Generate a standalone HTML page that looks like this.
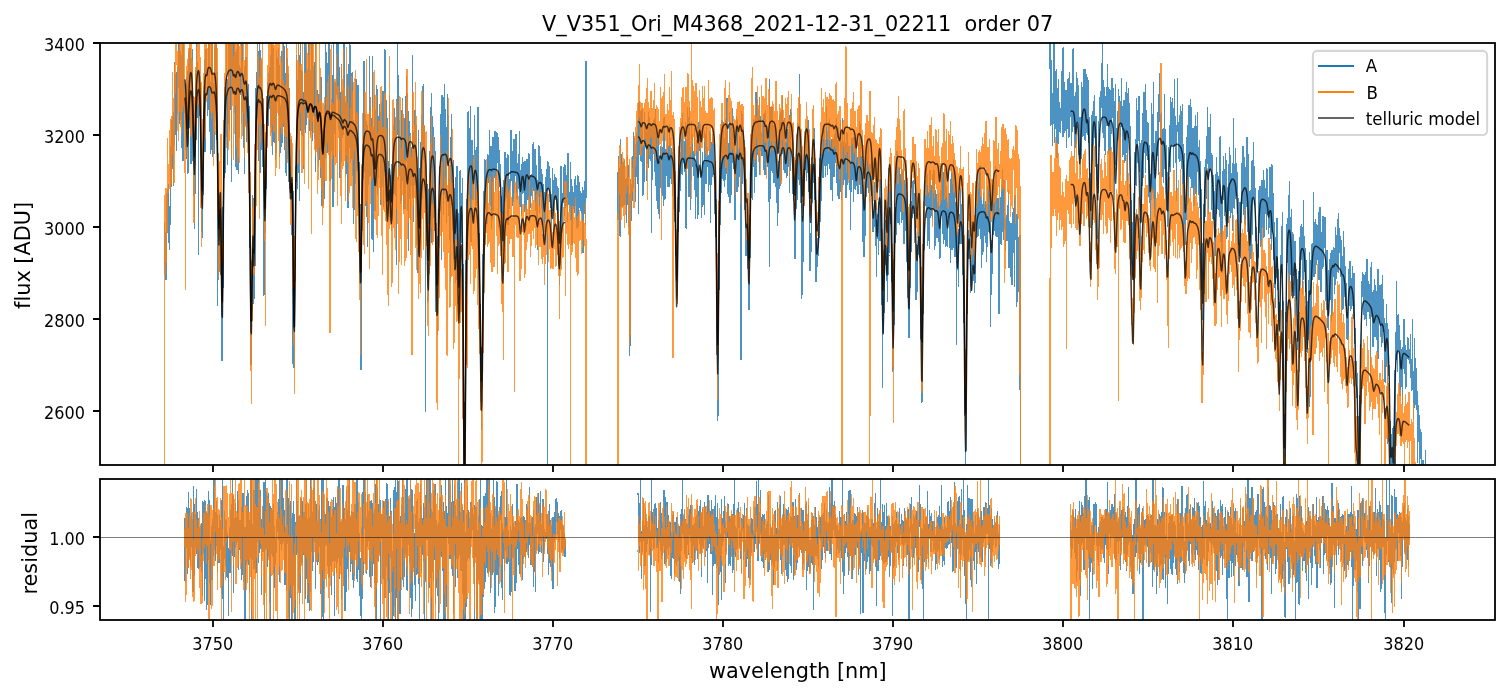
<!DOCTYPE html>
<html lang="en"><head><meta charset="utf-8"><title>V_V351_Ori_M4368_2021-12-31_02211 order 07</title>
<style>html,body{margin:0;padding:0;background:#fff}body{width:1510px;height:696px;overflow:hidden}svg{display:block}text{font-family:"DejaVu Sans","Liberation Sans",sans-serif;fill:#000;font-variant-ligatures:none;font-feature-settings:"liga" 0,"clig" 0}.t{font-size:16.67px}.l{font-size:20.83px}.A{stroke:#1f77b4}.B{stroke:#ff7f0e}.d{shape-rendering:crispEdges;fill:none;stroke-width:1.22;stroke-opacity:.8;stroke-linejoin:round}.m{fill:none;stroke:#000;stroke-width:1.45;stroke-opacity:.72;stroke-linejoin:round}.r{shape-rendering:crispEdges;fill:none;stroke-width:1.22;stroke-opacity:.8;stroke-linejoin:round}.s{fill:none;stroke:#000;stroke-width:1.8;stroke-linejoin:miter}.k{stroke:#000;stroke-width:1.8;fill:none}</style></head><body>
<svg width="1510" height="696" viewBox="0 0 1510 696">
<rect width="1510" height="696" fill="#fff"/>
<defs><clipPath id="c1"><rect x="100.0" y="43.0" width="1395.0" height="422.0"/></clipPath>
<clipPath id="c2"><rect x="100.0" y="479.0" width="1395.0" height="141.0"/></clipPath></defs>
<g clip-path="url(#c1)">
<path class="d A" d="M164.5,222.4 164.7,232.4 164.9,274.3 165.1,264.6 165.3,259.2 165.5,232.4 165.7,240.3 165.9,234.1 166.1,279.8 166.4,193.5 166.6,233.4 166.8,210.9 167,233.2 167.2,222.6 167.4,191.8 167.6,189.4 167.8,213.1 168,198.3 168.2,184.6 168.4,235.9 168.6,242 168.8,189.2 169,225.6 169.2,249.5 169.4,216.5 169.6,209.2 169.9,225.1 170.1,223.3 170.3,164.8 170.5,146.4 170.7,184.1 170.9,189.2 171.1,152.6 171.3,143.8 171.5,163.7 171.7,129.5 171.9,121 172.1,160.8 172.3,165.3 172.5,127.1 172.7,124.1 172.9,116.5 173.2,185.8 173.4,166.7 173.6,173.6 173.8,181.7 174,112.9 174.2,111.5 174.4,131.4 174.6,62.5 174.8,75.6 175,82.8 175.2,84.7 175.4,87 175.6,134.8 175.8,74.7 176,94.4 176.2,150.3 176.4,90.9 176.7,100.7 176.9,72.9 177.1,112.7 177.3,93 177.5,90.6 177.7,114.4 177.9,67.6 178.1,81.4 178.3,69.4 178.5,86.9 178.7,33 178.9,57.8 179.1,81 179.3,49.2 179.5,28.2 179.7,36.3 179.9,123.3 180.2,51.4 180.4,66.8 180.6,91.3 180.8,105 181,55.3 181.2,123.2 181.4,63.2 181.6,64.5 181.8,147.3 182,114.5 182.2,134.1 182.4,79 182.6,35.8 182.8,49.7 183,160.7 183.2,111.4 183.4,67.4 183.7,41.4 183.9,81.7 184.1,111.7 184.3,85.5 184.5,96.5 184.7,107.4 184.9,112.3 185.1,84.6 185.3,89 185.5,106.7 185.7,119.9 185.9,149.1 186.1,115.3 186.3,77.7 186.5,131.8 186.7,158.3 186.9,83.1 187.2,97.2 187.4,71.5 187.6,139.4 187.8,160.2 188,173.2 188.2,72.1 188.4,51.5 188.6,150.2 188.8,126.1 189,90.9 189.2,127.1 189.4,102.8 189.6,98.3 189.8,72.7 190,48.5 190.2,81.8 190.5,63.9 190.7,92.3 190.9,94.7 191.1,163.8 191.3,128.3 191.5,70.1 191.7,96.8 191.9,58.6 192.1,68.2 192.3,49.6 192.5,77.6 192.7,79.1 192.9,129 193.1,160.5 193.3,172.2 193.5,175.6 193.7,195.5 194,178 194.2,173.6 194.4,165.2 194.6,201.6 194.8,228.6 195,164.4 195.2,141.1 195.4,110 195.6,122.4 195.8,157.2 196,123.7 196.2,46.5 196.4,68.8 196.6,28.7 196.8,34.5 197,117.4 197.2,78.3 197.5,72 197.7,62.3 197.9,69.9 198.1,79.5 198.3,254.4 198.5,139.3 198.7,101.2 198.9,114.6 199.1,98.4 199.3,115.3 199.5,85.2 199.7,89.5 199.9,105.9 200.1,109.5 200.3,128.1 200.5,152.8 200.7,149.3 201,158.1 201.2,150.3 201.4,169.6 201.6,180.7 201.8,231.3 202,179 202.2,237.1 202.4,229.9 202.6,211 202.8,208.8 203,177.4 203.2,194 203.4,194.8 203.6,154.9 203.8,86.1 204,124 204.3,147.1 204.5,122.8 204.7,143.8 204.9,60.6 205.1,151.8 205.3,90.5 205.5,102.3 205.7,148.2 205.9,71.3 206.1,49.1 206.3,70 206.5,68.4 206.7,53.7 206.9,76.7 207.1,75.2 207.3,89.8 207.5,80 207.8,115 208,70.6 208.2,109.7 208.4,109.8 208.6,49.4 208.8,23 209,42.2 209.2,81.1 209.4,42.5 209.6,82.7 209.8,78.1 210,93.7 210.2,153.9 210.4,82.3 210.6,117.4 210.8,123.4 211,149.3 211.3,144.1 211.5,114.4 211.7,53.9 211.9,36.6 212.1,83.6 212.3,51.2 212.5,115.4 212.7,156.4 212.9,87.2 213.1,86.9 213.3,112.2 213.5,83.2 213.7,93.1 213.9,141.9 214.1,153.8 214.3,109.3 214.5,110.5 214.8,99.5 215,52.1 215.2,43.4 215.4,104.6 215.6,59.6 215.8,49.3 216,54.8 216.2,65.1 216.4,105.6 216.6,67 216.8,43.2 217,105.8 217.2,160.5 217.4,305.2 217.6,134.9 217.8,191.5 218,215 218.3,188.3 218.5,278.9 218.7,238.6 218.9,260.3 219.1,271.5 219.3,199.5 219.5,229.9 219.7,250.2 219.9,193.3 220.1,234.9 220.3,274.1 220.5,234.7 220.7,207.7 220.9,217.3 221.1,247.5 221.3,268.8 221.6,281 221.8,305.3 222,360.9 222.2,319.9 222.4,306.5 222.6,297.7 222.8,317.7 223,261.2 223.2,180.6 223.4,200.5 223.6,199.5 223.8,167.6 224,178.2 224.2,150.6 224.4,165.5 224.6,147.3 224.8,175 225.1,87.5 225.3,154.6 225.5,172.4 225.7,125 225.9,119.4 226.1,109.4 226.3,136.6 226.5,49.6 226.7,23 226.9,124.2 227.1,84.2 227.3,107.7 227.5,103.6 227.7,164.1 227.9,126.8 228.1,79.1 228.3,81.1 228.6,40.7 228.8,111.3 229,61.3 229.2,23 229.4,130.9 229.6,127.3 229.8,98.4 230,84.9 230.2,62 230.4,90.6 230.6,109.6 230.8,51.4 231,23 231.2,62.8 231.4,181.9 231.6,94.4 231.8,106 232.1,65.4 232.3,80.8 232.5,23 232.7,52.5 232.9,61.8 233.1,87 233.3,94.6 233.5,67 233.7,35.8 233.9,69.1 234.1,88.1 234.3,31.5 234.5,70.7 234.7,83.4 234.9,113 235.1,111.6 235.4,129.1 235.6,166 235.8,52.2 236,71.1 236.2,86.3 236.4,49.4 236.6,65.9 236.8,94.1 237,169.8 237.2,86.9 237.4,54.6 237.6,23 237.8,23 238,57.2 238.2,152 238.4,173.8 238.6,84.1 238.9,93.8 239.1,65.8 239.3,97.7 239.5,99.9 239.7,137.8 239.9,67.9 240.1,94.7 240.3,71.3 240.5,75.1 240.7,93.9 240.9,77.8 241.1,94.1 241.3,73 241.5,87.5 241.7,123.7 241.9,101 242.1,39.2 242.4,89.6 242.6,49.3 242.8,81 243,111.4 243.2,106.2 243.4,81.8 243.6,79.6 243.8,89.7 244,147.6 244.2,121 244.4,88.7 244.6,67 244.8,173.9 245,82 245.2,106.8 245.4,83.3 245.6,107.6 245.9,80.9 246.1,57.2 246.3,96.2 246.5,97.8 246.7,108.7 246.9,141.7 247.1,107.3 247.3,131 247.5,142.1 247.7,124.9 247.9,120.6 248.1,98.5 248.3,129.9 248.5,130.2 248.7,84.2 248.9,105.9 249.1,116.7 249.4,165.4 249.6,209.7 249.8,236.7 250,247.9 250.2,236 250.4,298.1 250.6,349.7 250.8,329.7 251,364.7 251.2,330.3 251.4,364.2 251.6,346.9 251.8,290.9 252,294.2 252.2,310 252.4,222.7 252.7,195.2 252.9,280.1 253.1,198.5 253.3,276 253.5,277.1 253.7,285.1 253.9,303.6 254.1,234.8 254.3,260.7 254.5,281.2 254.7,262.1 254.9,271.5 255.1,203.1 255.3,158.1 255.5,214.8 255.7,152.4 255.9,117.3 256.2,79.2 256.4,72.7 256.6,132.2 256.8,132.6 257,97.1 257.2,118.7 257.4,103.6 257.6,48.1 257.8,42.3 258,89.4 258.2,93.3 258.4,91.6 258.6,160.4 258.8,103.8 259,112.9 259.2,23 259.4,74 259.7,97.8 259.9,124 260.1,172.7 260.3,57.8 260.5,50.2 260.7,122.8 260.9,80 261.1,95 261.3,149.3 261.5,63.4 261.7,60.8 261.9,99.5 262.1,103.8 262.3,92.4 262.5,165.9 262.7,105.2 262.9,99.4 263.2,164.1 263.4,111.3 263.6,179.3 263.8,231.1 264,295.2 264.2,211.2 264.4,198.5 264.6,236.3 264.8,184.1 265,232.8 265.2,203 265.4,226.3 265.6,207.1 265.8,148.5 266,171.8 266.2,188.4 266.5,183.3 266.7,96.5 266.9,103.4 267.1,119.7 267.3,105.9 267.5,145.4 267.7,139 267.9,121.8 268.1,82.3 268.3,100.9 268.5,125 268.7,75 268.9,73.6 269.1,85.5 269.3,67.9 269.5,108.8 269.7,102.4 270,81.4 270.2,92.7 270.4,83.4 270.6,127.5 270.8,55.7 271,122.9 271.2,106.6 271.4,132.3 271.6,61.8 271.8,40.8 272,48.3 272.2,76.3 272.4,154 272.6,124.6 272.8,118.3 273,107.3 273.2,48.8 273.5,92.4 273.7,95.2 273.9,93.2 274.1,142.1 274.3,141.7 274.5,140.9 274.7,97.2 274.9,100.8 275.1,87.2 275.3,89 275.5,159.1 275.7,123.3 275.9,111.2 276.1,152.6 276.3,105.8 276.5,50.9 276.7,50.3 277,62.8 277.2,96.8 277.4,92 277.6,59 277.8,101.7 278,75.4 278.2,48.6 278.4,106.4 278.6,114.5 278.8,86.9 279,65.8 279.2,78.1 279.4,80.8 279.6,90 279.8,156.4 280,125.7 280.2,105.3 280.5,144.9 280.7,152.1 280.9,147.5 281.1,130.8 281.3,113.4 281.5,129.1 281.7,79.2 281.9,51.2 282.1,101.8 282.3,59.4 282.5,99.4 282.7,142.4 282.9,113.9 283.1,116.3 283.3,69.9 283.5,114.4 283.8,41.9 284,88.5 284.2,150 284.4,55.9 284.6,46.8 284.8,106.8 285,73.8 285.2,148.7 285.4,100.7 285.6,141.1 285.8,81.2 286,168.1 286.2,175.6 286.4,52.3 286.6,23 286.8,96.2 287,58.6 287.3,96.8 287.5,112.8 287.7,80.3 287.9,74.5 288.1,159 288.3,110.7 288.5,144.8 288.7,181.4 288.9,88 289.1,103.3 289.3,182.1 289.5,129.9 289.7,187.2 289.9,186.3 290.1,148.5 290.3,183.7 290.5,176.5 290.8,143.3 291,139.6 291.2,166.9 291.4,234.9 291.6,223.4 291.8,152.1 292,208.5 292.2,183.6 292.4,363.2 292.6,218.1 292.8,246.4 293,191.1 293.2,287.4 293.4,285.8 293.6,299.7 293.8,291.6 294,367.6 294.3,332.2 294.5,323.1 294.7,288 294.9,265.4 295.1,267.7 295.3,228.6 295.5,219.9 295.7,174.7 295.9,179.3 296.1,173.6 296.3,147.7 296.5,102.3 296.7,55.2 296.9,129.1 297.1,89.9 297.3,80.7 297.6,188.8 297.8,171.3 298,149 298.2,95 298.4,23 298.6,80 298.8,60.4 299,128.1 299.2,200.3 299.4,165 299.6,55.3 299.8,102.1 300,128.5 300.2,61.9 300.4,130.5 300.6,34.9 300.8,48.7 301.1,126.8 301.3,120.2 301.5,71 301.7,130 301.9,84.5 302.1,135.2 302.3,71.1 302.5,103.9 302.7,123.6 302.9,135 303.1,113.8 303.3,168.1 303.5,119.5 303.7,111.7 303.9,92.5 304.1,129.3 304.3,50.2 304.6,121 304.8,126.8 305,40 305.2,50.4 305.4,112.7 305.6,132.2 305.8,102.7 306,125.2 306.2,99.3 306.4,47.3 306.6,85.6 306.8,91.5 307,89.2 307.2,95.3 307.4,69.3 307.6,76.2 307.8,109.4 308.1,78.7 308.3,23 308.5,91.4 308.7,90.4 308.9,27.5 309.1,105.6 309.3,130.6 309.5,78 309.7,129.9 309.9,111.5 310.1,90.7 310.3,115.5 310.5,134.2 310.7,129.6 310.9,114.6 311.1,70.3 311.3,130.4 311.6,99.5 311.8,32.3 312,102.9 312.2,34.6 312.4,56.6 312.6,115.2 312.8,140.6 313,83.8 313.2,76.4 313.4,78.3 313.6,101.2 313.8,66.6 314,75.8 314.2,139 314.4,62.7 314.6,113.2 314.9,131.3 315.1,103 315.3,36.6 315.5,90.6 315.7,171.1 315.9,110 316.1,107.5 316.3,113.9 316.5,132.8 316.7,148.2 316.9,90.4 317.1,147.7 317.3,133.3 317.5,153.9 317.7,150.9 317.9,109.7 318.1,129.3 318.4,165.3 318.6,160.6 318.8,134.4 319,94.7 319.2,118.1 319.4,114.8 319.6,135.6 319.8,127.3 320,130.7 320.2,177.5 320.4,77.5 320.6,159.1 320.8,139.4 321,77.8 321.2,125.9 321.4,147.4 321.6,176.2 321.9,205.1 322.1,140.5 322.3,130.1 322.5,187.9 322.7,133.7 322.9,206.2 323.1,181.3 323.3,138.1 323.5,144.4 323.7,130.4 323.9,168.1 324.1,182.6 324.3,198.2 324.5,171.9 324.7,167.9 324.9,161.5 325.1,104.9 325.4,147.8 325.6,152.2 325.8,24.4 326,133.6 326.2,129.8 326.4,52.8 326.6,69.7 326.8,148.2 327,152.3 327.2,125 327.4,63.4 327.6,112.5 327.8,119.7 328,90.7 328.2,73.7 328.4,151.3 328.7,132.3 328.9,137.8 329.1,28.6 329.3,48.9 329.5,83.4 329.7,115.3 329.9,112.3 330.1,181.1 330.3,116.1 330.5,164.9 330.7,163 330.9,141.8 331.1,131.3 331.3,105.4 331.5,99.6 331.7,123.5 331.9,150.9 332.2,97.9 332.4,113.9 332.6,75.9 332.8,156.9 333,206.5 333.2,114 333.4,39.1 333.6,99.4 333.8,113.9 334,82.2 334.2,96 334.4,103.1 334.6,130.9 334.8,113.8 335,113.9 335.2,145.7 335.4,156.4 335.7,104.8 335.9,82.9 336.1,91 336.3,90.6 336.5,73.7 336.7,26.4 336.9,94.4 337.1,55.7 337.3,38.9 337.5,98.3 337.7,82.9 337.9,59.1 338.1,42.5 338.3,85 338.5,88.7 338.7,102.8 338.9,129.1 339.2,68 339.4,119.7 339.6,160.1 339.8,122.1 340,177.5 340.2,145.4 340.4,122.7 340.6,136.3 340.8,92.7 341,161.3 341.2,102.9 341.4,79.7 341.6,64.8 341.8,89 342,112 342.2,123.1 342.4,122 342.7,91.7 342.9,137.9 343.1,93.9 343.3,109.2 343.5,104.2 343.7,95 343.9,33.2 344.1,124.7 344.3,102.2 344.5,105.6 344.7,100.5 344.9,102.4 345.1,102.4 345.3,107.1 345.5,176.4 345.7,131.9 346,157.5 346.2,118 346.4,173.1 346.6,152.4 346.8,112.7 347,74.4 347.2,107.7 347.4,112.3 347.6,93.8 347.8,175.1 348,207.6 348.2,147.1 348.4,129.5 348.6,64.6 348.8,64.7 349,148.1 349.2,27.7 349.5,64.7 349.7,93.2 349.9,88.9 350.1,45.3 350.3,125.7 350.5,136.5 350.7,130 350.9,162.5 351.1,106.5 351.3,121.5 351.5,100.3 351.7,108.3 351.9,137.1 352.1,72.8 352.3,139 352.5,99.5 352.7,175.1 353,120.3 353.2,162.8 353.4,142.1 353.6,181.2 353.8,223.7 354,175.5 354.2,124.9 354.4,124.4 354.6,198.8 354.8,209.7 355,162.2 355.2,139.1 355.4,152.9 355.6,140.7 355.8,85.6 356,79.8 356.2,104.3 356.5,153.7 356.7,124 356.9,143.4 357.1,170.6 357.3,98.4 357.5,134.7 357.7,139.6 357.9,85.4 358.1,108.9 358.3,107 358.5,105.3 358.7,146.7 358.9,206.6 359.1,175.6 359.3,162.4 359.5,233.3 359.8,221.8 360,220 360.2,204.1 360.4,227.4 360.6,251.2 360.8,268.1 361,369.6 361.2,234.5 361.4,228.9 361.6,175.7 361.8,195.7 362,210.4 362.2,146.5 362.4,169.2 362.6,147.2 362.8,194.9 363,143.9 363.3,176.7 363.5,178.1 363.7,175.1 363.9,61.4 364.1,139.9 364.3,120.8 364.5,91.8 364.7,125 364.9,123.2 365.1,172.1 365.3,122.7 365.5,138 365.7,114.6 365.9,148.1 366.1,205.7 366.3,216 366.5,175.6 366.8,121.5 367,130.1 367.2,146.7 367.4,239.6 367.6,246.1 367.8,168.7 368,158.4 368.2,160.9 368.4,132.3 368.6,159.2 368.8,184.6 369,168.6 369.2,133 369.4,138 369.6,118.4 369.8,56.3 370,144 370.3,146 370.5,175.6 370.7,146.9 370.9,117.6 371.1,128.7 371.3,154.1 371.5,134.2 371.7,156.3 371.9,236.3 372.1,239.1 372.3,56.7 372.5,112.3 372.7,159.4 372.9,217.5 373.1,183.1 373.3,128 373.5,251.8 373.8,161.8 374,131.6 374.2,154.5 374.4,140.5 374.6,149.1 374.8,94.1 375,210.8 375.2,206.2 375.4,138.2 375.6,110.3 375.8,150.9 376,128.3 376.2,185.6 376.4,185.9 376.6,91.3 376.8,85.5 377.1,97.9 377.3,172.3 377.5,194.7 377.7,184 377.9,145 378.1,116.7 378.3,127 378.5,177.2 378.7,121 378.9,129.3 379.1,131 379.3,134.6 379.5,130.3 379.7,104.2 379.9,123.8 380.1,127.6 380.3,148.5 380.6,113 380.8,151.3 381,204.8 381.2,123.7 381.4,138.5 381.6,102.5 381.8,141 382,135.5 382.2,123.4 382.4,137.9 382.6,172.7 382.8,186.6 383,91.8 383.2,206.8 383.4,157.5 383.6,130.4 383.8,134.8 384.1,118.2 384.3,111.7 384.5,97.9 384.7,105.6 384.9,49.6 385.1,171.6 385.3,131.2 385.5,157.5 385.7,153 385.9,121.3 386.1,100.6 386.3,185.8 386.5,187.3 386.7,147.5 386.9,151.2 387.1,118.9 387.3,164.6 387.6,196.8 387.8,197.6 388,173.5 388.2,190.7 388.4,213.6 388.6,161.6 388.8,162.1 389,167.7 389.2,159.9 389.4,95.2 389.6,136.5 389.8,145 390,209.3 390.2,221.9 390.4,196.7 390.6,187.9 390.8,210.3 391.1,196.3 391.3,164.2 391.5,195.6 391.7,230.9 391.9,210.2 392.1,209.4 392.3,187 392.5,220.1 392.7,164.6 392.9,138.9 393.1,171 393.3,193.3 393.5,171.1 393.7,146.2 393.9,125.2 394.1,130.6 394.4,174.4 394.6,193.6 394.8,108.7 395,146.9 395.2,136.2 395.4,154.8 395.6,195.9 395.8,165.4 396,131.7 396.2,109.8 396.4,177.5 396.6,264.8 396.8,153.1 397,119.4 397.2,90.5 397.4,95 397.6,39.7 397.9,75.1 398.1,82.1 398.3,114.5 398.5,179.8 398.7,97.1 398.9,121.5 399.1,152.4 399.3,120.4 399.5,143.5 399.7,175.2 399.9,165.4 400.1,161.9 400.3,143.9 400.5,155.5 400.7,136.9 400.9,203.9 401.1,152.5 401.4,190.5 401.6,140.9 401.8,110.4 402,135.8 402.2,140.7 402.4,126.2 402.6,98.1 402.8,180.2 403,132.5 403.2,209.9 403.4,164.8 403.6,145 403.8,161.8 404,118.4 404.2,118.3 404.4,181.1 404.6,138 404.9,160.2 405.1,208.7 405.3,153.5 405.5,163.6 405.7,106.1 405.9,160.4 406.1,96.2 406.3,161.8 406.5,76.2 406.7,135 406.9,131.1 407.1,118 407.3,114.9 407.5,93.7 407.7,94.2 407.9,179.3 408.2,222.2 408.4,250.9 408.6,157.4 408.8,111.1 409,132.5 409.2,144.3 409.4,168.3 409.6,176 409.8,167 410,164.3 410.2,219.7 410.4,133.9 410.6,205.5 410.8,162.9 411,174.4 411.2,161.1 411.4,185.3 411.7,183.5 411.9,166.7 412.1,161.8 412.3,55.7 412.5,158.6 412.7,165.4 412.9,163.5 413.1,194.8 413.3,221.1 413.5,141.7 413.7,132.5 413.9,188.1 414.1,142.3 414.3,179.6 414.5,130.7 414.7,117 414.9,110.5 415.2,131.9 415.4,162.9 415.6,117.4 415.8,152.6 416,125 416.2,244.4 416.4,172.3 416.6,196.7 416.8,150.6 417,221.8 417.2,224.6 417.4,224.2 417.6,168.8 417.8,225.2 418,273 418.2,166.2 418.4,130.4 418.7,168 418.9,250 419.1,237.1 419.3,215.5 419.5,205.3 419.7,233.8 419.9,243.1 420.1,168.2 420.3,175.4 420.5,218.8 420.7,175.6 420.9,146.5 421.1,144.6 421.3,124.8 421.5,115.5 421.7,137.7 421.9,170.3 422.2,198.8 422.4,125 422.6,91.7 422.8,86.5 423,159.4 423.2,136.8 423.4,84.5 423.6,92 423.8,129.7 424,126.4 424.2,174 424.4,139.1 424.6,183.1 424.8,163.6 425,170.3 425.2,193.4 425.5,411.1 425.7,191.1 425.9,167.5 426.1,189.5 426.3,195.6 426.5,168.8 426.7,165.2 426.9,183.9 427.1,241.8 427.3,222.2 427.5,252.1 427.7,286.4 427.9,302.8 428.1,271.6 428.3,273.8 428.5,189.4 428.7,249.7 429,246.8 429.2,219.2 429.4,151.4 429.6,229.6 429.8,195.6 430,197.5 430.2,170.9 430.4,149.6 430.6,130.6 430.8,204.6 431,138.5 431.2,93.5 431.4,169.2 431.6,164.6 431.8,205.4 432,242.2 432.2,147.7 432.5,116.2 432.7,190.2 432.9,222.4 433.1,158.4 433.3,161.9 433.5,127.8 433.7,140.7 433.9,180.4 434.1,180.7 434.3,230.6 434.5,137.3 434.7,166.7 434.9,150.6 435.1,169.5 435.3,221.2 435.5,229.6 435.7,277.1 436,311.5 436.2,250.5 436.4,261.9 436.6,300.9 436.8,260.5 437,285.9 437.2,286.4 437.4,326.4 437.6,334.5 437.8,239.1 438,236.4 438.2,245.3 438.4,245.4 438.6,222.2 438.8,209.1 439,223.1 439.3,247.3 439.5,167 439.7,239.3 439.9,186.9 440.1,182.5 440.3,174.4 440.5,210.3 440.7,114.2 440.9,129.5 441.1,116.6 441.3,116 441.5,207.1 441.7,259.7 441.9,129.7 442.1,95 442.3,107.9 442.5,165.1 442.8,145.5 443,146.7 443.2,214.1 443.4,173.7 443.6,152.2 443.8,97.7 444,157.1 444.2,95.9 444.4,172.2 444.6,194.5 444.8,84.4 445,183.2 445.2,127.7 445.4,109.9 445.6,198.6 445.8,197.1 446,127.6 446.3,182.4 446.5,222.8 446.7,204.5 446.9,164.1 447.1,128 447.3,163.7 447.5,122.6 447.7,94.8 447.9,115.3 448.1,115.4 448.3,148.1 448.5,215.7 448.7,130.4 448.9,165.4 449.1,175.6 449.3,208.9 449.5,220.7 449.8,193.6 450,171.7 450.2,281.8 450.4,185.7 450.6,176.4 450.8,137.9 451,169.8 451.2,151.8 451.4,114.6 451.6,168.8 451.8,160.2 452,204.3 452.2,163.7 452.4,172.1 452.6,182.3 452.8,213.3 453,229.3 453.3,204.3 453.5,202.4 453.7,160.4 453.9,188.2 454.1,242.8 454.3,195.4 454.5,224 454.7,206.9 454.9,246.6 455.1,259 455.3,177.8 455.5,214.6 455.7,269.9 455.9,282.4 456.1,245.3 456.3,264.5 456.6,222.4 456.8,184.5 457,166.3 457.2,216.9 457.4,274.7 457.6,197.7 457.8,268.1 458,303.5 458.2,239.1 458.4,249.8 458.6,213.9 458.8,241.1 459,253.3 459.2,241.4 459.4,309 459.6,258.1 459.8,241.6 460.1,170.7 460.3,235.4 460.5,312.5 460.7,180.1 460.9,241.5 461.1,193.7 461.3,231 461.5,206.8 461.7,200.1 461.9,226.2 462.1,243.2 462.3,178.2 462.5,228.3 462.7,256.3 462.9,263.6 463.1,306.3 463.3,274.2 463.6,361.2 463.8,394.7 464,437.2 464.2,485 464.4,485 464.6,465.6 464.8,446.5 465,402.4 465.2,403.4 465.4,404.1 465.6,322.8 465.8,290 466,260.5 466.2,269.5 466.4,279.2 466.6,203.5 466.8,234.9 467.1,199.1 467.3,233.2 467.5,167.4 467.7,200.9 467.9,133.6 468.1,111.8 468.3,154.4 468.5,224.9 468.7,220.2 468.9,204.9 469.1,151.4 469.3,155.2 469.5,157.5 469.7,148.7 469.9,138.5 470.1,130.2 470.4,106.5 470.6,161.4 470.8,172.3 471,241.7 471.2,215.9 471.4,200.7 471.6,198.7 471.8,149.1 472,140.5 472.2,191.7 472.4,192.6 472.6,192.1 472.8,179.8 473,199.4 473.2,165.3 473.4,164.7 473.6,163.3 473.9,155.1 474.1,177.4 474.3,158.3 474.5,116.1 474.7,170.7 474.9,149.9 475.1,177.8 475.3,195.1 475.5,198.9 475.7,205.3 475.9,189.2 476.1,205.5 476.3,190.5 476.5,147.4 476.7,183.8 476.9,155.7 477.1,180.5 477.4,173.1 477.6,211 477.8,164.7 478,107.6 478.2,163.3 478.4,166.6 478.6,189.9 478.8,196.8 479,267.7 479.2,267.3 479.4,239.9 479.6,251.1 479.8,300 480,308.6 480.2,333.7 480.4,349.5 480.6,393.6 480.9,402 481.1,385.7 481.3,429 481.5,411 481.7,399.9 481.9,390.6 482.1,347.5 482.3,350.9 482.5,330.8 482.7,333 482.9,305.9 483.1,254.3 483.3,251.9 483.5,256.5 483.7,221 483.9,213.9 484.1,194 484.4,159.3 484.6,203 484.8,175.5 485,177.5 485.2,200.4 485.4,208.5 485.6,160.2 485.8,166.1 486,172 486.2,172.1 486.4,177.5 486.6,193 486.8,179.4 487,223.4 487.2,190.9 487.4,215.3 487.7,176.2 487.9,155 488.1,181.7 488.3,178.3 488.5,156 488.7,177.2 488.9,182.4 489.1,174.4 489.3,130.6 489.5,148.2 489.7,170.8 489.9,203.1 490.1,166.1 490.3,205.2 490.5,169.7 490.7,191.3 490.9,146.4 491.2,215.5 491.4,146.3 491.6,175.7 491.8,228.5 492,179.4 492.2,137.8 492.4,161.1 492.6,219 492.8,196.3 493,210.3 493.2,206.1 493.4,186.5 493.6,137.4 493.8,174.6 494,178.1 494.2,172.7 494.4,145.4 494.7,151.3 494.9,171 495.1,131.3 495.3,189.1 495.5,170.8 495.7,148.8 495.9,137.3 496.1,179.3 496.3,156.3 496.5,137.4 496.7,146.1 496.9,132.7 497.1,139.3 497.3,155.5 497.5,150.1 497.7,150.1 497.9,162.9 498.2,151.5 498.4,226.3 498.6,189.4 498.8,137.6 499,162.9 499.2,184 499.4,159 499.6,152.3 499.8,186.3 500,164.7 500.2,187.9 500.4,189.3 500.6,185.8 500.8,175.1 501,221.9 501.2,204.7 501.5,196.7 501.7,246.8 501.9,250.4 502.1,215.1 502.3,236.8 502.5,241.3 502.7,245 502.9,250.7 503.1,187.4 503.3,260.2 503.5,246.8 503.7,256.3 503.9,222.3 504.1,180 504.3,199.3 504.5,189.7 504.7,195.8 505,152.7 505.2,186.2 505.4,201.8 505.6,162.6 505.8,181.4 506,158.2 506.2,165.2 506.4,165 506.6,174.9 506.8,197.3 507,197.6 507.2,154.8 507.4,179.1 507.6,175.2 507.8,195.8 508,224.7 508.2,197.7 508.5,155.2 508.7,196.1 508.9,191.8 509.1,208.2 509.3,189.3 509.5,188.4 509.7,180.9 509.9,179.3 510.1,185.6 510.3,180.2 510.5,171.7 510.7,164.8 510.9,159.3 511.1,130.1 511.3,162.8 511.5,170.5 511.7,180.2 512,151.7 512.2,196.5 512.4,205.8 512.6,189.4 512.8,166 513,187.9 513.2,146.6 513.4,180.2 513.6,201.9 513.8,167.2 514,139 514.2,192.2 514.4,190.9 514.6,151.7 514.8,139.5 515,154.1 515.2,175.7 515.5,164.2 515.7,159.6 515.9,139.8 516.1,134 516.3,173.5 516.5,153.7 516.7,179.8 516.9,172.3 517.1,199.2 517.3,189.7 517.5,175.3 517.7,189.4 517.9,164 518.1,188.2 518.3,175.7 518.5,180 518.8,185.3 519,171.7 519.2,146 519.4,131.6 519.6,206.8 519.8,184.9 520,199 520.2,204.3 520.4,188.9 520.6,206.5 520.8,183.8 521,170.3 521.2,215.6 521.4,171 521.6,175.4 521.8,193.3 522,164.5 522.3,166.5 522.5,172.9 522.7,157.5 522.9,193.3 523.1,162 523.3,180.7 523.5,192 523.7,182.9 523.9,183.3 524.1,174.4 524.3,211.6 524.5,189.9 524.7,183.1 524.9,161.4 525.1,194.6 525.3,166.8 525.5,209.3 525.8,173.5 526,181.6 526.2,179.6 526.4,202.9 526.6,225.6 526.8,205.2 527,158.9 527.2,183.8 527.4,194.8 527.6,171.1 527.8,198 528,199.2 528.2,199.3 528.4,154.3 528.6,153.7 528.8,198.1 529,172.5 529.3,156.1 529.5,154.9 529.7,222.9 529.9,176 530.1,176.9 530.3,207.1 530.5,175.8 530.7,176.8 530.9,175.4 531.1,191.9 531.3,177.1 531.5,192 531.7,174.7 531.9,184.9 532.1,196.1 532.3,198 532.6,144.1 532.8,152.9 533,161.5 533.2,185.3 533.4,172.5 533.6,142.2 533.8,165.1 534,190.3 534.2,175.6 534.4,174.2 534.6,183 534.8,184.4 535,149.6 535.2,167 535.4,189.3 535.6,210.1 535.8,190.3 536.1,177.4 536.3,169.6 536.5,186.5 536.7,165.7 536.9,189.1 537.1,215.9 537.3,249.7 537.5,224.4 537.7,223.7 537.9,198.2 538.1,181 538.3,165.6 538.5,191.7 538.7,193 538.9,145.6 539.1,183.1 539.3,194.6 539.6,202.1 539.8,212.5 540,181.7 540.2,179.4 540.4,156.7 540.6,166.2 540.8,168.7 541,169.7 541.2,194.3 541.4,191.8 541.6,193.7 541.8,208.1 542,190 542.2,188.5 542.4,174.3 542.6,198 542.8,224.5 543.1,188.9 543.3,184.7 543.5,238.5 543.7,218.6 543.9,213.2 544.1,231.8 544.3,218.4 544.5,213.1 544.7,224.9 544.9,192.8 545.1,196.4 545.3,218.4 545.5,191.5 545.7,177.6 545.9,190.8 546.1,181.8 546.3,182.3 546.6,189.5 546.8,169.4 547,181.2 547.2,196.4 547.4,485 547.6,161.8 547.8,167.9 548,189.1 548.2,169.1 548.4,163.6 548.6,177.1 548.8,162.4 549,169.5 549.2,188.8 549.4,183.6 549.6,195.6 549.9,177.7 550.1,202 550.3,207.8 550.5,199.4 550.7,200.3 550.9,194.1 551.1,200 551.3,226.9 551.5,218.7 551.7,204.9 551.9,207.2 552.1,203.5 552.3,168.1 552.5,197.7 552.7,210.8 552.9,192.4 553.1,182 553.4,206 553.6,233.4 553.8,203.4 554,192.6 554.2,174.4 554.4,225.4 554.6,181.6 554.8,201.3 555,185.3 555.2,199.9 555.4,189.2 555.6,177.3 555.8,189.5 556,178.4 556.2,197.1 556.4,203.7 556.6,205.4 556.9,209.8 557.1,199 557.3,186.1 557.5,229.6 557.7,235.5 557.9,207.7 558.1,188.2 558.3,202.9 558.5,204.2 558.7,219.2 558.9,252 559.1,250.3 559.3,284.4 559.5,245.7 559.7,231.5 559.9,263.7 560.1,265 560.4,240.7 560.6,210.6 560.8,187.8 561,166.5 561.2,194 561.4,241.1 561.6,242.2 561.8,198.1 562,194.3 562.2,232.7 562.4,215.5 562.6,210.8 562.8,204.6 563,201.4 563.2,189 563.4,182 563.7,191.9 563.9,176.4 564.1,166.7 564.3,215.2 564.5,210 564.7,179.2 564.9,164.9 565.1,190.8 565.3,182.5 565.5,202.8 565.7,187.8 565.9,207.4 566.1,188.3 566.3,194 566.5,189.1 566.7,175.2 566.9,186 567.2,205.6 567.4,191.3 567.6,221.8 567.8,171.3 568,153.4 568.2,185.2 568.4,188.2 568.6,192.5 568.8,188.2 569,204.4 569.2,192.9 569.4,204.4 569.6,206.6 569.8,196.5 570,206 570.2,215.5 570.4,162.4 570.7,197.9 570.9,219.1 571.1,179.7 571.3,196.3 571.5,191.8 571.7,190.2 571.9,224.6 572.1,245 572.3,199.4 572.5,191.7 572.7,186.3 572.9,209.3 573.1,200.5 573.3,192.6 573.5,203 573.7,203 573.9,198 574.2,206.7 574.4,179.8 574.6,212.1 574.8,197.7 575,205.5 575.2,205.8 575.4,187.6 575.6,180.7 575.8,176.5 576,195.8 576.2,207.4 576.4,200.7 576.6,227.4 576.8,203.3 577,195.9 577.2,201.9 577.4,228.8 577.7,221.4 577.9,176 578.1,214 578.3,226.6 578.5,216 578.7,193.3 578.9,182.2 579.1,194.8 579.3,184.8 579.5,196.4 579.7,192.6 579.9,190.6 580.1,208.3 580.3,198.3 580.5,210.6 580.7,206.6 581,194.1 581.2,214 581.4,202.5 581.6,213.6 581.8,204.4 582,205.1 582.2,187.2 582.4,203.8 582.6,197.9 582.8,194.5 583,252.3 583.2,231.9 583.4,247.4 583.6,204 583.8,193.3 584,190.8 584.2,199.7 584.5,211.5 584.7,181.5 584.9,202.2 585.1,213.3 585.3,224.3 585.5,204.6 585.7,215.7 585.9,209.1 586.1,61.4"/>
<path class="d A" d="M617.9,171.9 618.1,219.9 618.3,156.2 618.5,192.7 618.7,207.5 618.9,208.1 619.1,203.9 619.3,186.2 619.5,168.5 619.7,176.6 619.9,190.9 620.1,236.2 620.3,218.2 620.5,156.5 620.7,161.4 620.8,139.5 621,169.9 621.2,201.5 621.4,155.5 621.6,170.8 621.8,190.4 622,206.7 622.2,189.7 622.4,187 622.6,167.3 622.8,181.8 623,162.2 623.2,198.9 623.4,172.4 623.6,177.8 623.8,205.1 624,204.6 624.2,160.5 624.4,171.9 624.6,189 624.8,183.2 625,204.4 625.2,191.7 625.4,202.7 625.6,183 625.8,179.7 626,195.5 626.2,178.8 626.4,212.3 626.5,203.4 626.7,222.5 626.9,193.4 627.1,187.5 627.3,194.9 627.5,189.2 627.7,155.8 627.9,165 628.1,205.3 628.3,170.9 628.5,226.8 628.7,203.9 628.9,193.9 629.1,194.4 629.3,219.9 629.5,208 629.7,197.3 629.9,355.8 630.1,207.8 630.3,179.4 630.5,180.4 630.7,199.1 630.9,199.8 631.1,202.1 631.3,213.2 631.5,217.5 631.7,220.6 631.9,184.6 632.1,201 632.2,197.1 632.4,187 632.6,168.7 632.8,156.8 633,188.1 633.2,183.3 633.4,170.1 633.6,179.1 633.8,133 634,143.4 634.2,155.9 634.4,165.6 634.6,149.3 634.8,145 635,161.5 635.2,185.6 635.4,201 635.6,144.2 635.8,170.6 636,170.2 636.2,133.3 636.4,148.7 636.6,176.9 636.8,147.6 637,144.1 637.2,131.8 637.4,182.7 637.6,150.3 637.7,138.1 637.9,120.4 638.1,180.9 638.3,213.3 638.5,170.2 638.7,131.8 638.9,113.6 639.1,101.9 639.3,134.1 639.5,153.9 639.7,118.7 639.9,135 640.1,138.3 640.3,128.3 640.5,111.6 640.7,160.2 640.9,154.1 641.1,137.5 641.3,145.9 641.5,161.7 641.7,158 641.9,129.4 642.1,109.5 642.3,124.1 642.5,121.9 642.7,129.1 642.9,195.7 643.1,181.9 643.3,163.8 643.4,175.1 643.6,164.6 643.8,146 644,168 644.2,157.4 644.4,181.9 644.6,147 644.8,112.4 645,146.9 645.2,128.3 645.4,126.4 645.6,145.1 645.8,127.7 646,133.9 646.2,131.4 646.4,164.2 646.6,180.3 646.8,170.6 647,158.1 647.2,136.8 647.4,157.3 647.6,152.1 647.8,142.7 648,124.1 648.2,145.2 648.4,113 648.6,167.9 648.8,144.9 649,117.4 649.1,131.6 649.3,158.4 649.5,148.8 649.7,154.6 649.9,125.7 650.1,135.9 650.3,160.1 650.5,139.8 650.7,152.8 650.9,145.1 651.1,148.4 651.3,155.1 651.5,232.3 651.7,131.9 651.9,131.2 652.1,123.8 652.3,160.8 652.5,179.4 652.7,152.6 652.9,136.9 653.1,135.1 653.3,120.4 653.5,122.3 653.7,141.8 653.9,144.3 654.1,154.4 654.3,118.7 654.5,154.8 654.7,171.9 654.8,170.5 655,145.5 655.2,109.2 655.4,138.7 655.6,185.7 655.8,152.3 656,144.2 656.2,136.9 656.4,149.7 656.6,166.7 656.8,153.3 657,185.9 657.2,208.9 657.4,177.7 657.6,166.9 657.8,132.5 658,143.2 658.2,182.2 658.4,158.5 658.6,174.5 658.8,208.7 659,214.1 659.2,170.7 659.4,168.6 659.6,190.4 659.8,218.6 660,161.1 660.2,177.1 660.4,177.8 660.5,168.8 660.7,175.1 660.9,146.6 661.1,161.5 661.3,171 661.5,154.7 661.7,169.1 661.9,192.4 662.1,164.3 662.3,175.6 662.5,195.4 662.7,168.5 662.9,148 663.1,162.6 663.3,119.3 663.5,205.7 663.7,160.2 663.9,134.6 664.1,117.7 664.3,173.8 664.5,182.5 664.7,176.7 664.9,199.5 665.1,193.3 665.3,163.1 665.5,168.8 665.7,150.1 665.9,149.3 666.1,175.3 666.2,163.1 666.4,165.1 666.6,174.7 666.8,173.5 667,151 667.2,160.3 667.4,145.4 667.6,129.6 667.8,140.7 668,186.7 668.2,178 668.4,167.9 668.6,156.8 668.8,146.8 669,186.8 669.2,169.8 669.4,149.6 669.6,124.8 669.8,132.3 670,178.4 670.2,167.3 670.4,168.7 670.6,138.1 670.8,151.6 671,175.1 671.2,175.3 671.4,151.7 671.6,148.1 671.7,183.1 671.9,169.8 672.1,157.4 672.3,155 672.5,153 672.7,175.3 672.9,171.5 673.1,196 673.3,150.7 673.5,149.3 673.7,208.4 673.9,178 674.1,154.4 674.3,193.3 674.5,217.4 674.7,176.2 674.9,221.7 675.1,183.6 675.3,230.9 675.5,245.8 675.7,243.8 675.9,255.1 676.1,252.1 676.3,271.8 676.5,288.3 676.7,274.5 676.9,292.4 677.1,295.5 677.3,288.8 677.4,282.3 677.6,264.7 677.8,237 678,226 678.2,212.3 678.4,192.4 678.6,206 678.8,183.5 679,179.6 679.2,211.6 679.4,179 679.6,150.2 679.8,184.9 680,152.5 680.2,189.8 680.4,163.6 680.6,190.5 680.8,177.7 681,170.7 681.2,167.9 681.4,134.8 681.6,131.7 681.8,133.7 682,140 682.2,113.1 682.4,132.8 682.6,156.9 682.8,174.9 683,142.5 683.1,145.6 683.3,156.3 683.5,142 683.7,147.4 683.9,162.4 684.1,141.4 684.3,150.2 684.5,155.8 684.7,167.9 684.9,171.3 685.1,148.8 685.3,122.4 685.5,123.7 685.7,179.4 685.9,186.6 686.1,228.1 686.3,184 686.5,171.3 686.7,154 686.9,170.6 687.1,139.4 687.3,137 687.5,113.5 687.7,108 687.9,122.7 688.1,117.1 688.3,169.9 688.5,150 688.7,148.2 688.8,145.7 689,196.9 689.2,152.2 689.4,107.6 689.6,126.6 689.8,147.4 690,147.5 690.2,186.9 690.4,209.2 690.6,159.8 690.8,153.8 691,157.2 691.2,180.9 691.4,162.5 691.6,121.7 691.8,142.6 692,149.7 692.2,161.4 692.4,139.1 692.6,134.9 692.8,146.5 693,166.6 693.2,155.3 693.4,175 693.6,159.6 693.8,151.3 694,171.7 694.2,158.2 694.4,128.6 694.5,162 694.7,153.6 694.9,179.5 695.1,189.8 695.3,167.4 695.5,188.6 695.7,218.8 695.9,198.3 696.1,167.8 696.3,140.9 696.5,180.4 696.7,164.2 696.9,149.6 697.1,162.3 697.3,165.5 697.5,126.2 697.7,157.6 697.9,219 698.1,154.7 698.3,168 698.5,165.5 698.7,177.6 698.9,150.7 699.1,121.9 699.3,126 699.5,124.4 699.7,136.1 699.9,134 700.1,145 700.2,177.4 700.4,125 700.6,168.3 700.8,170.2 701,172.9 701.2,175.8 701.4,217.6 701.6,171.3 701.8,193.6 702,189.3 702.2,206.7 702.4,191 702.6,152.2 702.8,168.6 703,162.8 703.2,172 703.4,192.6 703.6,185.5 703.8,193.9 704,186.8 704.2,214.9 704.4,171.3 704.6,142 704.8,131.9 705,135.5 705.2,154.1 705.4,173.2 705.6,139.4 705.7,146.9 705.9,160.7 706.1,184 706.3,145.6 706.5,127.2 706.7,146.4 706.9,162.2 707.1,149.8 707.3,158.4 707.5,153.5 707.7,147.2 707.9,160.9 708.1,166.5 708.3,166.5 708.5,191.3 708.7,185 708.9,155.8 709.1,164.9 709.3,152.3 709.5,183.9 709.7,131.5 709.9,152.3 710.1,136.5 710.3,222.2 710.5,192.7 710.7,133.6 710.9,159.9 711.1,154.2 711.3,155.7 711.4,158.9 711.6,158.3 711.8,184.4 712,158.4 712.2,134.5 712.4,162.9 712.6,176.9 712.8,156.3 713,146.9 713.2,174.3 713.4,174.3 713.6,155.8 713.8,144.8 714,138.5 714.2,172.7 714.4,159.2 714.6,162.3 714.8,213.4 715,177.6 715.2,179 715.4,205 715.6,220.5 715.8,199.3 716,209.7 716.2,252.8 716.4,279.2 716.6,287.9 716.8,276.3 717,305.5 717.1,351.8 717.3,386 717.5,396.1 717.7,377.3 717.9,420.9 718.1,351.2 718.3,358.7 718.5,316.2 718.7,292.7 718.9,296.4 719.1,210.2 719.3,226 719.5,220 719.7,238.8 719.9,210.9 720.1,167.7 720.3,180.9 720.5,224.8 720.7,150.9 720.9,155.7 721.1,164.8 721.3,192.5 721.5,162.1 721.7,176 721.9,143.8 722.1,120 722.3,141.3 722.5,140.5 722.7,171.5 722.8,178.1 723,146.8 723.2,123 723.4,122.4 723.6,154.6 723.8,151.6 724,171.2 724.2,186.5 724.4,144.2 724.6,139 724.8,154.8 725,157.2 725.2,179.2 725.4,135.4 725.6,119.2 725.8,149 726,140.7 726.2,150.7 726.4,173.1 726.6,163.4 726.8,164.7 727,98.5 727.2,161.9 727.4,193.6 727.6,187.7 727.8,134.6 728,152.7 728.2,164.5 728.4,196 728.5,181.8 728.7,181.5 728.9,143.3 729.1,158.5 729.3,112.6 729.5,150.7 729.7,158.3 729.9,138.2 730.1,202.8 730.3,170.1 730.5,152.1 730.7,121.2 730.9,126.6 731.1,155 731.3,194.2 731.5,170.1 731.7,170.5 731.9,125.3 732.1,155.3 732.3,122.8 732.5,108.4 732.7,147.4 732.9,141.6 733.1,163.2 733.3,158.3 733.5,160 733.7,163.8 733.9,168.4 734.1,169.1 734.2,135.2 734.4,183.6 734.6,172.1 734.8,195.5 735,219.6 735.2,153.8 735.4,175.7 735.6,198.3 735.8,187.7 736,191.8 736.2,142.1 736.4,116.4 736.6,136.6 736.8,188.8 737,191.6 737.2,138.3 737.4,119.8 737.6,153.1 737.8,143.8 738,186.7 738.2,161.2 738.4,152.3 738.6,169.3 738.8,165.5 739,149.8 739.2,176.7 739.4,173.6 739.6,136.3 739.7,150.8 739.9,168.7 740.1,140.7 740.3,157 740.5,137.5 740.7,154.2 740.9,163 741.1,359.9 741.3,151.3 741.5,147.5 741.7,111.7 741.9,159.3 742.1,168.5 742.3,115 742.5,183.6 742.7,118 742.9,158.1 743.1,127.1 743.3,153.9 743.5,144.6 743.7,160.9 743.9,160.8 744.1,158.9 744.3,183 744.5,168.7 744.7,209.1 744.9,205.2 745.1,205.6 745.3,201.5 745.4,193.6 745.6,240.4 745.8,251.6 746,255.9 746.2,240 746.4,225.7 746.6,243.4 746.8,231.9 747,232.7 747.2,229.3 747.4,258.2 747.6,210.2 747.8,222.3 748,267.4 748.2,270 748.4,288.2 748.6,257.8 748.8,260.5 749,309.8 749.2,295.9 749.4,299.9 749.6,280.1 749.8,280.1 750,240.8 750.2,220.9 750.4,194.7 750.6,193.2 750.8,190.7 751,153.6 751.1,156.5 751.3,154.7 751.5,197.1 751.7,187.5 751.9,178.7 752.1,182.5 752.3,199.7 752.5,134.6 752.7,158.2 752.9,129.1 753.1,125.7 753.3,119.3 753.5,140 753.7,148.8 753.9,166.4 754.1,139.6 754.3,124.1 754.5,192.6 754.7,159 754.9,129.6 755.1,119.7 755.3,176.8 755.5,159.5 755.7,133.1 755.9,92.4 756.1,176.9 756.3,157.4 756.5,141.8 756.7,161.9 756.8,138.7 757,138.1 757.2,147.2 757.4,121.2 757.6,99.5 757.8,139.7 758,152.8 758.2,156.4 758.4,134.6 758.6,125 758.8,146.5 759,131 759.2,97.8 759.4,174.9 759.6,169.8 759.8,144.8 760,150.2 760.2,127.8 760.4,116.6 760.6,139.8 760.8,148.5 761,132.9 761.2,135.4 761.4,150.4 761.6,155.3 761.8,132.2 762,153 762.2,155.9 762.4,121.6 762.5,145.6 762.7,137.7 762.9,120.8 763.1,149.4 763.3,140.3 763.5,164.1 763.7,169.1 763.9,126.3 764.1,113.9 764.3,154.8 764.5,113.8 764.7,114.9 764.9,120.4 765.1,174.5 765.3,149.6 765.5,110.3 765.7,147.7 765.9,140.9 766.1,126.6 766.3,136.4 766.5,161.5 766.7,153.1 766.9,136.8 767.1,151.2 767.3,166.7 767.5,127.9 767.7,141.8 767.9,162.5 768.1,163 768.2,146.5 768.4,201 768.6,147.5 768.8,162.6 769,155.8 769.2,125.1 769.4,119 769.6,79.5 769.8,266.1 770,140.5 770.2,161.5 770.4,120.7 770.6,153.4 770.8,127.7 771,106.9 771.2,110.8 771.4,120.8 771.6,115.4 771.8,155.8 772,168.4 772.2,172.9 772.4,121.1 772.6,108 772.8,156.3 773,152.1 773.2,151.5 773.4,144.7 773.6,182 773.7,126.2 773.9,125.7 774.1,164.2 774.3,171.4 774.5,165.7 774.7,134.2 774.9,126.8 775.1,182.2 775.3,186.3 775.5,149.2 775.7,143.7 775.9,141.3 776.1,168.1 776.3,139.5 776.5,149.7 776.7,202.9 776.9,174.2 777.1,159.4 777.3,167.6 777.5,202.7 777.7,225.9 777.9,205 778.1,212.5 778.3,187.3 778.5,161.3 778.7,190.4 778.9,178.1 779.1,188.2 779.3,145.8 779.4,179.6 779.6,170.9 779.8,115.7 780,142.8 780.2,146.8 780.4,185.4 780.6,112.4 780.8,118.5 781,158.1 781.2,160.6 781.4,156.6 781.6,135.6 781.8,180.7 782,129.8 782.2,100.1 782.4,126 782.6,96.5 782.8,137.6 783,138.8 783.2,121 783.4,139.1 783.6,139.7 783.8,153.1 784,170 784.2,148 784.4,123.9 784.6,118.3 784.8,143.4 785,144.8 785.1,172.8 785.3,157.1 785.5,160.3 785.7,159.9 785.9,157.7 786.1,144 786.3,130.1 786.5,139.1 786.7,148.4 786.9,177.1 787.1,163.1 787.3,143.9 787.5,140.9 787.7,129.6 787.9,169.8 788.1,132 788.3,139.3 788.5,151 788.7,156.8 788.9,136.8 789.1,146.7 789.3,148.3 789.5,192.7 789.7,157.7 789.9,115.5 790.1,147.4 790.3,167.9 790.5,164 790.7,170.2 790.8,109.8 791,113.6 791.2,120.4 791.4,116.9 791.6,130.4 791.8,117.4 792,130.6 792.2,128.3 792.4,157.5 792.6,165.7 792.8,179.4 793,184.4 793.2,200.2 793.4,142.6 793.6,150.7 793.8,172.9 794,177.6 794.2,198.6 794.4,210.1 794.6,241.4 794.8,228.3 795,258.3 795.2,227.6 795.4,215.5 795.6,214.8 795.8,211.7 796,163.9 796.2,169.8 796.4,199 796.5,208.1 796.7,181.1 796.9,159.4 797.1,199.9 797.3,138.8 797.5,159.1 797.7,154.8 797.9,124 798.1,151.5 798.3,154.6 798.5,136.7 798.7,179 798.9,124.1 799.1,175.3 799.3,165.8 799.5,100.9 799.7,74.6 799.9,129.8 800.1,182.7 800.3,202.8 800.5,157.3 800.7,168.9 800.9,183.3 801.1,178.7 801.3,189.4 801.5,173.2 801.7,195.7 801.9,298.1 802.1,249 802.2,216.4 802.4,247.5 802.6,282.2 802.8,232.4 803,261.6 803.2,223.7 803.4,232.6 803.6,189.9 803.8,183.5 804,173.4 804.2,195.9 804.4,177.4 804.6,204.2 804.8,164 805,169.3 805.2,155.7 805.4,155.1 805.6,138.6 805.8,162.6 806,153.3 806.2,127.7 806.4,162.9 806.6,174.6 806.8,180.8 807,164.5 807.2,159.7 807.4,149.7 807.6,162.3 807.7,145.1 807.9,155.5 808.1,120.4 808.3,152.3 808.5,147.6 808.7,165.4 808.9,192 809.1,161.3 809.3,191.6 809.5,189.2 809.7,258 809.9,265.4 810.1,270.5 810.3,267.9 810.5,241.7 810.7,239.5 810.9,252.2 811.1,234.6 811.3,223 811.5,188.3 811.7,181.9 811.9,181 812.1,160.4 812.3,138.1 812.5,167 812.7,202.8 812.9,172.4 813.1,162 813.3,138.2 813.4,145.3 813.6,148.8 813.8,182.4 814,128.5 814.2,159.3 814.4,147.5 814.6,166.1 814.8,199.8 815,199.8 815.2,178.2 815.4,187.8 815.6,242.2 815.8,260.9 816,281.8 816.2,264.2 816.4,262.6 816.6,251 816.8,237.9 817,260.9 817.2,266.5 817.4,250.2 817.6,243.6 817.8,239 818,242.7 818.2,247.4 818.4,233.8 818.6,249.8 818.8,255.9 819,220.8 819.1,190.4 819.3,217.3 819.5,158.4 819.7,204.6 819.9,187.5 820.1,221.3 820.3,178.5 820.5,153.3 820.7,202.3 820.9,184.3 821.1,162 821.3,164.9 821.5,200.1 821.7,184.4 821.9,151 822.1,148.4 822.3,146.1 822.5,159.3 822.7,139.8 822.9,139.3 823.1,177.6 823.3,132.7 823.5,133.8 823.7,126.5 823.9,158 824.1,149.3 824.3,150.5 824.5,152.9 824.7,123.1 824.8,144.7 825,165.6 825.2,141.6 825.4,173.3 825.6,176.6 825.8,164.3 826,141.2 826.2,139.4 826.4,141.7 826.6,123.1 826.8,106.6 827,165.4 827.2,131.2 827.4,143.1 827.6,174.4 827.8,156.6 828,144.1 828.2,153.7 828.4,163.5 828.6,134.1 828.8,142.7 829,127.4 829.2,119.9 829.4,167.6 829.6,129 829.8,146.6 830,168.2 830.2,157.4 830.4,167.5 830.5,175.2 830.7,141.5 830.9,177.9 831.1,189.8 831.3,139.6 831.5,157.6 831.7,139.4 831.9,144.6 832.1,155.6 832.3,167.7 832.5,200.7 832.7,159.5 832.9,165.3 833.1,139.4 833.3,163.4 833.5,161 833.7,152.8 833.9,176.2 834.1,164.4 834.3,155.8 834.5,149.2 834.7,176.7 834.9,134.9 835.1,155.2 835.3,156.4 835.5,136 835.7,124.7 835.9,128.6 836,162.9 836.2,118.9 836.4,145.1 836.6,135.3 836.8,182.5 837,163.7 837.2,173.9 837.4,195.5 837.6,173.9 837.8,140.2 838,141.2 838.2,153.8 838.4,165.7 838.6,162.3 838.8,128.2 839,198.9 839.2,195.3 839.4,183.3 839.6,168.2 839.8,172.4 840,161.3 840.2,191.8 840.4,135.6 840.6,120.9 840.8,140.4 841,164.4 841.2,163.5 841.4,142.7 841.6,199.8 841.7,184.6 841.9,190.9 842.1,149 842.3,118.4 842.5,154.1 842.7,136.6 842.9,180 843.1,167.7 843.3,163.8 843.5,141.2 843.7,184.2 843.9,180.7 844.1,161 844.3,134.5 844.5,160.9 844.7,132.5 844.9,164 845.1,164.7 845.3,144 845.5,181.6 845.7,184.8 845.9,165.3 846.1,197.9 846.3,190.9 846.5,181 846.7,157.6 846.9,132.7 847.1,138.6 847.3,168.6 847.4,161.2 847.6,172.6 847.8,184.3 848,157 848.2,172.2 848.4,146.6 848.6,175.7 848.8,178.6 849,162 849.2,186.8 849.4,189.3 849.6,146.7 849.8,161.9 850,162.9 850.2,172.5 850.4,196.7 850.6,229.4 850.8,184.1 851,175.8 851.2,164.3 851.4,191 851.6,154.6 851.8,155.3 852,138.3 852.2,179.9 852.4,164.9 852.6,160.7 852.8,150.2 853,143.7 853.1,166.9 853.3,186.8 853.5,139.8 853.7,201.9 853.9,140.9 854.1,137 854.3,172.6 854.5,165.8 854.7,173.4 854.9,188.9 855.1,165.4 855.3,189.3 855.5,163.8 855.7,156.9 855.9,145.1 856.1,148.3 856.3,166.4 856.5,168.9 856.7,185.1 856.9,177.6 857.1,158.7 857.3,157.2 857.5,164.2 857.7,171.1 857.9,158.4 858.1,193.9 858.3,175.2 858.5,149.5 858.7,143.7 858.8,189.5 859,180.3 859.2,174.2 859.4,137.8 859.6,134.3 859.8,121.3 860,125.7 860.2,193.9 860.4,179.7 860.6,187.8 860.8,191.2 861,168.9 861.2,176.2 861.4,164.2 861.6,180.4 861.8,193 862,156.3 862.2,168 862.4,200.9 862.6,239.1 862.8,241.2 863,218.2 863.2,185.2 863.4,185.8 863.6,200.4 863.8,218.3 864,256.3 864.2,207.1 864.4,226 864.5,220.2 864.7,236.5 864.9,238.9 865.1,182.5 865.3,198.1 865.5,227.2 865.7,227.8 865.9,199 866.1,168 866.3,173.8 866.5,176.8 866.7,157.4 866.9,172.1 867.1,187.4 867.3,156 867.5,174.1 867.7,177.6 867.9,140 868.1,166.5 868.3,192.4 868.5,153.6 868.7,164.3 868.9,178 869.1,186.6 869.3,201.8 869.5,197.6 869.7,165 869.9,165.7 870,185.2 870.2,177.5 870.4,190.6 870.6,184.1 870.8,174.2 871,169.9 871.2,161.2 871.4,195.8 871.6,182.1 871.8,194.7 872,191.1 872.2,176.3 872.4,200.1 872.6,227 872.8,225.3 873,231.8 873.2,229 873.4,231.5 873.6,228.5 873.8,219 874,211.8 874.2,226.7 874.4,205.9 874.6,197.3 874.8,182.5 875,187.8 875.2,186.6 875.4,190.7 875.6,186.4 875.7,220.2 875.9,245.4 876.1,220.8 876.3,259.9 876.5,276.3 876.7,230.4 876.9,239.5 877.1,236.3 877.3,232.8 877.5,237.4 877.7,214.3 877.9,229.7 878.1,229 878.3,231.2 878.5,254.7 878.7,212.2 878.9,239 879.1,201.7 879.3,208.3 879.5,207.3 879.7,209.5 879.9,179.1 880.1,240.7 880.3,210.9 880.5,233.4 880.7,235.1 880.9,187.1 881.1,205.8 881.3,179.3 881.4,222.7 881.6,235.9 881.8,256.9 882,303 882.2,305.6 882.4,276.1 882.6,387.5 882.8,338.7 883,328.2 883.2,323 883.4,306.7 883.6,321.6 883.8,321 884,292.1 884.2,297.6 884.4,270.9 884.6,292.6 884.8,312.9 885,223.7 885.2,258.9 885.4,221 885.6,233.2 885.8,261.7 886,265.1 886.2,216 886.4,252.1 886.6,241.1 886.8,264.3 887,257.1 887.1,278.8 887.3,301.3 887.5,280.3 887.7,258.1 887.9,277 888.1,248 888.3,233.3 888.5,200.9 888.7,198.9 888.9,256.5 889.1,198.5 889.3,184.8 889.5,244.2 889.7,227.2 889.9,188.6 890.1,214.5 890.3,223.3 890.5,204.7 890.7,200.9 890.9,212.7 891.1,214.1 891.3,221.1 891.5,228 891.7,244.8 891.9,260.6 892.1,281.4 892.3,284.4 892.5,329.6 892.7,349.9 892.8,371.3 893,369.6 893.2,345.6 893.4,340.3 893.6,323.1 893.8,333.3 894,318.4 894.2,321.2 894.4,268 894.6,235.6 894.8,239.4 895,240.2 895.2,218.4 895.4,220.6 895.6,242 895.8,240.1 896,229.1 896.2,196.5 896.4,190.3 896.6,190.1 896.8,190.1 897,151.7 897.2,189.4 897.4,177.5 897.6,179 897.8,177.6 898,222.5 898.2,182.6 898.4,197 898.5,202.5 898.7,217 898.9,202.7 899.1,167.3 899.3,186.3 899.5,224.6 899.7,194.8 899.9,199.3 900.1,174.6 900.3,182.9 900.5,178.4 900.7,193.4 900.9,192.7 901.1,211.3 901.3,222 901.5,193.6 901.7,160.7 901.9,171.2 902.1,215.6 902.3,212.9 902.5,210.9 902.7,213.2 902.9,219.1 903.1,203.2 903.3,179.3 903.5,173.3 903.7,164.9 903.9,213.8 904,243.4 904.2,215.5 904.4,222.8 904.6,208.4 904.8,203.5 905,180.6 905.2,207.4 905.4,186.4 905.6,163.8 905.8,206.6 906,230.8 906.2,192.7 906.4,207.7 906.6,211 906.8,221.5 907,261.2 907.2,262.9 907.4,258.8 907.6,297.2 907.8,276.9 908,266 908.2,311.6 908.4,286.8 908.6,288.5 908.8,311.2 909,337.4 909.2,289.6 909.4,315.6 909.6,267.8 909.7,298.9 909.9,277.5 910.1,287.7 910.3,269.6 910.5,225.7 910.7,232.9 910.9,226.4 911.1,251.7 911.3,233 911.5,242.1 911.7,214.1 911.9,204.4 912.1,201.3 912.3,201.5 912.5,216.9 912.7,198 912.9,208.1 913.1,180.9 913.3,202.3 913.5,183.8 913.7,213.7 913.9,193.3 914.1,207.8 914.3,231.3 914.5,196.4 914.7,233.8 914.9,243 915.1,202.6 915.3,194.6 915.4,216.4 915.6,256.5 915.8,284.7 916,300 916.2,269.4 916.4,270.3 916.6,258.8 916.8,244.7 917,276.3 917.2,291.9 917.4,286.9 917.6,279.7 917.8,264.9 918,245.8 918.2,251.2 918.4,242.3 918.6,235 918.8,229.2 919,213.6 919.2,212.9 919.4,254.3 919.6,248.3 919.8,252.3 920,257.2 920.2,249.7 920.4,271.5 920.6,301 920.8,280.6 921,315.7 921.1,335.6 921.3,365.2 921.5,361.6 921.7,394.6 921.9,402.9 922.1,384.1 922.3,391.5 922.5,370 922.7,327.8 922.9,312.6 923.1,313.5 923.3,268 923.5,248.4 923.7,241.5 923.9,250.3 924.1,243.7 924.3,205.3 924.5,232.1 924.7,208.2 924.9,190.8 925.1,182.7 925.3,205.4 925.5,205.1 925.7,200.3 925.9,200 926.1,180.6 926.3,175 926.5,167.1 926.7,200.1 926.8,191 927,218 927.2,200.1 927.4,174.1 927.6,215.4 927.8,245.2 928,217.7 928.2,222 928.4,240.2 928.6,200.1 928.8,192.2 929,215.5 929.2,199.7 929.4,248.2 929.6,195.3 929.8,200 930,170.2 930.2,214.3 930.4,211.9 930.6,214.6 930.8,217.1 931,214.1 931.2,193.8 931.4,197.2 931.6,194.2 931.8,200.4 932,207.8 932.2,174.3 932.4,218.3 932.5,189.6 932.7,205.9 932.9,193.5 933.1,209.4 933.3,184.2 933.5,191.4 933.7,180.1 933.9,169.6 934.1,202.7 934.3,212.2 934.5,249.2 934.7,200 934.9,190.5 935.1,210.3 935.3,204.5 935.5,221.2 935.7,245.6 935.9,203.1 936.1,236.1 936.3,237.5 936.5,194.8 936.7,207.7 936.9,206.7 937.1,216 937.3,223.5 937.5,203 937.7,230.7 937.9,216.1 938,238.1 938.2,227.1 938.4,200.9 938.6,224 938.8,194 939,242 939.2,207 939.4,230.7 939.6,217.1 939.8,228 940,258.2 940.2,211.9 940.4,229.1 940.6,227.3 940.8,190.2 941,197 941.2,191.3 941.4,174.8 941.6,189.7 941.8,207.9 942,215.2 942.2,184.6 942.4,233.3 942.6,231.2 942.8,163.7 943,179 943.2,243.1 943.4,215.7 943.6,237.4 943.7,203 943.9,232.1 944.1,239.5 944.3,204 944.5,228.3 944.7,206.3 944.9,215.4 945.1,169.4 945.3,190.3 945.5,225.9 945.7,246.6 945.9,210.6 946.1,226.1 946.3,187 946.5,189.8 946.7,214.6 946.9,211.7 947.1,246.2 947.3,205.6 947.5,202.3 947.7,246.2 947.9,207.8 948.1,216.4 948.3,203.3 948.5,217.2 948.7,211.9 948.9,193.4 949.1,215.8 949.3,220.4 949.4,247.6 949.6,214.7 949.8,211.5 950,224 950.2,230.7 950.4,262.7 950.6,236.6 950.8,221.3 951,208.2 951.2,166.2 951.4,201 951.6,223.6 951.8,177.1 952,249.3 952.2,240 952.4,233.5 952.6,204.5 952.8,172.9 953,223.7 953.2,216.4 953.4,247.7 953.6,214.6 953.8,159.2 954,185.2 954.2,186.4 954.4,178.8 954.6,198.5 954.8,209.6 955,245.3 955.1,256.8 955.3,240.2 955.5,239.7 955.7,246.1 955.9,214.9 956.1,201.6 956.3,247.3 956.5,344.8 956.7,267.3 956.9,232.5 957.1,247 957.3,258.6 957.5,256.8 957.7,252 957.9,270 958.1,264.8 958.3,277 958.5,286.7 958.7,244.1 958.9,235.2 959.1,228.7 959.3,234.9 959.5,215 959.7,218.9 959.9,236.9 960.1,243.6 960.3,232.2 960.5,207.5 960.7,198.3 960.8,188.9 961,222.4 961.2,206.9 961.4,204.9 961.6,243.7 961.8,218.9 962,242 962.2,234.5 962.4,225.2 962.6,243.6 962.8,246 963,274.5 963.2,266.6 963.4,287.2 963.6,273.8 963.8,237.7 964,308.2 964.2,331 964.4,354.6 964.6,375.5 964.8,364.3 965,415.9 965.2,396.8 965.4,447.1 965.6,485 965.8,452.9 966,450.1 966.2,413.2 966.4,374.2 966.5,383.8 966.7,372.6 966.9,290.9 967.1,313.4 967.3,282 967.5,255.2 967.7,296.6 967.9,257.5 968.1,233 968.3,231.5 968.5,240.6 968.7,258.4 968.9,230.3 969.1,252.6 969.3,248.4 969.5,257.5 969.7,213.6 969.9,255.4 970.1,258.2 970.3,263.9 970.5,261.1 970.7,292.1 970.9,274.2 971.1,277 971.3,251.9 971.5,290.2 971.7,287.3 971.9,273.9 972,250 972.2,236.3 972.4,266.4 972.6,256.6 972.8,238.1 973,265.5 973.2,263.6 973.4,280.2 973.6,276.4 973.8,271.7 974,225.6 974.2,255.3 974.4,265.5 974.6,292.6 974.8,273.3 975,282.6 975.2,280.3 975.4,282.5 975.6,244.6 975.8,186.4 976,238 976.2,205.9 976.4,198.1 976.6,203.1 976.8,204.2 977,226.3 977.2,173.4 977.4,169.5 977.6,214.3 977.7,229.6 977.9,236.2 978.1,235 978.3,192.3 978.5,184.6 978.7,183.6 978.9,231.1 979.1,190.6 979.3,198.2 979.5,219.5 979.7,223.7 979.9,188 980.1,165.7 980.3,238.8 980.5,225.1 980.7,221.2 980.9,208.1 981.1,196.1 981.3,234.5 981.5,267.4 981.7,247.6 981.9,236.7 982.1,204.9 982.3,213.4 982.5,232 982.7,211.3 982.9,254.5 983.1,211.2 983.3,193.4 983.4,243.8 983.6,200.6 983.8,194.2 984,215.2 984.2,208 984.4,233.4 984.6,206.3 984.8,235.6 985,212.9 985.2,201.4 985.4,226.5 985.6,242.1 985.8,217.6 986,230.5 986.2,244.4 986.4,261.9 986.6,218 986.8,204.3 987,233.2 987.2,234.3 987.4,225 987.6,217.4 987.8,246.3 988,196.8 988.2,179.9 988.4,213.1 988.6,218.9 988.8,213.4 989,217.8 989.1,232.2 989.3,229.3 989.5,227 989.7,208.6 989.9,194.8 990.1,221.7 990.3,326.7 990.5,260.6 990.7,241.9 990.9,271.4 991.1,256.2 991.3,270.5 991.5,294.6 991.7,254.4 991.9,240.6 992.1,243.4 992.3,273 992.5,258.9 992.7,221.2 992.9,238.7 993.1,185 993.3,215.3 993.5,217.3 993.7,227 993.9,232.5 994.1,213.3 994.3,214.3 994.5,181.6 994.7,205.4 994.8,195.5 995,181.6 995.2,194.4 995.4,233.4 995.6,166.8 995.8,235.7 996,222.6 996.2,215.8 996.4,214.5 996.6,172.6 996.8,213.9 997,236.7 997.2,226.1 997.4,232.3 997.6,222.3 997.8,198.4 998,203.1 998.2,229.1 998.4,248.6 998.6,225.8 998.8,198.7 999,313.8 999.2,222.7 999.4,210 999.6,251.5 999.8,225.8 1000,213.7 1000.2,205.2 1000.4,197.1 1000.5,211.1 1000.7,211.5 1000.9,223.4 1001.1,244.4 1001.3,217.2 1001.5,186 1001.7,209.1 1001.9,232.3 1002.1,218 1002.3,181.7 1002.5,175.3 1002.7,169.4 1002.9,194.4 1003.1,219.4 1003.3,224.8 1003.5,239.3 1003.7,182.4 1003.9,183.4 1004.1,180.4 1004.3,229.2 1004.5,188.1 1004.7,214 1004.9,218.1 1005.1,226.7 1005.3,250 1005.5,236.3 1005.7,249 1005.9,231.2 1006,222.3 1006.2,233.6 1006.4,215.9 1006.6,240.6 1006.8,234.8 1007,231 1007.2,218.4 1007.4,214.3 1007.6,206 1007.8,234.1 1008,240.2 1008.2,215.2 1008.4,190.5 1008.6,221.4 1008.8,267.4 1009,233.3 1009.2,242.5 1009.4,237.1 1009.6,221.5 1009.8,240.9 1010,254.3 1010.2,276.7 1010.4,248.7 1010.6,258.5 1010.8,232.3 1011,223.7 1011.2,258.3 1011.4,245.2 1011.6,243.3 1011.7,284.4 1011.9,270.4 1012.1,284.2 1012.3,266.2 1012.5,257 1012.7,247.7 1012.9,213 1013.1,229.5 1013.3,235.8 1013.5,211.5 1013.7,208.3 1013.9,252.5 1014.1,248.7 1014.3,238.4 1014.5,235.7 1014.7,286.9 1014.9,234.7 1015.1,195.1 1015.3,239.1 1015.5,201.5 1015.7,199.3 1015.9,232.9 1016.1,216.5 1016.3,273.4 1016.5,305.9 1016.7,269.9 1016.9,228 1017.1,214.3 1017.3,263.1 1017.4,297.5 1017.6,274.6 1017.8,301.9 1018,258.1 1018.2,237.8 1018.4,291 1018.6,286.9 1018.8,278.4 1019,274.4 1019.2,257.5 1019.4,258.4 1019.6,257.7 1019.8,277.2 1020,235.5 1020.2,485"/>
<path class="d A" d="M1050,23 1050.2,100.1 1050.4,125.3 1050.6,85.8 1050.7,97.3 1050.9,84.9 1051.1,93.3 1051.3,85.1 1051.5,118.7 1051.7,60.4 1051.8,86.7 1052,124.5 1052.2,93.8 1052.4,108.8 1052.6,145.5 1052.8,98.6 1052.9,124.3 1053.1,113.5 1053.3,117.9 1053.5,111.2 1053.7,105.1 1053.9,112.9 1054,23 1054.2,116.1 1054.4,142.4 1054.6,136.1 1054.8,105.1 1055,71.6 1055.1,90.3 1055.3,125.2 1055.5,128.4 1055.7,127.5 1055.9,95.3 1056.1,80.1 1056.2,97.4 1056.4,77.4 1056.6,76.1 1056.8,69.6 1057,157.3 1057.2,149.2 1057.3,98.7 1057.5,88.8 1057.7,114.2 1057.9,104.2 1058.1,143.2 1058.3,140.3 1058.4,118.1 1058.6,79.2 1058.8,88.1 1059,116.8 1059.2,103.8 1059.4,116.6 1059.5,106.1 1059.7,130.9 1059.9,115.5 1060.1,132.1 1060.3,118.1 1060.5,130.4 1060.6,129.2 1060.8,110.5 1061,114 1061.2,105.4 1061.4,109 1061.6,95.8 1061.7,120.4 1061.9,76.8 1062.1,71.4 1062.3,101.3 1062.5,48.6 1062.7,51.1 1062.8,92.6 1063,137 1063.2,134.1 1063.4,89.1 1063.6,47.8 1063.8,79.2 1063.9,81.7 1064.1,109.9 1064.3,117.5 1064.5,99 1064.7,132.8 1064.9,107.4 1065.1,92.9 1065.2,96.1 1065.4,93.7 1065.6,109.4 1065.8,90.9 1066,102.5 1066.2,147.7 1066.3,130.5 1066.5,121.6 1066.7,91 1066.9,99.1 1067.1,99.9 1067.3,97.6 1067.4,79.4 1067.6,81.1 1067.8,120.1 1068,129 1068.2,79 1068.4,98.5 1068.5,96.1 1068.7,112.9 1068.9,137.8 1069.1,131.9 1069.3,73 1069.5,72.2 1069.6,77.5 1069.8,94.9 1070,100.1 1070.2,109.6 1070.4,100.8 1070.6,115.5 1070.7,116.7 1070.9,94.2 1071.1,83.2 1071.3,145.9 1071.5,90.8 1071.7,100.6 1071.8,133.6 1072,104.1 1072.2,109.1 1072.4,123.7 1072.6,130.5 1072.8,131.2 1072.9,55.7 1073.1,48.7 1073.3,69.3 1073.5,109.7 1073.7,94.2 1073.9,99.3 1074,126.5 1074.2,111 1074.4,96.7 1074.6,129.1 1074.8,156.2 1075,139.9 1075.1,110.8 1075.3,125.3 1075.5,116 1075.7,92.8 1075.9,128.7 1076.1,143.4 1076.2,112.6 1076.4,82.3 1076.6,142.9 1076.8,72.5 1077,83.9 1077.2,122.2 1077.3,116.7 1077.5,83 1077.7,118.3 1077.9,121 1078.1,85.5 1078.3,124.8 1078.4,121.6 1078.6,137.5 1078.8,152.9 1079,149.3 1079.2,158.4 1079.4,137 1079.5,129.9 1079.7,129.1 1079.9,124.1 1080.1,117 1080.3,135.6 1080.5,155 1080.7,128.9 1080.8,174.1 1081,146.4 1081.2,125.8 1081.4,144.6 1081.6,82.7 1081.8,134.7 1081.9,138.1 1082.1,121 1082.3,116.8 1082.5,105.3 1082.7,107.1 1082.9,87.1 1083,111.2 1083.2,114 1083.4,131.5 1083.6,97.9 1083.8,131.1 1084,135.2 1084.1,69 1084.3,129.7 1084.5,130.8 1084.7,116.8 1084.9,97.4 1085.1,140.4 1085.2,109.9 1085.4,88 1085.6,69.8 1085.8,119.6 1086,119 1086.2,125.5 1086.3,74.1 1086.5,123.2 1086.7,115.6 1086.9,118 1087.1,133.4 1087.3,118 1087.4,134.4 1087.6,77.2 1087.8,116.8 1088,111.2 1088.2,94.4 1088.4,135.8 1088.5,80.5 1088.7,88.5 1088.9,142.4 1089.1,117.9 1089.3,138 1089.5,128.3 1089.6,160.3 1089.8,184.5 1090,173.4 1090.2,199.3 1090.4,196.2 1090.6,186.7 1090.7,182.6 1090.9,206.6 1091.1,227.6 1091.3,178.6 1091.5,184.4 1091.7,149.1 1091.8,153.6 1092,115 1092.2,126.9 1092.4,134.5 1092.6,136.7 1092.8,163 1092.9,111.9 1093.1,127.7 1093.3,145.7 1093.5,108.1 1093.7,109.9 1093.9,106.1 1094,112.7 1094.2,95.4 1094.4,97.1 1094.6,116.1 1094.8,129.3 1095,137.9 1095.2,135.6 1095.3,116.2 1095.5,148.7 1095.7,166.6 1095.9,128.2 1096.1,116.5 1096.3,149.1 1096.4,132.7 1096.6,157.9 1096.8,187.9 1097,165.8 1097.2,177.6 1097.4,185.1 1097.5,238.8 1097.7,165 1097.9,171 1098.1,192.1 1098.3,150.7 1098.5,169.1 1098.6,151.1 1098.8,132.1 1099,121.8 1099.2,142.2 1099.4,128.2 1099.6,138.7 1099.7,146.5 1099.9,97.1 1100.1,116 1100.3,119.2 1100.5,95.1 1100.7,111.5 1100.8,120.4 1101,91.7 1101.2,105.9 1101.4,87.2 1101.6,82.2 1101.8,75.8 1101.9,63.6 1102.1,108.3 1102.3,23 1102.5,132.5 1102.7,126 1102.9,98.2 1103,112.8 1103.2,137.2 1103.4,128.3 1103.6,107.8 1103.8,80.7 1104,129.2 1104.1,111.3 1104.3,150.8 1104.5,111.5 1104.7,87.7 1104.9,138.4 1105.1,97.5 1105.2,154.3 1105.4,111.7 1105.6,133.7 1105.8,111.5 1106,111 1106.2,87.6 1106.3,100.7 1106.5,106 1106.7,116.8 1106.9,99.4 1107.1,126 1107.3,125.5 1107.4,119.1 1107.6,84.3 1107.8,64.1 1108,112.3 1108.2,90 1108.4,153.4 1108.5,136.3 1108.7,110.6 1108.9,108.7 1109.1,101.9 1109.3,89.1 1109.5,116.7 1109.6,93.1 1109.8,127.8 1110,190.3 1110.2,145.5 1110.4,126.7 1110.6,109.7 1110.8,101.4 1110.9,112.1 1111.1,90 1111.3,133.1 1111.5,106.6 1111.7,94 1111.9,124.3 1112,77.9 1112.2,88.2 1112.4,113.6 1112.6,113.2 1112.8,114.7 1113,109.1 1113.1,88.7 1113.3,115.7 1113.5,162.6 1113.7,158.2 1113.9,130.8 1114.1,199.7 1114.2,177.8 1114.4,160.8 1114.6,145.9 1114.8,123.8 1115,135.5 1115.2,85 1115.3,157.5 1115.5,145 1115.7,146.3 1115.9,164.9 1116.1,146 1116.3,149.2 1116.4,158.3 1116.6,169.3 1116.8,153.6 1117,128.6 1117.2,139.2 1117.4,125.7 1117.5,123.9 1117.7,125.9 1117.9,128.3 1118.1,111.7 1118.3,101.8 1118.5,89.2 1118.6,113.3 1118.8,138 1119,129.9 1119.2,113.5 1119.4,207.7 1119.6,122 1119.7,96.7 1119.9,127 1120.1,123.6 1120.3,104.8 1120.5,174.8 1120.7,121.6 1120.8,128 1121,122.9 1121.2,91 1121.4,78.2 1121.6,91.8 1121.8,105.7 1121.9,115.5 1122.1,127.1 1122.3,130.6 1122.5,156.6 1122.7,128.6 1122.9,106.4 1123,116.5 1123.2,107.3 1123.4,154.9 1123.6,134.5 1123.8,136.6 1124,100.5 1124.1,129.4 1124.3,136.6 1124.5,155.7 1124.7,149.7 1124.9,162.9 1125.1,137.1 1125.3,93 1125.4,159.5 1125.6,139.1 1125.8,141 1126,101.5 1126.2,149.2 1126.4,141 1126.5,103.6 1126.7,82.5 1126.9,123.1 1127.1,149.1 1127.3,195.7 1127.5,195 1127.6,116 1127.8,111.1 1128,93.1 1128.2,112.1 1128.4,121 1128.6,88.5 1128.7,94.2 1128.9,137.3 1129.1,103.4 1129.3,111.2 1129.5,149.1 1129.7,129.5 1129.8,141.1 1130,126.5 1130.2,158.8 1130.4,228.7 1130.6,189 1130.8,167.3 1130.9,200.4 1131.1,239.7 1131.3,241.6 1131.5,254.5 1131.7,237.9 1131.9,264.2 1132,222.7 1132.2,234.1 1132.4,227.1 1132.6,241.7 1132.8,245.7 1133,252.9 1133.1,274.2 1133.3,307.2 1133.5,252 1133.7,275.3 1133.9,276.6 1134.1,192.8 1134.2,219.9 1134.4,229.2 1134.6,179.3 1134.8,174.2 1135,166.6 1135.2,145.1 1135.3,184.8 1135.5,146.5 1135.7,175.7 1135.9,140.7 1136.1,139.1 1136.3,144.2 1136.4,98.3 1136.6,185.1 1136.8,172 1137,148.8 1137.2,143.6 1137.4,110.7 1137.5,135.6 1137.7,162.2 1137.9,137.8 1138.1,112.7 1138.3,122 1138.5,140.5 1138.6,130.2 1138.8,131.2 1139,96.6 1139.2,111.5 1139.4,171.3 1139.6,153.5 1139.7,147.6 1139.9,163.4 1140.1,143.5 1140.3,161 1140.5,254.6 1140.7,219.4 1140.9,185.9 1141,206 1141.2,221.8 1141.4,200.3 1141.6,176 1141.8,150.1 1142,185.8 1142.1,144.4 1142.3,113.9 1142.5,169.9 1142.7,146.4 1142.9,154.5 1143.1,177.5 1143.2,173.5 1143.4,148.5 1143.6,109.2 1143.8,105.4 1144,92.7 1144.2,103.5 1144.3,116.3 1144.5,133.1 1144.7,143.1 1144.9,102.3 1145.1,150.5 1145.3,172.7 1145.4,125.5 1145.6,121.2 1145.8,85 1146,138.8 1146.2,140.3 1146.4,155.7 1146.5,117.1 1146.7,131.3 1146.9,148.9 1147.1,133.9 1147.3,158.8 1147.5,122.9 1147.6,145.3 1147.8,132.2 1148,159.6 1148.2,153.6 1148.4,140.1 1148.6,123.4 1148.7,155.7 1148.9,196.4 1149.1,145.9 1149.3,165.9 1149.5,151.7 1149.7,149.1 1149.8,170.2 1150,202.9 1150.2,195.7 1150.4,240.4 1150.6,174.3 1150.8,209.1 1150.9,200.6 1151.1,193.9 1151.3,168.5 1151.5,165.8 1151.7,103.7 1151.9,131.1 1152,123.5 1152.2,137.2 1152.4,172.9 1152.6,192.1 1152.8,114.6 1153,149.9 1153.1,173 1153.3,82.9 1153.5,128.2 1153.7,121.9 1153.9,171.4 1154.1,199.4 1154.2,172.3 1154.4,155.9 1154.6,216.3 1154.8,178.8 1155,143.1 1155.2,153.1 1155.4,189.6 1155.5,229.7 1155.7,168.9 1155.9,131.3 1156.1,140.8 1156.3,160.4 1156.5,137.3 1156.6,133.8 1156.8,150.9 1157,156 1157.2,153.3 1157.4,152.9 1157.6,134.4 1157.7,126.9 1157.9,112.2 1158.1,117.7 1158.3,144.4 1158.5,174.6 1158.7,121.9 1158.8,137.2 1159,94.3 1159.2,121.1 1159.4,73.8 1159.6,101.3 1159.8,87.2 1159.9,114.5 1160.1,115 1160.3,133.5 1160.5,135.5 1160.7,131.1 1160.9,118.3 1161,144 1161.2,112.1 1161.4,139 1161.6,131.4 1161.8,162.3 1162,150.2 1162.1,176.6 1162.3,155 1162.5,143.4 1162.7,152.2 1162.9,133.2 1163.1,128.7 1163.2,140.3 1163.4,182.7 1163.6,140.3 1163.8,145.6 1164,163.9 1164.2,149.8 1164.3,94.7 1164.5,120.6 1164.7,115.7 1164.9,128.6 1165.1,169.4 1165.3,160.6 1165.4,185.7 1165.6,157.8 1165.8,194.9 1166,166.9 1166.2,145.1 1166.4,166.5 1166.5,209.5 1166.7,204.1 1166.9,172.5 1167.1,198.6 1167.3,219.4 1167.5,204.7 1167.6,211.1 1167.8,226.4 1168,219.2 1168.2,231.5 1168.4,184.4 1168.6,172.9 1168.7,149 1168.9,147.3 1169.1,161 1169.3,125.7 1169.5,162.5 1169.7,125.3 1169.8,158 1170,158.4 1170.2,171.8 1170.4,138.9 1170.6,98 1170.8,136.1 1171,137.2 1171.1,145.8 1171.3,125.1 1171.5,117.2 1171.7,110.8 1171.9,102.2 1172.1,131.7 1172.2,111.7 1172.4,98.1 1172.6,126.5 1172.8,144.9 1173,108.7 1173.2,130.9 1173.3,164.9 1173.5,167.8 1173.7,151.2 1173.9,129.4 1174.1,136.6 1174.3,111 1174.4,79.9 1174.6,101.9 1174.8,142 1175,146.7 1175.2,116.5 1175.4,162.2 1175.5,162.7 1175.7,145.1 1175.9,140.4 1176.1,146.9 1176.3,152.4 1176.5,200.5 1176.6,150.2 1176.8,135.1 1177,125.3 1177.2,131.6 1177.4,130.7 1177.6,78.8 1177.7,115.7 1177.9,122.1 1178.1,129.9 1178.3,130.6 1178.5,158.4 1178.7,151.1 1178.8,133.6 1179,156.7 1179.2,117.1 1179.4,131.2 1179.6,115.8 1179.8,135.6 1179.9,161.2 1180.1,159.1 1180.3,143.1 1180.5,106.8 1180.7,116.1 1180.9,146 1181,145.2 1181.2,153.4 1181.4,111.8 1181.6,141.4 1181.8,164.7 1182,169.1 1182.1,122.3 1182.3,104.1 1182.5,145.9 1182.7,170.8 1182.9,173.8 1183.1,179.9 1183.2,200.4 1183.4,144.6 1183.6,188.2 1183.8,221.1 1184,231.9 1184.2,170 1184.3,166.4 1184.5,154 1184.7,179.5 1184.9,219.3 1185.1,244.4 1185.3,212 1185.5,220.6 1185.6,215.1 1185.8,236.4 1186,204.7 1186.2,204 1186.4,216.4 1186.6,218.4 1186.7,213.5 1186.9,159.9 1187.1,137.5 1187.3,168.3 1187.5,204.7 1187.7,164.8 1187.8,188.1 1188,142.7 1188.2,117.1 1188.4,159.5 1188.6,202.2 1188.8,126.4 1188.9,128.9 1189.1,105.2 1189.3,127.5 1189.5,130.8 1189.7,164.9 1189.9,111.8 1190,172.8 1190.2,178.4 1190.4,119.5 1190.6,110.8 1190.8,99.2 1191,114.9 1191.1,133.5 1191.3,128.2 1191.5,117.6 1191.7,127.2 1191.9,140.9 1192.1,187.7 1192.2,146.2 1192.4,144.1 1192.6,139.3 1192.8,161.1 1193,128.1 1193.2,140.4 1193.3,172.2 1193.5,147 1193.7,149.4 1193.9,190.8 1194.1,205.5 1194.3,156.7 1194.4,149.5 1194.6,149.2 1194.8,130.3 1195,140 1195.2,119 1195.4,151 1195.5,115.4 1195.7,153.6 1195.9,149.9 1196.1,194.3 1196.3,160.2 1196.5,127.1 1196.6,153.9 1196.8,159.9 1197,172 1197.2,138.5 1197.4,166 1197.6,112.8 1197.7,136.1 1197.9,163.5 1198.1,168.3 1198.3,163.4 1198.5,147.5 1198.7,160 1198.8,194 1199,163 1199.2,178.4 1199.4,140.2 1199.6,207.8 1199.8,161.1 1199.9,199.8 1200.1,168.6 1200.3,161.3 1200.5,189.3 1200.7,231.4 1200.9,226 1201.1,189.4 1201.2,237.9 1201.4,216.2 1201.6,232.7 1201.8,289.4 1202,243.5 1202.2,298.4 1202.3,307.4 1202.5,319.7 1202.7,291.7 1202.9,280.8 1203.1,257.6 1203.3,244.7 1203.4,236.3 1203.6,246.6 1203.8,232.9 1204,214.4 1204.2,197.9 1204.4,167.9 1204.5,173.6 1204.7,192.8 1204.9,207.6 1205.1,216.3 1205.3,178 1205.5,178.8 1205.6,208.1 1205.8,172 1206,159.7 1206.2,169.6 1206.4,198.9 1206.6,187.1 1206.7,191.1 1206.9,144.8 1207.1,140.7 1207.3,107.2 1207.5,163.6 1207.7,126.7 1207.8,157 1208,151.8 1208.2,152 1208.4,213.4 1208.6,184.1 1208.8,127.7 1208.9,138 1209.1,127.1 1209.3,159.9 1209.5,172.6 1209.7,147.5 1209.9,170.5 1210,162.2 1210.2,163.6 1210.4,166.3 1210.6,114.2 1210.8,145.6 1211,159.7 1211.1,163.6 1211.3,185.1 1211.5,180.5 1211.7,168.2 1211.9,175.6 1212.1,210.1 1212.2,155.1 1212.4,218.6 1212.6,201.9 1212.8,203 1213,187.2 1213.2,214.7 1213.3,206.8 1213.5,176 1213.7,178.8 1213.9,190.7 1214.1,219.6 1214.3,218.2 1214.4,244.8 1214.6,237.7 1214.8,231.6 1215,255.8 1215.2,237.5 1215.4,229.2 1215.6,199.5 1215.7,210.6 1215.9,217 1216.1,177.1 1216.3,157.5 1216.5,172 1216.7,189 1216.8,191.5 1217,206.9 1217.2,191.3 1217.4,172.3 1217.6,172.3 1217.8,208.1 1217.9,203.5 1218.1,199.6 1218.3,196 1218.5,183.6 1218.7,176.4 1218.9,200.7 1219,198.9 1219.2,216.1 1219.4,181.1 1219.6,174.2 1219.8,194.8 1220,201.5 1220.1,136.8 1220.3,203.4 1220.5,197.1 1220.7,241.3 1220.9,212.6 1221.1,198.1 1221.2,201.7 1221.4,196.2 1221.6,199.3 1221.8,213.3 1222,272.4 1222.2,196.9 1222.3,204.7 1222.5,191.8 1222.7,171.7 1222.9,175.7 1223.1,179.1 1223.3,156.2 1223.4,179.8 1223.6,173.8 1223.8,157.3 1224,182.5 1224.2,209.6 1224.4,178.4 1224.5,215.5 1224.7,187.9 1224.9,180.2 1225.1,185.2 1225.3,211.8 1225.5,200.1 1225.6,177.1 1225.8,153.8 1226,166.1 1226.2,187.1 1226.4,187.7 1226.6,238.3 1226.7,225.8 1226.9,201.5 1227.1,206.6 1227.3,236.5 1227.5,187.2 1227.7,218.5 1227.8,199.1 1228,215.1 1228.2,194.3 1228.4,178.7 1228.6,222.8 1228.8,202.7 1228.9,182.1 1229.1,165.8 1229.3,147.6 1229.5,169.6 1229.7,164.9 1229.9,210.3 1230,197.1 1230.2,217.6 1230.4,155.4 1230.6,188.4 1230.8,174 1231,208.1 1231.2,204.7 1231.3,204.9 1231.5,197.2 1231.7,193.2 1231.9,212.5 1232.1,173.4 1232.3,175.4 1232.4,230 1232.6,223.5 1232.8,217.1 1233,198.9 1233.2,146.2 1233.4,174.4 1233.5,194.7 1233.7,118.9 1233.9,167 1234.1,208.2 1234.3,201.6 1234.5,172.7 1234.6,207.5 1234.8,167.5 1235,164.3 1235.2,198.2 1235.4,198.8 1235.6,193.4 1235.7,148.8 1235.9,163.5 1236.1,168.2 1236.3,164.3 1236.5,188.5 1236.7,195.5 1236.8,175.1 1237,172.9 1237.2,198 1237.4,201.3 1237.6,208.8 1237.8,172.2 1237.9,198.3 1238.1,214 1238.3,219.7 1238.5,225.9 1238.7,237.4 1238.9,231.3 1239,244.6 1239.2,233.8 1239.4,252 1239.6,255 1239.8,216.3 1240,207.2 1240.1,202.2 1240.3,238.2 1240.5,248.7 1240.7,257.6 1240.9,219.4 1241.1,222.5 1241.2,186.2 1241.4,217.3 1241.6,180.5 1241.8,214.2 1242,180.7 1242.2,155.2 1242.3,184.6 1242.5,169.8 1242.7,174.2 1242.9,203.9 1243.1,146.2 1243.3,214.7 1243.4,193.9 1243.6,181.1 1243.8,169.7 1244,157.1 1244.2,160 1244.4,210 1244.5,199.1 1244.7,223.2 1244.9,180.4 1245.1,198.2 1245.3,186.9 1245.5,225.8 1245.7,201.9 1245.8,167.5 1246,169.7 1246.2,193.8 1246.4,196.4 1246.6,203.4 1246.8,206.2 1246.9,191.9 1247.1,137 1247.3,186.3 1247.5,231.2 1247.7,212.1 1247.9,218.4 1248,184.7 1248.2,155 1248.4,181.4 1248.6,207.7 1248.8,209 1249,229.8 1249.1,251.2 1249.3,241.5 1249.5,226.9 1249.7,266 1249.9,204.9 1250.1,190.6 1250.2,226.9 1250.4,202.5 1250.6,221.2 1250.8,231.9 1251,259.1 1251.2,213.4 1251.3,170.3 1251.5,197.1 1251.7,197.6 1251.9,161.7 1252.1,201.4 1252.3,234.9 1252.4,200.5 1252.6,161 1252.8,176.4 1253,198 1253.2,180.9 1253.4,186.9 1253.5,142.2 1253.7,172.4 1253.9,166.7 1254.1,176.7 1254.3,166.5 1254.5,178.3 1254.6,194.8 1254.8,204.2 1255,204.8 1255.2,199.6 1255.4,188.1 1255.6,192.6 1255.7,189.9 1255.9,226.9 1256.1,236.8 1256.3,282.2 1256.5,263.6 1256.7,265.6 1256.8,255.5 1257,259.3 1257.2,270.1 1257.4,259.7 1257.6,272.4 1257.8,259.8 1257.9,258.5 1258.1,243.8 1258.3,254.1 1258.5,237.9 1258.7,249 1258.9,235.7 1259,190.1 1259.2,223.8 1259.4,186.4 1259.6,208.6 1259.8,203.8 1260,205.9 1260.1,232.7 1260.3,235 1260.5,186.2 1260.7,209.4 1260.9,246.5 1261.1,227.6 1261.3,213.2 1261.4,181.7 1261.6,195.4 1261.8,198.8 1262,180.6 1262.2,197.2 1262.4,223.5 1262.5,226.2 1262.7,189.6 1262.9,227.8 1263.1,184.6 1263.3,237.6 1263.5,206.6 1263.6,170.8 1263.8,173.9 1264,186.4 1264.2,237 1264.4,210.8 1264.6,207.8 1264.7,213.2 1264.9,210.1 1265.1,188.6 1265.3,197.5 1265.5,213.5 1265.7,205.7 1265.8,199.7 1266,196.5 1266.2,206 1266.4,229 1266.6,190.1 1266.8,182.1 1266.9,168.6 1267.1,206.9 1267.3,188.5 1267.5,212.8 1267.7,184.9 1267.9,214.4 1268,208.5 1268.2,213.7 1268.4,203 1268.6,209.5 1268.8,233 1269,197 1269.1,227.2 1269.3,207.3 1269.5,187.5 1269.7,214.4 1269.9,214.1 1270.1,167.5 1270.2,175.5 1270.4,177.4 1270.6,185.2 1270.8,204.7 1271,220.1 1271.2,249.8 1271.3,234.1 1271.5,223.4 1271.7,180.8 1271.9,164.9 1272.1,203.4 1272.3,219 1272.4,196.3 1272.6,229.9 1272.8,231.4 1273,215.4 1273.2,193.3 1273.4,197.5 1273.5,228.5 1273.7,249.6 1273.9,222.5 1274.1,258.8 1274.3,270.3 1274.5,272.3 1274.6,287 1274.8,269.6 1275,237.2 1275.2,290.3 1275.4,283.8 1275.6,307.4 1275.8,291.7 1275.9,278.6 1276.1,264.3 1276.3,260.5 1276.5,261.2 1276.7,258.2 1276.9,218.2 1277,237.1 1277.2,260.4 1277.4,261 1277.6,271.1 1277.8,274.3 1278,289.9 1278.1,269.3 1278.3,280.1 1278.5,306.3 1278.7,312.2 1278.9,324.4 1279.1,302.3 1279.2,327.6 1279.4,309 1279.6,309.6 1279.8,331.2 1280,331.7 1280.2,306.1 1280.3,298.6 1280.5,282.3 1280.7,265.5 1280.9,267 1281.1,261 1281.3,226.1 1281.4,272.9 1281.6,231.2 1281.8,242.3 1282,261.8 1282.2,212.4 1282.4,238.9 1282.5,269.7 1282.7,280.7 1282.9,300.9 1283.1,314.4 1283.3,343.5 1283.5,334.2 1283.6,363.9 1283.8,414.1 1284,442.4 1284.2,416.2 1284.4,445.1 1284.6,457.1 1284.7,414.2 1284.9,431.8 1285.1,432.1 1285.3,372.3 1285.5,390.2 1285.7,376.2 1285.8,331.3 1286,314.4 1286.2,310.7 1286.4,224.5 1286.6,257.1 1286.8,253.2 1286.9,253.8 1287.1,244.7 1287.3,262.1 1287.5,240.6 1287.7,218.7 1287.9,246.4 1288,237 1288.2,234.1 1288.4,195.4 1288.6,208.8 1288.8,218.8 1289,309.7 1289.1,218.7 1289.3,205 1289.5,182.1 1289.7,273.6 1289.9,228.2 1290.1,222.8 1290.2,217.5 1290.4,266.7 1290.6,248.1 1290.8,239.4 1291,274.7 1291.2,226 1291.4,209.4 1291.5,283 1291.7,295.3 1291.9,250.2 1292.1,263.3 1292.3,232.3 1292.5,287.8 1292.6,291 1292.8,256.7 1293,253.8 1293.2,253.7 1293.4,234.6 1293.6,268.4 1293.7,272.6 1293.9,275.8 1294.1,264.7 1294.3,269.1 1294.5,269.5 1294.7,281.6 1294.8,295.8 1295,241.6 1295.2,253.6 1295.4,286.3 1295.6,261 1295.8,325.2 1295.9,282.9 1296.1,276.3 1296.3,285.8 1296.5,269.9 1296.7,269.1 1296.9,279.2 1297,299.8 1297.2,289.3 1297.4,336.2 1297.6,345.5 1297.8,349.4 1298,346.4 1298.1,342.2 1298.3,357.7 1298.5,342.1 1298.7,274.9 1298.9,283.9 1299.1,270.6 1299.2,283.9 1299.4,290 1299.6,237.7 1299.8,250.2 1300,276.1 1300.2,244.5 1300.3,284.7 1300.5,226.6 1300.7,257.5 1300.9,229.1 1301.1,259.6 1301.3,224.3 1301.4,239.7 1301.6,234.3 1301.8,241.3 1302,232.3 1302.2,227.9 1302.4,241.2 1302.5,293.3 1302.7,254.4 1302.9,256 1303.1,249.7 1303.3,235.8 1303.5,200.6 1303.6,241.1 1303.8,279.3 1304,254.7 1304.2,236.2 1304.4,271.5 1304.6,248.3 1304.7,262.2 1304.9,247.7 1305.1,261.6 1305.3,265.8 1305.5,278.7 1305.7,286.5 1305.9,259.6 1306,287.5 1306.2,294.8 1306.4,280 1306.6,316 1306.8,330.7 1307,334.8 1307.1,352.3 1307.3,348.7 1307.5,306.4 1307.7,339.5 1307.9,302 1308.1,318.9 1308.2,339.7 1308.4,314.7 1308.6,312.9 1308.8,291.1 1309,280.5 1309.2,307.8 1309.3,303.4 1309.5,294.6 1309.7,252.8 1309.9,406.4 1310.1,277.4 1310.3,291.3 1310.4,300.6 1310.6,260.8 1310.8,321.5 1311,325.9 1311.2,275.3 1311.4,294.3 1311.5,250.6 1311.7,255 1311.9,260.2 1312.1,243.6 1312.3,246.8 1312.5,268.1 1312.6,276.2 1312.8,279 1313,261.2 1313.2,273.3 1313.4,276.4 1313.6,249.6 1313.7,192.7 1313.9,239.4 1314.1,265.6 1314.3,222.5 1314.5,276.7 1314.7,245.2 1314.8,262.8 1315,259.8 1315.2,241.9 1315.4,220.5 1315.6,219.6 1315.8,273.6 1315.9,249.7 1316.1,251.5 1316.3,224.1 1316.5,226.8 1316.7,264.3 1316.9,254.7 1317,250.2 1317.2,225.9 1317.4,253.9 1317.6,257.7 1317.8,259.1 1318,256.1 1318.1,230 1318.3,212.5 1318.5,278.1 1318.7,247.6 1318.9,240.8 1319.1,279.5 1319.2,229.5 1319.4,236.1 1319.6,245.8 1319.8,256.9 1320,207 1320.2,241.7 1320.3,245.4 1320.5,229.9 1320.7,281.5 1320.9,277.9 1321.1,291.5 1321.3,252.7 1321.5,250.2 1321.6,255.2 1321.8,246 1322,232.4 1322.2,255.5 1322.4,256.7 1322.6,268.6 1322.7,233.6 1322.9,244.3 1323.1,216.4 1323.3,254.6 1323.5,234.4 1323.7,244.4 1323.8,266 1324,229.4 1324.2,233.3 1324.4,228 1324.6,236.2 1324.8,247.9 1324.9,217.2 1325.1,241 1325.3,245.9 1325.5,300.3 1325.7,297.5 1325.9,287.8 1326,259.2 1326.2,259 1326.4,250.6 1326.6,274.2 1326.8,309.4 1327,281.3 1327.1,250.8 1327.3,276.1 1327.5,324.8 1327.7,314.4 1327.9,327.6 1328.1,290.9 1328.2,282.8 1328.4,296.9 1328.6,329.6 1328.8,313.3 1329,290.4 1329.2,259.8 1329.3,287.7 1329.5,285.5 1329.7,281.9 1329.9,281.5 1330.1,299.2 1330.3,299.6 1330.4,286.5 1330.6,279.1 1330.8,278.2 1331,253.6 1331.2,263.9 1331.4,260.3 1331.5,303.1 1331.7,321.8 1331.9,275.7 1332.1,250.5 1332.3,276.1 1332.5,315.8 1332.6,272 1332.8,268.7 1333,265.3 1333.2,269.3 1333.4,264.3 1333.6,276.6 1333.7,272.6 1333.9,248 1334.1,262.1 1334.3,273.6 1334.5,292.9 1334.7,275.1 1334.8,265 1335,251.3 1335.2,284.7 1335.4,243.4 1335.6,227.4 1335.8,257.2 1336,278.7 1336.1,235.3 1336.3,249.7 1336.5,239 1336.7,235.9 1336.9,245.3 1337.1,267.6 1337.2,267.3 1337.4,219.6 1337.6,271.7 1337.8,239.1 1338,262.4 1338.2,217.3 1338.3,213.2 1338.5,240.8 1338.7,272.1 1338.9,254.7 1339.1,229.2 1339.3,229.5 1339.4,251.7 1339.6,247.7 1339.8,228.4 1340,249.9 1340.2,252.2 1340.4,243.1 1340.5,253.6 1340.7,236.7 1340.9,240.4 1341.1,272.8 1341.3,314.8 1341.5,274.6 1341.6,287.3 1341.8,297.5 1342,278.7 1342.2,256.5 1342.4,302.4 1342.6,285.1 1342.7,296.6 1342.9,309.4 1343.1,298 1343.3,264.6 1343.5,283.8 1343.7,231.5 1343.8,268.4 1344,257 1344.2,267.3 1344.4,296.9 1344.6,247.8 1344.8,267.4 1344.9,271.6 1345.1,266.7 1345.3,275 1345.5,283.5 1345.7,305.3 1345.9,284.9 1346,283.5 1346.2,311.9 1346.4,288 1346.6,309.7 1346.8,302 1347,321.5 1347.1,338.5 1347.3,322.4 1347.5,327.3 1347.7,329.9 1347.9,332 1348.1,339.9 1348.2,301.8 1348.4,302.3 1348.6,315.2 1348.8,311.9 1349,268.9 1349.2,274.7 1349.3,261.1 1349.5,272.9 1349.7,305.8 1349.9,292.9 1350.1,290.8 1350.3,281 1350.4,310.6 1350.6,298 1350.8,261.1 1351,302.8 1351.2,278.7 1351.4,283.2 1351.6,308.7 1351.7,293.5 1351.9,300.8 1352.1,299.7 1352.3,299.9 1352.5,269.6 1352.7,290.6 1352.8,266.8 1353,283.8 1353.2,319 1353.4,279.3 1353.6,301 1353.8,276.2 1353.9,273.5 1354.1,274.7 1354.3,290.4 1354.5,317.3 1354.7,331.2 1354.9,327.9 1355,336.2 1355.2,349.1 1355.4,358.8 1355.6,356.2 1355.8,377.2 1356,369.2 1356.1,366.7 1356.3,361.1 1356.5,393.8 1356.7,396.9 1356.9,397.2 1357.1,373.1 1357.2,390.9 1357.4,400.1 1357.6,385.5 1357.8,432.5 1358,416.8 1358.2,441.1 1358.3,467.4 1358.5,479.3 1358.7,472.1 1358.9,452.4 1359.1,480.5 1359.3,454.7 1359.4,442.6 1359.6,418 1359.8,418.3 1360,399.1 1360.2,392.9 1360.4,358.5 1360.5,360 1360.7,349.7 1360.9,369.2 1361.1,345.9 1361.3,328.7 1361.5,329.5 1361.6,315.3 1361.8,311.8 1362,281 1362.2,281 1362.4,274.3 1362.6,280.1 1362.7,272.1 1362.9,273.9 1363.1,296.5 1363.3,307.9 1363.5,297.5 1363.7,300.2 1363.8,314 1364,299.5 1364.2,276 1364.4,287.2 1364.6,316.7 1364.8,319 1364.9,312.1 1365.1,319 1365.3,272.4 1365.5,290.5 1365.7,317 1365.9,305.3 1366.1,305 1366.2,279.1 1366.4,325 1366.6,306.7 1366.8,261 1367,259.2 1367.2,263.3 1367.3,291.1 1367.5,308.1 1367.7,306.5 1367.9,283.4 1368.1,311.9 1368.3,298.8 1368.4,296 1368.6,282 1368.8,306.3 1369,284.8 1369.2,311.6 1369.4,313.7 1369.5,317.9 1369.7,290.9 1369.9,297.7 1370.1,295.9 1370.3,303.7 1370.5,375.9 1370.6,268 1370.8,290.9 1371,288.1 1371.2,309.1 1371.4,300.9 1371.6,270.8 1371.7,262.6 1371.9,316.2 1372.1,299.2 1372.3,310.9 1372.5,293.1 1372.7,307 1372.8,325.5 1373,346.8 1373.2,333.9 1373.4,290.8 1373.6,320 1373.8,320.1 1373.9,311.2 1374.1,313 1374.3,279.1 1374.5,309.3 1374.7,295.8 1374.9,316.3 1375,336.8 1375.2,303.5 1375.4,312.9 1375.6,316.2 1375.8,285.5 1376,297.2 1376.1,308.8 1376.3,339.9 1376.5,326.3 1376.7,336.9 1376.9,294.9 1377.1,294.9 1377.2,313.4 1377.4,269.9 1377.6,328.6 1377.8,317 1378,358.4 1378.2,340.5 1378.3,299.1 1378.5,294.5 1378.7,269.1 1378.9,298.3 1379.1,288.5 1379.3,322 1379.4,297.3 1379.6,293.8 1379.8,309.1 1380,285.8 1380.2,293.6 1380.4,316.1 1380.5,336.7 1380.7,334 1380.9,336.7 1381.1,287.1 1381.3,284.3 1381.5,305.3 1381.7,315.4 1381.8,346.1 1382,300.9 1382.2,342.5 1382.4,316.1 1382.6,275.8 1382.8,308.6 1382.9,331.8 1383.1,330.9 1383.3,305.5 1383.5,299.9 1383.7,319.3 1383.9,322.5 1384,318.5 1384.2,327.8 1384.4,370.1 1384.6,367.3 1384.8,318.1 1385,363.8 1385.1,382.4 1385.3,355.8 1385.5,346.2 1385.7,342.7 1385.9,323.6 1386.1,363.7 1386.2,352.2 1386.4,358.7 1386.6,304.5 1386.8,366.9 1387,362.4 1387.2,323.3 1387.3,337.1 1387.5,443.8 1387.7,325.5 1387.9,329.8 1388.1,348.3 1388.3,334.5 1388.4,329.7 1388.6,342.1 1388.8,364.9 1389,366.1 1389.2,381.1 1389.4,389.2 1389.5,396.8 1389.7,413.7 1389.9,420.8 1390.1,432 1390.3,440.2 1390.5,443.1 1390.6,475.4 1390.8,470.1 1391,468.4 1391.2,467.4 1391.4,441.4 1391.6,445.3 1391.7,447.9 1391.9,447.5 1392.1,435.2 1392.3,428.3 1392.5,433.2 1392.7,456.7 1392.8,464.1 1393,485 1393.2,457.5 1393.4,427 1393.6,465.6 1393.8,433.6 1393.9,435.6 1394.1,451.8 1394.3,451.2 1394.5,417.7 1394.7,376.7 1394.9,370.2 1395,375.8 1395.2,464.3 1395.4,363.8 1395.6,380.6 1395.8,341.1 1396,341.3 1396.2,327.1 1396.3,281.1 1396.5,300.3 1396.7,359.9 1396.9,344.9 1397.1,351.1 1397.3,338.1 1397.4,315.7 1397.6,371.7 1397.8,345.3 1398,328 1398.2,349.6 1398.4,314.7 1398.5,341 1398.7,342.8 1398.9,337.9 1399.1,350.4 1399.3,325.6 1399.5,330.2 1399.6,388.2 1399.8,341.3 1400,395.8 1400.2,383.9 1400.4,340.1 1400.6,351.7 1400.7,361.7 1400.9,385.3 1401.1,376.9 1401.3,374.3 1401.5,385.9 1401.7,350 1401.8,357.6 1402,355.6 1402.2,404.9 1402.4,398.5 1402.6,364.8 1402.8,354.5 1402.9,347.3 1403.1,365.5 1403.3,368.5 1403.5,366.3 1403.7,336.6 1403.9,341.8 1404,318.9 1404.2,349.8 1404.4,344 1404.6,356.2 1404.8,356.7 1405,351.8 1405.1,373.9 1405.3,360.6 1405.5,345.6 1405.7,371.4 1405.9,389 1406.1,362.3 1406.2,366.6 1406.4,351.4 1406.6,377.8 1406.8,366.2 1407,350.5 1407.2,350.5 1407.3,338.2 1407.5,348.2 1407.7,348.9 1407.9,338 1408.1,349.7 1408.3,359.1 1408.4,338.9 1408.6,352.8 1408.8,346.3 1409,352.6 1409.2,351.1 1409.4,363.7 1409.5,349.3 1409.7,355.8 1409.9,359.6 1410.1,358.1 1410.3,364.2 1410.5,342.3 1410.6,334.1 1410.8,371.2 1411,367 1411.2,384.7 1411.4,366 1411.6,359.2 1411.8,360.2 1411.9,390.3 1412.1,379.9 1412.3,355 1412.5,319.9 1412.7,367.4 1412.9,372 1413,385.8 1413.2,390.7 1413.4,418.9 1413.6,393 1413.8,393.6 1414,386.5 1414.1,376.4 1414.3,338.8 1414.5,360.7 1414.7,390.2 1414.9,407.7 1415.1,358.4 1415.2,401.9 1415.4,404.6 1415.6,394.7 1415.8,391.1 1416,368 1416.2,391.2 1416.3,382.3 1416.5,380.3 1416.7,373.5 1416.9,390.9 1417.1,409.3 1417.3,422.3 1417.4,438.8 1417.6,444.2 1417.8,462.6 1418,405.3 1418.2,440.1 1418.4,433.6 1418.5,418.2 1418.7,432.2 1418.9,429.5 1419.1,442 1419.3,435.3 1419.5,425.8 1419.6,415.7 1419.8,466.1 1420,450.6 1420.2,429.4 1420.4,432.9 1420.6,446.9 1420.7,442.8 1420.9,442.5 1421.1,440.6 1421.3,475.2 1421.5,450.6 1421.7,432.1 1421.8,446.8 1422,471.8 1422.2,463.6 1422.4,484.3 1422.6,462.8 1422.8,468.9 1422.9,472.9 1423.1,473.5 1423.3,478 1423.5,460.3 1423.7,467.1 1423.9,472.1 1424,465.2 1424.2,468 1424.4,482.3 1424.6,478.1 1424.8,485 1425,485 1425.1,465.3 1425.3,485 1425.5,476.9 1425.7,450.1"/>
<path class="d B" d="M164.5,485 164.7,210.5 164.9,202.4 165.1,195.1 165.3,273.4 165.5,257.9 165.7,264.3 165.9,219.5 166.1,188.5 166.4,211.2 166.6,207 166.8,262.7 167,207.2 167.2,220.5 167.4,138.3 167.6,157 167.8,163.5 168,190.2 168.2,166.7 168.4,164.8 168.6,192.2 168.8,188.4 169,178.2 169.2,188.6 169.4,183.5 169.6,173.2 169.9,169.5 170.1,130 170.3,187.8 170.5,119.8 170.7,163.3 170.9,167.2 171.1,183.7 171.3,148.4 171.5,155 171.7,142.2 171.9,157 172.1,122.5 172.3,72.7 172.5,124.1 172.7,142.1 172.9,98.3 173.2,128.3 173.4,105.3 173.6,103.3 173.8,150.4 174,183.2 174.2,119.8 174.4,93.9 174.6,108.9 174.8,70.3 175,64.5 175.2,93.5 175.4,27.3 175.6,23 175.8,26.6 176,23 176.2,23 176.4,23 176.7,60.4 176.9,64.8 177.1,58.1 177.3,114.5 177.5,129.9 177.7,94.4 177.9,51.5 178.1,70 178.3,140.1 178.5,133.8 178.7,85 178.9,86.9 179.1,77.1 179.3,44 179.5,32.3 179.7,60.7 179.9,68.1 180.2,126.5 180.4,115.2 180.6,59.2 180.8,44.7 181,42.2 181.2,55.7 181.4,44.3 181.6,59.3 181.8,132.6 182,94.1 182.2,45.6 182.4,64.2 182.6,102.1 182.8,23 183,76.1 183.2,73 183.4,43.1 183.7,50.6 183.9,106.2 184.1,34.3 184.3,81.7 184.5,106.5 184.7,106.1 184.9,173 185.1,114 185.3,93.9 185.5,125.6 185.7,289.7 185.9,108.2 186.1,97 186.3,70.9 186.5,114.4 186.7,119.2 186.9,86.1 187.2,60 187.4,130.9 187.6,114.5 187.8,159 188,62.9 188.2,72.9 188.4,52.4 188.6,100.5 188.8,114.1 189,48.7 189.2,59.2 189.4,115.9 189.6,116.7 189.8,53.3 190,47.2 190.2,23 190.5,93.2 190.7,87.8 190.9,89.4 191.1,136.3 191.3,92.4 191.5,24.7 191.7,93.3 191.9,114.5 192.1,125.9 192.3,61.1 192.5,68.8 192.7,87.8 192.9,111.8 193.1,96.8 193.3,109.1 193.5,140.9 193.7,128.9 194,222.4 194.2,201.9 194.4,164 194.6,159.4 194.8,181.3 195,113.6 195.2,89 195.4,100.9 195.6,87.2 195.8,67.4 196,90.3 196.2,125.6 196.4,81.8 196.6,48 196.8,115.9 197,81.5 197.2,96.2 197.5,105.5 197.7,99.3 197.9,54.5 198.1,39.8 198.3,55 198.5,103.4 198.7,63.3 198.9,44.1 199.1,25.7 199.3,40.2 199.5,37.6 199.7,35.9 199.9,57.3 200.1,110.1 200.3,93.7 200.5,145.8 200.7,207.6 201,169.6 201.2,82.1 201.4,214.3 201.6,246 201.8,186.6 202,140.7 202.2,193.3 202.4,180.5 202.6,198.7 202.8,170.5 203,118.9 203.2,125.2 203.4,131.4 203.6,79.3 203.8,73.8 204,97 204.3,75 204.5,78.7 204.7,93.9 204.9,31.7 205.1,81.8 205.3,103.5 205.5,137.6 205.7,101.5 205.9,28.6 206.1,101.8 206.3,61.6 206.5,83.8 206.7,54.7 206.9,60.4 207.1,97.8 207.3,72.5 207.5,55.7 207.8,48.9 208,51.6 208.2,55 208.4,23 208.6,23 208.8,49.8 209,88.8 209.2,61.7 209.4,66.3 209.6,39 209.8,23 210,88.5 210.2,84.2 210.4,111.2 210.6,93 210.8,90.1 211,29.2 211.3,73.3 211.5,81.6 211.7,28.1 211.9,118.6 212.1,42.7 212.3,38.8 212.5,62 212.7,93.3 212.9,91.1 213.1,89.6 213.3,81.7 213.5,165.7 213.7,100.5 213.9,74.5 214.1,107 214.3,130.2 214.5,78.6 214.8,78.6 215,24.3 215.2,23 215.4,79.3 215.6,134.3 215.8,89.6 216,98.2 216.2,42.6 216.4,28.7 216.6,77.5 216.8,31.5 217,64.6 217.2,118.4 217.4,180.5 217.6,171.6 217.8,214.3 218,153 218.3,181.8 218.5,168.5 218.7,229.1 218.9,277.6 219.1,193.1 219.3,172.8 219.5,161.8 219.7,236.2 219.9,215.4 220.1,184.1 220.3,225.3 220.5,234.8 220.7,206.5 220.9,134.2 221.1,262.1 221.3,289.6 221.6,290.6 221.8,285.5 222,259.7 222.2,269.9 222.4,266.8 222.6,275 222.8,259.1 223,261.2 223.2,232.2 223.4,120.7 223.6,172.5 223.8,123.4 224,149.3 224.2,129.8 224.4,134.4 224.6,161.7 224.8,103.1 225.1,76.1 225.3,52.1 225.5,54.8 225.7,39.8 225.9,72.8 226.1,93.1 226.3,147.5 226.5,76.4 226.7,23 226.9,60.5 227.1,45.9 227.3,73.7 227.5,70.6 227.7,23 227.9,40.7 228.1,23 228.3,53.3 228.6,99.6 228.8,149.9 229,74.6 229.2,139.5 229.4,140.5 229.6,23 229.8,35.4 230,40.5 230.2,63.3 230.4,67.2 230.6,57.8 230.8,59.6 231,63.3 231.2,66 231.4,156.6 231.6,48.9 231.8,90.1 232.1,36.8 232.3,45.2 232.5,98.7 232.7,44.2 232.9,56.5 233.1,105.6 233.3,96.3 233.5,85.2 233.7,159.7 233.9,90.1 234.1,71.8 234.3,100.5 234.5,133.4 234.7,75.2 234.9,23 235.1,25.3 235.4,83.7 235.6,105.8 235.8,75.8 236,82.2 236.2,99.5 236.4,78.3 236.6,41.9 236.8,62.4 237,147.9 237.2,35.9 237.4,163.7 237.6,37.5 237.8,70.7 238,40.6 238.2,40.1 238.4,157.6 238.6,23 238.9,80.6 239.1,155.4 239.3,162.3 239.5,71.4 239.7,101.5 239.9,46.5 240.1,70.5 240.3,71.1 240.5,36.3 240.7,62.9 240.9,46.8 241.1,46.2 241.3,60.4 241.5,46.7 241.7,66.8 241.9,138.9 242.1,92.1 242.4,80.4 242.6,100 242.8,130.4 243,82.7 243.2,50.1 243.4,48.4 243.6,29.9 243.8,112.3 244,111.1 244.2,114.2 244.4,115.8 244.6,138.1 244.8,157.8 245,77.3 245.2,52.3 245.4,64 245.6,126.7 245.9,75.4 246.1,23 246.3,82.7 246.5,69.8 246.7,75.4 246.9,35.5 247.1,29.3 247.3,23 247.5,74.1 247.7,103.5 247.9,152.5 248.1,138.6 248.3,149.9 248.5,158.5 248.7,176 248.9,120.6 249.1,193.3 249.4,177.2 249.6,222.9 249.8,176.1 250,172.6 250.2,267 250.4,252.8 250.6,290 250.8,298.3 251,317.9 251.2,403.2 251.4,335.8 251.6,336.8 251.8,334 252,309.4 252.2,236.3 252.4,261.7 252.7,207.3 252.9,221.1 253.1,247.9 253.3,200.2 253.5,257.4 253.7,210.7 253.9,204.4 254.1,274.4 254.3,271.6 254.5,238.6 254.7,144.6 254.9,216.8 255.1,214.7 255.3,142.9 255.5,158.5 255.7,156.4 255.9,185.8 256.2,205.8 256.4,150.6 256.6,156.6 256.8,161.2 257,139.1 257.2,109.5 257.4,47.3 257.6,45.3 257.8,62.6 258,107 258.2,124.6 258.4,70.1 258.6,61.1 258.8,55.3 259,101 259.2,102 259.4,99.3 259.7,218.8 259.9,122.4 260.1,91.4 260.3,142.9 260.5,90.2 260.7,60.3 260.9,79.4 261.1,78.7 261.3,123.5 261.5,84.8 261.7,87.2 261.9,58.3 262.1,73 262.3,70.2 262.5,25.1 262.7,87.2 262.9,126.9 263.2,140.8 263.4,136.9 263.6,149.2 263.8,98.8 264,152 264.2,196.3 264.4,222.6 264.6,240.7 264.8,202.7 265,153.2 265.2,167.9 265.4,188.7 265.6,325.5 265.8,220.5 266,131.9 266.2,144.4 266.5,99.1 266.7,150.1 266.9,149.4 267.1,131 267.3,131.7 267.5,65.5 267.7,96.1 267.9,79.4 268.1,77.2 268.3,93.7 268.5,65.9 268.7,57.5 268.9,23 269.1,68.2 269.3,66.2 269.5,97.4 269.7,94.8 270,81 270.2,43.4 270.4,73 270.6,53.2 270.8,101.6 271,120.2 271.2,145.8 271.4,36.2 271.6,23 271.8,88.2 272,40.2 272.2,74.2 272.4,112.5 272.6,73.4 272.8,124.6 273,85.4 273.2,37.5 273.5,91.1 273.7,112.4 273.9,45.3 274.1,131.9 274.3,96.4 274.5,99.8 274.7,95.1 274.9,126.1 275.1,124.6 275.3,26.4 275.5,125.7 275.7,142.6 275.9,175.4 276.1,70.3 276.3,23 276.5,23 276.7,23 277,23 277.2,63.2 277.4,65.5 277.6,36.3 277.8,84.7 278,91.6 278.2,125.3 278.4,67.7 278.6,23 278.8,85.3 279,95.4 279.2,168.4 279.4,36.3 279.6,59.3 279.8,34.2 280,84.3 280.2,127 280.5,125.3 280.7,56.3 280.9,91.1 281.1,114.7 281.3,88.1 281.5,95.6 281.7,62.2 281.9,107.9 282.1,133.8 282.3,85.7 282.5,85.3 282.7,23 282.9,104 283.1,122.5 283.3,80.8 283.5,87.9 283.8,81.1 284,90.6 284.2,130.2 284.4,94.8 284.6,101.4 284.8,134.9 285,99.3 285.2,88.4 285.4,149.9 285.6,132.2 285.8,102.3 286,91.2 286.2,80.7 286.4,136.9 286.6,77.5 286.8,65.5 287,48.5 287.3,127.9 287.5,151.6 287.7,162.5 287.9,76.6 288.1,66.6 288.3,124 288.5,83.6 288.7,71.9 288.9,90.4 289.1,133.7 289.3,118.6 289.5,159.6 289.7,188.5 289.9,167 290.1,183.2 290.3,215.4 290.5,157.9 290.8,133.6 291,224.8 291.2,145.3 291.4,136.1 291.6,161.5 291.8,158.5 292,171 292.2,143.9 292.4,230.6 292.6,234 292.8,287.4 293,230.6 293.2,260.5 293.4,342.1 293.6,326 293.8,302.5 294,345 294.3,344.8 294.5,393.2 294.7,287.6 294.9,236.3 295.1,281 295.3,232.2 295.5,217.6 295.7,207.2 295.9,182.7 296.1,166.7 296.3,154.7 296.5,27.9 296.7,28 296.9,90.8 297.1,60.9 297.3,147.5 297.6,116.1 297.8,87.7 298,163.5 298.2,161.6 298.4,124.4 298.6,162.7 298.8,40.9 299,83.5 299.2,97.1 299.4,95.5 299.6,148.6 299.8,132 300,74.1 300.2,74.4 300.4,100.2 300.6,112.3 300.8,112.3 301.1,64.9 301.3,165.4 301.5,140.2 301.7,138.3 301.9,173 302.1,161.9 302.3,132 302.5,56.8 302.7,36.9 302.9,106.9 303.1,166 303.3,125.3 303.5,111.8 303.7,118.4 303.9,115.4 304.1,106.1 304.3,183.2 304.6,121.7 304.8,89.8 305,72.9 305.2,89.6 305.4,94.2 305.6,101.3 305.8,106.7 306,87.6 306.2,102.8 306.4,100.6 306.6,34.1 306.8,52.1 307,104.6 307.2,67.5 307.4,53.2 307.6,93.9 307.8,103.2 308.1,112.2 308.3,188.8 308.5,159.1 308.7,89.2 308.9,89.9 309.1,55.2 309.3,105.1 309.5,41.5 309.7,28.4 309.9,23 310.1,119.9 310.3,98.9 310.5,77 310.7,88.6 310.9,132.4 311.1,128.5 311.3,233.1 311.6,23 311.8,101.8 312,105.2 312.2,121.3 312.4,93.4 312.6,73.8 312.8,103.8 313,74.4 313.2,23 313.4,70.1 313.6,100.1 313.8,119.9 314,116.2 314.2,142.5 314.4,118.1 314.6,149.2 314.9,142.4 315.1,138.5 315.3,154.3 315.5,81.2 315.7,23 315.9,135.5 316.1,151.7 316.3,72.1 316.5,88.3 316.7,32.4 316.9,95.6 317.1,96.2 317.3,173.4 317.5,193.5 317.7,129.7 317.9,117.5 318.1,167.9 318.4,179.2 318.6,146.9 318.8,133.1 319,123.3 319.2,94.4 319.4,31.8 319.6,123.8 319.8,146.7 320,145.7 320.2,101.2 320.4,163.3 320.6,68.4 320.8,128.3 321,167.7 321.2,112.5 321.4,116.4 321.6,100.1 321.9,188.2 322.1,144.1 322.3,151.3 322.5,149.9 322.7,224.3 322.9,186.8 323.1,103.2 323.3,155.9 323.5,207.7 323.7,147.4 323.9,180.4 324.1,174.5 324.3,167.7 324.5,98 324.7,152.8 324.9,124 325.1,141 325.4,180.9 325.6,138.5 325.8,111.4 326,180.5 326.2,116.9 326.4,122.2 326.6,101.7 326.8,98.2 327,97.2 327.2,117.1 327.4,109.7 327.6,142.2 327.8,126 328,82 328.2,125.4 328.4,75.2 328.7,95.1 328.9,154.6 329.1,114.3 329.3,146.6 329.5,119.2 329.7,149.3 329.9,110.1 330.1,333 330.3,144.2 330.5,49.3 330.7,111.2 330.9,183 331.1,119.7 331.3,122.4 331.5,45.8 331.7,115.4 331.9,101.6 332.2,118.2 332.4,103.9 332.6,148.7 332.8,158.5 333,152.3 333.2,139.3 333.4,104.7 333.6,124.8 333.8,139.3 334,137.9 334.2,145.2 334.4,127.5 334.6,191.3 334.8,112 335,79.7 335.2,133.2 335.4,143.6 335.7,135.1 335.9,164.5 336.1,147.2 336.3,110.6 336.5,133.4 336.7,54.1 336.9,109.8 337.1,129.3 337.3,149.8 337.5,153.4 337.7,205.3 337.9,109.3 338.1,86 338.3,109.1 338.5,137.5 338.7,98.6 338.9,103.9 339.2,128.3 339.4,107.1 339.6,100.3 339.8,122.8 340,150.9 340.2,134.4 340.4,151.2 340.6,192 340.8,127.6 341,151.3 341.2,223.8 341.4,177.4 341.6,65.1 341.8,118.5 342,94.4 342.2,142.7 342.4,79.9 342.7,130.5 342.9,168.4 343.1,128.2 343.3,63.9 343.5,49.6 343.7,122.8 343.9,160.9 344.1,156.5 344.3,97.8 344.5,88.9 344.7,124.5 344.9,125.6 345.1,101.7 345.3,119.9 345.5,144.3 345.7,200.4 346,135.8 346.2,76.9 346.4,124 346.6,48 346.8,124.6 347,146.9 347.2,117.4 347.4,120.1 347.6,162.4 347.8,131.7 348,137.4 348.2,86.6 348.4,142.9 348.6,143.2 348.8,200.3 349,184.6 349.2,145.2 349.5,173 349.7,141.5 349.9,124 350.1,125.8 350.3,185.9 350.5,124.2 350.7,108.5 350.9,159.6 351.1,185.5 351.3,142 351.5,76.7 351.7,118.8 351.9,91.4 352.1,150.3 352.3,123.4 352.5,206.9 352.7,158.7 353,127.9 353.2,82.4 353.4,115.5 353.6,98.2 353.8,159.2 354,139.5 354.2,78.1 354.4,80.2 354.6,87.8 354.8,107.8 355,150.8 355.2,71 355.4,139.6 355.6,103.7 355.8,139.6 356,235 356.2,241.5 356.5,219.7 356.7,148.7 356.9,112.9 357.1,158.9 357.3,145.3 357.5,215.4 357.7,192.8 357.9,195.3 358.1,176.4 358.3,223.1 358.5,181.9 358.7,172.9 358.9,226.9 359.1,251.7 359.3,259.6 359.5,299.7 359.8,292.7 360,241.6 360.2,289.4 360.4,354.5 360.6,318 360.8,273.5 361,249.5 361.2,238.4 361.4,221 361.6,241.8 361.8,225.2 362,196.2 362.2,149.1 362.4,148.9 362.6,113.7 362.8,154.5 363,222.6 363.3,242.5 363.5,240.8 363.7,209.8 363.9,165.6 364.1,244.5 364.3,253 364.5,170.2 364.7,132.2 364.9,116.9 365.1,92.2 365.3,163.9 365.5,184.2 365.7,172.9 365.9,203.9 366.1,157.3 366.3,77.3 366.5,60 366.8,95 367,135 367.2,157.1 367.4,159.3 367.6,217.7 367.8,128.8 368,122.9 368.2,161.4 368.4,167.6 368.6,209.2 368.8,114.9 369,154.3 369.2,268.3 369.4,181.1 369.6,130.9 369.8,111.5 370,203.6 370.3,152.4 370.5,98 370.7,133 370.9,161.5 371.1,170.4 371.3,158.5 371.5,169.3 371.7,126.4 371.9,180.6 372.1,131.7 372.3,107.2 372.5,107.4 372.7,152.3 372.9,154.7 373.1,143.3 373.3,152.9 373.5,126.5 373.8,160.1 374,75.6 374.2,70.3 374.4,195.5 374.6,172.1 374.8,218.9 375,139.9 375.2,159.1 375.4,190.6 375.6,219.4 375.8,167.3 376,95 376.2,122.7 376.4,191.7 376.6,219.3 376.8,200.9 377.1,235 377.3,237.3 377.5,205.6 377.7,132.5 377.9,141 378.1,161.6 378.3,215.1 378.5,202.2 378.7,124.9 378.9,156.7 379.1,121.1 379.3,183.1 379.5,129.4 379.7,159.8 379.9,187.1 380.1,168.1 380.3,87.7 380.6,137.6 380.8,175.3 381,171.3 381.2,218.3 381.4,86.6 381.6,114 381.8,179.4 382,182.2 382.2,274.2 382.4,127.5 382.6,142.4 382.8,143.2 383,127 383.2,162.5 383.4,209.5 383.6,201.6 383.8,172.7 384.1,136.8 384.3,181.9 384.5,202.1 384.7,181.7 384.9,211.7 385.1,93.6 385.3,178.6 385.5,220.3 385.7,173 385.9,141.3 386.1,148.3 386.3,128.6 386.5,244.4 386.7,149.9 386.9,214.3 387.1,175.1 387.3,176.9 387.6,294 387.8,286.9 388,260.6 388.2,306 388.4,295 388.6,200.1 388.8,171.8 389,228.6 389.2,160.5 389.4,56.4 389.6,198.6 389.8,219.8 390,213.8 390.2,204.2 390.4,224.2 390.6,195.2 390.8,212.7 391.1,201.8 391.3,241.8 391.5,250.6 391.7,286.6 391.9,285.9 392.1,237.1 392.3,226 392.5,188.8 392.7,201.4 392.9,192.3 393.1,99.6 393.3,170.7 393.5,158.1 393.7,227.7 393.9,144.5 394.1,141.3 394.4,170.8 394.6,203.5 394.8,130.5 395,216.8 395.2,249.4 395.4,226.4 395.6,159.4 395.8,177.6 396,117.2 396.2,119.2 396.4,101.6 396.6,153.6 396.8,173.9 397,189.3 397.2,221.2 397.4,223.9 397.6,206.8 397.9,177.6 398.1,214.7 398.3,173.3 398.5,168.4 398.7,293.7 398.9,229.9 399.1,228.4 399.3,212 399.5,260.9 399.7,191.5 399.9,96.6 400.1,238.4 400.3,179.7 400.5,167.7 400.7,192.2 400.9,206.4 401.1,149.5 401.4,264.7 401.6,217.1 401.8,196.2 402,194.5 402.2,136 402.4,184.9 402.6,101.2 402.8,165.2 403,113.9 403.2,172 403.4,201.9 403.6,189.4 403.8,150.4 404,213.7 404.2,197.3 404.4,247.9 404.6,265.2 404.9,159.8 405.1,171.8 405.3,224.5 405.5,163.2 405.7,212.5 405.9,260.5 406.1,209.2 406.3,139.2 406.5,136.8 406.7,144.7 406.9,69.4 407.1,184.2 407.3,238.1 407.5,234.3 407.7,129.4 407.9,202.2 408.2,201 408.4,222.5 408.6,211.9 408.8,187.4 409,151.5 409.2,150.3 409.4,152.4 409.6,136.2 409.8,199.5 410,217.4 410.2,198.1 410.4,254.5 410.6,134.5 410.8,148.3 411,167.3 411.2,232.4 411.4,200 411.7,188.7 411.9,228 412.1,354.9 412.3,192.9 412.5,189.6 412.7,209.8 412.9,129.4 413.1,92.5 413.3,169.7 413.5,205.7 413.7,190.8 413.9,125.7 414.1,170.6 414.3,161.9 414.5,186.6 414.7,197.8 414.9,125.1 415.2,186.4 415.4,194.4 415.6,247.1 415.8,82.4 416,155.8 416.2,198.4 416.4,229.9 416.6,246.3 416.8,269.6 417,195.3 417.2,247.2 417.4,204.6 417.6,201.7 417.8,157.2 418,231.8 418.2,235.8 418.4,254.5 418.7,298.2 418.9,286.3 419.1,259.3 419.3,237.1 419.5,259.9 419.7,274.9 419.9,216.5 420.1,283.2 420.3,292.2 420.5,174 420.7,234.3 420.9,244.3 421.1,257.9 421.3,201.7 421.5,130 421.7,166.5 421.9,91.8 422.2,169.1 422.4,140.2 422.6,196.3 422.8,218.9 423,211.2 423.2,217.9 423.4,249.5 423.6,230.1 423.8,151.4 424,124.9 424.2,170.9 424.4,186 424.6,201.8 424.8,130.9 425,160.6 425.2,244.8 425.5,196.7 425.7,227 425.9,248.6 426.1,131.7 426.3,160.1 426.5,186.6 426.7,168 426.9,245.3 427.1,222.2 427.3,209.2 427.5,275.6 427.7,275.8 427.9,326 428.1,265.8 428.3,272 428.5,335.1 428.7,310.6 429,258.2 429.2,207.2 429.4,265.1 429.6,259.3 429.8,204.7 430,178.1 430.2,265.5 430.4,192.2 430.6,143.3 430.8,196.4 431,195.5 431.2,176.2 431.4,227 431.6,115.6 431.8,195.3 432,224.1 432.2,204.6 432.5,207.5 432.7,217.2 432.9,244.1 433.1,210 433.3,234.8 433.5,136.9 433.7,232.9 433.9,228.5 434.1,221.9 434.3,171.5 434.5,195.7 434.7,155.1 434.9,229.3 435.1,227.2 435.3,240.8 435.5,253.7 435.7,213.7 436,227.1 436.2,264 436.4,367.5 436.6,319.6 436.8,383.3 437,392.2 437.2,409.6 437.4,364.2 437.6,293.5 437.8,245 438,246.3 438.2,330.3 438.4,300.1 438.6,252.9 438.8,240.6 439,246.4 439.3,297.8 439.5,220.1 439.7,185.6 439.9,202.4 440.1,217.1 440.3,235.4 440.5,188.7 440.7,135.2 440.9,175.8 441.1,153.7 441.3,154.4 441.5,247.4 441.7,182.9 441.9,185.7 442.1,162.7 442.3,219.3 442.5,219.4 442.8,231.4 443,202.8 443.2,213.7 443.4,202.1 443.6,194.5 443.8,236.7 444,252.1 444.2,216.2 444.4,210.7 444.6,168 444.8,154.5 445,235.4 445.2,289.7 445.4,178.4 445.6,223.3 445.8,254.6 446,204.1 446.3,151.1 446.5,286.6 446.7,265.8 446.9,251.2 447.1,355.1 447.3,241.8 447.5,186 447.7,209.3 447.9,215.6 448.1,237.6 448.3,201.1 448.5,98.9 448.7,176.1 448.9,164.7 449.1,252.8 449.3,197.1 449.5,197.2 449.8,234.3 450,307.2 450.2,226.9 450.4,156.9 450.6,197.8 450.8,237.2 451,196 451.2,276.2 451.4,182.9 451.6,199.7 451.8,242.5 452,269.8 452.2,275.4 452.4,200.8 452.6,129.8 452.8,171.3 453,182.7 453.3,182.5 453.5,240.9 453.7,234.6 453.9,348.4 454.1,272.9 454.3,281.2 454.5,281.4 454.7,285.2 454.9,267.5 455.1,305.2 455.3,254.5 455.5,284.4 455.7,247.8 455.9,260.6 456.1,239.5 456.3,257 456.6,292.1 456.8,283.2 457,321.2 457.2,261.4 457.4,262.5 457.6,290.8 457.8,293.5 458,258.4 458.2,258.8 458.4,286.1 458.6,463 458.8,356.1 459,310 459.2,329.5 459.4,378.1 459.6,232.9 459.8,273.1 460.1,322.5 460.3,245.2 460.5,291.2 460.7,273.1 460.9,308.1 461.1,298 461.3,272 461.5,270.1 461.7,308.8 461.9,280.4 462.1,311.5 462.3,310.8 462.5,333.1 462.7,318.7 462.9,293.3 463.1,418 463.3,425.8 463.6,418 463.8,473.7 464,485 464.2,485 464.4,485 464.6,485 464.8,485 465,484.3 465.2,477.8 465.4,434.2 465.6,397.4 465.8,359.4 466,365.1 466.2,263.9 466.4,253.3 466.6,208.1 466.8,233.6 467.1,247.7 467.3,367.6 467.5,255.7 467.7,182.1 467.9,234.2 468.1,249 468.3,210.9 468.5,238.4 468.7,231.7 468.9,259.9 469.1,197.8 469.3,172.6 469.5,218.5 469.7,220.6 469.9,246.2 470.1,217.1 470.4,255.1 470.6,283.4 470.8,254.9 471,238.4 471.2,202.4 471.4,199.1 471.6,240.6 471.8,229.4 472,200.4 472.2,248.4 472.4,226.2 472.6,220.9 472.8,221.4 473,224.5 473.2,159.3 473.4,201.6 473.6,251.3 473.9,293.3 474.1,249.5 474.3,242.2 474.5,286.3 474.7,154.7 474.9,238.2 475.1,229.3 475.3,219.8 475.5,277.1 475.7,216.7 475.9,214.1 476.1,200 476.3,255.5 476.5,197 476.7,189.7 476.9,233.1 477.1,267.6 477.4,286 477.6,304.7 477.8,249.8 478,208 478.2,183.7 478.4,205 478.6,218.5 478.8,283.2 479,302.1 479.2,345.5 479.4,332.3 479.6,353.3 479.8,329 480,324.2 480.2,364.3 480.4,385.6 480.6,370.6 480.9,366.5 481.1,404.3 481.3,468.2 481.5,392.1 481.7,457.5 481.9,465.4 482.1,411.6 482.3,381 482.5,444.2 482.7,322.5 482.9,330.4 483.1,315.5 483.3,352 483.5,317.6 483.7,308.5 483.9,245.3 484.1,287.6 484.4,254.5 484.6,286.8 484.8,292 485,210.2 485.2,195.9 485.4,193 485.6,243 485.8,222.5 486,206.1 486.2,216 486.4,199.9 486.6,159.1 486.8,232.2 487,201.7 487.2,226.8 487.4,178.3 487.7,233.7 487.9,246.1 488.1,203 488.3,223.4 488.5,240.7 488.7,238 488.9,243.7 489.1,209.8 489.3,202 489.5,176.9 489.7,233 489.9,176.7 490.1,212.5 490.3,246.6 490.5,190.3 490.7,262.7 490.9,218.6 491.2,264.1 491.4,210.6 491.6,232.1 491.8,237.5 492,272 492.2,229.2 492.4,182.9 492.6,195.3 492.8,214.1 493,214.7 493.2,212.7 493.4,173.5 493.6,205.4 493.8,196.8 494,266.7 494.2,249.4 494.4,192.1 494.7,241.8 494.9,216.6 495.1,203.1 495.3,192.4 495.5,198.2 495.7,197.4 495.9,176.8 496.1,210.3 496.3,199.2 496.5,213.3 496.7,199.9 496.9,171.8 497.1,231.7 497.3,273.8 497.5,212.5 497.7,202.3 497.9,179.6 498.2,233.4 498.4,245.8 498.6,211.2 498.8,183.9 499,226.4 499.2,191.6 499.4,206.8 499.6,215.7 499.8,243.3 500,227.5 500.2,245 500.4,226.8 500.6,239 500.8,213 501,250.6 501.2,258.8 501.5,303.4 501.7,264.8 501.9,214 502.1,289.1 502.3,311 502.5,284.7 502.7,295.6 502.9,297.2 503.1,291.6 503.3,286.7 503.5,264.8 503.7,359.9 503.9,258.1 504.1,245.9 504.3,263.6 504.5,200.1 504.7,241.8 505,241.1 505.2,241.3 505.4,222 505.6,262.2 505.8,203.4 506,176.6 506.2,212.2 506.4,208.9 506.6,235 506.8,206.5 507,235.9 507.2,228.5 507.4,212.7 507.6,187.2 507.8,247.5 508,271.6 508.2,220.8 508.5,210.9 508.7,215.3 508.9,213.7 509.1,193.4 509.3,205.6 509.5,209.3 509.7,240.5 509.9,243.1 510.1,190.2 510.3,228.1 510.5,183.3 510.7,196.2 510.9,238.1 511.1,223.9 511.3,201.1 511.5,198.1 511.7,238.1 512,225.8 512.2,240.7 512.4,244.7 512.6,217.5 512.8,236.8 513,256.3 513.2,209.5 513.4,227.9 513.6,234.1 513.8,234.8 514,199.1 514.2,205.4 514.4,207.5 514.6,391.7 514.8,199.2 515,182.6 515.2,212.5 515.5,213.6 515.7,222.4 515.9,207 516.1,224.4 516.3,224.8 516.5,192.7 516.7,220.6 516.9,236.2 517.1,230.3 517.3,224.4 517.5,226.4 517.7,182.7 517.9,213.1 518.1,238 518.3,196.6 518.5,220.2 518.8,218.9 519,226 519.2,211.8 519.4,208.9 519.6,204.7 519.8,221.2 520,281.1 520.2,241 520.4,234.4 520.6,247.7 520.8,263.4 521,241.5 521.2,244.6 521.4,268 521.6,234.8 521.8,212.1 522,231.7 522.3,224 522.5,217 522.7,207.1 522.9,204.5 523.1,207.1 523.3,225.2 523.5,225.8 523.7,231.2 523.9,231.9 524.1,235.4 524.3,223.1 524.5,233.3 524.7,274.1 524.9,277.1 525.1,230.5 525.3,248.8 525.5,255.2 525.8,205.1 526,205 526.2,249.8 526.4,242.1 526.6,237.6 526.8,236.3 527,229 527.2,241.9 527.4,223.4 527.6,225.3 527.8,209.4 528,227.3 528.2,205.9 528.4,197.9 528.6,213.3 528.8,216.1 529,233.5 529.3,212.8 529.5,174.9 529.7,197.2 529.9,220.1 530.1,226.7 530.3,217.7 530.5,210.9 530.7,256 530.9,220.1 531.1,233.7 531.3,203.1 531.5,244.9 531.7,208.1 531.9,226.8 532.1,211.2 532.3,187.8 532.6,216.5 532.8,204.9 533,218.9 533.2,238.1 533.4,214.7 533.6,201 533.8,214.9 534,221.2 534.2,227.6 534.4,194.7 534.6,225.4 534.8,190.4 535,216.3 535.2,213.7 535.4,247.7 535.6,222.4 535.8,237.4 536.1,212.6 536.3,194.4 536.5,212.8 536.7,214.6 536.9,210.9 537.1,245.1 537.3,229.9 537.5,233.8 537.7,212.5 537.9,234.8 538.1,189.6 538.3,201.1 538.5,264.1 538.7,231.6 538.9,247.7 539.1,206.5 539.3,236.3 539.6,210.3 539.8,218.9 540,246.4 540.2,245.6 540.4,203.5 540.6,229.9 540.8,208.2 541,192.8 541.2,220.9 541.4,233.9 541.6,238.4 541.8,222.6 542,251.9 542.2,263.8 542.4,247.2 542.6,253.8 542.8,263.8 543.1,236.6 543.3,218.3 543.5,217.8 543.7,201 543.9,222.7 544.1,252.5 544.3,284.6 544.5,242.8 544.7,232.6 544.9,252.2 545.1,227.8 545.3,263.3 545.5,236.5 545.7,217.6 545.9,204.2 546.1,222.8 546.3,193.6 546.6,240.6 546.8,254.4 547,215.9 547.2,199.3 547.4,219.8 547.6,191.5 547.8,214.6 548,195.3 548.2,252.6 548.4,195 548.6,261.7 548.8,236.2 549,249.2 549.2,225.1 549.4,234.7 549.6,228.9 549.9,210.6 550.1,211 550.3,229.7 550.5,215 550.7,268 550.9,261 551.1,258.5 551.3,225.6 551.5,226.9 551.7,252 551.9,267.4 552.1,268.1 552.3,233.4 552.5,232.9 552.7,260.1 552.9,250.5 553.1,250.4 553.4,234.6 553.6,231.4 553.8,268.2 554,233.7 554.2,213.1 554.4,236.9 554.6,194.6 554.8,201 555,245.7 555.2,235.4 555.4,213.9 555.6,266.2 555.8,257.6 556,265.7 556.2,237.2 556.4,231.6 556.6,228.4 556.9,235.4 557.1,255 557.3,215.9 557.5,239.6 557.7,237.6 557.9,211.9 558.1,243.7 558.3,244.3 558.5,238.2 558.7,230.7 558.9,266.4 559.1,271.7 559.3,318.4 559.5,276.8 559.7,222 559.9,225.9 560.1,262.7 560.4,272.1 560.6,275 560.8,264.6 561,257.5 561.2,269.2 561.4,237.1 561.6,240.8 561.8,257.7 562,255 562.2,249.2 562.4,240.6 562.6,228.9 562.8,224.2 563,257.2 563.2,231.7 563.4,222.3 563.7,214.7 563.9,208 564.1,220.9 564.3,192 564.5,181.5 564.7,207.2 564.9,193.3 565.1,206.5 565.3,295.5 565.5,225.6 565.7,203.2 565.9,181.3 566.1,220.5 566.3,233.5 566.5,223.9 566.7,208 566.9,226 567.2,201 567.4,208.6 567.6,211.3 567.8,198.8 568,244.4 568.2,232.9 568.4,224.8 568.6,221.3 568.8,248.2 569,227.2 569.2,204.9 569.4,232 569.6,214.4 569.8,237.6 570,243.2 570.2,216.4 570.4,206.8 570.7,485 570.9,251.2 571.1,239 571.3,233.1 571.5,233.7 571.7,240 571.9,220.2 572.1,243.9 572.3,214.8 572.5,250.9 572.7,239.6 572.9,206.1 573.1,218.8 573.3,238.8 573.5,242.2 573.7,237 573.9,231.9 574.2,223.3 574.4,217.5 574.6,243.8 574.8,229.8 575,231.2 575.2,244.5 575.4,198.6 575.6,197.7 575.8,231.7 576,257.8 576.2,236.6 576.4,220.9 576.6,271.8 576.8,266.3 577,238.8 577.2,222.4 577.4,217 577.7,224.9 577.9,275.4 578.1,244.9 578.3,250.6 578.5,242.1 578.7,214.2 578.9,223.7 579.1,240.2 579.3,223.7 579.5,222.9 579.7,210.6 579.9,238 580.1,222.4 580.3,239.7 580.5,221.8 580.7,229.1 581,225.8 581.2,228.1 581.4,213.1 581.6,249.3 581.8,253.5 582,243.1 582.2,224 582.4,221.7 582.6,233.8 582.8,242 583,238.4 583.2,235.1 583.4,220.5 583.6,229.9 583.8,228 584,232 584.2,229.1 584.5,223.4 584.7,245.7 584.9,228.6 585.1,232 585.3,238.2 585.5,203.8 585.7,228.9 585.9,239.2 586.1,485"/>
<path class="d B" d="M617.9,485 618.1,217.1 618.3,191.4 618.5,164 618.7,206.9 618.9,159.4 619.1,163 619.3,193.3 619.5,192.2 619.7,170 619.9,157.4 620.1,145.1 620.3,161.8 620.5,157.4 620.7,198.3 620.8,208.2 621,220.2 621.2,202.7 621.4,182.1 621.6,179.4 621.8,195.1 622,164.4 622.2,185.8 622.4,199.3 622.6,191.9 622.8,152.5 623,194.9 623.2,215.2 623.4,197 623.6,158.1 623.8,192.8 624,159.4 624.2,174.9 624.4,227.3 624.6,166.9 624.8,202.6 625,214.4 625.2,197.8 625.4,176.8 625.6,179.1 625.8,181.6 626,192.9 626.2,152.9 626.4,147.4 626.5,143.9 626.7,154.5 626.9,137.6 627.1,138.8 627.3,166.5 627.5,166.7 627.7,176.1 627.9,177 628.1,181.9 628.3,224.3 628.5,197.3 628.7,192.8 628.9,234.4 629.1,204.8 629.3,160 629.5,205.9 629.7,188.1 629.9,345.7 630.1,198 630.3,203.2 630.5,193.4 630.7,198.2 630.9,202.2 631.1,182.9 631.3,158.3 631.5,175.5 631.7,158 631.9,173.5 632.1,168.2 632.2,172.3 632.4,183.4 632.6,173.7 632.8,179.8 633,191.6 633.2,160.3 633.4,161.4 633.6,168.7 633.8,192.4 634,208.1 634.2,136.2 634.4,172.9 634.6,194.1 634.8,147.1 635,166.5 635.2,143.5 635.4,150.3 635.6,127.2 635.8,144 636,143.3 636.2,136.3 636.4,121.7 636.6,156.6 636.8,112 637,124.1 637.2,140.5 637.4,129.6 637.6,134.3 637.7,117.3 637.9,103.6 638.1,123.3 638.3,92.1 638.5,93 638.7,95.4 638.9,85.7 639.1,112.6 639.3,90.9 639.5,64.7 639.7,115.2 639.9,117.3 640.1,106.8 640.3,102.8 640.5,126.6 640.7,127 640.9,156 641.1,144 641.3,139.8 641.5,140.4 641.7,120.9 641.9,103.1 642.1,131.8 642.3,144.2 642.5,115.1 642.7,125.9 642.9,146.6 643.1,122.7 643.3,144.6 643.4,135.7 643.6,129.9 643.8,108.6 644,139 644.2,129.8 644.4,119.3 644.6,103.3 644.8,107.6 645,138.5 645.2,101.2 645.4,113.6 645.6,99.1 645.8,105.4 646,130.6 646.2,121.3 646.4,126.2 646.6,106.9 646.8,88.2 647,122.4 647.2,199.4 647.4,79 647.6,144.3 647.8,125.6 648,130.3 648.2,145.8 648.4,104 648.6,102.9 648.8,128.4 649,124.5 649.1,134.6 649.3,155.6 649.5,123.7 649.7,148.5 649.9,139.8 650.1,108.7 650.3,106.2 650.5,132.5 650.7,93.7 650.9,91.4 651.1,126.8 651.3,123.2 651.5,121.3 651.7,136 651.9,137.8 652.1,108.6 652.3,113.4 652.5,136.3 652.7,140.7 652.9,143 653.1,148.3 653.3,152.7 653.5,147 653.7,104.7 653.9,121.9 654.1,102.5 654.3,83.2 654.5,120.7 654.7,114 654.8,151 655,129.6 655.2,110.5 655.4,136.6 655.6,159.1 655.8,153 656,121.7 656.2,133.9 656.4,105.8 656.6,117.2 656.8,128.5 657,121.6 657.2,108 657.4,127.5 657.6,145.2 657.8,127.5 658,138.3 658.2,131.7 658.4,114 658.6,117.8 658.8,109.8 659,133.3 659.2,135.3 659.4,132.4 659.6,124.6 659.8,144.5 660,136 660.2,143.8 660.4,138.2 660.5,120.9 660.7,88 660.9,136.2 661.1,130.1 661.3,239.1 661.5,140.6 661.7,129.9 661.9,98.3 662.1,126.9 662.3,96.5 662.5,118.6 662.7,140.7 662.9,135.2 663.1,129.2 663.3,131.4 663.5,92.6 663.7,105.3 663.9,107.4 664.1,130.7 664.3,109.2 664.5,119 664.7,74.7 664.9,121.7 665.1,116.5 665.3,122 665.5,140.4 665.7,139.7 665.9,130 666.1,114.5 666.2,141 666.4,126.5 666.6,122.5 666.8,139.4 667,154.4 667.2,148.5 667.4,138.5 667.6,136.7 667.8,104.4 668,117 668.2,122.6 668.4,135.5 668.6,113.7 668.8,133 669,146.1 669.2,128.9 669.4,87.7 669.6,144.4 669.8,138.9 670,103.2 670.2,113.2 670.4,121.1 670.6,101 670.8,152.3 671,139.3 671.2,143.4 671.4,92.6 671.6,106.2 671.7,71.6 671.9,114.7 672.1,123.5 672.3,154.3 672.5,156.4 672.7,140.4 672.9,125.3 673.1,357.6 673.3,175.1 673.5,112.8 673.7,124.4 673.9,154.3 674.1,127.7 674.3,119.1 674.5,138.9 674.7,190.9 674.9,172.2 675.1,187.4 675.3,171.7 675.5,207.7 675.7,240.6 675.9,228.8 676.1,241.6 676.3,293.9 676.5,298.6 676.7,291.8 676.9,287.3 677.1,291.5 677.3,303.5 677.4,280.6 677.6,237.6 677.8,219.7 678,224.7 678.2,184.4 678.4,149.1 678.6,176.8 678.8,175.6 679,164.5 679.2,136.6 679.4,136.5 679.6,138.3 679.8,143.1 680,127.1 680.2,126.3 680.4,136.7 680.6,124.3 680.8,160.3 681,118.8 681.2,131.5 681.4,106.9 681.6,97.1 681.8,129.9 682,132.7 682.2,125.1 682.4,97.7 682.6,100.7 682.8,122.4 683,106.1 683.1,87.7 683.3,121.2 683.5,156.4 683.7,142.6 683.9,131.9 684.1,120.5 684.3,129.4 684.5,103.1 684.7,132.5 684.9,106.2 685.1,138.7 685.3,108.7 685.5,125.9 685.7,99.9 685.9,87.5 686.1,92.7 686.3,110.3 686.5,141.9 686.7,152.1 686.9,174.8 687.1,87.9 687.3,95.6 687.5,107 687.7,130.2 687.9,73.9 688.1,132.6 688.3,112.1 688.5,157.2 688.7,124.9 688.8,94.2 689,108.8 689.2,145 689.4,121.6 689.6,113.3 689.8,155.1 690,122.4 690.2,152.8 690.4,114.2 690.6,127.4 690.8,111.2 691,140.7 691.2,136.4 691.4,137 691.6,198 691.8,23 692,144.1 692.2,126.6 692.4,107.6 692.6,118.2 692.8,92.1 693,97.7 693.2,106.6 693.4,136.9 693.6,104.1 693.8,86.7 694,95.8 694.2,92.4 694.4,102.9 694.5,153.5 694.7,116.5 694.9,119 695.1,140 695.3,155.1 695.5,127.8 695.7,124.4 695.9,83.3 696.1,103.9 696.3,139.6 696.5,150.1 696.7,143.6 696.9,129.2 697.1,128.9 697.3,97.1 697.5,150.9 697.7,132.5 697.9,131.2 698.1,134.8 698.3,161.6 698.5,143.5 698.7,129.7 698.9,129.4 699.1,142.1 699.3,129.3 699.5,109.4 699.7,90.8 699.9,142.7 700.1,104.6 700.2,103.6 700.4,148.8 700.6,101.6 700.8,111.3 701,130.7 701.2,111.2 701.4,107.4 701.6,134.4 701.8,131.7 702,147.9 702.2,131.9 702.4,117.3 702.6,108.6 702.8,86.2 703,126.6 703.2,137 703.4,98.4 703.6,100 703.8,114 704,131.2 704.2,141.9 704.4,127.1 704.6,86.8 704.8,105.6 705,117 705.2,114.8 705.4,130.3 705.6,141.9 705.7,130.7 705.9,127.7 706.1,153.8 706.3,156 706.5,153.5 706.7,126 706.9,113.3 707.1,151 707.3,151.3 707.5,155.8 707.7,136.6 707.9,151 708.1,144.1 708.3,132.2 708.5,80.2 708.7,125.1 708.9,135.4 709.1,126.3 709.3,99.7 709.5,101.7 709.7,124.6 709.9,152 710.1,100 710.3,98.6 710.5,103.5 710.7,112.8 710.9,114.9 711.1,100 711.3,118.5 711.4,97.5 711.6,127.5 711.8,126.3 712,125.4 712.2,128.2 712.4,122.5 712.6,99.9 712.8,99 713,144.1 713.2,143.9 713.4,110.2 713.6,133.9 713.8,122.7 714,122.4 714.2,118.4 714.4,143.8 714.6,109 714.8,135 715,190.5 715.2,163.5 715.4,172.5 715.6,166.5 715.8,188.2 716,210.6 716.2,214.7 716.4,226.4 716.6,248.6 716.8,263.3 717,253.7 717.1,310 717.3,347.6 717.5,339.5 717.7,399.5 717.9,351.8 718.1,324.5 718.3,329.7 718.5,319.5 718.7,252.6 718.9,222.8 719.1,201.4 719.3,202.2 719.5,191.8 719.7,163.8 719.9,153.4 720.1,135.4 720.3,124.6 720.5,139.1 720.7,154.7 720.9,148.9 721.1,161.3 721.3,117.4 721.5,115.7 721.7,104.6 721.9,111 722.1,103.1 722.3,134.2 722.5,116.7 722.7,126.9 722.8,133.1 723,155.9 723.2,140.8 723.4,156.4 723.6,131.2 723.8,134.3 724,123.5 724.2,150.4 724.4,128.1 724.6,134.8 724.8,156.4 725,87.9 725.2,113.2 725.4,125.1 725.6,80.6 725.8,108.7 726,167.6 726.2,125 726.4,129.8 726.6,123.2 726.8,143 727,130.5 727.2,137.1 727.4,173.5 727.6,120.9 727.8,102.1 728,121.9 728.2,97.8 728.4,95.5 728.5,115.9 728.7,117 728.9,121.8 729.1,120.4 729.3,83 729.5,115.6 729.7,107.2 729.9,98.7 730.1,98.6 730.3,149.1 730.5,141 730.7,111.3 730.9,115.1 731.1,151.1 731.3,145.1 731.5,102.1 731.7,106 731.9,124.3 732.1,128.9 732.3,138.7 732.5,148.5 732.7,138.6 732.9,125.8 733.1,129.7 733.3,116.5 733.5,157.8 733.7,156.4 733.9,118.8 734.1,146.5 734.2,133.9 734.4,136.4 734.6,168 734.8,169.5 735,150.2 735.2,194.4 735.4,136.7 735.6,170.7 735.8,120.3 736,128.6 736.2,126.1 736.4,119.9 736.6,130 736.8,151.7 737,109.8 737.2,119.4 737.4,113.1 737.6,124 737.8,122.6 738,102.2 738.2,103.8 738.4,128.1 738.6,155.4 738.8,151.4 739,144.1 739.2,101.9 739.4,114.9 739.6,122 739.7,127.3 739.9,134.5 740.1,112.1 740.3,203.2 740.5,137.7 740.7,105.7 740.9,113 741.1,130.9 741.3,154.7 741.5,148 741.7,112.9 741.9,114.4 742.1,104.2 742.3,143 742.5,138.7 742.7,139.6 742.9,106.4 743.1,158.5 743.3,111.1 743.5,106.8 743.7,155.9 743.9,164.1 744.1,162.3 744.3,166.1 744.5,140.8 744.7,158.7 744.9,173.8 745.1,162.3 745.3,148 745.4,189.9 745.6,189.8 745.8,162.8 746,215.4 746.2,203.2 746.4,179.5 746.6,211.3 746.8,238.9 747,224.5 747.2,248 747.4,218.9 747.6,215.5 747.8,240.8 748,193.5 748.2,212.1 748.4,239.4 748.6,268.4 748.8,256.6 749,247.1 749.2,235.5 749.4,241.4 749.6,280.6 749.8,241.7 750,236.3 750.2,205.5 750.4,171.1 750.6,134.9 750.8,163.2 751,143.2 751.1,155.4 751.3,144.8 751.5,116.9 751.7,162.2 751.9,115.4 752.1,78.8 752.3,67.9 752.5,138.7 752.7,143.5 752.9,150.7 753.1,132 753.3,123.4 753.5,119.9 753.7,105.1 753.9,131 754.1,126.1 754.3,160.1 754.5,133.4 754.7,135.5 754.9,163.3 755.1,116 755.3,103.6 755.5,119.9 755.7,113.5 755.9,125.1 756.1,137.6 756.3,120.2 756.5,127 756.7,117.9 756.8,118.6 757,124.8 757.2,145.7 757.4,117.6 757.6,86.7 757.8,107.1 758,128.5 758.2,132.1 758.4,105.5 758.6,135.9 758.8,161.8 759,124.8 759.2,98.3 759.4,156.6 759.6,124.2 759.8,131.3 760,125.5 760.2,135.7 760.4,151.8 760.6,174.2 760.8,126.1 761,122 761.2,136.2 761.4,145.1 761.6,121.5 761.8,85.5 762,144.8 762.2,134.9 762.4,145.9 762.5,123.5 762.7,108.7 762.9,96.3 763.1,112.1 763.3,114.4 763.5,107.3 763.7,107.4 763.9,118.6 764.1,112.3 764.3,98.6 764.5,135.9 764.7,129.9 764.9,142.4 765.1,126.7 765.3,98.2 765.5,136.1 765.7,102.3 765.9,78.2 766.1,114 766.3,129.1 766.5,152.5 766.7,178.2 766.9,148.2 767.1,141.4 767.3,105.3 767.5,121.5 767.7,156.4 767.9,127 768.1,141 768.2,92.5 768.4,101.6 768.6,123.1 768.8,129.3 769,88.9 769.2,100.1 769.4,98.4 769.6,118.5 769.8,129 770,117 770.2,138.3 770.4,108.8 770.6,131.4 770.8,152 771,108.4 771.2,120 771.4,120.5 771.6,112.1 771.8,106.4 772,141.5 772.2,132.5 772.4,101.5 772.6,122.1 772.8,150.7 773,124.6 773.2,148.3 773.4,104.4 773.6,112.6 773.7,116.3 773.9,147.3 774.1,131.4 774.3,111.4 774.5,144.6 774.7,111.2 774.9,123 775.1,123.1 775.3,140.1 775.5,109.1 775.7,110.3 775.9,98.6 776.1,81.1 776.3,134.4 776.5,140.4 776.7,149.3 776.9,111.5 777.1,149.9 777.3,138.9 777.5,174.9 777.7,156.6 777.9,139.8 778.1,144 778.3,153.3 778.5,132.1 778.7,137.3 778.9,120.6 779.1,136.4 779.3,121.8 779.4,133.9 779.6,104.1 779.8,124 780,126.5 780.2,133.5 780.4,108.9 780.6,125.2 780.8,122.9 781,184.1 781.2,136 781.4,98.3 781.6,98 781.8,142.6 782,95.8 782.2,106.7 782.4,111.2 782.6,118 782.8,139.1 783,109.9 783.2,125.1 783.4,149.7 783.6,128.9 783.8,140.8 784,119.8 784.2,133.2 784.4,123.5 784.6,151.8 784.8,136 785,133.9 785.1,125.4 785.3,98.4 785.5,99.7 785.7,159.8 785.9,120.5 786.1,141.1 786.3,142.1 786.5,139.1 786.7,130 786.9,125 787.1,104.5 787.3,97.1 787.5,116.7 787.7,116.1 787.9,107.8 788.1,108.2 788.3,91.2 788.5,145.4 788.7,150.1 788.9,127.4 789.1,119.1 789.3,127.2 789.5,132.5 789.7,177.5 789.9,142.4 790.1,141.3 790.3,147.3 790.5,133.8 790.7,125.2 790.8,117 791,147.3 791.2,153 791.4,110 791.6,95 791.8,128.8 792,137.3 792.2,155.9 792.4,130.5 792.6,123.3 792.8,176.1 793,134.4 793.2,179.4 793.4,122.4 793.6,149.5 793.8,173.1 794,161.7 794.2,157.1 794.4,201.3 794.6,165.5 794.8,181.4 795,181.2 795.2,166.8 795.4,209.9 795.6,182.5 795.8,192.9 796,165.9 796.2,157.6 796.4,183.1 796.5,142 796.7,146.2 796.9,154.8 797.1,136.3 797.3,117.1 797.5,122 797.7,108.5 797.9,161.5 798.1,148.6 798.3,113.9 798.5,145.1 798.7,98 798.9,118.7 799.1,114 799.3,120.5 799.5,97.9 799.7,95.5 799.9,104.1 800.1,128.8 800.3,159 800.5,120.8 800.7,138.8 800.9,129.2 801.1,176.6 801.3,149.1 801.5,167.8 801.7,156.8 801.9,146.5 802.1,147.6 802.2,147.5 802.4,167.2 802.6,171.6 802.8,184.1 803,201.5 803.2,169.8 803.4,202 803.6,186 803.8,169.8 804,182.8 804.2,182.4 804.4,205 804.6,168.1 804.8,162.1 805,148.4 805.2,123.1 805.4,135.2 805.6,130 805.8,120.2 806,152.5 806.2,102.6 806.4,112.9 806.6,124.2 806.8,105.9 807,126.8 807.2,121.3 807.4,120 807.6,140 807.7,156.2 807.9,153.3 808.1,136.2 808.3,132.2 808.5,134.4 808.7,158.2 808.9,146.8 809.1,158.7 809.3,159.7 809.5,129.5 809.7,189.4 809.9,192.9 810.1,180.4 810.3,164.7 810.5,194.4 810.7,178 810.9,214.6 811.1,199.2 811.3,190.6 811.5,179.8 811.7,170.4 811.9,163.4 812.1,159.7 812.3,162.1 812.5,132 812.7,135.6 812.9,125.4 813.1,109.5 813.3,122.9 813.4,119.5 813.6,105.3 813.8,144.9 814,161.8 814.2,148.9 814.4,158.1 814.6,146.9 814.8,157.4 815,159 815.2,160.9 815.4,165.3 815.6,177.4 815.8,191.7 816,207.8 816.2,215.6 816.4,219.9 816.6,229.4 816.8,243.3 817,229.1 817.2,213.2 817.4,225.7 817.6,235.6 817.8,212.2 818,213.1 818.2,228.2 818.4,181 818.6,194.2 818.8,202.6 819,177.1 819.1,182.3 819.3,173.4 819.5,191.8 819.7,177.8 819.9,164.6 820.1,162.2 820.3,165.4 820.5,176.8 820.7,158 820.9,128.3 821.1,128.1 821.3,88.3 821.5,99.9 821.7,129 821.9,129.8 822.1,154.2 822.3,107.2 822.5,107.4 822.7,140.3 822.9,136.5 823.1,125 823.3,99.9 823.5,101.6 823.7,138.6 823.9,126.7 824.1,112.1 824.3,121.4 824.5,124.6 824.7,116.2 824.8,147.3 825,147 825.2,105 825.4,100.1 825.6,92.4 825.8,124 826,127.1 826.2,112.5 826.4,113.4 826.6,113.4 826.8,113.4 827,97.6 827.2,113.1 827.4,104.1 827.6,138.3 827.8,136 828,112.3 828.2,146.6 828.4,143.7 828.6,147.8 828.8,151.8 829,111.5 829.2,93.4 829.4,109.7 829.6,111.6 829.8,136.4 830,139.9 830.2,117.8 830.4,148.2 830.5,148.5 830.7,128.2 830.9,95.9 831.1,105.1 831.3,119.3 831.5,136.3 831.7,125.8 831.9,110 832.1,118.2 832.3,122.4 832.5,100.7 832.7,140 832.9,150.5 833.1,119 833.3,99.6 833.5,111 833.7,115 833.9,142.8 834.1,120.6 834.3,130.8 834.5,145.1 834.7,143.4 834.9,101.1 835.1,124.5 835.3,134.9 835.5,102.2 835.7,85 835.9,148.6 836,112.5 836.2,82.9 836.4,95.2 836.6,141 836.8,144.3 837,164.7 837.2,136.2 837.4,161.2 837.6,144.9 837.8,114.1 838,167.1 838.2,166.3 838.4,133.1 838.6,128.9 838.8,122.9 839,111.5 839.2,146.3 839.4,131.3 839.6,178.7 839.8,133.4 840,106.6 840.2,117.5 840.4,135.9 840.6,135.4 840.8,129.4 841,135.2 841.2,176.5 841.4,161.2 841.6,152.9 841.7,153.6 841.9,485 842.1,144.8 842.3,133.2 842.5,135.8 842.7,123.5 842.9,128.1 843.1,136.1 843.3,146.7 843.5,146.5 843.7,123.6 843.9,142.6 844.1,121 844.3,112.9 844.5,133.5 844.7,161.4 844.9,133.7 845.1,97.9 845.3,154 845.5,112.3 845.7,151.7 845.9,46.7 846.1,113.5 846.3,144.7 846.5,121.8 846.7,172.2 846.9,135 847.1,141 847.3,120.4 847.4,114.1 847.6,103.4 847.8,110.9 848,147.9 848.2,153.5 848.4,128.6 848.6,153.5 848.8,182.4 849,178.5 849.2,147.8 849.4,140 849.6,127.7 849.8,134.4 850,162.3 850.2,139.8 850.4,159.3 850.6,131.3 850.8,133.3 851,109.2 851.2,135.5 851.4,145.7 851.6,132.9 851.8,122.8 852,108 852.2,109.7 852.4,143.1 852.6,136.9 852.8,112.6 853,120 853.1,101.8 853.3,110.9 853.5,92.7 853.7,119.5 853.9,153.6 854.1,130.4 854.3,122.4 854.5,149.9 854.7,128.9 854.9,115.2 855.1,111.1 855.3,129.5 855.5,166.2 855.7,125.1 855.9,159 856.1,144.6 856.3,157.4 856.5,127.7 856.7,141.9 856.9,131.4 857.1,129.7 857.3,142.3 857.5,145 857.7,109.7 857.9,124.3 858.1,134.3 858.3,185.7 858.5,170.9 858.7,106.9 858.8,133.5 859,168.2 859.2,129.3 859.4,139.7 859.6,156.2 859.8,136.1 860,105.6 860.2,147.8 860.4,129 860.6,155.5 860.8,148.2 861,81 861.2,119.1 861.4,142.7 861.6,143.5 861.8,147.8 862,157.1 862.2,130.4 862.4,137.7 862.6,156.1 862.8,157 863,171.2 863.2,158.9 863.4,197.2 863.6,164.9 863.8,145.1 864,170.7 864.2,135.7 864.4,204.9 864.5,187.4 864.7,174.2 864.9,147.1 865.1,142.3 865.3,165.8 865.5,179.8 865.7,123.2 865.9,132.4 866.1,139.2 866.3,172.9 866.5,136.3 866.7,143.1 866.9,115.2 867.1,115.1 867.3,161.1 867.5,144.1 867.7,140.6 867.9,149.3 868.1,121.1 868.3,131 868.5,154.4 868.7,146.9 868.9,135.9 869.1,166.9 869.3,125.1 869.5,114.5 869.7,121.2 869.9,485 870,91.4 870.2,105.6 870.4,156.3 870.6,108.3 870.8,123.7 871,139.8 871.2,162.5 871.4,140.5 871.6,175.5 871.8,147.3 872,133.8 872.2,141.5 872.4,158.2 872.6,153.8 872.8,167.3 873,166.9 873.2,195.7 873.4,200.6 873.6,193.9 873.8,194 874,140.2 874.2,117.2 874.4,146.4 874.6,142.2 874.8,178.7 875,164.3 875.2,172.9 875.4,145.8 875.6,162.5 875.7,173.3 875.9,139.6 876.1,209.4 876.3,157.3 876.5,156.9 876.7,149.9 876.9,161.6 877.1,190.3 877.3,193.1 877.5,199.6 877.7,185.6 877.9,143.7 878.1,176.1 878.3,146.5 878.5,181.6 878.7,176 878.9,150.6 879.1,175.6 879.3,173.3 879.5,137.8 879.7,188.3 879.9,173.9 880.1,139.2 880.3,129.8 880.5,166.8 880.7,169.8 880.9,129 881.1,178.2 881.3,193.5 881.4,184.8 881.6,194.9 881.8,269 882,245.5 882.2,229.1 882.4,249.3 882.6,269.2 882.8,277.7 883,271.4 883.2,267.3 883.4,291.5 883.6,276.3 883.8,250.1 884,262.8 884.2,262.6 884.4,231.5 884.6,233.1 884.8,191.8 885,188.4 885.2,209.2 885.4,197 885.6,188.9 885.8,180 886,192.2 886.2,211.5 886.4,214.5 886.6,204.6 886.8,220.5 887,230.2 887.1,247.6 887.3,220.7 887.5,209.1 887.7,214.6 887.9,229.5 888.1,222.9 888.3,172.9 888.5,169.1 888.7,178.2 888.9,191.8 889.1,175 889.3,164.8 889.5,157.3 889.7,174.4 889.9,189.7 890.1,187.4 890.3,190.4 890.5,148.2 890.7,185.2 890.9,153 891.1,169.2 891.3,163.1 891.5,216.7 891.7,198.6 891.9,243.7 892.1,258.2 892.3,270.9 892.5,292.8 892.7,298.3 892.8,289 893,275.3 893.2,422.4 893.4,319.4 893.6,269.7 893.8,262 894,297.5 894.2,241.6 894.4,262 894.6,244.1 894.8,185.6 895,161.4 895.2,153.4 895.4,182.4 895.6,180.7 895.8,163.1 896,146.5 896.2,135.8 896.4,127.8 896.6,142.9 896.8,141.2 897,149 897.2,161.5 897.4,136.2 897.6,118.1 897.8,145.8 898,183.7 898.2,126.6 898.4,158.2 898.5,96.6 898.7,105.8 898.9,130.2 899.1,119 899.3,167.1 899.5,155.7 899.7,160.4 899.9,147 900.1,153.4 900.3,151.1 900.5,150 900.7,130.9 900.9,163.7 901.1,169.3 901.3,155.1 901.5,150.4 901.7,156.4 901.9,180.8 902.1,170.7 902.3,169.5 902.5,186 902.7,195.5 902.9,184.9 903.1,212 903.3,172.7 903.5,188.8 903.7,170.1 903.9,154.8 904,112.2 904.2,110 904.4,116 904.6,160.4 904.8,165.3 905,148.7 905.2,183.7 905.4,174.5 905.6,182 905.8,165.1 906,160.3 906.2,191.5 906.4,169.3 906.6,174 906.8,174.4 907,182.7 907.2,206.7 907.4,213.5 907.6,231.4 907.8,250.3 908,207.1 908.2,236.4 908.4,249.7 908.6,283.3 908.8,296.4 909,267.7 909.2,271.9 909.4,222.2 909.6,221.4 909.7,244.9 909.9,204.1 910.1,207.3 910.3,218.2 910.5,228.9 910.7,175.7 910.9,160.4 911.1,165.2 911.3,187.3 911.5,172.9 911.7,170.3 911.9,171.2 912.1,171.6 912.3,142.5 912.5,152.5 912.7,163.5 912.9,145.1 913.1,137.3 913.3,152 913.5,153.1 913.7,154.4 913.9,177.9 914.1,159.1 914.3,183.2 914.5,162.8 914.7,149.9 914.9,174.8 915.1,144 915.3,150.7 915.4,155 915.6,223.4 915.8,259.8 916,197.9 916.2,161.9 916.4,204.9 916.6,221.4 916.8,215.5 917,214.1 917.2,215.7 917.4,176.8 917.6,213.8 917.8,237.6 918,227.1 918.2,201.6 918.4,190.5 918.6,168.1 918.8,163.6 919,173.6 919.2,245.9 919.4,182.8 919.6,202.6 919.8,202.2 920,226 920.2,189.8 920.4,206 920.6,251.5 920.8,278.2 921,267.7 921.1,306.2 921.3,340 921.5,321.8 921.7,325.8 921.9,392.6 922.1,367.4 922.3,314.8 922.5,298.3 922.7,299.5 922.9,251.1 923.1,245.5 923.3,232.2 923.5,259.9 923.7,215.7 923.9,201.5 924.1,222.4 924.3,177.2 924.5,155.2 924.7,198.2 924.9,139.5 925.1,153.4 925.3,184 925.5,180 925.7,172.9 925.9,158.3 926.1,195.1 926.3,148.4 926.5,186.4 926.7,163.5 926.8,160.8 927,149.5 927.2,185 927.4,173.1 927.6,132.9 927.8,131.2 928,167.9 928.2,171.1 928.4,158.1 928.6,162.8 928.8,164.9 929,186.6 929.2,197.1 929.4,148.2 929.6,146.5 929.8,127.1 930,125.2 930.2,132.3 930.4,171.8 930.6,157.7 930.8,189.4 931,159.8 931.2,159.6 931.4,179.1 931.6,152.9 931.8,117.9 932,177 932.2,150 932.4,171.8 932.5,162.5 932.7,226.6 932.9,195 933.1,166.2 933.3,136.9 933.5,173.7 933.7,190.8 933.9,168.8 934.1,156.5 934.3,197.3 934.5,166.8 934.7,170.3 934.9,173.7 935.1,163.6 935.3,183.3 935.5,158.6 935.7,146.5 935.9,129.7 936.1,161.3 936.3,169.5 936.5,187.9 936.7,177 936.9,176.1 937.1,143.8 937.3,210.2 937.5,152.7 937.7,156.1 937.9,157.4 938,165.8 938.2,129.6 938.4,187.4 938.6,205.3 938.8,192.9 939,187.7 939.2,156.1 939.4,192.9 939.6,209 939.8,202 940,186.5 940.2,190.4 940.4,172.8 940.6,163.3 940.8,203.6 941,183.1 941.2,176.6 941.4,199.5 941.6,156.3 941.8,147.5 942,163.7 942.2,157 942.4,178.2 942.6,165.9 942.8,160.8 943,154.7 943.2,137.2 943.4,164.5 943.6,138.7 943.7,151.3 943.9,113.8 944.1,123.9 944.3,150.5 944.5,181.3 944.7,180.3 944.9,200 945.1,141.8 945.3,172.7 945.5,172.5 945.7,169.2 945.9,198.1 946.1,179.1 946.3,163.6 946.5,140.9 946.7,129.4 946.9,181.9 947.1,160.7 947.3,190.5 947.5,192.6 947.7,166.5 947.9,187.5 948.1,208.4 948.3,164.7 948.5,132 948.7,183.4 948.9,171 949.1,135.1 949.3,155.9 949.4,168.4 949.6,149.7 949.8,167.1 950,169.6 950.2,151.9 950.4,170.1 950.6,128.7 950.8,121.5 951,169.3 951.2,172.7 951.4,168.4 951.6,158.6 951.8,169 952,149.7 952.2,149.8 952.4,183 952.6,153.3 952.8,136.2 953,152 953.2,175.8 953.4,143.6 953.6,178.5 953.8,151.5 954,192.2 954.2,153.4 954.4,173.7 954.6,175.3 954.8,183 955,185.8 955.1,160.6 955.3,165.6 955.5,167 955.7,197.4 955.9,166.3 956.1,174.8 956.3,205.9 956.5,169.2 956.7,181.3 956.9,235.3 957.1,216.4 957.3,167.9 957.5,212.7 957.7,225.9 957.9,228.2 958.1,200.7 958.3,213.7 958.5,191.4 958.7,188.7 958.9,175.1 959.1,173.6 959.3,186.6 959.5,168.2 959.7,168.8 959.9,185.6 960.1,190 960.3,164.2 960.5,146.7 960.7,181.5 960.8,184.3 961,169.2 961.2,179.6 961.4,169.2 961.6,173.6 961.8,177.1 962,169.5 962.2,194.7 962.4,202 962.6,224.7 962.8,204.2 963,190.6 963.2,178.5 963.4,167.2 963.6,239.6 963.8,250.8 964,235.4 964.2,309.1 964.4,284 964.6,311.8 964.8,323.7 965,377.2 965.2,397.7 965.4,437.8 965.6,423.8 965.8,415.6 966,412.5 966.2,386.6 966.4,343.3 966.5,362.4 966.7,343.9 966.9,316.1 967.1,281.6 967.3,264.1 967.5,240.4 967.7,227 967.9,183.3 968.1,220.4 968.3,202.6 968.5,177.5 968.7,152.7 968.9,199.3 969.1,199.7 969.3,175.1 969.5,212.9 969.7,234.7 969.9,233.3 970.1,217.2 970.3,233.9 970.5,192.2 970.7,204.5 970.9,193.7 971.1,233.5 971.3,247.4 971.5,234.2 971.7,241.4 971.9,260.8 972,216.1 972.2,234.6 972.4,222.4 972.6,234.1 972.8,198.1 973,183.2 973.2,230.2 973.4,242.2 973.6,224.6 973.8,223.1 974,230.4 974.2,260.4 974.4,215.3 974.6,228.8 974.8,237.4 975,241.3 975.2,208.1 975.4,187.5 975.6,190.7 975.8,182 976,187.1 976.2,189.9 976.4,207.9 976.6,149.7 976.8,157.5 977,178 977.2,180 977.4,203.5 977.6,186.1 977.7,163.5 977.9,185.3 978.1,188.7 978.3,169.8 978.5,159.4 978.7,184.8 978.9,155.4 979.1,152.8 979.3,151 979.5,158.5 979.7,172.7 979.9,172.8 980.1,156.9 980.3,183.6 980.5,152.5 980.7,196.9 980.9,172.5 981.1,169.3 981.3,199.4 981.5,149.4 981.7,146.5 981.9,184.4 982.1,161.3 982.3,139.7 982.5,137.3 982.7,142.6 982.9,188.9 983.1,158.6 983.3,144.8 983.4,196.6 983.6,188.4 983.8,169.9 984,182.4 984.2,207.7 984.4,190.6 984.6,171 984.8,160.7 985,133.4 985.2,151.7 985.4,167.7 985.6,165.5 985.8,141.9 986,121.7 986.2,185.4 986.4,195.7 986.6,200.3 986.8,177.4 987,208.4 987.2,216.5 987.4,194.9 987.6,187.3 987.8,152.8 988,147.1 988.2,189.1 988.4,181.7 988.6,154.8 988.8,177.9 989,176.3 989.1,158.2 989.3,188.4 989.5,149.8 989.7,139.9 989.9,203.4 990.1,172.1 990.3,186 990.5,161.8 990.7,183.4 990.9,219.5 991.1,214.1 991.3,221.8 991.5,189.5 991.7,218.9 991.9,196.9 992.1,179.3 992.3,206.6 992.5,216.1 992.7,213.7 992.9,205.3 993.1,188.4 993.3,180.1 993.5,165.5 993.7,167.4 993.9,140.7 994.1,147.4 994.3,141.6 994.5,186.1 994.7,190.2 994.8,146 995,176.5 995.2,216.8 995.4,178.4 995.6,159.8 995.8,134.8 996,117.5 996.2,143.9 996.4,167.5 996.6,185.5 996.8,198.8 997,191.2 997.2,194 997.4,167.5 997.6,149.7 997.8,163.1 998,186.3 998.2,144 998.4,147.4 998.6,173.3 998.8,174.2 999,164.5 999.2,168.1 999.4,213.1 999.6,193.5 999.8,195.2 1000,164.9 1000.2,162.8 1000.4,176.7 1000.5,151.7 1000.7,165.6 1000.9,163.8 1001.1,170.9 1001.3,181.7 1001.5,127.8 1001.7,165.7 1001.9,191.6 1002.1,145 1002.3,149.8 1002.5,186.3 1002.7,150.9 1002.9,124.5 1003.1,148.9 1003.3,158 1003.5,160.1 1003.7,161.9 1003.9,188.8 1004.1,177.3 1004.3,168.4 1004.5,167 1004.7,156.3 1004.9,282.2 1005.1,128.9 1005.3,180.5 1005.5,177 1005.7,156.5 1005.9,143 1006,161.4 1006.2,134.5 1006.4,149.2 1006.6,171.6 1006.8,178.2 1007,179.2 1007.2,176.1 1007.4,191.6 1007.6,140.8 1007.8,161.4 1008,162.3 1008.2,177.9 1008.4,166.5 1008.6,139.9 1008.8,199.9 1009,163.6 1009.2,187 1009.4,193.6 1009.6,158.9 1009.8,181.6 1010,159.7 1010.2,189.9 1010.4,216.1 1010.6,182.7 1010.8,201.2 1011,177.6 1011.2,175.1 1011.4,158.6 1011.6,166.1 1011.7,173.7 1011.9,186.5 1012.1,206 1012.3,208.3 1012.5,168.4 1012.7,193.8 1012.9,170.5 1013.1,149.7 1013.3,146.7 1013.5,151 1013.7,164 1013.9,164.6 1014.1,165.3 1014.3,180.2 1014.5,198 1014.7,161 1014.9,150.8 1015.1,172.9 1015.3,180.5 1015.5,223.3 1015.7,174.8 1015.9,125.8 1016.1,187.3 1016.3,149.3 1016.5,134.2 1016.7,138.2 1016.9,158.4 1017.1,171.6 1017.3,181.8 1017.4,130.8 1017.6,158.7 1017.8,153.8 1018,210.5 1018.2,218.9 1018.4,203.7 1018.6,154.6 1018.8,176.6 1019,170.5 1019.2,159.9 1019.4,165.2 1019.6,167.5 1019.8,187.6 1020,186.8 1020.2,485"/>
<path class="d B" d="M1050,485 1050.2,182.5 1050.4,176.7 1050.6,209.6 1050.7,218.6 1050.9,155.3 1051.1,194.5 1051.3,247.2 1051.5,225.2 1051.7,213.8 1051.8,190.5 1052,172.3 1052.2,196.7 1052.4,205 1052.6,188 1052.8,200.8 1052.9,196.7 1053.1,215.6 1053.3,214.4 1053.5,172.2 1053.7,204.3 1053.9,198.4 1054,208.9 1054.2,203.2 1054.4,192.5 1054.6,168.1 1054.8,158.3 1055,179.5 1055.1,189.8 1055.3,137.4 1055.5,176.7 1055.7,184.4 1055.9,215.2 1056.1,205.9 1056.2,197.2 1056.4,235.6 1056.6,207.7 1056.8,172.7 1057,143.5 1057.2,189.8 1057.3,219.7 1057.5,214.6 1057.7,179.7 1057.9,212.7 1058.1,194.7 1058.3,153.2 1058.4,199.6 1058.6,212.6 1058.8,209.5 1059,166.8 1059.2,176.5 1059.4,216.3 1059.5,229.1 1059.7,194.4 1059.9,168.2 1060.1,196.6 1060.3,219.8 1060.5,188.2 1060.6,187.3 1060.8,201 1061,195.4 1061.2,198.2 1061.4,210.4 1061.6,217.4 1061.7,229.1 1061.9,227.4 1062.1,226.3 1062.3,182.2 1062.5,182.9 1062.7,189 1062.8,186.2 1063,197.2 1063.2,209 1063.4,192.8 1063.6,204.9 1063.8,215.6 1063.9,246.4 1064.1,210.8 1064.3,197.2 1064.5,217.2 1064.7,230.7 1064.9,242.3 1065.1,213.8 1065.2,182.4 1065.4,211.2 1065.6,183.2 1065.8,204.7 1066,179.7 1066.2,200.7 1066.3,176 1066.5,348 1066.7,180.1 1066.9,208.5 1067.1,198.1 1067.3,209.9 1067.4,200.2 1067.6,203.6 1067.8,196.6 1068,181.8 1068.2,213.9 1068.4,207.5 1068.5,199.5 1068.7,193.2 1068.9,201.7 1069.1,188.2 1069.3,205.9 1069.5,160.7 1069.6,193.6 1069.8,179.2 1070,223.8 1070.2,204.6 1070.4,182.1 1070.6,157.1 1070.7,179.7 1070.9,161.4 1071.1,187.8 1071.3,151.2 1071.5,200.2 1071.7,227.5 1071.8,226.3 1072,184.2 1072.2,192.1 1072.4,185.1 1072.6,187.2 1072.8,173 1072.9,156.3 1073.1,190.7 1073.3,185.7 1073.5,205.6 1073.7,223.7 1073.9,188.4 1074,163.2 1074.2,197.1 1074.4,141.6 1074.6,176.3 1074.8,175.8 1075,174.7 1075.1,195.2 1075.3,191.3 1075.5,173.6 1075.7,213 1075.9,208.9 1076.1,227.5 1076.2,185.2 1076.4,129.2 1076.6,177.2 1076.8,225.9 1077,229.9 1077.2,181 1077.3,180.2 1077.5,196.1 1077.7,161.5 1077.9,179.8 1078.1,179.5 1078.3,181.2 1078.4,187.3 1078.6,222.9 1078.8,221.5 1079,193.5 1079.2,230 1079.4,245.6 1079.5,221.6 1079.7,235.2 1079.9,207.3 1080.1,155.9 1080.3,193.5 1080.5,239.2 1080.7,245.4 1080.8,215.7 1081,224 1081.2,191.1 1081.4,186.1 1081.6,178.1 1081.8,193.6 1081.9,215.1 1082.1,187.5 1082.3,177.3 1082.5,173.1 1082.7,159.6 1082.9,200.4 1083,185 1083.2,190.7 1083.4,190 1083.6,169.5 1083.8,178.9 1084,154.3 1084.1,225.8 1084.3,151.9 1084.5,193 1084.7,206.2 1084.9,173.4 1085.1,170 1085.2,149.1 1085.4,156.1 1085.6,201 1085.8,187.2 1086,181.1 1086.2,193.6 1086.3,198.7 1086.5,169.9 1086.7,199.7 1086.9,218.1 1087.1,185.2 1087.3,193.7 1087.4,188 1087.6,168.4 1087.8,175.7 1088,179.4 1088.2,180.9 1088.4,180.6 1088.5,214.1 1088.7,196.6 1088.9,186 1089.1,226.5 1089.3,237.1 1089.5,237.9 1089.6,223.1 1089.8,255.3 1090,242.2 1090.2,275.1 1090.4,267.6 1090.6,269.3 1090.7,286.2 1090.9,282.4 1091.1,244.2 1091.3,257 1091.5,231.8 1091.7,235.3 1091.8,253.7 1092,200 1092.2,219 1092.4,223.1 1092.6,224.7 1092.8,216 1092.9,186.4 1093.1,160.8 1093.3,207.9 1093.5,219.6 1093.7,188.9 1093.9,145.7 1094,176.9 1094.2,152.2 1094.4,208 1094.6,209.5 1094.8,222.4 1095,217.7 1095.2,200.1 1095.3,210.4 1095.5,248.9 1095.7,234.8 1095.9,234.9 1096.1,216.2 1096.3,181.6 1096.4,193.3 1096.6,217.9 1096.8,226.5 1097,263.3 1097.2,257.5 1097.4,299.3 1097.5,269.6 1097.7,260 1097.9,254.3 1098.1,269 1098.3,266.4 1098.5,278.8 1098.6,286.5 1098.8,257.1 1099,268 1099.2,233.6 1099.4,231.6 1099.6,250.8 1099.7,248.6 1099.9,216.3 1100.1,216.3 1100.3,192.8 1100.5,176.5 1100.7,164.9 1100.8,186.9 1101,219.8 1101.2,188.4 1101.4,159.6 1101.6,217.4 1101.8,199.4 1101.9,170.4 1102.1,188.8 1102.3,214 1102.5,202 1102.7,212.5 1102.9,183 1103,198.1 1103.2,190.4 1103.4,201.3 1103.6,233.3 1103.8,187.9 1104,178.3 1104.1,189 1104.3,201.5 1104.5,186.6 1104.7,154.7 1104.9,176 1105.1,196.4 1105.2,162.7 1105.4,185 1105.6,209.9 1105.8,225.7 1106,189 1106.2,221.2 1106.3,188.6 1106.5,177 1106.7,195.2 1106.9,233.8 1107.1,214.5 1107.3,180 1107.4,174.8 1107.6,197.5 1107.8,189.4 1108,151.1 1108.2,159.2 1108.4,190.8 1108.5,200.4 1108.7,187.3 1108.9,217.9 1109.1,186.6 1109.3,180.1 1109.5,165.4 1109.6,193.6 1109.8,219.4 1110,150.7 1110.2,191.1 1110.4,242 1110.6,217.5 1110.8,177.8 1110.9,211.7 1111.1,176.6 1111.3,220.5 1111.5,214.9 1111.7,147.8 1111.9,156.3 1112,189.8 1112.2,152.7 1112.4,179.9 1112.6,180.8 1112.8,192.8 1113,175.5 1113.1,163.2 1113.3,161.1 1113.5,152.1 1113.7,166.1 1113.9,198.1 1114.1,220 1114.2,194.5 1114.4,209.2 1114.6,240.5 1114.8,258.3 1115,260.1 1115.2,273.9 1115.3,257.7 1115.5,233.7 1115.7,212.9 1115.9,232.6 1116.1,244.2 1116.3,234 1116.4,218.3 1116.6,189.3 1116.8,213.4 1117,246.5 1117.2,219.1 1117.4,244.2 1117.5,220.3 1117.7,205 1117.9,215.5 1118.1,196.7 1118.3,175.1 1118.5,205.2 1118.6,400.9 1118.8,171.2 1119,102.8 1119.2,208.7 1119.4,170.4 1119.6,183.9 1119.7,179.6 1119.9,189 1120.1,173.1 1120.3,216.7 1120.5,177.5 1120.7,158.7 1120.8,137.9 1121,229.2 1121.2,213.1 1121.4,194.5 1121.6,192.8 1121.8,207.5 1121.9,183.4 1122.1,203 1122.3,199.4 1122.5,219.3 1122.7,184.1 1122.9,183.6 1123,160.3 1123.2,169.7 1123.4,162.3 1123.6,190.7 1123.8,211.5 1124,195.3 1124.1,242.1 1124.3,237.3 1124.5,215.2 1124.7,185.8 1124.9,196.8 1125.1,242.2 1125.3,206.6 1125.4,182.3 1125.6,220.6 1125.8,237.9 1126,189.9 1126.2,176.5 1126.4,219.5 1126.5,203 1126.7,155.3 1126.9,196.3 1127.1,220.5 1127.3,185.5 1127.5,180.4 1127.6,211.8 1127.8,201.7 1128,194.4 1128.2,194.3 1128.4,173.4 1128.6,174.9 1128.7,185 1128.9,184 1129.1,222.9 1129.3,236 1129.5,245.7 1129.7,239.1 1129.8,258 1130,239.2 1130.2,219.2 1130.4,219.8 1130.6,241 1130.8,256.3 1130.9,264.9 1131.1,271.5 1131.3,300.1 1131.5,309.3 1131.7,324.6 1131.9,311.6 1132,308.3 1132.2,323.6 1132.4,315.7 1132.6,298.2 1132.8,330.9 1133,330.4 1133.1,341.1 1133.3,331.4 1133.5,344.8 1133.7,304 1133.9,289.1 1134.1,281.7 1134.2,312.6 1134.4,266.6 1134.6,231.8 1134.8,246.4 1135,278 1135.2,262.1 1135.3,255.2 1135.5,218.5 1135.7,213.7 1135.9,239.7 1136.1,257.3 1136.3,230.7 1136.4,258.6 1136.6,209.4 1136.8,250 1137,250.4 1137.2,246.8 1137.4,226.2 1137.5,221.4 1137.7,218.8 1137.9,229.2 1138.1,224.2 1138.3,197.6 1138.5,197.7 1138.6,219.8 1138.8,215.5 1139,220.3 1139.2,248.5 1139.4,266.4 1139.6,286.4 1139.7,268 1139.9,245.2 1140.1,300.7 1140.3,309.6 1140.5,289.1 1140.7,282.7 1140.9,288.1 1141,298.2 1141.2,268.9 1141.4,279.9 1141.6,270.6 1141.8,262.2 1142,261.8 1142.1,238.1 1142.3,219.1 1142.5,245.1 1142.7,219.9 1142.9,204.2 1143.1,209.9 1143.2,215.1 1143.4,242.1 1143.6,241 1143.8,227.4 1144,243.7 1144.2,253.8 1144.3,213.5 1144.5,198.8 1144.7,188.1 1144.9,216.8 1145.1,218.9 1145.3,222.1 1145.4,204 1145.6,208.6 1145.8,175.2 1146,220.6 1146.2,190.2 1146.4,223.1 1146.5,236.3 1146.7,208.4 1146.9,203.4 1147.1,185.5 1147.3,204.3 1147.5,217.5 1147.6,228 1147.8,232.7 1148,219.7 1148.2,215.5 1148.4,239.5 1148.6,236.1 1148.7,225.6 1148.9,252.8 1149.1,239.4 1149.3,250.3 1149.5,255.8 1149.7,218.6 1149.8,231.3 1150,256.5 1150.2,270.5 1150.4,245.2 1150.6,249.9 1150.8,247.5 1150.9,245.1 1151.1,238 1151.3,186.6 1151.5,220.3 1151.7,229.9 1151.9,221 1152,233 1152.2,237.7 1152.4,233.1 1152.6,206.5 1152.8,190 1153,190.4 1153.1,215.3 1153.3,223.6 1153.5,266.5 1153.7,265.3 1153.9,231.1 1154.1,209 1154.2,211.7 1154.4,249.1 1154.6,268.5 1154.8,251.7 1155,256.3 1155.2,272 1155.4,250.4 1155.5,232.8 1155.7,253.9 1155.9,233.1 1156.1,198.9 1156.3,221.1 1156.5,219.9 1156.6,228.9 1156.8,211.1 1157,242.9 1157.2,192.1 1157.4,220.6 1157.6,236.8 1157.7,302.5 1157.9,226 1158.1,255.7 1158.3,214.9 1158.5,213.7 1158.7,233.4 1158.8,194.5 1159,197.3 1159.2,245.1 1159.4,227.5 1159.6,191.6 1159.8,172.8 1159.9,216.8 1160.1,204.6 1160.3,218 1160.5,202.4 1160.7,201 1160.9,220.2 1161,63.7 1161.2,147 1161.4,191 1161.6,221.6 1161.8,227.6 1162,253.7 1162.1,227.5 1162.3,232.2 1162.5,243.3 1162.7,250.8 1162.9,186.7 1163.1,208.2 1163.2,230.2 1163.4,194.4 1163.6,205.3 1163.8,233.6 1164,199 1164.2,257.5 1164.3,207.6 1164.5,237.5 1164.7,224.2 1164.9,258.3 1165.1,213.8 1165.3,194 1165.4,195.4 1165.6,219.1 1165.8,229.3 1166,251.3 1166.2,250.8 1166.4,255 1166.5,279 1166.7,259.3 1166.9,276.3 1167.1,266.2 1167.3,265.1 1167.5,289.6 1167.6,300.6 1167.8,279.1 1168,290 1168.2,348 1168.4,269.1 1168.6,278.2 1168.7,240.9 1168.9,261.4 1169.1,228.4 1169.3,205.4 1169.5,207 1169.7,201.9 1169.8,177.3 1170,211.1 1170.2,200.9 1170.4,198.1 1170.6,245.8 1170.8,213.3 1171,192.3 1171.1,207.3 1171.3,229.1 1171.5,207.2 1171.7,206.2 1171.9,213.7 1172.1,203.9 1172.2,241.4 1172.4,205.7 1172.6,214.5 1172.8,224.4 1173,236.2 1173.2,176.6 1173.3,255.3 1173.5,199.4 1173.7,198 1173.9,170.4 1174.1,216 1174.3,208.9 1174.4,198.2 1174.6,192 1174.8,185.7 1175,210.7 1175.2,257.2 1175.4,220.8 1175.5,192.9 1175.7,191.3 1175.9,191.2 1176.1,223.4 1176.3,211.3 1176.5,205 1176.6,191.4 1176.8,191.7 1177,209 1177.2,188.2 1177.4,210.5 1177.6,258 1177.7,254.9 1177.9,234 1178.1,194.4 1178.3,222.8 1178.5,181.1 1178.7,200.8 1178.8,244.9 1179,216.3 1179.2,215.6 1179.4,237 1179.6,257.6 1179.8,212.3 1179.9,230.4 1180.1,249.3 1180.3,229.5 1180.5,213.6 1180.7,169.7 1180.9,213.5 1181,230.4 1181.2,224 1181.4,247.7 1181.6,203.2 1181.8,213.6 1182,195.1 1182.1,211.2 1182.3,184.7 1182.5,195.2 1182.7,245.4 1182.9,230 1183.1,227.1 1183.2,236.4 1183.4,251.2 1183.6,241.5 1183.8,239.6 1184,226.9 1184.2,247.1 1184.3,238.4 1184.5,225 1184.7,249.6 1184.9,278 1185.1,286.3 1185.3,275.7 1185.5,290 1185.6,262 1185.8,284.4 1186,293.5 1186.2,252.5 1186.4,274.2 1186.6,241.2 1186.7,243.4 1186.9,246.2 1187.1,280.4 1187.3,251.6 1187.5,227.3 1187.7,177.7 1187.8,208.8 1188,211 1188.2,197.4 1188.4,223.2 1188.6,226.6 1188.8,234 1188.9,226.8 1189.1,278.1 1189.3,253.1 1189.5,198.2 1189.7,203.9 1189.9,223 1190,222 1190.2,187.8 1190.4,207.7 1190.6,242.6 1190.8,207.3 1191,202.7 1191.1,235 1191.3,262.7 1191.5,227.2 1191.7,214.5 1191.9,215.6 1192.1,239.4 1192.2,221.1 1192.4,224.5 1192.6,217.7 1192.8,248.4 1193,229 1193.2,202.4 1193.3,195.2 1193.5,215.2 1193.7,203.7 1193.9,215.5 1194.1,225.3 1194.3,187.9 1194.4,235.9 1194.6,236.5 1194.8,209.2 1195,196.5 1195.2,212 1195.4,239.5 1195.5,243.8 1195.7,208.8 1195.9,219.9 1196.1,239.1 1196.3,225.9 1196.5,192.8 1196.6,216.7 1196.8,278.1 1197,235.8 1197.2,202.3 1197.4,246.6 1197.6,269.3 1197.7,240.6 1197.9,206.9 1198.1,238.3 1198.3,213.4 1198.5,244.8 1198.7,211.9 1198.8,237.4 1199,225.9 1199.2,236 1199.4,259.5 1199.6,289.3 1199.8,218.9 1199.9,221.1 1200.1,228.4 1200.3,233.6 1200.5,262.3 1200.7,256.9 1200.9,306.8 1201.1,309.8 1201.2,302.5 1201.4,341.7 1201.6,306.7 1201.8,336.3 1202,402.4 1202.2,388 1202.3,355.5 1202.5,361.1 1202.7,395.4 1202.9,375.9 1203.1,351.6 1203.3,364.3 1203.4,325.5 1203.6,339 1203.8,309 1204,280.4 1204.2,279.1 1204.4,291.1 1204.5,239 1204.7,275.3 1204.9,274.1 1205.1,247.7 1205.3,247.1 1205.5,221.3 1205.6,277 1205.8,299.2 1206,301.9 1206.2,258.3 1206.4,239.2 1206.6,228.5 1206.7,225.2 1206.9,221.8 1207.1,252.4 1207.3,241.4 1207.5,168.9 1207.7,196 1207.8,252.8 1208,245.3 1208.2,246.3 1208.4,209.2 1208.6,240.6 1208.8,298.7 1208.9,254.6 1209.1,261.4 1209.3,242.4 1209.5,254.3 1209.7,240.9 1209.9,245.1 1210,212.4 1210.2,234.5 1210.4,216.4 1210.6,256.6 1210.8,219.8 1211,221.7 1211.1,234.2 1211.3,250.6 1211.5,263.2 1211.7,253.3 1211.9,258 1212.1,221.7 1212.2,230 1212.4,226.8 1212.6,234.5 1212.8,278.5 1213,277.5 1213.2,280.2 1213.3,289.7 1213.5,297.9 1213.7,305.1 1213.9,281.8 1214.1,241.6 1214.3,277.2 1214.4,282.5 1214.6,298.7 1214.8,325.4 1215,299.4 1215.2,311.1 1215.4,310.6 1215.6,306.3 1215.7,273.2 1215.9,325.7 1216.1,298.9 1216.3,297.8 1216.5,273.1 1216.7,229.2 1216.8,231.1 1217,254.5 1217.2,275.1 1217.4,235.6 1217.6,261.5 1217.8,289.7 1217.9,240 1218.1,256.1 1218.3,249.8 1218.5,228.3 1218.7,230.5 1218.9,277.7 1219,248.5 1219.2,251 1219.4,252.9 1219.6,250.2 1219.8,233.4 1220,276.3 1220.1,258.1 1220.3,228.2 1220.5,263.4 1220.7,240.7 1220.9,237.5 1221.1,292.4 1221.2,315.5 1221.4,326.6 1221.6,271.9 1221.8,266.9 1222,272.4 1222.2,241.6 1222.3,228.8 1222.5,253.3 1222.7,276.6 1222.9,289.6 1223.1,259.7 1223.3,240.9 1223.4,231.9 1223.6,279.1 1223.8,283.4 1224,299 1224.2,259.5 1224.4,225.1 1224.5,233.8 1224.7,263.8 1224.9,275.2 1225.1,256.1 1225.3,284.8 1225.5,266.4 1225.6,226 1225.8,294.1 1226,282.8 1226.2,291.7 1226.4,282.7 1226.6,314.6 1226.7,298.2 1226.9,275.2 1227.1,310.2 1227.3,310.4 1227.5,310.2 1227.7,323.2 1227.8,316.3 1228,272.9 1228.2,300.1 1228.4,277.3 1228.6,240.1 1228.8,257.1 1228.9,276.1 1229.1,244.1 1229.3,258.2 1229.5,256.7 1229.7,216.4 1229.9,265.7 1230,258.4 1230.2,249.7 1230.4,247.3 1230.6,250.7 1230.8,262.6 1231,260.4 1231.2,253.1 1231.3,271.5 1231.5,258 1231.7,242 1231.9,246.6 1232.1,267.6 1232.3,261.8 1232.4,234 1232.6,287.2 1232.8,247.4 1233,250.5 1233.2,284.8 1233.4,265.8 1233.5,215.7 1233.7,234.8 1233.9,252.8 1234.1,249.9 1234.3,251.2 1234.5,275.6 1234.6,243.5 1234.8,295.8 1235,259.5 1235.2,274.2 1235.4,268.7 1235.6,250.9 1235.7,263.3 1235.9,225.5 1236.1,219.7 1236.3,220.5 1236.5,247.1 1236.7,270.7 1236.8,257.1 1237,289.7 1237.2,220.6 1237.4,256.3 1237.6,280.6 1237.8,318.2 1237.9,264.5 1238.1,297 1238.3,306 1238.5,341.5 1238.7,371.5 1238.9,326.5 1239,321.2 1239.2,339.5 1239.4,309.9 1239.6,304.6 1239.8,322.1 1240,301.5 1240.1,330.8 1240.3,322.8 1240.5,312 1240.7,290.3 1240.9,264.1 1241.1,289 1241.2,287.9 1241.4,270.9 1241.6,301.6 1241.8,280.1 1242,240.2 1242.2,229.5 1242.3,237.9 1242.5,277.6 1242.7,253.3 1242.9,246 1243.1,233.3 1243.3,245.1 1243.4,272 1243.6,285 1243.8,259.2 1244,269.6 1244.2,219.7 1244.4,238.7 1244.5,209.4 1244.7,238.4 1244.9,270.4 1245.1,285 1245.3,302.3 1245.5,241.4 1245.7,219.4 1245.8,268.7 1246,267.5 1246.2,281.1 1246.4,267.1 1246.6,238.8 1246.8,235.9 1246.9,273.6 1247.1,267 1247.3,313.9 1247.5,279.8 1247.7,265.5 1247.9,241.3 1248,263.2 1248.2,235 1248.4,278.9 1248.6,285 1248.8,289.3 1249,300.2 1249.1,332.4 1249.3,308.9 1249.5,294.5 1249.7,282.5 1249.9,296.3 1250.1,308.2 1250.2,289.4 1250.4,332 1250.6,337.9 1250.8,276.1 1251,285 1251.2,286.5 1251.3,307.7 1251.5,309.2 1251.7,271.6 1251.9,253 1252.1,277.8 1252.3,255.9 1252.4,252.3 1252.6,282.1 1252.8,244.6 1253,266.1 1253.2,278.6 1253.4,252.5 1253.5,259.1 1253.7,281.3 1253.9,266.3 1254.1,279.5 1254.3,261.8 1254.5,287.5 1254.6,283.6 1254.8,287.4 1255,300.1 1255.2,276.3 1255.4,288.5 1255.6,262.8 1255.7,292.6 1255.9,306.2 1256.1,322.8 1256.3,323.7 1256.5,330.9 1256.7,346.5 1256.8,327.6 1257,327.5 1257.2,354.8 1257.4,329.8 1257.6,330.1 1257.8,346.4 1257.9,363.3 1258.1,332.7 1258.3,331.2 1258.5,335.5 1258.7,315.5 1258.9,272 1259,301.7 1259.2,295.8 1259.4,295.7 1259.6,271.6 1259.8,274.5 1260,289.7 1260.1,288 1260.3,306.2 1260.5,273 1260.7,274.2 1260.9,268.9 1261.1,284.1 1261.3,278.3 1261.4,263.1 1261.6,275.2 1261.8,342 1262,262.3 1262.2,227.9 1262.4,267 1262.5,261 1262.7,262.3 1262.9,264.8 1263.1,270.7 1263.3,275.2 1263.5,260.3 1263.6,268.7 1263.8,260.4 1264,250.2 1264.2,279.5 1264.4,281.4 1264.6,293.3 1264.7,301.8 1264.9,255.8 1265.1,278.4 1265.3,292.8 1265.5,254.1 1265.7,277.8 1265.8,286.8 1266,266.2 1266.2,348.5 1266.4,270.4 1266.6,282.9 1266.8,271.9 1266.9,280.6 1267.1,280.3 1267.3,283.7 1267.5,274.6 1267.7,273.6 1267.9,293.5 1268,294.1 1268.2,277.5 1268.4,320.1 1268.6,323.2 1268.8,302.1 1269,283.7 1269.1,238.2 1269.3,270.1 1269.5,248.8 1269.7,240.1 1269.9,248.8 1270.1,247.7 1270.2,288 1270.4,266.6 1270.6,244.4 1270.8,263.2 1271,271 1271.2,325.9 1271.3,311.5 1271.5,309.4 1271.7,296.2 1271.9,303.2 1272.1,272.7 1272.3,266.3 1272.4,268.1 1272.6,341.7 1272.8,330.1 1273,301.2 1273.2,286.8 1273.4,283.6 1273.5,292.4 1273.7,315.6 1273.9,306.4 1274.1,318.8 1274.3,298.7 1274.5,335.9 1274.6,306.1 1274.8,351.7 1275,341.1 1275.2,355.6 1275.4,358.5 1275.6,344.1 1275.8,348.6 1275.9,323 1276.1,314.7 1276.3,335.8 1276.5,350.6 1276.7,326.1 1276.9,323.7 1277,328 1277.2,381.9 1277.4,321 1277.6,342.7 1277.8,333.4 1278,321.7 1278.1,342.8 1278.3,379.8 1278.5,377.2 1278.7,377.2 1278.9,379.9 1279.1,380.1 1279.2,411 1279.4,356.4 1279.6,354.8 1279.8,392.2 1280,345.4 1280.2,332.5 1280.3,379.3 1280.5,337 1280.7,341.5 1280.9,334.5 1281.1,331.6 1281.3,352.5 1281.4,335.3 1281.6,341.2 1281.8,316.1 1282,310.7 1282.2,315.7 1282.4,362.8 1282.5,344.8 1282.7,359 1282.9,380.1 1283.1,372.6 1283.3,406 1283.5,430.4 1283.6,430.7 1283.8,458.8 1284,457.2 1284.2,485 1284.4,485 1284.6,485 1284.7,485 1284.9,485 1285.1,458.6 1285.3,485 1285.5,439.8 1285.7,408.7 1285.8,382.6 1286,391.7 1286.2,357.3 1286.4,378.7 1286.6,347.1 1286.8,348.9 1286.9,338.2 1287.1,360.5 1287.3,317 1287.5,318.1 1287.7,326.1 1287.9,307 1288,338.7 1288.2,291 1288.4,297.5 1288.6,274 1288.8,286.3 1289,321.7 1289.1,309.8 1289.3,333.7 1289.5,348 1289.7,283.7 1289.9,282 1290.1,304.4 1290.2,281.9 1290.4,314.3 1290.6,306.1 1290.8,336.2 1291,342.8 1291.2,344 1291.4,324.8 1291.5,335.7 1291.7,370.8 1291.9,344.5 1292.1,370.1 1292.3,375.7 1292.5,399 1292.6,405.9 1292.8,362.8 1293,384.7 1293.2,373.9 1293.4,357.5 1293.6,353.9 1293.7,342.8 1293.9,322.9 1294.1,317.6 1294.3,325.7 1294.5,311.9 1294.7,297.1 1294.8,334.8 1295,315.8 1295.2,407.8 1295.4,341.1 1295.6,370 1295.8,353.5 1295.9,338 1296.1,338.1 1296.3,355.7 1296.5,341.4 1296.7,356.1 1296.9,369.9 1297,419.6 1297.2,377.9 1297.4,414.8 1297.6,428.1 1297.8,429.4 1298,383.9 1298.1,408.7 1298.3,409.5 1298.5,348 1298.7,375.4 1298.9,352.7 1299.1,371.1 1299.2,354.3 1299.4,330.7 1299.6,312.7 1299.8,341.2 1300,329.9 1300.2,339.3 1300.3,335.1 1300.5,277.3 1300.7,305.1 1300.9,337.6 1301.1,352.7 1301.3,356.7 1301.4,316.1 1301.6,325.9 1301.8,309.7 1302,288.2 1302.2,295 1302.4,328.4 1302.5,350.2 1302.7,333.1 1302.9,315.4 1303.1,336.5 1303.3,322.8 1303.5,281.7 1303.6,290.5 1303.8,314.3 1304,304.3 1304.2,296.1 1304.4,315.5 1304.6,304.7 1304.7,324.5 1304.9,318.5 1305.1,360.9 1305.3,339.3 1305.5,306.5 1305.7,336.5 1305.9,387.5 1306,353.3 1306.2,377.8 1306.4,385.1 1306.6,393.9 1306.8,370.9 1307,418.5 1307.1,392 1307.3,443.2 1307.5,434.8 1307.7,400.6 1307.9,386.1 1308.1,417.4 1308.2,398.5 1308.4,377.3 1308.6,348.2 1308.8,361.8 1309,394.8 1309.2,381.8 1309.3,376.3 1309.5,335.1 1309.7,376.5 1309.9,363.3 1310.1,349.6 1310.3,346.7 1310.4,342.4 1310.6,328 1310.8,343.3 1311,359.9 1311.2,340.3 1311.4,326.3 1311.5,334 1311.7,328 1311.9,324.8 1312.1,342.9 1312.3,326.9 1312.5,357.7 1312.6,388.5 1312.8,307.7 1313,434.7 1313.2,333.4 1313.4,339.7 1313.6,312.7 1313.7,282.4 1313.9,313.4 1314.1,322.6 1314.3,316.5 1314.5,323.3 1314.7,306.2 1314.8,319.6 1315,353.6 1315.2,353 1315.4,348.9 1315.6,316.9 1315.8,336.1 1315.9,303.9 1316.1,326.7 1316.3,347.3 1316.5,300 1316.7,284.9 1316.9,309.9 1317,336.2 1317.2,302.3 1317.4,264.3 1317.6,271.2 1317.8,333.2 1318,322 1318.1,313.7 1318.3,288.9 1318.5,286.2 1318.7,319.2 1318.9,317.2 1319.1,340.8 1319.2,340.8 1319.4,320.5 1319.6,360 1319.8,344.5 1320,323.5 1320.2,326.1 1320.3,352.8 1320.5,317.7 1320.7,317.8 1320.9,318.4 1321.1,319.4 1321.3,305.5 1321.5,303.9 1321.6,344.5 1321.8,347.7 1322,343 1322.2,356.7 1322.4,339.2 1322.6,310.1 1322.7,313.4 1322.9,338.9 1323.1,347.6 1323.3,308.8 1323.5,313.9 1323.7,313.5 1323.8,309.3 1324,300.8 1324.2,316.9 1324.4,359.7 1324.6,384.6 1324.8,391.5 1324.9,321.2 1325.1,335.2 1325.3,322.4 1325.5,317.1 1325.7,337 1325.9,330.1 1326,318.2 1326.2,332.5 1326.4,342.5 1326.6,331.1 1326.8,344.2 1327,346.7 1327.1,360.7 1327.3,371.3 1327.5,403 1327.7,372.6 1327.9,343.3 1328.1,333 1328.2,485 1328.4,404.2 1328.6,414.6 1328.8,371.3 1329,360.6 1329.2,341.4 1329.3,353.6 1329.5,362.1 1329.7,341.3 1329.9,352.1 1330.1,350 1330.3,363.7 1330.4,324.7 1330.6,315.1 1330.8,349.3 1331,333.8 1331.2,357.5 1331.4,316.3 1331.5,336.7 1331.7,343.3 1331.9,321.6 1332.1,335.3 1332.3,349.4 1332.5,331.6 1332.6,343.6 1332.8,308.8 1333,326.9 1333.2,358.6 1333.4,362.6 1333.6,361.7 1333.7,356.8 1333.9,344.1 1334.1,312.2 1334.3,345.5 1334.5,366.7 1334.7,326.1 1334.8,318.2 1335,299.6 1335.2,327.5 1335.4,339.2 1335.6,314.7 1335.8,322.7 1336,355.2 1336.1,341.8 1336.3,358.7 1336.5,343.8 1336.7,346.2 1336.9,338.4 1337.1,366.7 1337.2,371.2 1337.4,360.7 1337.6,321 1337.8,281.8 1338,306.4 1338.2,315.8 1338.3,335.6 1338.5,331.9 1338.7,326.9 1338.9,293.5 1339.1,284.6 1339.3,300.1 1339.4,326.8 1339.6,353.3 1339.8,349.6 1340,330.9 1340.2,327.3 1340.4,327.7 1340.5,339 1340.7,341.2 1340.9,376.7 1341.1,314.7 1341.3,297.8 1341.5,317.1 1341.6,304.5 1341.8,329.9 1342,372.5 1342.2,389 1342.4,341.6 1342.6,343.3 1342.7,361 1342.9,353.5 1343.1,322.1 1343.3,338.7 1343.5,380 1343.7,377.6 1343.8,315 1344,340 1344.2,323.3 1344.4,346.8 1344.6,362.1 1344.8,347.9 1344.9,362.7 1345.1,378.5 1345.3,376.3 1345.5,379.1 1345.7,349 1345.9,366.3 1346,373.7 1346.2,392.1 1346.4,375.3 1346.6,371.7 1346.8,357.8 1347,375.3 1347.1,374.6 1347.3,382 1347.5,374.8 1347.7,407.3 1347.9,407.6 1348.1,388 1348.2,359.3 1348.4,335.5 1348.6,347.6 1348.8,371 1349,350.5 1349.2,367.3 1349.3,377.3 1349.5,371 1349.7,382.4 1349.9,358.6 1350.1,371.5 1350.3,377.8 1350.4,370.1 1350.6,369 1350.8,373.9 1351,374.3 1351.2,366.5 1351.4,352.5 1351.6,383.4 1351.7,380.6 1351.9,342.2 1352.1,317.8 1352.3,314.3 1352.5,333.1 1352.7,378.4 1352.8,363.9 1353,356.7 1353.2,364.2 1353.4,385.5 1353.6,377.4 1353.8,348.7 1353.9,368.2 1354.1,382.6 1354.3,363.5 1354.5,362.1 1354.7,452.5 1354.9,362.9 1355,416.4 1355.2,413.9 1355.4,400.5 1355.6,412.6 1355.8,464.6 1356,457 1356.1,416.3 1356.3,425 1356.5,444.6 1356.7,455.3 1356.9,442.1 1357.1,448.7 1357.2,423.9 1357.4,447.6 1357.6,479.4 1357.8,468.8 1358,485 1358.2,485 1358.3,485 1358.5,485 1358.7,485 1358.9,485 1359.1,485 1359.3,485 1359.4,485 1359.6,467.5 1359.8,485 1360,476.5 1360.2,413.9 1360.4,437.5 1360.5,429.5 1360.7,433.3 1360.9,405.1 1361.1,374.5 1361.3,347 1361.5,356.9 1361.6,352.1 1361.8,361.2 1362,389 1362.2,366.7 1362.4,381.2 1362.6,381.2 1362.7,378 1362.9,355.4 1363.1,348.2 1363.3,360.5 1363.5,348 1363.7,339.1 1363.8,356.3 1364,385.3 1364.2,343.6 1364.4,369.3 1364.6,376.4 1364.8,372.7 1364.9,392.7 1365.1,423.6 1365.3,381.1 1365.5,367.9 1365.7,377.6 1365.9,379 1366.1,379.1 1366.2,375.5 1366.4,395.5 1366.6,381.3 1366.8,376.3 1367,367.6 1367.2,381.3 1367.3,369.3 1367.5,368.8 1367.7,336.4 1367.9,358 1368.1,378.2 1368.3,391.3 1368.4,350.9 1368.6,387.3 1368.8,379 1369,384.5 1369.2,384.7 1369.4,386.8 1369.5,410.3 1369.7,405.2 1369.9,403.8 1370.1,406.3 1370.3,400.5 1370.5,399.5 1370.6,377 1370.8,356.6 1371,358 1371.2,378.9 1371.4,401 1371.6,387.2 1371.7,385.2 1371.9,391.3 1372.1,365 1372.3,374.3 1372.5,389.8 1372.7,410.9 1372.8,419.1 1373,389.9 1373.2,380.5 1373.4,408.9 1373.6,401 1373.8,400 1373.9,368.7 1374.1,389 1374.3,407.5 1374.5,384.5 1374.7,386.6 1374.9,386.8 1375,408.7 1375.2,364.5 1375.4,386.8 1375.6,355.8 1375.8,390.6 1376,376.6 1376.1,396.4 1376.3,394.5 1376.5,358.7 1376.7,362.7 1376.9,351.8 1377.1,391.8 1377.2,401.6 1377.4,376.4 1377.6,364.5 1377.8,371.8 1378,403.7 1378.2,382.6 1378.3,383.3 1378.5,382.8 1378.7,380.1 1378.9,414.3 1379.1,417.5 1379.3,394 1379.4,395.6 1379.6,434.5 1379.8,395.2 1380,373.3 1380.2,390.5 1380.4,382.3 1380.5,380.7 1380.7,388.7 1380.9,386.8 1381.1,388.9 1381.3,406.8 1381.5,380.9 1381.7,485 1381.8,389.1 1382,380 1382.2,384.9 1382.4,412.9 1382.6,360.2 1382.8,391.5 1382.9,391.1 1383.1,391.2 1383.3,386.3 1383.5,386.3 1383.7,379.1 1383.9,399.3 1384,385.1 1384.2,397.1 1384.4,388.8 1384.6,409.1 1384.8,427.4 1385,408.5 1385.1,485 1385.3,434.2 1385.5,434.3 1385.7,414.1 1385.9,414.2 1386.1,435.2 1386.2,422.9 1386.4,411 1386.6,386.3 1386.8,401.6 1387,438.2 1387.2,394.4 1387.3,363.2 1387.5,409 1387.7,419.9 1387.9,394.3 1388.1,383.1 1388.3,409.6 1388.4,403.9 1388.6,399.3 1388.8,441.2 1389,412.1 1389.2,425.7 1389.4,440.2 1389.5,478.8 1389.7,466.4 1389.9,485 1390.1,485 1390.3,485 1390.5,485 1390.6,485 1390.8,485 1391,485 1391.2,485 1391.4,485 1391.6,485 1391.7,485 1391.9,485 1392.1,482.9 1392.3,485 1392.5,485 1392.7,485 1392.8,485 1393,485 1393.2,485 1393.4,485 1393.6,485 1393.8,485 1393.9,485 1394.1,485 1394.3,482.3 1394.5,478.8 1394.7,483.9 1394.9,450.1 1395,433.3 1395.2,433.8 1395.4,445.8 1395.6,440.4 1395.8,458.9 1396,432.5 1396.2,429.4 1396.3,420.3 1396.5,412.7 1396.7,429.2 1396.9,420.4 1397.1,429.3 1397.3,406 1397.4,426.2 1397.6,394.7 1397.8,418.7 1398,433.4 1398.2,433.7 1398.4,426.8 1398.5,397.7 1398.7,405.3 1398.9,383.2 1399.1,410.1 1399.3,434.1 1399.5,406.9 1399.6,429.2 1399.8,435.6 1400,410.1 1400.2,390.9 1400.4,408.5 1400.6,433.5 1400.7,420.1 1400.9,445.8 1401.1,444.2 1401.3,417.6 1401.5,424.9 1401.7,429.1 1401.8,409.3 1402,420.3 1402.2,395.9 1402.4,408.1 1402.6,426.9 1402.8,427.3 1402.9,422.1 1403.1,442.2 1403.3,415.3 1403.5,443 1403.7,423.5 1403.9,413.4 1404,421.4 1404.2,434 1404.4,480.3 1404.6,437.3 1404.8,406.3 1405,416.1 1405.1,425.7 1405.3,394.5 1405.5,395.3 1405.7,402.7 1405.9,441.8 1406.1,413.8 1406.2,414.5 1406.4,426.9 1406.6,417.2 1406.8,405 1407,430.8 1407.2,424.9 1407.3,447.1 1407.5,424.7 1407.7,433.9 1407.9,402.3 1408.1,441.3 1408.3,434.3 1408.4,407.7 1408.6,401.7 1408.8,416.2 1409,392.1 1409.2,427.4 1409.4,475.7 1409.5,417.7 1409.7,459.9 1409.9,436.2 1410.1,440.3 1410.3,426.4 1410.5,434.2 1410.6,440.2 1410.8,433.4 1411,424 1411.2,432.6 1411.4,445.7 1411.6,419.7 1411.8,468.6 1411.9,461.1 1412.1,485 1412.3,464 1412.5,446.6 1412.7,446.1 1412.9,472.1 1413,461.8 1413.2,403.9 1413.4,445.5 1413.6,458.5 1413.8,462 1414,440.6 1414.1,438.7 1414.3,450.9 1414.5,458.6 1414.7,485 1414.9,461.6 1415.1,466.4 1415.2,485 1415.4,481.1 1415.6,485 1415.8,485 1416,485 1416.2,485 1416.3,472.8 1416.5,475.7 1416.7,483.5 1416.9,485 1417.1,485 1417.3,485 1417.4,480.9 1417.6,485 1417.8,485 1418,485 1418.2,485 1418.4,485 1418.5,485 1418.7,485 1418.9,485 1419.1,485 1419.3,485 1419.5,485 1419.6,485 1419.8,485 1420,485 1420.2,485 1420.4,485 1420.6,485 1420.7,485 1420.9,485 1421.1,485 1421.3,485 1421.5,485 1421.7,485 1421.8,485 1422,485 1422.2,485 1422.4,485 1422.6,485 1422.8,485 1422.9,485 1423.1,485 1423.3,485 1423.5,485 1423.7,485 1423.9,485 1424,485 1424.2,485 1424.4,485 1424.6,485 1424.8,485 1425,485 1425.1,485 1425.3,485 1425.5,485 1425.7,485"/>
<path class="m" d="M184.9,97.7 185.4,102.5 185.9,110.6 186.4,123.1 186.9,137.6 187.4,146.4 187.9,141.9 188.4,127.7 188.9,112.8 189.4,101.9 189.9,95.2 190.4,91.8 190.9,90.8 191.4,92.3 191.9,96.6 192.4,105.3 192.9,119.8 193.4,141 193.9,163.6 194.4,174.4 194.9,164 195.4,141.4 195.9,119.8 196.4,104.9 196.9,96.6 197.4,92.8 197.9,90.7 198.4,89.4 198.9,90.4 199.4,94.9 199.9,104.1 200.4,121.3 200.9,149.4 201.4,181.4 201.9,203.8 202.4,208.2 202.9,187.6 203.4,156.2 203.9,129.2 204.4,111.3 204.9,100.7 205.4,95.3 205.9,93.7 206.4,94.9 206.9,94.4 207.4,90.8 207.9,88.1 208.4,87 208.9,86.7 209.4,86.7 209.9,87 210.4,87.6 210.9,88.8 211.4,91 211.9,92.7 212.4,92.7 212.9,93.1 213.4,92.9 213.9,91.9 214.4,92.2 214.9,94 215.4,97.4 215.9,103.4 216.4,113.3 216.9,130 217.4,156.4 217.9,192.8 218.4,228.9 218.9,245 219.4,232.9 219.9,213.2 220.4,209.3 220.9,230.7 221.4,273.8 221.9,314.4 222.4,317.5 222.9,274.5 223.4,217.4 223.9,171.8 224.4,140.9 224.9,120.9 225.4,108.2 225.9,100.4 226.4,96.2 226.9,93.9 227.4,92.2 227.9,90.4 228.4,89.1 228.9,88.4 229.4,87.9 229.9,87.6 230.4,87.4 230.9,87.3 231.4,87.4 231.9,87.7 232.4,88.6 232.9,90.6 233.4,93 233.9,92.8 234.4,91.6 234.9,92.5 235.4,94.3 235.9,94 236.4,91.2 236.9,89.1 237.4,88.3 237.9,88.2 238.4,88.5 238.9,89.4 239.4,91 239.9,92.4 240.4,92 240.9,90.6 241.4,89.8 241.9,89.7 242.4,90.3 242.9,92 243.4,95.4 243.9,98.6 244.4,99.6 244.9,99.8 245.4,97.8 245.9,96.7 246.4,98.4 246.9,103.1 247.4,110.1 247.9,118 248.4,128.4 248.9,147.1 249.4,180 249.9,227.9 250.4,286.1 250.9,331.3 251.4,333.8 251.9,297.7 252.4,261.5 252.9,249.3 253.4,258.9 253.9,266.1 254.4,246.9 254.9,207.6 255.4,168.2 255.9,139.4 256.4,121.3 256.9,110.5 257.4,104.2 257.9,100.8 258.4,99.5 258.9,100.3 259.4,102 259.9,101.8 260.4,101.5 260.9,102.8 261.4,104 261.9,106.6 262.4,113.2 262.9,125.4 263.4,145.7 263.9,175 264.4,206.3 264.9,220.7 265.4,207.3 265.9,176.5 266.4,147 266.9,126.2 267.4,113.7 267.9,106.6 268.4,102.7 268.9,99.8 269.4,97.7 269.9,96.5 270.4,96 270.9,96.5 271.4,97.5 271.9,97.6 272.4,96.3 272.9,95.5 273.4,95.3 273.9,95.8 274.4,97 274.9,99 275.4,100.7 275.9,100.1 276.4,98.1 276.9,96.7 277.4,96 277.9,95.8 278.4,95.7 278.9,95.8 279.4,95.9 279.9,96 280.4,96.1 280.9,96.3 281.4,96.5 281.9,96.7 282.4,96.9 282.9,97.1 283.4,97.4 283.9,97.7 284.4,98.1 284.9,98.7 285.4,99.4 285.9,100.3 286.4,101.7 286.9,103.8 287.4,107.2 287.9,112.5 288.4,121.4 288.9,135.6 289.4,156.7 289.9,181.4 290.4,198.7 290.9,198.7 291.4,188.2 291.9,183.5 292.4,195.4 292.9,229.7 293.4,281.2 293.9,327 294.4,331.5 294.9,289.3 295.4,230.5 295.9,182 296.4,150.5 296.9,131.3 297.4,120 297.9,113.2 298.4,109.1 298.9,106.6 299.4,105 299.9,104 300.4,103.3 300.9,102.9 301.4,102.7 301.9,102.7 302.4,103 302.9,103.6 303.4,103.8 303.9,103.3 304.4,102.9 304.9,102.9 305.4,103.2 305.9,103.8 306.4,105.2 306.9,107.3 307.4,110.1 307.9,112.4 308.4,111.3 308.9,108.4 309.4,106.1 309.9,105 310.4,104.7 310.9,104.8 311.4,105.2 311.9,106.3 312.4,108.6 312.9,111.8 313.4,112.1 313.9,109.2 314.4,107.3 314.9,106.6 315.4,106.7 315.9,107.2 316.4,108.5 316.9,111.5 317.4,117.1 317.9,121 318.4,117.5 318.9,113.3 319.4,112 319.9,112.9 320.4,115.5 320.9,120.4 321.4,128.3 321.9,139.1 322.4,149.5 322.9,153.1 323.4,146.6 323.9,135.7 324.4,126.1 324.9,119.6 325.4,115.7 325.9,113.5 326.4,112.2 326.9,111.5 327.4,111.2 327.9,111.1 328.4,111.2 328.9,111.6 329.4,112.5 329.9,114.6 330.4,117.2 330.9,116.8 331.4,114.4 331.9,112.9 332.4,112.4 332.9,112.3 333.4,112.4 333.9,112.5 334.4,112.8 334.9,113 335.4,113.3 335.9,113.5 336.4,113.8 336.9,114 337.4,114.3 337.9,114.6 338.4,114.9 338.9,115.2 339.4,115.7 339.9,116.4 340.4,117.4 340.9,118.4 341.4,119 341.9,120.4 342.4,122.5 342.9,123 343.4,121.5 343.9,120 344.4,119.6 344.9,120.1 345.4,120.8 345.9,121 346.4,121.7 346.9,123.8 347.4,126.6 347.9,127.5 348.4,126 348.9,124.4 349.4,122.9 349.9,122 350.4,121.8 350.9,121.8 351.4,122 351.9,122.3 352.4,122.6 352.9,123 353.4,123.4 353.9,123.9 354.4,124.5 354.9,125.2 355.4,126.2 355.9,127.5 356.4,129.4 356.9,132.2 357.4,136.7 357.9,143.9 358.4,156.1 358.9,176 359.4,206.3 359.9,243.8 360.4,272.2 360.9,270 361.4,239.8 361.9,202.8 362.4,174.3 362.9,156.2 363.4,145.5 363.9,139.3 364.4,135.7 364.9,133.5 365.4,132.3 365.9,131.6 366.4,131.2 366.9,131.1 367.4,131.1 367.9,131.2 368.4,131.4 368.9,131.7 369.4,132.3 369.9,133.2 370.4,135 370.9,138.1 371.4,140.1 371.9,139.2 372.4,138.8 372.9,140.8 373.4,145.4 373.9,152.8 374.4,162.1 374.9,168.9 375.4,168.5 375.9,161 376.4,152.1 376.9,145.2 377.4,140.9 377.9,138.3 378.4,136.9 378.9,136.1 379.4,135.8 379.9,135.6 380.4,135.5 380.9,135.6 381.4,135.7 381.9,135.9 382.4,136.3 382.9,136.9 383.4,137.8 383.9,139.2 384.4,141.6 384.9,145.4 385.4,151.9 385.9,162.2 386.4,177 386.9,192.9 387.4,201 387.9,195.6 388.4,182.8 388.9,172.3 389.4,168.8 389.9,173.7 390.4,184.8 390.9,197 391.4,202 391.9,194.3 392.4,178.5 392.9,163.5 393.4,153.1 393.9,146.7 394.4,142.8 394.9,140.6 395.4,139.2 395.9,138.4 396.4,137.9 396.9,137.5 397.4,137.3 397.9,137.2 398.4,137.2 398.9,137.2 399.4,137.3 399.9,137.5 400.4,138 400.9,138.9 401.4,139.4 401.9,138.9 402.4,138.5 402.9,138.4 403.4,138.6 403.9,138.9 404.4,139.3 404.9,140 405.4,141.2 405.9,143.5 406.4,148.1 406.9,154.5 407.4,157.1 407.9,152.7 408.4,147.1 408.9,143.8 409.4,142.4 409.9,141.8 410.4,141.7 410.9,141.8 411.4,142.1 411.9,142.7 412.4,144.2 412.9,146.9 413.4,148.3 413.9,146.7 414.4,145.1 414.9,145.1 415.4,146.2 415.9,148.6 416.4,152.9 416.9,160.7 417.4,172.7 417.9,188.6 418.4,208.5 418.9,226.1 419.4,228.1 419.9,212.5 420.4,190.6 420.9,172.7 421.4,161 421.9,154.1 422.4,150.3 422.9,148.4 423.4,147.8 423.9,148.3 424.4,149.9 424.9,152.9 425.4,157.9 425.9,166.5 426.4,180.9 426.9,203 427.4,232.1 427.9,257.1 428.4,260.5 428.9,240.1 429.4,211.4 429.9,188.1 430.4,172.7 430.9,164 431.4,159.1 431.9,156.7 432.4,155.9 432.9,156.3 433.4,158 433.9,161.5 434.4,167.9 434.9,178.9 435.4,197.2 435.9,225.2 436.4,259.8 436.9,285.1 437.4,283.2 437.9,254.6 438.4,220.6 438.9,194.5 439.4,177.7 439.9,167.6 440.4,161.8 440.9,158.4 441.4,156.4 441.9,155.2 442.4,154.7 442.9,154.6 443.4,155 443.9,155 444.4,154.5 444.9,154.2 445.4,154.2 445.9,154.5 446.4,155.3 446.9,157 447.4,160.7 447.9,165.4 448.4,165.2 448.9,161.6 449.4,159.5 449.9,158.5 450.4,158.3 450.9,159.2 451.4,161.2 451.9,164.2 452.4,168.1 452.9,174.4 453.4,185.3 453.9,201.6 454.4,220.7 454.9,233.7 455.4,231.6 455.9,219.8 456.4,210 456.9,209.8 457.4,221.8 457.9,245.9 458.4,273.8 458.9,287.1 459.4,274.8 459.9,247.4 460.4,222.7 460.9,208.6 461.4,206.4 461.9,215.6 462.4,239.8 462.9,283.5 463.4,350.7 463.9,428.8 464.4,478 464.9,457.2 465.4,386.3 465.9,310.6 466.4,254.1 466.9,217.7 467.4,196.1 467.9,183.3 468.4,175.9 468.9,171.4 469.4,168.7 469.9,167 470.4,166.1 470.9,165.8 471.4,166.2 471.9,168.1 472.4,172.6 472.9,180.4 473.4,183.6 473.9,178.7 474.4,173.5 474.9,170.6 475.4,170.3 475.9,171.4 476.4,173.8 476.9,177.5 477.4,183.3 477.9,192.3 478.4,206.5 478.9,227.9 479.4,253.4 479.9,284.5 480.4,323.6 480.9,361.5 481.4,381.2 481.9,372.9 482.4,339.8 482.9,298.2 483.4,260.4 483.9,231.2 484.4,210.7 484.9,196.9 485.4,187.7 485.9,181.6 486.4,177.5 486.9,174.7 487.4,172.8 487.9,171.5 488.4,170.6 488.9,170 489.4,169.7 489.9,169.5 490.4,169.6 490.9,170 491.4,170.4 491.9,170 492.4,169.5 492.9,169.3 493.4,169.2 493.9,169.2 494.4,169.3 494.9,169.4 495.4,169.5 495.9,169.6 496.4,169.8 496.9,170.1 497.4,170.5 497.9,171.1 498.4,172.1 498.9,173.8 499.4,176.2 499.9,179.2 500.4,183.9 500.9,192.3 501.4,205.7 501.9,223.3 502.4,238.3 502.9,240.7 503.4,227.7 503.9,209.9 504.4,195.3 504.9,185.7 505.4,179.9 505.9,176.7 506.4,174.9 506.9,174.4 507.4,174.8 507.9,175.3 508.4,174.3 508.9,173.4 509.4,173.3 509.9,173.1 510.4,172.4 510.9,172 511.4,171.8 511.9,171.8 512.4,171.8 512.9,171.8 513.4,171.9 513.9,171.9 514.4,172 514.9,172.1 515.4,172.2 515.9,172.3 516.4,172.4 516.9,172.6 517.4,172.9 517.9,173.4 518.4,174.3 518.9,176.1 519.4,179.7 519.9,185.9 520.4,191.3 520.9,189 521.4,182.7 521.9,178.2 522.4,176.4 522.9,176.4 523.4,178.8 523.9,184.5 524.4,190.1 524.9,187 525.4,180.3 525.9,176.6 526.4,175.2 526.9,174.9 527.4,175.3 527.9,176.4 528.4,178.3 528.9,179.2 529.4,177.8 529.9,176.4 530.4,175.9 530.9,175.8 531.4,175.9 531.9,176.1 532.4,176.2 532.9,176.5 533.4,176.7 533.9,177 534.4,177.3 534.9,177.8 535.4,178.6 535.9,180.1 536.4,182.8 536.9,187 537.4,189.7 537.9,187.8 538.4,184.4 538.9,182.8 539.4,182.8 539.9,182.9 540.4,182.6 540.9,182.9 541.4,183.9 541.9,185.8 542.4,188.9 542.9,193.8 543.4,200.6 543.9,207.9 544.4,211.5 544.9,208.9 545.4,202.5 545.9,196.3 546.4,192.2 546.9,189.8 547.4,188.6 547.9,188.3 548.4,188.4 548.9,189.1 549.4,190.4 549.9,192.5 550.4,196.1 550.9,201.8 551.4,209.6 551.9,216.7 552.4,218.4 552.9,214.2 553.4,207.4 553.9,201.7 554.4,198 554.9,196.3 555.4,195.8 555.9,196.4 556.4,198.1 556.9,201.4 557.4,206.9 557.9,215.6 558.4,227.7 558.9,239.4 559.4,243.2 559.9,236.3 560.4,224.5 560.9,214.1 561.4,207 561.9,203 562.4,200.6 562.9,199.4 563.4,198.8 563.9,198.5 564.4,198.4 564.9,198.3 565.4,198.3"/>
<path class="m" d="M638.1,136.7 638.6,137 639.1,137.5 639.6,138.2 640.1,139.5 640.6,141.6 641.1,143.4 641.6,142.6 642.1,141.1 642.6,140.6 643.1,140.6 643.6,140.9 644.1,141.3 644.6,141.9 645.1,142.9 645.6,144.4 646.1,146.8 646.6,148.6 647.1,148 647.6,146.3 648.1,145.3 648.6,144.9 649.1,145 649.6,145.3 650.1,145.9 650.6,146.9 651.1,148 651.6,148 652.1,147.5 652.6,147.4 653.1,147.5 653.6,147.8 654.1,148.2 654.6,148.6 655.1,149.2 655.6,150.1 656.1,151.5 656.6,154.2 657.1,158.3 657.6,162 658.1,163.4 658.6,163.2 659.1,159.6 659.6,156.7 660.1,155.9 660.6,156.4 661.1,158.2 661.6,159.1 662.1,157.4 662.6,155 663.1,153.6 663.6,153.2 664.1,153.4 664.6,154 665.1,153.9 665.6,153.5 666.1,153.2 666.6,153.3 667.1,153.6 667.6,154.3 668.1,155.8 668.6,158.3 669.1,159.8 669.6,158.1 670.1,156.4 670.6,155.8 671.1,156 671.6,156.7 672.1,157.9 672.6,159.7 673.1,162.6 673.6,167.3 674.1,175.1 674.6,188.2 675.1,209.8 675.6,242.1 676.1,280.5 676.6,306.8 677.1,299.9 677.6,266.8 678.1,229.5 678.6,201.3 679.1,183.6 679.6,173 680.1,166.8 680.6,163.1 681.1,160.9 681.6,159.6 682.1,158.8 682.6,158.5 683.1,158.6 683.6,159.2 684.1,160.9 684.6,164.3 685.1,168.1 685.6,168.2 686.1,164.4 686.6,161 687.1,159.3 687.6,158.5 688.1,158.1 688.6,158 689.1,158 689.6,158 690.1,158.1 690.6,158.1 691.1,158.2 691.6,158.2 692.1,158.3 692.6,158.4 693.1,158.5 693.6,158.7 694.1,158.9 694.6,159.2 695.1,159.9 695.6,161.4 696.1,164.1 696.6,166.1 697.1,167.3 697.6,171.8 698.1,177.2 698.6,173.9 699.1,167.7 699.6,165.3 700.1,166.9 700.6,171.8 701.1,176.7 701.6,175.3 702.1,169.3 702.6,164.7 703.1,162.3 703.6,161.3 704.1,160.8 704.6,160.6 705.1,160.6 705.6,160.6 706.1,160.6 706.6,160.7 707.1,160.8 707.6,160.9 708.1,161 708.6,161.2 709.1,161.4 709.6,161.6 710.1,161.7 710.6,161.9 711.1,162.1 711.6,162.4 712.1,163 712.6,163.9 713.1,165.5 713.6,168 714.1,172.1 714.6,179.1 715.1,190.9 715.6,211.1 716.1,243.9 716.6,292.2 717.1,345.6 717.6,373.7 718.1,355.3 718.6,303.9 719.1,252.6 719.6,215.8 720.1,192.7 720.6,178.8 721.1,170.6 721.6,165.5 722.1,162.2 722.6,160.1 723.1,158.6 723.6,157.6 724.1,156.8 724.6,156.2 725.1,155.7 725.6,155.4 726.1,155.3 726.6,155.7 727.1,157 727.6,158.9 728.1,158.4 728.6,156 729.1,154.3 729.6,153.6 730.1,153.4 730.6,153.7 731.1,154.2 731.6,154 732.1,153.5 732.6,153.6 733.1,154.4 733.6,156.7 734.1,161.7 734.6,169.5 735.1,173.4 735.6,167.8 736.1,160.3 736.6,156 737.1,154.6 737.6,155.5 738.1,158.3 738.6,159.5 739.1,156.6 739.6,153.9 740.1,153.1 740.6,153.8 741.1,156.2 741.6,158.7 742.1,158.4 742.6,157.7 743.1,159.2 743.6,163.6 744.1,171.6 744.6,184.4 745.1,202 745.6,219.5 746.1,227.5 746.6,225.6 747.1,224.3 747.6,234.5 748.1,257.6 748.6,280.7 749.1,283.8 749.6,260.7 750.1,226.9 750.6,197.9 751.1,178.2 751.6,166.4 752.1,159.2 752.6,155 753.1,152.3 753.6,150.5 754.1,149.4 754.6,148.6 755.1,148 755.6,147.5 756.1,147.1 756.6,146.8 757.1,146.6 757.6,146.4 758.1,146.2 758.6,146 759.1,145.9 759.6,145.7 760.1,145.6 760.6,145.6 761.1,145.6 761.6,145.6 762.1,145.7 762.6,145.8 763.1,146 763.6,146.3 764.1,147.2 764.6,149 765.1,151 765.6,150.8 766.1,150.2 766.6,151.9 767.1,156.6 767.6,162.3 768.1,162.2 768.6,156.5 769.1,151.4 769.6,148.6 770.1,147.3 770.6,146.7 771.1,146.4 771.6,146.4 772.1,146.4 772.6,146.5 773.1,146.7 773.6,147.1 774.1,147.7 774.6,148.6 775.1,150.3 775.6,153 776.1,157.5 776.6,164.3 777.1,172.4 777.6,178 778.1,177 778.6,170.7 779.1,163.5 779.6,157.7 780.1,155 780.6,155 781.1,154.1 781.6,151.1 782.1,148.9 782.6,148 783.1,147.8 783.6,148.3 784.1,149.7 784.6,152.8 785.1,158.3 785.6,163.5 786.1,162.1 786.6,156.1 787.1,151.4 787.6,149.1 788.1,148.1 788.6,147.8 789.1,147.8 789.6,148 790.1,148.6 790.6,149.5 791.1,150.9 791.6,153.3 792.1,157.4 792.6,164.3 793.1,175.5 793.6,191.8 794.1,209.9 794.6,219.9 795.1,214.3 795.6,198.7 796.1,184.5 796.6,174.2 797.1,164.6 797.6,157.9 798.1,154.4 798.6,153.2 799.1,153.5 799.6,155.2 800.1,158.8 800.6,165.3 801.1,176.4 801.6,192.6 802.1,210.6 802.6,221 803.1,215.4 803.6,199.8 804.1,183.3 804.6,171.2 805.1,163.7 805.6,158.4 806.1,155.4 806.6,154.6 807.1,155.6 807.6,157.6 808.1,161.1 808.6,168.1 809.1,180 809.6,197.1 810.1,214.7 810.6,222.4 811.1,214.8 811.6,198.2 812.1,181.6 812.6,170.5 813.1,165.4 813.6,164.6 814.1,168.4 814.6,177.2 815.1,193.1 815.6,215.4 816.1,239.2 816.6,253.8 817.1,254 817.6,249.3 818.1,247.1 818.6,240.8 819.1,224.1 819.6,202.3 820.1,184.7 820.6,175 821.1,168.9 821.6,162.9 822.1,159.6 822.6,157.3 823.1,153.7 823.6,151 824.1,149.6 824.6,148.9 825.1,148.5 825.6,148.2 826.1,148.1 826.6,148 827.1,147.9 827.6,147.9 828.1,147.8 828.6,147.8 829.1,147.9 829.6,148.1 830.1,148.5 830.6,149.4 831.1,150 831.6,149.9 832.1,149.8 832.6,150.3 833.1,151.3 833.6,153.1 834.1,154.3 834.6,153.4 835.1,152.5 835.6,152.4 836.1,152.9 836.6,153.9 837.1,156 837.6,159.5 838.1,163.9 838.6,165.9 839.1,166.5 839.6,168.6 840.1,166.9 840.6,162 841.1,159.6 841.6,159.3 842.1,159.7 842.6,161.3 843.1,163.7 843.6,163.8 844.1,161.7 844.6,159.9 845.1,159 845.6,158.8 846.1,158.9 846.6,159.1 847.1,159.3 847.6,159.6 848.1,160 848.6,160.3 849.1,160.8 849.6,161.4 850.1,162.3 850.6,163 851.1,162.8 851.6,162.5 852.1,162.5 852.6,162.7 853.1,163.1 853.6,163.6 854.1,164.5 854.6,166.3 855.1,169.6 855.6,175.4 856.1,180.7 856.6,179.6 857.1,173.9 857.6,169.5 858.1,167.5 858.6,166.7 859.1,166.6 859.6,166.9 860.1,167.4 860.6,168.4 861.1,169.8 861.6,172.2 862.1,176 862.6,182.3 863.1,191.5 863.6,202.5 864.1,210.1 864.6,208.4 865.1,199.3 865.6,189.1 866.1,181.5 866.6,176.8 867.1,174.1 867.6,172.8 868.1,172.2 868.6,172.3 869.1,172.8 869.6,173.8 870.1,175.6 870.6,178.3 871.1,182.8 871.6,189.9 872.1,200.1 872.6,211.5 873.1,218.2 873.6,216 874.1,208.3 874.6,201.8 875.1,200.4 875.6,205.2 876.1,215.7 876.6,228.8 877.1,236.4 877.6,231.7 878.1,219.3 878.6,207.3 879.1,200 879.6,197.7 880.1,200 880.6,207.6 881.1,222.5 881.6,247.2 882.1,282.7 882.6,318.9 883.1,334 883.6,317.7 884.1,285.5 884.6,258.7 885.1,245.2 885.6,246.2 886.1,258.6 886.6,272.8 887.1,275.1 887.6,260 888.1,238.8 888.6,221.8 889.1,211.6 889.6,207.7 890.1,209 890.6,215.9 891.1,230.3 891.6,254.8 892.1,290.7 892.6,329.1 893.1,347.9 893.6,331.8 894.1,290.6 894.6,252.8 895.1,227.9 895.6,213.1 896.1,204.7 896.6,199.8 897.1,197.1 897.6,195.5 898.1,194.6 898.6,194.2 899.1,194 899.6,194 900.1,194.1 900.6,194.2 901.1,194.4 901.6,194.6 902.1,194.9 902.6,195.3 903.1,195.9 903.6,196.6 904.1,197.5 904.6,198.9 905.1,201.1 905.6,204.5 906.1,210.2 906.6,219.8 907.1,235.7 907.6,258.2 908.1,285.3 908.6,307.2 909.1,308.7 909.6,289.1 910.1,264.3 910.6,242.9 911.1,225.8 911.6,215.2 912.1,209.5 912.6,206.8 913.1,206 913.6,206.6 914.1,208.8 914.6,213.3 915.1,221.2 915.6,232.9 916.1,247.1 916.6,258.9 917.1,260.6 917.6,252.8 918.1,243.4 918.6,237 919.1,236.7 919.6,245.7 920.1,266 920.6,300.3 921.1,344.8 921.6,380.1 922.1,381.2 922.6,345.5 923.1,300.4 923.6,264.7 924.1,241.8 924.6,228.5 925.1,220.5 925.6,215.1 926.1,211.9 926.6,210 927.1,208.9 927.6,208.2 928.1,207.9 928.6,207.8 929.1,207.8 929.6,208.1 930.1,208.6 930.6,209.3 931.1,209.3 931.6,208.9 932.1,208.8 932.6,208.8 933.1,209 933.6,209.3 934.1,209.7 934.6,210.3 935.1,211.1 935.6,211.3 936.1,210.9 936.6,210.7 937.1,211 937.6,211.9 938.1,213.8 938.6,217.6 939.1,223.9 939.6,228.2 940.1,224.8 940.6,218.6 941.1,214.5 941.6,212.5 942.1,211.6 942.6,211.2 943.1,211.1 943.6,211 944.1,211.1 944.6,211.4 945.1,211.8 945.6,212.6 946.1,214.3 946.6,217.9 947.1,223.6 947.6,227.8 948.1,225 948.6,219.3 949.1,215.4 949.6,213.5 950.1,212.7 950.6,212.3 951.1,212.3 951.6,212.3 952.1,212.5 952.6,212.8 953.1,213.4 953.6,214.3 954.1,215.9 954.6,218.5 955.1,222.2 955.6,227.5 956.1,236.4 956.6,249.4 957.1,262.6 957.6,267.9 958.1,261 958.6,247.7 959.1,235.7 959.6,227.7 960.1,223.4 960.6,221.7 961.1,222.2 961.6,224.7 962.1,230.2 962.6,240.6 963.1,258.5 963.6,284.1 964.1,320.8 964.6,374.2 965.1,429.9 965.6,451.4 966.1,421.4 966.6,363 967.1,309.6 967.6,273.9 968.1,252.8 968.6,242.3 969.1,239.2 969.6,242.7 970.1,252.9 970.6,268.8 971.1,284.4 971.6,290.3 972.1,283 972.6,271.3 973.1,265.2 973.6,267.9 974.1,273.8 974.6,272.9 975.1,261.6 975.6,246.4 976.1,233.7 976.6,225.3 977.1,220.1 977.6,217 978.1,215.1 978.6,214 979.1,213.2 979.6,212.7 980.1,212.4 980.6,212.2 981.1,212 981.6,211.9 982.1,211.9 982.6,211.8 983.1,211.8 983.6,211.9 984.1,212 984.6,212.3 985.1,213.1 985.6,214.7 986.1,217.2 986.6,218.1 987.1,216.9 987.6,217 988.1,219.1 988.6,220.9 989.1,222.3 989.6,226.3 990.1,233.8 990.6,244 991.1,252.2 991.6,252.2 992.1,244.1 992.6,233.7 993.1,225.5 993.6,220.1 994.1,216.9 994.6,215 995.1,213.8 995.6,213.2 996.1,212.8 996.6,212.6 997.1,212.7 997.6,213.3 998.1,213.9 998.6,213.5 999.1,212.7"/>
<path class="m" d="M1070.7,111.2 1071.2,111.2 1071.7,111.2 1072.2,111.2 1072.7,111.4 1073.2,111.8 1073.7,112.8 1074.2,115 1074.7,119.8 1075.2,127.6 1075.7,133.7 1076.2,130.9 1076.7,124.7 1077.2,122.2 1077.7,124.5 1078.2,131.5 1078.7,143.1 1079.2,156.2 1079.7,163.5 1080.2,158.4 1080.7,145.2 1081.2,132 1081.7,122.4 1082.2,116.4 1082.7,112.9 1083.2,110.8 1083.7,109.6 1084.2,109.1 1084.7,109.3 1085.2,110.9 1085.7,114.8 1086.2,120.8 1086.7,122.7 1087.2,119.9 1087.7,120 1088.2,124.5 1088.7,134.2 1089.2,151.3 1089.7,176.8 1090.2,203.3 1090.7,210.6 1091.2,193.9 1091.7,169.2 1092.2,148.2 1092.7,134.4 1093.2,126.6 1093.7,122.7 1094.2,121.6 1094.7,123 1095.2,127 1095.7,134.8 1096.2,148.2 1096.7,168.1 1097.2,189.8 1097.7,199.9 1098.2,187.6 1098.7,165.5 1099.2,146.5 1099.7,133.9 1100.2,126.5 1100.7,122.2 1101.2,119.8 1101.7,118.5 1102.2,117.7 1102.7,117.3 1103.2,117.1 1103.7,117.1 1104.2,117.1 1104.7,117.2 1105.2,117.4 1105.7,117.7 1106.2,118.5 1106.7,119.9 1107.2,121.5 1107.7,123 1108.2,125.1 1108.7,125.8 1109.2,123.7 1109.7,121.6 1110.2,120.6 1110.7,120.5 1111.2,120.9 1111.7,121.9 1112.2,123.5 1112.7,126.2 1113.2,130.7 1113.7,138.2 1114.2,149.8 1114.7,165.5 1115.2,179.7 1115.7,183.2 1116.2,172.9 1116.7,157.2 1117.2,143.8 1117.7,134.9 1118.2,129.6 1118.7,126.5 1119.2,124.8 1119.7,123.8 1120.2,123.3 1120.7,123.1 1121.2,123.3 1121.7,124 1122.2,125.7 1122.7,128.3 1123.2,129.2 1123.7,129.2 1124.2,132.2 1124.7,138.2 1125.2,139.9 1125.7,134.7 1126.2,131.3 1126.7,130.9 1127.2,131.7 1127.7,132.6 1128.2,134.7 1128.7,138.8 1129.2,145.8 1129.7,157.3 1130.2,175.1 1130.7,199.5 1131.2,225.7 1131.7,247.1 1132.2,264.4 1132.7,279.2 1133.2,279.4 1133.7,255.9 1134.2,220 1134.7,188.7 1135.2,167.6 1135.7,155 1136.2,148.1 1136.7,145 1137.2,144.6 1137.7,146.6 1138.2,151.8 1138.7,161.5 1139.2,177.2 1139.7,198.5 1140.2,218.1 1140.7,222.6 1141.2,208.6 1141.7,186.8 1142.2,168.5 1142.7,156.3 1143.2,149 1143.7,145 1144.2,142.9 1144.7,142.1 1145.2,142.2 1145.7,142.7 1146.2,142.8 1146.7,143.2 1147.2,144.6 1147.7,147.2 1148.2,151.8 1148.7,159.5 1149.2,171 1149.7,183.9 1150.2,191.6 1150.7,188.5 1151.2,177.1 1151.7,164.7 1152.2,156.3 1152.7,152.6 1153.2,152.8 1153.7,156.7 1154.2,164.2 1154.7,173.1 1155.2,177.9 1155.7,174.2 1156.2,164.6 1156.7,155 1157.2,148.1 1157.7,143.8 1158.2,141.2 1158.7,139.7 1159.2,138.8 1159.7,138.4 1160.2,138.5 1160.7,139.4 1161.2,141.6 1161.7,144.2 1162.2,143.8 1162.7,142 1163.2,141.5 1163.7,142.3 1164.2,144.2 1164.7,147.5 1165.2,153.2 1165.7,162.7 1166.2,177.2 1166.7,195.5 1167.2,210.3 1167.7,210.7 1168.2,196.9 1168.7,178.8 1169.2,164.6 1169.7,155.4 1170.2,149.9 1170.7,147 1171.2,145.5 1171.7,145.4 1172.2,145.9 1172.7,146.2 1173.2,146.2 1173.7,145.9 1174.2,145.5 1174.7,145.1 1175.2,145.2 1175.7,144.8 1176.2,144.3 1176.7,144.1 1177.2,144.2 1177.7,144.4 1178.2,144.7 1178.7,145 1179.2,145.4 1179.7,145.8 1180.2,146.4 1180.7,147.3 1181.2,148.6 1181.7,150.7 1182.2,153 1182.7,155.9 1183.2,161.2 1183.7,170.4 1184.2,184.3 1184.7,200.9 1185.2,212.3 1185.7,209.7 1186.2,195.8 1186.7,180.2 1187.2,168.9 1187.7,162.6 1188.2,160 1188.7,157.9 1189.2,154.9 1189.7,153 1190.2,152.4 1190.7,152.8 1191.2,154 1191.7,154.3 1192.2,153.4 1192.7,153.1 1193.2,153.5 1193.7,154.4 1194.2,154.8 1194.7,154.6 1195.2,154.8 1195.7,155.2 1196.2,155.8 1196.7,156.6 1197.2,157.6 1197.7,158.9 1198.2,160.7 1198.7,163.4 1199.2,167.4 1199.7,174 1200.2,185 1200.7,202.8 1201.2,229.1 1201.7,263.7 1202.2,295.4 1202.7,303 1203.2,279.8 1203.7,244.1 1204.2,213.9 1204.7,193.8 1205.2,182 1205.7,175.3 1206.2,171.8 1206.7,170.6 1207.2,172 1207.7,176.5 1208.2,179.4 1208.7,175.5 1209.2,171.1 1209.7,169.3 1210.2,169.1 1210.7,169.7 1211.2,171 1211.7,173.2 1212.2,176.8 1212.7,182.7 1213.2,192.2 1213.7,206.3 1214.2,223.5 1214.7,236.2 1215.2,237 1215.7,226.3 1216.2,209.2 1216.7,194.7 1217.2,186 1217.7,181.7 1218.2,179.9 1218.7,179.9 1219.2,181.3 1219.7,184.5 1220.2,190 1220.7,197 1221.2,202.9 1221.7,203.3 1222.2,198.2 1222.7,191.8 1223.2,187.3 1223.7,185.4 1224.2,186.1 1224.7,189.5 1225.2,196.6 1225.7,207.4 1226.2,219.5 1226.7,226.3 1227.2,222 1227.7,210.4 1228.2,198.7 1228.7,190.5 1229.2,185.7 1229.7,183.5 1230.2,182.9 1230.7,181.9 1231.2,180.4 1231.7,179.4 1232.2,179.1 1232.7,179.1 1233.2,179.4 1233.7,179.8 1234.2,180.6 1234.7,181.7 1235.2,183.5 1235.7,186.7 1236.2,191.5 1236.7,196.3 1237.2,203 1237.7,215.6 1238.2,233.5 1238.7,251.7 1239.2,261.8 1239.7,254.9 1240.2,236.2 1240.7,217.5 1241.2,204.4 1241.7,196.7 1242.2,192.7 1242.7,191.2 1243.2,190.3 1243.7,189.3 1244.2,188.4 1244.7,187.8 1245.2,187.9 1245.7,188.6 1246.2,190 1246.7,192.3 1247.2,196.1 1247.7,202.3 1248.2,212.1 1248.7,225.7 1249.2,239.5 1249.7,245.3 1250.2,238.6 1250.7,225.2 1251.2,213 1251.7,204.8 1252.2,200.2 1252.7,198 1253.2,197.4 1253.7,198.2 1254.2,200.4 1254.7,204.6 1255.2,211.9 1255.7,223.8 1256.2,241.4 1256.7,260.7 1257.2,271.5 1257.7,265.2 1258.2,247.3 1258.7,229.4 1259.2,216.5 1259.7,208.7 1260.2,204.2 1260.7,201.7 1261.2,200.3 1261.7,199.6 1262.2,199.3 1262.7,199.3 1263.2,199.4 1263.7,199.6 1264.2,199.9 1264.7,200.3 1265.2,200.8 1265.7,201.3 1266.2,202 1266.7,203.1 1267.2,205.1 1267.7,209.3 1268.2,215.5 1268.7,217.1 1269.2,213.2 1269.7,211.1 1270.2,210.8 1270.7,211.1 1271.2,213.9 1271.7,220.7 1272.2,230.1 1272.7,233.2 1273.2,234.3 1273.7,242.4 1274.2,258.1 1274.7,275.3 1275.2,283.5 1275.7,277.5 1276.2,264.9 1276.7,256.7 1277.2,257.9 1277.7,270.6 1278.2,293.7 1278.7,318.9 1279.2,330 1279.7,317.2 1280.2,293.6 1280.7,274.9 1281.2,265.8 1281.7,264.5 1282.2,274.1 1282.7,299 1283.2,342.8 1283.7,400.1 1284.2,446.4 1284.7,447.9 1285.2,401.8 1285.7,343.5 1286.2,297 1286.7,267 1287.2,249.4 1287.7,239.3 1288.2,233.6 1288.7,230.9 1289.2,230.1 1289.7,231.1 1290.2,234.3 1290.7,240.4 1291.2,250.9 1291.7,266.6 1292.2,285.2 1292.7,297.7 1293.2,296.1 1293.7,283.2 1294.2,269.9 1294.7,263.1 1295.2,264.2 1295.7,270.7 1296.2,282.1 1296.7,302.2 1297.2,326.7 1297.7,341.1 1298.2,334.2 1298.7,313 1299.2,289.4 1299.7,270.7 1300.2,259.4 1300.7,253.3 1301.2,250.4 1301.7,249.1 1302.2,248.6 1302.7,248.8 1303.2,249.5 1303.7,251.2 1304.2,254.4 1304.7,260 1305.2,269.7 1305.7,285.4 1306.2,308.4 1306.7,334.1 1307.2,348.6 1307.7,341.5 1308.2,320.4 1308.7,301.1 1309.2,291.4 1309.7,290.9 1310.2,294.2 1310.7,292.7 1311.2,283.4 1311.7,271.5 1312.2,261.8 1312.7,255.4 1313.2,251.5 1313.7,249.2 1314.2,247.8 1314.7,247 1315.2,246.5 1315.7,246.2 1316.2,246.2 1316.7,246.4 1317.2,246.7 1317.7,247 1318.2,247.4 1318.7,247.8 1319.2,248.2 1319.7,248.7 1320.2,249.1 1320.7,249.6 1321.2,250.1 1321.7,250.6 1322.2,251.1 1322.7,251.7 1323.2,252.4 1323.7,253.2 1324.2,254.2 1324.7,255.6 1325.2,257.7 1325.7,261 1326.2,266.7 1326.7,277.2 1327.2,293.7 1327.7,308.9 1328.2,315.5 1328.7,313.6 1329.2,303.1 1329.7,289.3 1330.2,278.1 1330.7,271.3 1331.2,268.3 1331.7,267.9 1332.2,267 1332.7,265.6 1333.2,265.9 1333.7,266.8 1334.2,265.7 1334.7,264.4 1335.2,264 1335.7,264.2 1336.2,264.6 1336.7,265.1 1337.2,265.7 1337.7,266.3 1338.2,266.9 1338.7,267.6 1339.2,268.2 1339.7,268.9 1340.2,269.8 1340.7,270.8 1341.2,272.2 1341.7,273.9 1342.2,274.5 1342.7,274.7 1343.2,275.3 1343.7,276.7 1344.2,278.9 1344.7,282.2 1345.2,287.4 1345.7,295.3 1346.2,305.6 1346.7,315.1 1347.2,317.7 1347.7,312 1348.2,302.7 1348.7,295.1 1349.2,290.2 1349.7,287.7 1350.2,286.6 1350.7,286.4 1351.2,286.9 1351.7,288 1352.2,289.8 1352.7,292.6 1353.2,296.9 1353.7,303.8 1354.2,314.9 1354.7,331.7 1355.2,353.6 1355.7,374.3 1356.2,385 1356.7,387.7 1357.2,395.2 1357.7,419.1 1358.2,452.8 1358.7,472.6 1359.2,457.9 1359.7,417.2 1360.2,374.4 1360.7,343.5 1361.2,324.9 1361.7,314.1 1362.2,308 1362.7,304.5 1363.2,302.6 1363.7,301.6 1364.2,301.1 1364.7,300.9 1365.2,301 1365.7,301.3 1366.2,301.6 1366.7,302 1367.2,302.4 1367.7,302.9 1368.2,303.4 1368.7,304 1369.2,304.6 1369.7,305.3 1370.2,306.1 1370.7,307 1371.2,308.1 1371.7,310 1372.2,312.8 1372.7,316.1 1373.2,320.3 1373.7,322.8 1374.2,321.4 1374.7,319.8 1375.2,317.7 1375.7,316.1 1376.2,315.4 1376.7,315.5 1377.2,315.9 1377.7,316.6 1378.2,317.4 1378.7,318.4 1379.2,319.9 1379.7,322.1 1380.2,324.6 1380.7,325.4 1381.2,324.6 1381.7,324 1382.2,324.2 1382.7,325.2 1383.2,327.1 1383.7,330.6 1384.2,336.8 1384.7,345.8 1385.2,351 1385.7,347 1386.2,340.9 1386.7,338.4 1387.2,339.3 1387.7,342.9 1388.2,349.6 1388.7,361.1 1389.2,379.4 1389.7,405.9 1390.2,436.3 1390.7,456.5 1391.2,457.3 1391.7,448.7 1392.2,447.5 1392.7,456 1393.2,462.9 1393.7,452.4 1394.2,425.9 1394.7,398.3 1395.2,377.8 1395.7,365.2 1396.2,357.9 1396.7,353.9 1397.2,351.9 1397.7,350.9 1398.2,350.7 1398.7,351 1399.2,352.1 1399.7,354.7 1400.2,359.9 1400.7,366.8 1401.2,368.9 1401.7,363.7 1402.2,358.1 1402.7,355 1403.2,353.7 1403.7,353.4 1404.2,353.4 1404.7,353.7 1405.2,354 1405.7,354.4 1406.2,354.8 1406.7,355.2 1407.2,355.6 1407.7,356.1 1408.2,356.5 1408.7,357 1409.2,357.4"/>
<path class="m" d="M184.9,79.4 185.4,84.2 185.9,92.5 186.4,105.1 186.9,119.8 187.4,128.6 187.9,124.1 188.4,109.8 188.9,94.7 189.4,83.6 189.9,76.9 190.4,73.4 190.9,72.4 191.4,73.9 191.9,78.3 192.4,87 192.9,101.6 193.4,123.1 193.9,145.9 194.4,156.8 194.9,146.3 195.4,123.3 195.9,101.5 196.4,86.3 196.9,77.9 197.4,74 197.9,71.9 198.4,70.5 198.9,71.5 199.4,76.1 199.9,85.4 200.4,102.8 200.9,131.2 201.4,163.6 201.9,186.2 202.4,190.7 202.9,169.8 203.4,138 203.9,110.7 204.4,92.5 204.9,81.7 205.4,76.3 205.9,74.6 206.4,75.8 206.9,75.3 207.4,71.6 207.9,68.9 208.4,67.7 208.9,67.4 209.4,67.4 209.9,67.7 210.4,68.3 210.9,69.6 211.4,71.8 211.9,73.7 212.4,73.7 212.9,74.2 213.4,74 213.9,73 214.4,73.3 214.9,75.2 215.4,78.7 215.9,84.8 216.4,94.8 216.9,111.9 217.4,138.6 217.9,175.5 218.4,212.1 218.9,228.4 219.4,216.2 219.9,196.3 220.4,192.5 220.9,214.1 221.4,257.8 221.9,298.9 222.4,302.1 222.9,258.6 223.4,200.9 223.9,154.7 224.4,123.5 224.9,103.3 225.4,90.5 225.9,82.7 226.4,78.5 226.9,76.2 227.4,74.5 227.9,72.7 228.4,71.5 228.9,70.8 229.4,70.4 229.9,70.1 230.4,70 230.9,69.9 231.4,70 231.9,70.4 232.4,71.3 232.9,73.4 233.4,75.9 233.9,75.7 234.4,74.6 234.9,75.5 235.4,77.4 235.9,77.2 236.4,74.4 236.9,72.4 237.4,71.6 237.9,71.5 238.4,71.9 238.9,72.9 239.4,74.6 239.9,76.1 240.4,75.7 240.9,74.4 241.4,73.6 241.9,73.5 242.4,74.2 242.9,76 243.4,79.5 243.9,82.7 244.4,83.9 244.9,84.1 245.4,82.2 245.9,81.1 246.4,82.9 246.9,87.7 247.4,94.8 247.9,102.8 248.4,113.4 248.9,132.3 249.4,165.7 249.9,214.1 250.4,273 250.9,318.6 251.4,321.2 251.9,284.9 252.4,248.3 252.9,236.1 253.4,245.7 253.9,253.2 254.4,233.8 254.9,194.2 255.4,154.4 255.9,125.4 256.4,107.2 256.9,96.4 257.4,90.1 257.9,86.8 258.4,85.5 258.9,86.3 259.4,88.1 259.9,87.9 260.4,87.7 260.9,89.1 261.4,90.4 261.9,93.1 262.4,99.8 262.9,112.2 263.4,132.7 263.9,162.3 264.4,194 264.9,208.5 265.4,195 265.9,164 266.4,134.3 266.9,113.5 267.4,100.9 267.9,93.7 268.4,89.9 268.9,87.1 269.4,84.9 269.9,83.8 270.4,83.4 270.9,83.9 271.4,85.1 271.9,85.2 272.4,84 272.9,83.3 273.4,83.3 273.9,83.9 274.4,85.3 274.9,87.5 275.4,89.4 275.9,88.9 276.4,87 276.9,85.7 277.4,85.2 277.9,85.1 278.4,85.2 278.9,85.5 279.4,85.7 279.9,86 280.4,86.3 280.9,86.6 281.4,86.9 281.9,87.3 282.4,87.6 282.9,88 283.4,88.5 283.9,88.9 284.4,89.5 284.9,90.2 285.4,91.1 285.9,92.2 286.4,93.7 286.9,96 287.4,99.5 287.9,105 288.4,114.1 288.9,128.5 289.4,149.9 289.9,174.9 290.4,192.3 290.9,192.5 291.4,182.1 291.9,177.5 292.4,189.6 292.9,224.3 293.4,276.1 293.9,322.1 294.4,326.8 294.9,284.6 295.4,225.7 295.9,177.2 296.4,145.7 296.9,126.6 297.4,115.4 297.9,108.8 298.4,104.8 298.9,102.5 299.4,101 299.9,100.1 300.4,99.6 300.9,99.4 301.4,99.3 301.9,99.5 302.4,99.9 302.9,100.7 303.4,101 303.9,100.7 304.4,100.5 304.9,100.6 305.4,101 305.9,101.8 306.4,103.3 306.9,105.6 307.4,108.5 307.9,111 308.4,110 308.9,107.1 309.4,105 309.9,104 310.4,103.7 310.9,103.9 311.4,104.4 311.9,105.5 312.4,107.9 312.9,111.3 313.4,111.7 313.9,108.8 314.4,106.9 314.9,106.4 315.4,106.5 315.9,107.1 316.4,108.5 316.9,111.6 317.4,117.3 317.9,121.2 318.4,117.8 318.9,113.7 319.4,112.5 319.9,113.5 320.4,116.2 320.9,121.2 321.4,129.1 321.9,140 322.4,150.5 322.9,154.2 323.4,147.7 323.9,136.9 324.4,127.4 324.9,121 325.4,117.2 325.9,115 326.4,113.9 326.9,113.3 327.4,113 327.9,113 328.4,113.2 328.9,113.7 329.4,114.7 329.9,116.8 330.4,119.5 330.9,119.2 331.4,116.9 331.9,115.5 332.4,115 332.9,115 333.4,115.3 333.9,115.6 334.4,116 334.9,116.4 335.4,116.8 335.9,117.2 336.4,117.7 336.9,118.1 337.4,118.5 337.9,119 338.4,119.5 338.9,120 339.4,120.6 339.9,121.5 340.4,122.7 340.9,123.8 341.4,124.6 341.9,126.2 342.4,128.4 342.9,129.1 343.4,127.7 343.9,126.4 344.4,126.2 344.9,126.8 345.4,127.7 345.9,128.1 346.4,129 346.9,131.2 347.4,134.2 347.9,135.2 348.4,133.9 348.9,132.5 349.4,131.2 349.9,130.5 350.4,130.4 350.9,130.6 351.4,131 351.9,131.4 352.4,131.9 352.9,132.4 353.4,133 353.9,133.7 354.4,134.4 354.9,135.3 355.4,136.5 355.9,137.9 356.4,140 356.9,142.9 357.4,147.6 357.9,154.9 358.4,167.2 358.9,187.1 359.4,217.3 359.9,254.6 360.4,282.9 360.9,281 361.4,251.2 361.9,214.6 362.4,186.5 362.9,168.7 363.4,158.3 363.9,152.3 364.4,148.9 364.9,147 365.4,145.9 365.9,145.4 366.4,145.2 366.9,145.2 367.4,145.4 367.9,145.7 368.4,146 368.9,146.5 369.4,147.2 369.9,148.3 370.4,150.3 370.9,153.5 371.4,155.8 371.9,155 372.4,154.8 372.9,157 373.4,161.7 373.9,169.2 374.4,178.5 374.9,185.5 375.4,185.2 375.9,178 376.4,169.4 376.9,162.8 377.4,158.7 377.9,156.4 378.4,155.2 378.9,154.6 379.4,154.4 379.9,154.4 380.4,154.5 380.9,154.7 381.4,155 381.9,155.4 382.4,155.9 382.9,156.7 383.4,157.7 383.9,159.3 384.4,161.8 384.9,165.7 385.4,172.2 385.9,182.6 386.4,197.3 386.9,213.1 387.4,221.3 387.9,216.1 388.4,203.6 388.9,193.5 389.4,190.2 389.9,195.2 390.4,206.3 390.9,218.4 391.4,223.5 391.9,216.1 392.4,200.7 392.9,186.1 393.4,176 393.9,169.8 394.4,166.2 394.9,164.2 395.4,163 395.9,162.3 396.4,162 396.9,161.8 397.4,161.8 397.9,161.8 398.4,162 398.9,162.1 399.4,162.4 399.9,162.7 400.4,163.4 400.9,164.4 401.4,165 401.9,164.6 402.4,164.3 402.9,164.3 403.4,164.6 403.9,165 404.4,165.5 404.9,166.3 405.4,167.6 405.9,170 406.4,174.6 406.9,181 407.4,183.7 407.9,179.4 408.4,174 408.9,170.9 409.4,169.6 409.9,169.2 410.4,169.2 410.9,169.4 411.4,169.8 411.9,170.6 412.4,172.2 412.9,175 413.4,176.5 413.9,175.1 414.4,173.8 414.9,173.9 415.4,175.1 415.9,177.6 416.4,182 416.9,189.8 417.4,201.7 417.9,217.4 418.4,237.1 418.9,254.5 419.4,256.5 419.9,241.5 420.4,220.2 420.9,202.8 421.4,191.5 421.9,184.9 422.4,181.3 422.9,179.6 423.4,179.1 423.9,179.7 424.4,181.3 424.9,184.3 425.4,189.3 425.9,197.7 426.4,211.9 426.9,233.5 427.4,262 427.9,286.6 428.4,290 428.9,270 429.4,242.1 429.9,219.3 430.4,204.4 430.9,195.9 431.4,191.2 431.9,188.9 432.4,188.2 432.9,188.7 433.4,190.5 433.9,194 434.4,200.4 434.9,211.2 435.4,229.2 435.9,256.7 436.4,290.5 436.9,315.4 437.4,313.6 437.9,285.8 438.4,252.7 438.9,227.2 439.4,210.9 439.9,201.2 440.4,195.7 440.9,192.4 441.4,190.6 441.9,189.5 442.4,189.1 442.9,189.2 443.4,189.6 443.9,189.8 444.4,189.4 444.9,189.2 445.4,189.3 445.9,189.7 446.4,190.6 446.9,192.3 447.4,196.1 447.9,200.9 448.4,200.8 448.9,197.5 449.4,195.6 449.9,194.7 450.4,194.7 450.9,195.8 451.4,197.9 451.9,201 452.4,204.9 452.9,211.2 453.4,222 453.9,238 454.4,256.8 454.9,269.6 455.4,267.7 455.9,256.4 456.4,247 456.9,247 457.4,258.7 457.9,282.3 458.4,309.6 458.9,322.7 459.4,311 459.9,284.4 460.4,260.6 460.9,247 461.4,245 461.9,254.1 462.4,277.8 462.9,320.5 463.4,385.8 463.9,461.9 464.4,485 464.9,485 465.4,421 465.9,347.6 466.4,292.9 466.9,257.7 467.4,236.8 467.9,224.6 468.4,217.6 468.9,213.3 469.4,210.8 469.9,209.4 470.4,208.6 470.9,208.3 471.4,208.5 471.9,209.8 472.4,213.6 472.9,220.6 473.4,223.1 473.9,217.8 474.4,212.2 474.9,208.8 475.4,207.9 475.9,208.5 476.4,210.2 476.9,213.3 477.4,218.4 477.9,226.6 478.4,239.9 478.9,260.2 479.4,284.7 479.9,314.9 480.4,353.1 480.9,390.5 481.4,410.3 481.9,402.6 482.4,370.8 482.9,330.7 483.4,294.4 483.9,266.6 484.4,247.1 484.9,234.3 485.4,225.8 485.9,220.5 486.4,217.1 486.9,215 487.4,213.7 487.9,213 488.4,212.7 488.9,212.7 489.4,212.9 489.9,213.4 490.4,214 490.9,214.8 491.4,215.4 491.9,215 492.4,214.4 492.9,214.1 493.4,214 493.9,214 494.4,214.1 494.9,214.1 495.4,214.2 495.9,214.4 496.4,214.5 496.9,214.8 497.4,215.2 497.9,215.8 498.4,216.7 498.9,218.3 499.4,220.7 499.9,223.6 500.4,228 500.9,236.1 501.4,249.1 501.9,266.2 502.4,280.7 502.9,283 503.4,270.4 503.9,253.1 504.4,239 504.9,229.7 505.4,224.1 505.9,220.9 506.4,219.2 506.9,218.6 507.4,219.1 507.9,219.5 508.4,218.5 508.9,217.6 509.4,217.5 509.9,217.3 510.4,216.6 510.9,216.2 511.4,216 511.9,216 512.4,215.9 512.9,216 513.4,216 513.9,216 514.4,215.9 514.9,215.9 515.4,216 515.9,216 516.4,216 516.9,216.1 517.4,216.3 517.9,216.7 518.4,217.5 518.9,219.2 519.4,222.6 519.9,228.6 520.4,233.7 520.9,231.4 521.4,225.2 521.9,220.8 522.4,219 522.9,218.9 523.4,221.1 523.9,226.5 524.4,232 524.9,228.8 525.4,222.2 525.9,218.6 526.4,217.1 526.9,216.6 527.4,216.7 527.9,217.6 528.4,219.3 528.9,220 529.4,218.4 529.9,216.9 530.4,216.2 530.9,215.9 531.4,215.8 531.9,215.7 532.4,215.7 532.9,215.7 533.4,215.8 533.9,215.8 534.4,216 534.9,216.2 535.4,216.8 535.9,218 536.4,220.5 536.9,224.4 537.4,226.8 537.9,224.7 538.4,221.1 538.9,219.2 539.4,218.8 539.9,218.6 540.4,218 540.9,218.1 541.4,218.9 541.9,220.5 542.4,223.3 542.9,227.8 543.4,234.3 543.9,241.1 544.4,244.4 544.9,241.6 545.4,235.1 545.9,228.9 546.4,224.6 546.9,222.1 547.4,220.7 547.9,220.1 548.4,220.1 548.9,220.5 549.4,221.5 549.9,223.4 550.4,226.6 550.9,231.9 551.4,239.4 551.9,246.1 552.4,247.5 552.9,243.2 553.4,236.3 553.9,230.5 554.4,226.7 554.9,224.8 555.4,224.1 555.9,224.4 556.4,225.9 556.9,228.8 557.4,234 557.9,242.3 558.4,254 558.9,265.2 559.4,268.7 559.9,261.7 560.4,249.9 560.9,239.4 561.4,232.3 561.9,228 562.4,225.5 562.9,224.1 563.4,223.3 563.9,222.8 564.4,222.6 564.9,222.5 565.4,222.6"/>
<path class="m" d="M638.1,121.8 638.6,121.9 639.1,122.1 639.6,122.5 640.1,123.5 640.6,125.3 641.1,126.8 641.6,125.7 642.1,124 642.6,123.1 643.1,122.8 643.6,122.8 644.1,122.9 644.6,123.2 645.1,123.9 645.6,125.1 646.1,127.2 646.6,128.7 647.1,127.8 647.6,125.8 648.1,124.5 648.6,123.9 649.1,123.7 649.6,123.7 650.1,124 650.6,124.8 651.1,125.6 651.6,125.4 652.1,124.6 652.6,124.1 653.1,124 653.6,124 654.1,124.1 654.6,124.3 655.1,124.7 655.6,125.2 656.1,126.5 656.6,128.9 657.1,132.8 657.6,136.3 658.1,137.6 658.6,137.2 659.1,133.5 659.6,130.4 660.1,129.6 660.6,130 661.1,131.8 661.6,132.7 662.1,130.9 662.6,128.4 663.1,127 663.6,126.5 664.1,126.6 664.6,127.1 665.1,127 665.6,126.5 666.1,126.2 666.6,126.2 667.1,126.4 667.6,127 668.1,128.3 668.6,130.8 669.1,132.1 669.6,130.3 670.1,128.4 670.6,127.7 671.1,127.8 671.6,128.3 672.1,129.4 672.6,131.1 673.1,133.9 673.6,138.6 674.1,146.4 674.6,159.6 675.1,181.5 675.6,214.3 676.1,253.3 676.6,280 677.1,272.9 677.6,239 678.1,200.8 678.6,171.8 679.1,153.7 679.6,142.7 680.1,136.2 680.6,132.3 681.1,129.9 681.6,128.4 682.1,127.5 682.6,127 683.1,126.9 683.6,127.5 684.1,129.1 684.6,132.3 685.1,136.1 685.6,136 686.1,132.1 686.6,128.5 687.1,126.5 687.6,125.6 688.1,125.1 688.6,124.8 689.1,124.6 689.6,124.5 690.1,124.5 690.6,124.4 691.1,124.4 691.6,124.4 692.1,124.4 692.6,124.4 693.1,124.4 693.6,124.5 694.1,124.6 694.6,124.9 695.1,125.5 695.6,127 696.1,129.6 696.6,131.6 697.1,132.7 697.6,137.3 698.1,142.7 698.6,139.3 699.1,132.8 699.6,130.3 700.1,131.9 700.6,136.8 701.1,141.8 701.6,140.2 702.1,134 702.6,129.2 703.1,126.7 703.6,125.5 704.1,125 704.6,124.7 705.1,124.5 705.6,124.5 706.1,124.4 706.6,124.4 707.1,124.5 707.6,124.5 708.1,124.5 708.6,124.6 709.1,124.7 709.6,124.9 710.1,125.1 710.6,125.3 711.1,125.7 711.6,126.2 712.1,127 712.6,128.1 713.1,129.9 713.6,132.6 714.1,137.1 714.6,144.4 715.1,156.7 715.6,177.5 716.1,211.3 716.6,260.8 717.1,315.7 717.6,344.6 718.1,326 718.6,273.5 719.1,221.2 719.6,183.7 720.1,160.2 720.6,146.2 721.1,137.9 721.6,132.9 722.1,129.8 722.6,127.7 723.1,126.4 723.6,125.5 724.1,124.9 724.6,124.5 725.1,124.2 725.6,124 726.1,124.1 726.6,124.7 727.1,126.2 727.6,128.2 728.1,128 728.6,125.7 729.1,124.2 729.6,123.6 730.1,123.6 730.6,124 731.1,124.6 731.6,124.5 732.1,124 732.6,124.2 733.1,125.1 733.6,127.5 734.1,132.7 734.6,140.8 735.1,144.9 735.6,139.3 736.1,131.7 736.6,127.4 737.1,126.1 737.6,127.1 738.1,130.1 738.6,131.4 739.1,128.5 739.6,125.9 740.1,125.1 740.6,125.9 741.1,128.4 741.6,131.1 742.1,130.9 742.6,130.2 743.1,131.9 743.6,136.5 744.1,144.7 744.6,157.8 745.1,175.9 745.6,193.8 746.1,202 746.6,200.1 747.1,199 747.6,209.4 748.1,233 748.6,256.6 749.1,259.9 749.6,236.4 750.1,202.1 750.6,172.7 751.1,152.7 751.6,140.8 752.1,133.6 752.6,129.4 753.1,126.7 753.6,125.1 754.1,124 754.6,123.2 755.1,122.7 755.6,122.3 756.1,122.1 756.6,121.9 757.1,121.7 757.6,121.6 758.1,121.5 758.6,121.4 759.1,121.3 759.6,121.3 760.1,121.2 760.6,121.2 761.1,121.2 761.6,121.2 762.1,121.2 762.6,121.2 763.1,121.4 763.6,121.7 764.1,122.6 764.6,124.4 765.1,126.4 765.6,126.2 766.1,125.5 766.6,127.2 767.1,131.9 767.6,137.7 768.1,137.6 768.6,131.7 769.1,126.5 769.6,123.6 770.1,122.3 770.6,121.6 771.1,121.4 771.6,121.3 772.1,121.2 772.6,121.3 773.1,121.5 773.6,121.9 774.1,122.5 774.6,123.5 775.1,125.1 775.6,127.9 776.1,132.5 776.6,139.4 777.1,147.6 777.6,153.3 778.1,152.3 778.6,145.9 779.1,138.5 779.6,132.7 780.1,129.9 780.6,129.9 781.1,129 781.6,126 782.1,123.7 782.6,122.8 783.1,122.6 783.6,123 784.1,124.4 784.6,127.5 785.1,133.1 785.6,138.3 786.1,136.9 786.6,130.7 787.1,126 787.6,123.6 788.1,122.5 788.6,122.1 789.1,122.1 789.6,122.3 790.1,122.8 790.6,123.6 791.1,125.1 791.6,127.5 792.1,131.7 792.6,138.6 793.1,150 793.6,166.5 794.1,184.9 794.6,195 795.1,189.3 795.6,173.4 796.1,158.9 796.6,148.4 797.1,138.6 797.6,131.7 798.1,128.1 798.6,126.9 799.1,127.1 799.6,128.8 800.1,132.5 800.6,139.2 801.1,150.5 801.6,167 802.1,185.4 802.6,196 803.1,190.4 803.6,174.6 804.1,157.8 804.6,145.5 805.1,137.9 805.6,132.6 806.1,129.6 806.6,128.9 807.1,129.9 807.6,132 808.1,135.6 808.6,142.8 809.1,154.9 809.6,172.4 810.1,190.4 810.6,198.2 811.1,190.6 811.6,173.7 812.1,156.9 812.6,145.7 813.1,140.5 813.6,139.8 814.1,143.6 814.6,152.7 815.1,168.8 815.6,191.6 816.1,215.9 816.6,230.7 817.1,231 817.6,226.3 818.1,224.1 818.6,217.8 819.1,200.8 819.6,178.7 820.1,160.9 820.6,151 821.1,144.9 821.6,138.8 822.1,135.5 822.6,133.3 823.1,129.7 823.6,126.9 824.1,125.6 824.6,124.9 825.1,124.5 825.6,124.3 826.1,124.2 826.6,124.2 827.1,124.1 827.6,124.2 828.1,124.2 828.6,124.2 829.1,124.3 829.6,124.5 830.1,124.9 830.6,125.6 831.1,126 831.6,125.6 832.1,125.3 832.6,125.5 833.1,126.3 833.6,127.9 834.1,128.8 834.6,127.7 835.1,126.5 835.6,126.1 836.1,126.4 836.6,127.1 837.1,129 837.6,132.3 838.1,136.5 838.6,138.3 839.1,138.7 839.6,140.5 840.1,138.5 840.6,133.3 841.1,130.6 841.6,130 842.1,130.2 842.6,131.6 843.1,133.7 843.6,133.6 844.1,131.2 844.6,129 845.1,127.9 845.6,127.4 846.1,127.2 846.6,127.2 847.1,127.2 847.6,127.2 848.1,127.3 848.6,127.5 849.1,127.7 849.6,128.1 850.1,128.8 850.6,129.5 851.1,129.4 851.6,129.1 852.1,129.1 852.6,129.3 853.1,129.7 853.6,130.3 854.1,131.3 854.6,133.1 855.1,136.5 855.6,142.5 856.1,148 856.6,146.8 857.1,141 857.6,136.6 858.1,134.5 858.6,133.8 859.1,133.7 859.6,134 860.1,134.6 860.6,135.6 861.1,137.2 861.6,139.6 862.1,143.6 862.6,150 863.1,159.5 863.6,170.7 864.1,178.6 864.6,176.8 865.1,167.6 865.6,157.1 866.1,149.4 866.6,144.6 867.1,141.9 867.6,140.4 868.1,139.6 868.6,139.1 869.1,138.9 869.6,139.2 870.1,140.1 870.6,142.1 871.1,146 871.6,152.5 872.1,162.2 872.6,173.1 873.1,179.4 873.6,176.3 874.1,167.6 874.6,160.2 875.1,157.9 875.6,162.1 876.1,172.2 876.6,185 877.1,192.1 877.6,186.4 878.1,172.8 878.6,159.8 879.1,151.4 879.6,148.4 880.1,150.6 880.6,158.4 881.1,174.2 881.6,200 882.1,237 882.6,274.8 883.1,290.7 883.6,274.1 884.1,241.2 884.6,213.8 885.1,200.1 885.6,201.5 886.1,214.7 886.6,229.7 887.1,232.3 887.6,217 888.1,195.5 888.6,178.3 889.1,168.1 889.6,164.4 890.1,166 890.6,173.5 891.1,188.6 891.6,214.3 892.1,251.5 892.6,291.3 893.1,311 893.6,294.7 894.1,252.6 894.6,214 895.1,188.8 895.6,173.9 896.1,165.6 896.6,160.9 897.1,158.4 897.6,157.1 898.1,156.6 898.6,156.5 899.1,156.6 899.6,156.9 900.1,157 900.6,157.1 901.1,157 901.6,157 902.1,157 902.6,157.2 903.1,157.5 903.6,157.9 904.1,158.7 904.6,159.8 905.1,161.8 905.6,165 906.1,170.6 906.6,180.3 907.1,196.3 907.6,219.2 908.1,246.9 908.6,269.1 909.1,270.5 909.6,250 910.1,224.2 910.6,201.9 911.1,184.1 911.6,172.9 912.1,166.8 912.6,164 913.1,163 913.6,163.6 914.1,165.8 914.6,170.3 915.1,178.3 915.6,190.3 916.1,204.9 916.6,216.9 917.1,218.5 917.6,210.4 918.1,200.6 918.6,193.9 919.1,193.5 919.6,202.7 920.1,223.5 920.6,258.8 921.1,304.7 921.6,341 922.1,342 922.6,305.1 923.1,258.4 923.6,221.5 924.1,197.8 924.6,184 925.1,175.6 925.6,170 926.1,166.5 926.6,164.4 927.1,163.2 927.6,162.4 928.1,162 928.6,161.8 929.1,161.7 929.6,161.8 930.1,162.3 930.6,162.9 931.1,162.8 931.6,162.3 932.1,162.1 932.6,162 933.1,162.1 933.6,162.3 934.1,162.6 934.6,163.2 935.1,164 935.6,164.2 936.1,163.8 936.6,163.7 937.1,164 937.6,164.8 938.1,166.8 938.6,170.8 939.1,177.2 939.6,181.6 940.1,178.1 940.6,171.7 941.1,167.4 941.6,165.3 942.1,164.4 942.6,164 943.1,163.8 943.6,163.8 944.1,163.9 944.6,164.1 945.1,164.5 945.6,165.3 946.1,167.1 946.6,170.7 947.1,176.6 947.6,180.9 948.1,178.1 948.6,172.1 949.1,168.1 949.6,166.1 950.1,165.3 950.6,164.9 951.1,164.8 951.6,164.9 952.1,165.1 952.6,165.5 953.1,166.2 953.6,167.2 954.1,168.9 954.6,171.7 955.1,175.5 955.6,181.1 956.1,190.3 956.6,203.8 957.1,217.5 957.6,223 958.1,216 958.6,202.3 959.1,190 959.6,181.8 960.1,177.4 960.6,175.7 961.1,176.2 961.6,178.9 962.1,184.7 962.6,195.4 963.1,214 963.6,240.5 964.1,278.4 964.6,333.6 965.1,391.2 965.6,413.5 966.1,382.6 966.6,322.3 967.1,267.2 967.6,230.4 968.1,208.6 968.6,197.9 969.1,194.8 969.6,198.4 970.1,209 970.6,225.4 971.1,241.7 971.6,247.7 972.1,240.3 972.6,228.2 973.1,222.1 973.6,224.9 974.1,231 974.6,230.2 975.1,218.5 975.6,202.9 976.1,189.9 976.6,181.3 977.1,176 977.6,172.9 978.1,171 978.6,169.8 979.1,169.1 979.6,168.7 980.1,168.4 980.6,168.2 981.1,168.1 981.6,168.1 982.1,168.1 982.6,168.1 983.1,168.1 983.6,168.2 984.1,168.4 984.6,168.8 985.1,169.6 985.6,171.3 986.1,173.9 986.6,174.9 987.1,173.7 987.6,173.9 988.1,176 988.6,178 989.1,179.4 989.6,183.6 990.1,191.4 990.6,201.9 991.1,210.4 991.6,210.5 992.1,202.2 992.6,191.5 993.1,183 993.6,177.5 994.1,174.3 994.6,172.4 995.1,171.2 995.6,170.6 996.1,170.2 996.6,170.1 997.1,170.3 997.6,170.9 998.1,171.5 998.6,171.2 999.1,170.4"/>
<path class="m" d="M1070.7,184.5 1071.2,184.5 1071.7,184.5 1072.2,184.5 1072.7,184.6 1073.2,185.1 1073.7,186 1074.2,188.2 1074.7,192.7 1075.2,200.1 1075.7,205.9 1076.2,203.3 1076.7,197.3 1077.2,195 1077.7,197.2 1078.2,203.8 1078.7,214.8 1079.2,227.3 1079.7,234.2 1080.2,229.3 1080.7,216.8 1081.2,204.2 1081.7,195.1 1082.2,189.5 1082.7,186.1 1083.2,184.1 1083.7,183 1084.2,182.5 1084.7,182.7 1085.2,184.2 1085.7,187.9 1086.2,193.6 1086.7,195.4 1087.2,192.7 1087.7,192.8 1088.2,197.1 1088.7,206.3 1089.2,222.5 1089.7,246.8 1090.2,271.9 1090.7,278.9 1091.2,263 1091.7,239.5 1092.2,219.4 1092.7,206.3 1093.2,198.9 1093.7,195.2 1094.2,194.2 1094.7,195.4 1095.2,199.2 1095.7,206.7 1096.2,219.4 1096.7,238.3 1097.2,258.9 1097.7,268.5 1098.2,256.8 1098.7,235.7 1099.2,217.7 1099.7,205.7 1100.2,198.6 1100.7,194.6 1101.2,192.2 1101.7,190.9 1102.2,190.2 1102.7,189.8 1103.2,189.6 1103.7,189.5 1104.2,189.5 1104.7,189.6 1105.2,189.8 1105.7,190.1 1106.2,190.9 1106.7,192.2 1107.2,193.7 1107.7,195.1 1108.2,197.1 1108.7,197.7 1109.2,195.7 1109.7,193.7 1110.2,192.7 1110.7,192.6 1111.2,193 1111.7,193.9 1112.2,195.4 1112.7,198 1113.2,202.3 1113.7,209.3 1114.2,220.4 1114.7,235.3 1115.2,248.8 1115.7,252.1 1116.2,242.4 1116.7,227.3 1117.2,214.6 1117.7,206.1 1118.2,201.1 1118.7,198.1 1119.2,196.4 1119.7,195.5 1120.2,195 1120.7,194.9 1121.2,195 1121.7,195.6 1122.2,197.3 1122.7,199.7 1123.2,200.6 1123.7,200.6 1124.2,203.3 1124.7,209.1 1125.2,210.6 1125.7,205.8 1126.2,202.5 1126.7,202.1 1127.2,202.8 1127.7,203.6 1128.2,205.7 1128.7,209.5 1129.2,216.2 1129.7,227.1 1130.2,244.1 1130.7,267.3 1131.2,292.2 1131.7,312.5 1132.2,329 1132.7,343.1 1133.2,343.3 1133.7,320.9 1134.2,286.7 1134.7,256.9 1135.2,236.8 1135.7,224.7 1136.2,218.2 1136.7,215.2 1137.2,214.8 1137.7,216.7 1138.2,221.6 1138.7,230.8 1139.2,245.8 1139.7,266.1 1140.2,284.7 1140.7,289 1141.2,275.6 1141.7,254.9 1142.2,237.4 1142.7,225.8 1143.2,218.9 1143.7,215 1144.2,213 1144.7,212.2 1145.2,212.3 1145.7,212.8 1146.2,212.9 1146.7,213.3 1147.2,214.5 1147.7,217 1148.2,221.4 1148.7,228.7 1149.2,239.6 1149.7,251.9 1150.2,259.2 1150.7,256.2 1151.2,245.4 1151.7,233.5 1152.2,225.5 1152.7,222 1153.2,222.2 1153.7,225.9 1154.2,233 1154.7,241.5 1155.2,246 1155.7,242.5 1156.2,233.3 1156.7,224.2 1157.2,217.6 1157.7,213.5 1158.2,211 1158.7,209.5 1159.2,208.7 1159.7,208.3 1160.2,208.4 1160.7,209.2 1161.2,211.3 1161.7,213.8 1162.2,213.4 1162.7,211.7 1163.2,211.1 1163.7,211.8 1164.2,213.7 1164.7,216.8 1165.2,222.2 1165.7,231.2 1166.2,245 1166.7,262.5 1167.2,276.6 1167.7,277 1168.2,263.8 1168.7,246.5 1169.2,232.9 1169.7,224.2 1170.2,219 1170.7,216.1 1171.2,214.8 1171.7,214.6 1172.2,215.1 1172.7,215.4 1173.2,215.4 1173.7,215 1174.2,214.6 1174.7,214.3 1175.2,214.3 1175.7,213.9 1176.2,213.4 1176.7,213.3 1177.2,213.3 1177.7,213.5 1178.2,213.8 1178.7,214 1179.2,214.4 1179.7,214.8 1180.2,215.4 1180.7,216.2 1181.2,217.5 1181.7,219.4 1182.2,221.6 1182.7,224.4 1183.2,229.4 1183.7,238.1 1184.2,251.3 1184.7,267.1 1185.2,278 1185.7,275.5 1186.2,262.3 1186.7,247.4 1187.2,236.6 1187.7,230.6 1188.2,228.1 1188.7,226.1 1189.2,223.2 1189.7,221.4 1190.2,220.7 1190.7,221.2 1191.2,222.3 1191.7,222.6 1192.2,221.8 1192.7,221.5 1193.2,221.9 1193.7,222.8 1194.2,223.2 1194.7,223.1 1195.2,223.2 1195.7,223.7 1196.2,224.3 1196.7,225.1 1197.2,226 1197.7,227.3 1198.2,229.1 1198.7,231.6 1199.2,235.5 1199.7,241.8 1200.2,252.3 1200.7,269.3 1201.2,294.3 1201.7,327.4 1202.2,357.6 1202.7,364.9 1203.2,342.8 1203.7,308.8 1204.2,280.1 1204.7,261 1205.2,249.7 1205.7,243.3 1206.2,240 1206.7,238.9 1207.2,240.3 1207.7,244.6 1208.2,247.4 1208.7,243.7 1209.2,239.6 1209.7,237.8 1210.2,237.7 1210.7,238.3 1211.2,239.6 1211.7,241.7 1212.2,245.1 1212.7,250.8 1213.2,259.8 1213.7,273.3 1214.2,289.7 1214.7,301.8 1215.2,302.6 1215.7,292.5 1216.2,276.2 1216.7,262.4 1217.2,254.2 1217.7,250.1 1218.2,248.4 1218.7,248.4 1219.2,249.8 1219.7,252.9 1220.2,258.1 1220.7,264.9 1221.2,270.5 1221.7,270.8 1222.2,266.1 1222.7,260 1223.2,255.7 1223.7,253.9 1224.2,254.6 1224.7,257.9 1225.2,264.6 1225.7,274.9 1226.2,286.5 1226.7,293 1227.2,288.9 1227.7,277.9 1228.2,266.9 1228.7,259.1 1229.2,254.5 1229.7,252.4 1230.2,251.8 1230.7,250.9 1231.2,249.5 1231.7,248.7 1232.2,248.4 1232.7,248.4 1233.2,248.7 1233.7,249.1 1234.2,249.9 1234.7,251 1235.2,252.7 1235.7,255.8 1236.2,260.4 1236.7,265 1237.2,271.4 1237.7,283.4 1238.2,300.4 1238.7,317.7 1239.2,327.4 1239.7,320.9 1240.2,303.1 1240.7,285.4 1241.2,272.9 1241.7,265.6 1242.2,261.8 1242.7,260.4 1243.2,259.6 1243.7,258.7 1244.2,257.9 1244.7,257.3 1245.2,257.4 1245.7,258.2 1246.2,259.5 1246.7,261.7 1247.2,265.4 1247.7,271.3 1248.2,280.6 1248.7,293.6 1249.2,306.7 1249.7,312.2 1250.2,305.9 1250.7,293.1 1251.2,281.6 1251.7,273.8 1252.2,269.5 1252.7,267.4 1253.2,266.9 1253.7,267.6 1254.2,269.8 1254.7,273.8 1255.2,280.8 1255.7,292.1 1256.2,308.8 1256.7,327.2 1257.2,337.6 1257.7,331.5 1258.2,314.5 1258.7,297.5 1259.2,285.3 1259.7,278 1260.2,273.7 1260.7,271.3 1261.2,270 1261.7,269.4 1262.2,269.1 1262.7,269.1 1263.2,269.3 1263.7,269.5 1264.2,269.9 1264.7,270.2 1265.2,270.7 1265.7,271.2 1266.2,271.9 1266.7,273 1267.2,274.9 1267.7,278.9 1268.2,284.8 1268.7,286.4 1269.2,282.7 1269.7,280.7 1270.2,280.4 1270.7,280.8 1271.2,283.4 1271.7,290 1272.2,298.9 1272.7,301.9 1273.2,302.9 1273.7,310.7 1274.2,325.6 1274.7,342 1275.2,349.8 1275.7,344.1 1276.2,332.2 1276.7,324.4 1277.2,325.6 1277.7,337.7 1278.2,359.6 1278.7,383.6 1279.2,394.1 1279.7,382 1280.2,359.6 1280.7,341.9 1281.2,333.3 1281.7,332.1 1282.2,341.2 1282.7,364.9 1283.2,406.5 1283.7,460.9 1284.2,485 1284.7,485 1285.2,462.6 1285.7,407.3 1286.2,363.1 1286.7,334.7 1287.2,318 1287.7,308.4 1288.2,303.1 1288.7,300.5 1289.2,299.8 1289.7,300.8 1290.2,303.8 1290.7,309.7 1291.2,319.6 1291.7,334.5 1292.2,352.2 1292.7,364.1 1293.2,362.6 1293.7,350.4 1294.2,337.8 1294.7,331.4 1295.2,332.5 1295.7,338.6 1296.2,349.5 1296.7,368.6 1297.2,391.9 1297.7,405.6 1298.2,399 1298.7,378.9 1299.2,356.5 1299.7,338.9 1300.2,328.1 1300.7,322.4 1301.2,319.6 1301.7,318.4 1302.2,318 1302.7,318.1 1303.2,318.9 1303.7,320.5 1304.2,323.6 1304.7,328.9 1305.2,338.1 1305.7,353.1 1306.2,374.8 1306.7,399.3 1307.2,413.1 1307.7,406.4 1308.2,386.4 1308.7,368.1 1309.2,358.9 1309.7,358.4 1310.2,361.6 1310.7,360.1 1311.2,351.4 1311.7,340.1 1312.2,330.9 1312.7,324.9 1313.2,321.2 1313.7,319 1314.2,317.7 1314.7,317 1315.2,316.5 1315.7,316.3 1316.2,316.3 1316.7,316.5 1317.2,316.8 1317.7,317.1 1318.2,317.5 1318.7,317.9 1319.2,318.3 1319.7,318.8 1320.2,319.2 1320.7,319.7 1321.2,320.1 1321.7,320.7 1322.2,321.2 1322.7,321.8 1323.2,322.5 1323.7,323.2 1324.2,324.2 1324.7,325.6 1325.2,327.5 1325.7,330.7 1326.2,336.1 1326.7,346.1 1327.2,361.8 1327.7,376.2 1328.2,382.5 1328.7,380.7 1329.2,370.8 1329.7,357.7 1330.2,347.1 1330.7,340.7 1331.2,337.9 1331.7,337.5 1332.2,336.7 1332.7,335.3 1333.2,335.6 1333.7,336.5 1334.2,335.5 1334.7,334.3 1335.2,333.9 1335.7,334.1 1336.2,334.5 1336.7,335 1337.2,335.6 1337.7,336.2 1338.2,336.8 1338.7,337.4 1339.2,338.1 1339.7,338.8 1340.2,339.6 1340.7,340.6 1341.2,342 1341.7,343.5 1342.2,344.2 1342.7,344.3 1343.2,345 1343.7,346.4 1344.2,348.4 1344.7,351.6 1345.2,356.6 1345.7,364 1346.2,373.8 1346.7,382.8 1347.2,385.3 1347.7,379.9 1348.2,371.2 1348.7,363.9 1349.2,359.4 1349.7,357 1350.2,355.9 1350.7,355.8 1351.2,356.3 1351.7,357.4 1352.2,359.1 1352.7,361.8 1353.2,365.9 1353.7,372.4 1354.2,383 1354.7,398.9 1355.2,419.6 1355.7,439.3 1356.2,449.4 1356.7,452 1357.2,459.1 1357.7,481.8 1358.2,485 1358.7,485 1359.2,485 1359.7,480 1360.2,439.5 1360.7,410.3 1361.2,392.7 1361.7,382.5 1362.2,376.7 1362.7,373.4 1363.2,371.6 1363.7,370.7 1364.2,370.2 1364.7,370.1 1365.2,370.2 1365.7,370.5 1366.2,370.8 1366.7,371.2 1367.2,371.7 1367.7,372.1 1368.2,372.7 1368.7,373.2 1369.2,373.8 1369.7,374.5 1370.2,375.2 1370.7,376.1 1371.2,377.2 1371.7,378.9 1372.2,381.6 1372.7,384.8 1373.2,388.8 1373.7,391.2 1374.2,389.9 1374.7,388.4 1375.2,386.4 1375.7,384.9 1376.2,384.3 1376.7,384.4 1377.2,384.8 1377.7,385.4 1378.2,386.2 1378.7,387.2 1379.2,388.7 1379.7,390.8 1380.2,393.1 1380.7,394 1381.2,393.1 1381.7,392.6 1382.2,392.9 1382.7,393.8 1383.2,395.6 1383.7,398.9 1384.2,404.8 1384.7,413.4 1385.2,418.4 1385.7,414.6 1386.2,408.8 1386.7,406.5 1387.2,407.3 1387.7,410.8 1388.2,417.2 1388.7,428 1389.2,445.4 1389.7,470.5 1390.2,485 1390.7,485 1391.2,485 1391.7,485 1392.2,485 1392.7,485 1393.2,485 1393.7,485 1394.2,485 1394.7,463.4 1395.2,444 1395.7,432.2 1396.2,425.3 1396.7,421.5 1397.2,419.6 1397.7,418.7 1398.2,418.5 1398.7,418.8 1399.2,419.9 1399.7,422.4 1400.2,427.3 1400.7,433.8 1401.2,435.8 1401.7,431 1402.2,425.7 1402.7,422.8 1403.2,421.6 1403.7,421.3 1404.2,421.4 1404.7,421.6 1405.2,421.9 1405.7,422.3 1406.2,422.7 1406.7,423.1 1407.2,423.6 1407.7,424 1408.2,424.4 1408.7,424.9 1409.2,425.3"/>
</g>
<g clip-path="url(#c2)">
<path class="r A" d="M184.9,518.4 185.1,581.2 185.3,530.7 185.5,527.1 185.7,549.5 185.9,543 186.1,521.9 186.3,539.9 186.5,530.6 186.7,519.4 186.9,507.8 187.2,561.5 187.4,557 187.6,573.5 187.8,546.6 188,524.7 188.2,531.8 188.4,492.9 188.6,549.1 188.8,567.9 189,516.2 189.2,508.7 189.4,552.9 189.6,540.9 189.8,556 190,548.8 190.2,516.7 190.5,538.8 190.7,565.6 190.9,547.2 191.1,542.2 191.3,525.3 191.5,525.3 191.7,513.1 191.9,534.1 192.1,519 192.3,521.3 192.5,520.8 192.7,562.9 192.9,556.7 193.1,591.9 193.3,486.4 193.5,576.7 193.7,547 194,504.2 194.2,575.7 194.4,511.4 194.6,507.6 194.8,521 195,537.7 195.2,544.6 195.4,547.9 195.6,539.1 195.8,532.2 196,514.7 196.2,530.8 196.4,549.9 196.6,553.3 196.8,489.5 197,533.9 197.2,531.3 197.5,545.9 197.7,567.5 197.9,563.7 198.1,568.3 198.3,535.9 198.5,518.7 198.7,531.1 198.9,538.9 199.1,549.1 199.3,550 199.5,550.1 199.7,527.1 199.9,567.9 200.1,550.8 200.3,532.2 200.5,539.3 200.7,526.2 201,537.4 201.2,537.8 201.4,537.2 201.6,561.1 201.8,523.2 202,533 202.2,595.7 202.4,542.3 202.6,512.7 202.8,501.1 203,521.6 203.2,503 203.4,536.8 203.6,509 203.8,509.5 204,523.2 204.3,600.3 204.5,519.8 204.7,534.1 204.9,500.8 205.1,578.9 205.3,502.7 205.5,556.6 205.7,576.1 205.9,558.9 206.1,543.7 206.3,512.1 206.5,533.9 206.7,546.4 206.9,610 207.1,533.3 207.3,562.6 207.5,513.2 207.8,521.1 208,547.6 208.2,559.6 208.4,542.2 208.6,523.3 208.8,491.2 209,510 209.2,548.6 209.4,556.2 209.6,561.2 209.8,536.3 210,548.3 210.2,604.2 210.4,540.8 210.6,551.4 210.8,560.2 211,559.5 211.3,528.6 211.5,552.6 211.7,526.4 211.9,571.8 212.1,579.9 212.3,537.3 212.5,541.8 212.7,519.5 212.9,534.6 213.1,526.9 213.3,555.5 213.5,534.4 213.7,503.3 213.9,459 214.1,527.3 214.3,543.1 214.5,535.5 214.8,549.2 215,533.7 215.2,512.7 215.4,560.2 215.6,554 215.8,527.6 216,544.6 216.2,541 216.4,545.7 216.6,523.9 216.8,501.4 217,527.8 217.2,546.5 217.4,542.5 217.6,567.1 217.8,571.3 218,527.8 218.3,529.7 218.5,532 218.7,530.9 218.9,563 219.1,561.9 219.3,525.2 219.5,515.3 219.7,557.1 219.9,540.3 220.1,549.4 220.3,520.3 220.5,543.8 220.7,527.7 220.9,538.8 221.1,522 221.3,504 221.6,569.8 221.8,593.1 222,581.7 222.2,459 222.4,509.2 222.6,573.5 222.8,550.7 223,598.9 223.2,556.4 223.4,561.8 223.6,632.9 223.8,546.8 224,558.5 224.2,557.3 224.4,553.1 224.6,556.7 224.8,511.7 225.1,535.6 225.3,548.1 225.5,550.5 225.7,533 225.9,532.4 226.1,565.7 226.3,544.1 226.5,519.3 226.7,540.8 226.9,539.5 227.1,577.4 227.3,534 227.5,550.7 227.7,554.1 227.9,553.4 228.1,552.1 228.3,564.2 228.6,615.4 228.8,548.1 229,568.4 229.2,572.9 229.4,533.8 229.6,566.1 229.8,568.9 230,530.2 230.2,524.9 230.4,513.7 230.6,510.9 230.8,572.8 231,537 231.2,538.1 231.4,550.3 231.6,504.8 231.8,530 232.1,554.3 232.3,542 232.5,515.8 232.7,478.3 232.9,496.3 233.1,555.7 233.3,524.2 233.5,562 233.7,592.5 233.9,557.2 234.1,546.9 234.3,533 234.5,532.8 234.7,548.3 234.9,518.7 235.1,539.8 235.4,547.5 235.6,504 235.8,527.5 236,538.7 236.2,524.8 236.4,518 236.6,535.6 236.8,544.1 237,529 237.2,541.1 237.4,529.6 237.6,491.6 237.8,503 238,500.3 238.2,544.6 238.4,569.1 238.6,535.4 238.9,520.3 239.1,537.5 239.3,531.2 239.5,549.3 239.7,523 239.9,541 240.1,525.3 240.3,520.1 240.5,555.2 240.7,558.1 240.9,545.6 241.1,530.1 241.3,532.9 241.5,507.7 241.7,514.9 241.9,579.1 242.1,516.3 242.4,496.1 242.6,521.7 242.8,561.8 243,493 243.2,512.6 243.4,548.2 243.6,572.4 243.8,581.4 244,544.1 244.2,563.6 244.4,568.5 244.6,640 244.8,571.3 245,527 245.2,632.4 245.4,538.6 245.6,534.2 245.9,529.3 246.1,536 246.3,521.5 246.5,535.3 246.7,496.8 246.9,564.4 247.1,529.1 247.3,490.8 247.5,549.1 247.7,493.4 247.9,492.7 248.1,539 248.3,512.6 248.5,554.9 248.7,535.2 248.9,543.8 249.1,565.1 249.4,559.1 249.6,577.1 249.8,592.3 250,520.1 250.2,527.2 250.4,473.9 250.6,557.5 250.8,554.5 251,550.6 251.2,461.3 251.4,627.2 251.6,558.9 251.8,532.4 252,524.2 252.2,556.5 252.4,525 252.7,532.1 252.9,540.4 253.1,559.6 253.3,538.9 253.5,525 253.7,490.5 253.9,553.5 254.1,569 254.3,562.7 254.5,522.4 254.7,553.8 254.9,534.6 255.1,494.6 255.3,464.5 255.5,566.1 255.7,513.2 255.9,573.5 256.2,549.9 256.4,472.7 256.6,522.8 256.8,547.8 257,534.5 257.2,498.9 257.4,474.5 257.6,501.1 257.8,538 258,459 258.2,521.3 258.4,505.6 258.6,523.4 258.8,562 259,526.1 259.2,524.5 259.4,552.3 259.7,504.9 259.9,490 260.1,515.1 260.3,548.2 260.5,534.2 260.7,500.7 260.9,529.4 261.1,525.4 261.3,526.4 261.5,594.4 261.7,519.8 261.9,541.9 262.1,551.9 262.3,517.2 262.5,522.7 262.7,506.7 262.9,517 263.2,525.1 263.4,496.9 263.6,541.3 263.8,551.2 264,482.4 264.2,495.9 264.4,640 264.6,589.9 264.8,551.9 265,514.8 265.2,528.7 265.4,549.8 265.6,524.8 265.8,460.4 266,548.3 266.2,493 266.5,512.3 266.7,515 266.9,510.4 267.1,506.2 267.3,518.7 267.5,553.5 267.7,566.3 267.9,496.4 268.1,521.2 268.3,493.7 268.5,543.5 268.7,556.2 268.9,523.4 269.1,503.1 269.3,543.6 269.5,602 269.7,565.8 270,510.9 270.2,637.5 270.4,552.7 270.6,554.3 270.8,507 271,518 271.2,508.1 271.4,516.7 271.6,509.9 271.8,531.3 272,553.7 272.2,511.7 272.4,510.4 272.6,556 272.8,521.5 273,517.8 273.2,546.8 273.5,504.9 273.7,561.4 273.9,573.1 274.1,548.6 274.3,545.9 274.5,526.9 274.7,587.6 274.9,563.9 275.1,564.7 275.3,559.7 275.5,538.5 275.7,550.2 275.9,540.5 276.1,540.9 276.3,519.1 276.5,552.8 276.7,544.4 277,519.5 277.2,525 277.4,531.3 277.6,512.7 277.8,521.7 278,520.2 278.2,522.5 278.4,499.5 278.6,512.3 278.8,539.1 279,513.8 279.2,510.6 279.4,581 279.6,547.2 279.8,555.4 280,460.7 280.2,510.2 280.5,543.7 280.7,508.5 280.9,526.8 281.1,519.7 281.3,517.3 281.5,549.1 281.7,517.4 281.9,496.2 282.1,459 282.3,483.5 282.5,519.2 282.7,543.9 282.9,531.8 283.1,498.6 283.3,502.1 283.5,530.5 283.8,527.6 284,539.9 284.2,542.3 284.4,521.2 284.6,531.2 284.8,510.6 285,584.5 285.2,575.5 285.4,552.7 285.6,527.3 285.8,530.1 286,556.9 286.2,590.4 286.4,527.8 286.6,550.8 286.8,459 287,523.7 287.3,543.8 287.5,468.5 287.7,492.4 287.9,540.2 288.1,498.6 288.3,588.9 288.5,539 288.7,539.5 288.9,617 289.1,524 289.3,505.4 289.5,552.2 289.7,619.4 289.9,513.6 290.1,507.8 290.3,544.6 290.5,521.9 290.8,501.3 291,535.2 291.2,640 291.4,534.5 291.6,564.2 291.8,570.7 292,623.6 292.2,550.1 292.4,547.2 292.6,527.7 292.8,528.2 293,512.9 293.2,553.1 293.4,585.7 293.6,501.2 293.8,556.8 294,519.5 294.3,551.2 294.5,514.5 294.7,543.6 294.9,640 295.1,581.6 295.3,563.7 295.5,539.3 295.7,544.6 295.9,522.4 296.1,554.1 296.3,474.3 296.5,522.5 296.7,551.5 296.9,501.1 297.1,532 297.3,552.3 297.6,526.1 297.8,532.3 298,529.4 298.2,533.2 298.4,518.7 298.6,547.8 298.8,589.3 299,516.4 299.2,543.4 299.4,552.4 299.6,604.4 299.8,604 300,531.7 300.2,592.9 300.4,542.5 300.6,523.9 300.8,508.5 301.1,498.5 301.3,510.4 301.5,561.9 301.7,550.4 301.9,527.2 302.1,501.9 302.3,516.6 302.5,553.7 302.7,564.3 302.9,533.5 303.1,538.1 303.3,516.3 303.5,512.2 303.7,526.5 303.9,554.8 304.1,554.5 304.3,527 304.6,512.3 304.8,520.7 305,512.4 305.2,531 305.4,504.6 305.6,529.6 305.8,598.9 306,560.9 306.2,548.3 306.4,459 306.6,511.9 306.8,542.3 307,543.4 307.2,581.9 307.4,519.2 307.6,532 307.8,573.9 308.1,602.9 308.3,558 308.5,504.3 308.7,521.5 308.9,525 309.1,543.6 309.3,610.5 309.5,517.9 309.7,529.4 309.9,554.3 310.1,544.4 310.3,517.1 310.5,469.4 310.7,591.8 310.9,509.9 311.1,487.5 311.3,511.9 311.6,507.7 311.8,521.5 312,529 312.2,565 312.4,570.3 312.6,541.7 312.8,512.4 313,561.9 313.2,514.1 313.4,518.1 313.6,527.1 313.8,557 314,506.1 314.2,477.6 314.4,541.4 314.6,528.9 314.9,507.7 315.1,501.4 315.3,541.2 315.5,588.1 315.7,518.6 315.9,545.6 316.1,536.6 316.3,514.7 316.5,524.8 316.7,504.5 316.9,561.7 317.1,521.6 317.3,536.4 317.5,563.8 317.7,541.9 317.9,564.3 318.1,531.4 318.4,510.9 318.6,560.9 318.8,519.6 319,527.5 319.2,543.1 319.4,536.3 319.6,505.3 319.8,535.5 320,546.2 320.2,531.8 320.4,522 320.6,561.7 320.8,593.9 321,519.5 321.2,527.6 321.4,578.1 321.6,640 321.9,480.6 322.1,501.7 322.3,535.5 322.5,522.9 322.7,616 322.9,476.2 323.1,528.2 323.3,459 323.5,640 323.7,523.5 323.9,546.2 324.1,511.2 324.3,538.9 324.5,588.2 324.7,573.2 324.9,526 325.1,516.3 325.4,514.7 325.6,545.3 325.8,529.3 326,542.6 326.2,544.3 326.4,521.3 326.6,498.5 326.8,525.2 327,497.9 327.2,563 327.4,539.4 327.6,523.7 327.8,528 328,544.8 328.2,577.3 328.4,534.6 328.7,501.2 328.9,513.7 329.1,515.8 329.3,574.8 329.5,576.4 329.7,531.5 329.9,531.5 330.1,506.5 330.3,512.1 330.5,514.4 330.7,522.2 330.9,535.1 331.1,566.1 331.3,529.7 331.5,594 331.7,543 331.9,517.6 332.2,540.6 332.4,559.4 332.6,529.8 332.8,509.8 333,561.2 333.2,524.9 333.4,539.8 333.6,508.3 333.8,497.2 334,523.7 334.2,508 334.4,515.4 334.6,511.6 334.8,615.2 335,511.6 335.2,542.8 335.4,531.7 335.7,497.5 335.9,522 336.1,558.9 336.3,572.3 336.5,511.6 336.7,533.2 336.9,512.6 337.1,506 337.3,489.5 337.5,515.7 337.7,541.2 337.9,562.2 338.1,494.7 338.3,470.5 338.5,507.5 338.7,552 338.9,469.2 339.2,532.8 339.4,559.1 339.6,560.2 339.8,578.9 340,552.8 340.2,522.3 340.4,550.1 340.6,556.3 340.8,559.2 341,527.7 341.2,521.5 341.4,544.2 341.6,598 341.8,540.4 342,557.4 342.2,546.6 342.4,555.6 342.7,497.4 342.9,487.9 343.1,485.4 343.3,495 343.5,567.6 343.7,548.7 343.9,585.1 344.1,554.9 344.3,513.1 344.5,508.5 344.7,560.8 344.9,535.9 345.1,610.7 345.3,538.4 345.5,532.4 345.7,519.7 346,558.6 346.2,533.7 346.4,522.9 346.6,490.6 346.8,591.6 347,510.5 347.2,539.5 347.4,568.4 347.6,519.7 347.8,544.8 348,557.9 348.2,515.3 348.4,545 348.6,558.1 348.8,577.9 349,528.7 349.2,459.8 349.5,529 349.7,517.1 349.9,517.3 350.1,544.5 350.3,554.7 350.5,571.1 350.7,548.9 350.9,555.4 351.1,542.5 351.3,519.2 351.5,522 351.7,557.8 351.9,511.6 352.1,563.1 352.3,570.8 352.5,517.1 352.7,569.6 353,579.7 353.2,512.4 353.4,522.7 353.6,587.5 353.8,536.5 354,560 354.2,541.2 354.4,514.9 354.6,575.1 354.8,541.7 355,504.3 355.2,525.6 355.4,524.2 355.6,550.6 355.8,553.7 356,549.6 356.2,533.2 356.5,544.5 356.7,472.4 356.9,459 357.1,578.8 357.3,581.8 357.5,546.8 357.7,547.8 357.9,539.8 358.1,565.2 358.3,569.9 358.5,531.4 358.7,502.5 358.9,554.7 359.1,533.8 359.3,576.9 359.5,585.4 359.8,595.7 360,558.6 360.2,567.8 360.4,615.8 360.6,607.9 360.8,562.4 361,573.8 361.2,586 361.4,527.8 361.6,640 361.8,554.4 362,552.3 362.2,530 362.4,492.8 362.6,598 362.8,554 363,537.5 363.3,540.6 363.5,574.2 363.7,545.3 363.9,531 364.1,459 364.3,495.1 364.5,504.2 364.7,527 364.9,492.4 365.1,526.8 365.3,549.1 365.5,500.9 365.7,526.1 365.9,538.1 366.1,563.7 366.3,573.8 366.5,562.1 366.8,517.9 367,546.4 367.2,530.3 367.4,495.7 367.6,496.3 367.8,513.2 368,529.1 368.2,540.1 368.4,527.7 368.6,517.2 368.8,511.2 369,533.4 369.2,501.5 369.4,502.7 369.6,532.3 369.8,573.3 370,576.5 370.3,541.3 370.5,586.6 370.7,526.6 370.9,541.2 371.1,500.7 371.3,508.7 371.5,522.4 371.7,545.9 371.9,546.7 372.1,575.6 372.3,540.6 372.5,503.3 372.7,544.5 372.9,554.4 373.1,537.2 373.3,526.3 373.5,513.4 373.8,526.1 374,532.1 374.2,582.6 374.4,558.9 374.6,577.6 374.8,509.1 375,563 375.2,528.1 375.4,484.6 375.6,514.2 375.8,544.6 376,640 376.2,532 376.4,493.2 376.6,472.9 376.8,552.7 377.1,487.3 377.3,518.7 377.5,546.8 377.7,531.6 377.9,533.9 378.1,560.9 378.3,549.4 378.5,505.1 378.7,532.5 378.9,556 379.1,528.2 379.3,545.6 379.5,533.5 379.7,505.3 379.9,499.7 380.1,536.3 380.3,550.8 380.6,640 380.8,529.5 381,538.3 381.2,516.7 381.4,531.6 381.6,523.6 381.8,524.4 382,514.6 382.2,523.3 382.4,522.6 382.6,515.1 382.8,549.1 383,578.7 383.2,545 383.4,502 383.6,509.2 383.8,551.8 384.1,542.3 384.3,562.3 384.5,502.8 384.7,558.5 384.9,580.8 385.1,597.6 385.3,537.3 385.5,552.2 385.7,524.2 385.9,499.4 386.1,535.5 386.3,522.7 386.5,566.6 386.7,556.1 386.9,483.8 387.1,533 387.3,565.9 387.6,580.7 387.8,523 388,523.6 388.2,502.1 388.4,535 388.6,510.7 388.8,632 389,559.4 389.2,541 389.4,561.9 389.6,561.1 389.8,552.2 390,516.2 390.2,540.4 390.4,557.1 390.6,539.3 390.8,499 391.1,535.7 391.3,591.7 391.5,545.7 391.7,511.4 391.9,582.2 392.1,572 392.3,585.7 392.5,551.4 392.7,552 392.9,619 393.1,571.2 393.3,541.4 393.5,490.3 393.7,503.8 393.9,611.5 394.1,492.9 394.4,502.7 394.6,550.3 394.8,487.1 395,547.6 395.2,640 395.4,463 395.6,520.4 395.8,508.4 396,594.4 396.2,598 396.4,528.8 396.6,542.1 396.8,548.6 397,514.6 397.2,481 397.4,519.5 397.6,506.9 397.9,557.7 398.1,640 398.3,590 398.5,481.8 398.7,629.6 398.9,521.4 399.1,544.6 399.3,549.2 399.5,528.8 399.7,553.3 399.9,532.5 400.1,613.6 400.3,569.8 400.5,606.2 400.7,551.9 400.9,538.6 401.1,516.9 401.4,505.7 401.6,512.3 401.8,523.9 402,509.5 402.2,545.7 402.4,507.1 402.6,461.7 402.8,554.7 403,570.3 403.2,586.3 403.4,522.9 403.6,554.8 403.8,498 404,528.3 404.2,576.6 404.4,548.6 404.6,547.4 404.9,527.5 405.1,522.5 405.3,551.1 405.5,554.7 405.7,518.5 405.9,489.4 406.1,528.8 406.3,522 406.5,511.5 406.7,466.7 406.9,559.7 407.1,590.2 407.3,534 407.5,459 407.7,510 407.9,500.1 408.2,499.8 408.4,528.6 408.6,520.6 408.8,508.1 409,517.2 409.2,562.6 409.4,498.1 409.6,561.4 409.8,523.8 410,540.8 410.2,546.7 410.4,509.1 410.6,459 410.8,504.8 411,567.9 411.2,616.1 411.4,512.9 411.7,490.2 411.9,489.9 412.1,608.6 412.3,522.9 412.5,492.6 412.7,545.9 412.9,513.9 413.1,534.3 413.3,517.4 413.5,566.8 413.7,567 413.9,567 414.1,544.6 414.3,541.7 414.5,584.7 414.7,568.1 414.9,533.1 415.2,545.4 415.4,600.4 415.6,573.3 415.8,550.3 416,514.6 416.2,526.8 416.4,574 416.6,544.4 416.8,545.4 417,505.4 417.2,499.6 417.4,509.5 417.6,510.8 417.8,526.1 418,573.4 418.2,522.6 418.4,532.5 418.7,547.9 418.9,575.4 419.1,584 419.3,575 419.5,590.1 419.7,619.9 419.9,548.5 420.1,523 420.3,484.4 420.5,523.2 420.7,527.3 420.9,538.8 421.1,526.6 421.3,506.7 421.5,520.6 421.7,572.8 421.9,519.8 422.2,544.4 422.4,518.9 422.6,538.6 422.8,526.2 423,555 423.2,539.4 423.4,561.9 423.6,503.1 423.8,514.2 424,538.9 424.2,539 424.4,539 424.6,508 424.8,635.6 425,535.3 425.2,530 425.5,529.3 425.7,549.7 425.9,516.7 426.1,501 426.3,461.5 426.5,527.2 426.7,539 426.9,487.2 427.1,513.7 427.3,538.6 427.5,510.6 427.7,539.7 427.9,474.9 428.1,491.5 428.3,538.6 428.5,507 428.7,473.3 429,588.2 429.2,478.7 429.4,515.5 429.6,521.9 429.8,527.4 430,519.5 430.2,577.6 430.4,514.8 430.6,480.7 430.8,495.1 431,546.9 431.2,523.3 431.4,509.4 431.6,526.4 431.8,629.2 432,523.2 432.2,567.5 432.5,512.8 432.7,527.8 432.9,529.1 433.1,549.6 433.3,580 433.5,526.1 433.7,493.9 433.9,490.4 434.1,524.8 434.3,537.9 434.5,535.7 434.7,490.6 434.9,484.1 435.1,555.8 435.3,603.5 435.5,526.8 435.7,526.2 436,583.6 436.2,568 436.4,587.6 436.6,520.6 436.8,522.7 437,526.7 437.2,593.1 437.4,576.6 437.6,532.8 437.8,570.7 438,595.6 438.2,533.7 438.4,564.1 438.6,640 438.8,522.2 439,536.9 439.3,569.8 439.5,557.8 439.7,542 439.9,541.1 440.1,497.8 440.3,499.5 440.5,519.7 440.7,498.3 440.9,499.4 441.1,556.2 441.3,527.9 441.5,486 441.7,538.6 441.9,546.2 442.1,532.7 442.3,537.5 442.5,570.2 442.8,529.5 443,512.2 443.2,542.7 443.4,502.9 443.6,505.6 443.8,555.6 444,640 444.2,524 444.4,511.6 444.6,549.2 444.8,596.6 445,628.1 445.2,508.7 445.4,488 445.6,513.3 445.8,474.2 446,557.6 446.3,606.3 446.5,518.6 446.7,506.7 446.9,527.9 447.1,515.2 447.3,536.6 447.5,517.5 447.7,513.2 447.9,528.2 448.1,529.7 448.3,543.1 448.5,531.2 448.7,465.8 448.9,478.4 449.1,487.2 449.3,505.9 449.5,533.6 449.8,544.7 450,558.4 450.2,542.9 450.4,527.6 450.6,534.4 450.8,484.5 451,518.4 451.2,568.8 451.4,532.4 451.6,550.5 451.8,556.4 452,516.2 452.2,575.9 452.4,512.4 452.6,479 452.8,505.3 453,565.8 453.3,539.5 453.5,613.2 453.7,531 453.9,509 454.1,503.3 454.3,485.8 454.5,555.8 454.7,516.2 454.9,504.7 455.1,550 455.3,586.3 455.5,545.6 455.7,544.6 455.9,554.7 456.1,558.8 456.3,526.7 456.6,538.6 456.8,554.8 457,516.3 457.2,535.7 457.4,577.2 457.6,548.7 457.8,566.9 458,482.7 458.2,540.9 458.4,518.9 458.6,558.3 458.8,551.5 459,479.1 459.2,555 459.4,552.7 459.6,517.8 459.8,515.8 460.1,530 460.3,525.3 460.5,522.3 460.7,512.9 460.9,521.6 461.1,570.7 461.3,483.7 461.5,537.3 461.7,542.1 461.9,557.1 462.1,512.8 462.3,508 462.5,519.9 462.7,590.9 462.9,593.9 463.1,510.2 463.3,539.6 463.6,614.8 463.8,556.7 464,628 464.2,534.7 464.4,610.4 464.6,464.5 464.8,550.6 465,556.4 465.2,547.4 465.4,640 465.6,610.8 465.8,532.4 466,566.8 466.2,606.7 466.4,534.7 466.6,516.8 466.8,585.3 467.1,519.2 467.3,486.7 467.5,558.8 467.7,526.1 467.9,551.8 468.1,557.1 468.3,510.6 468.5,512.1 468.7,535.3 468.9,538.2 469.1,556.7 469.3,519 469.5,544 469.7,558.1 469.9,548.3 470.1,553.7 470.4,547.2 470.6,515 470.8,513.8 471,502.5 471.2,511 471.4,519 471.6,530.2 471.8,538.2 472,522 472.2,515 472.4,507.4 472.6,529.1 472.8,511.2 473,515.7 473.2,536.4 473.4,566.8 473.6,565.2 473.9,559.7 474.1,520.9 474.3,505.9 474.5,512.6 474.7,629.7 474.9,532.6 475.1,539.3 475.3,531.1 475.5,556.8 475.7,508.7 475.9,520.5 476.1,507.4 476.3,544.3 476.5,541.7 476.7,517.3 476.9,620.9 477.1,556.3 477.4,564.4 477.6,534 477.8,631.3 478,537.8 478.2,526.1 478.4,549.9 478.6,557.3 478.8,523.1 479,547.2 479.2,499.1 479.4,570.3 479.6,551.9 479.8,562.7 480,585.1 480.2,465.7 480.4,593.3 480.6,621.3 480.9,536.9 481.1,564.3 481.3,526 481.5,584.3 481.7,568 481.9,640 482.1,555.5 482.3,544.7 482.5,526.8 482.7,640 482.9,565.5 483.1,584.8 483.3,505.7 483.5,520.5 483.7,538.2 483.9,596.4 484.1,496.5 484.4,572.3 484.6,559.7 484.8,555.1 485,533.3 485.2,508 485.4,581.5 485.6,503.4 485.8,493.4 486,500.8 486.2,509.5 486.4,512.3 486.6,544.2 486.8,466.5 487,561.2 487.2,572.3 487.4,522.8 487.7,544.7 487.9,532.1 488.1,465 488.3,515.9 488.5,537.2 488.7,569.9 488.9,573.8 489.1,527.4 489.3,460.5 489.5,528.8 489.7,539.1 489.9,549.2 490.1,528.3 490.3,513.5 490.5,514 490.7,592.5 490.9,569.5 491.2,549.4 491.4,566.1 491.6,557.6 491.8,529.6 492,574.5 492.2,538 492.4,531.6 492.6,516.5 492.8,538.1 493,572.1 493.2,557.1 493.4,542.7 493.6,563.8 493.8,472.8 494,559.6 494.2,497.7 494.4,551.9 494.7,560 494.9,613 495.1,526 495.3,544.8 495.5,508.6 495.7,602.8 495.9,549.3 496.1,548.4 496.3,574 496.5,521.8 496.7,485.9 496.9,481.7 497.1,522 497.3,504.4 497.5,501.3 497.7,537.4 497.9,514.7 498.2,595.7 498.4,555.2 498.6,569.1 498.8,548.1 499,523 499.2,566.1 499.4,558.8 499.6,560.7 499.8,507.4 500,516.2 500.2,505.1 500.4,512.2 500.6,519.2 500.8,496.3 501,504.6 501.2,519.6 501.5,512.7 501.7,491.1 501.9,528.2 502.1,587.1 502.3,599.8 502.5,559.1 502.7,523.9 502.9,536.8 503.1,529.2 503.3,545.2 503.5,547.5 503.7,558.8 503.9,548.1 504.1,539.9 504.3,549.1 504.5,570.1 504.7,564.2 505,517.5 505.2,536.4 505.4,537.2 505.6,550.9 505.8,536.7 506,535.3 506.2,547.3 506.4,480.1 506.6,525.4 506.8,531.4 507,563.5 507.2,546.2 507.4,517.4 507.6,558.7 507.8,558.8 508,552.7 508.2,536.9 508.5,538.2 508.7,530.3 508.9,561.8 509.1,551.5 509.3,539.4 509.5,545 509.7,559 509.9,554.3 510.1,595.2 510.3,555.7 510.5,560.7 510.7,526.9 510.9,550.4 511.1,563.5 511.3,591.1 511.5,556.6 511.7,531.6 512,530.1 512.2,557.6 512.4,504.8 512.6,507.3 512.8,550.1 513,524.8 513.2,557.4 513.4,537.6 513.6,530.8 513.8,523.1 514,535.8 514.2,546.3 514.4,534.8 514.6,527.2 514.8,538.4 515,590.4 515.2,544 515.5,529.2 515.7,521.7 515.9,523.6 516.1,544.8 516.3,582.5 516.5,536.8 516.7,504.1 516.9,553.3 517.1,484.1 517.3,541.1 517.5,539.5 517.7,546.7 517.9,541.7 518.1,525 518.3,552.6 518.5,564.5 518.8,520.1 519,523.8 519.2,536.8 519.4,551.5 519.6,558.1 519.8,526 520,573.8 520.2,518.6 520.4,519 520.6,522.8 520.8,527.1 521,519.9 521.2,531.1 521.4,517.5 521.6,524.1 521.8,536.1 522,537.3 522.3,579.9 522.5,518 522.7,551.3 522.9,531.6 523.1,516.7 523.3,544.9 523.5,527.6 523.7,540.9 523.9,558.8 524.1,529.7 524.3,524.6 524.5,532.9 524.7,517.4 524.9,525.8 525.1,535.5 525.3,558.4 525.5,525.8 525.8,524.7 526,520.4 526.2,526.1 526.4,549.9 526.6,504.5 526.8,551.3 527,521.1 527.2,537.9 527.4,506.4 527.6,522.4 527.8,548.1 528,523 528.2,544.8 528.4,557.6 528.6,527.7 528.8,553.1 529,537.1 529.3,518.4 529.5,511.2 529.7,487.9 529.9,522.7 530.1,533.9 530.3,550.2 530.5,563.6 530.7,531.8 530.9,525 531.1,565 531.3,540.9 531.5,553.2 531.7,523.7 531.9,521.8 532.1,517.9 532.3,526.7 532.6,543.9 532.8,549.2 533,532.6 533.2,586.2 533.4,568.8 533.6,510.1 533.8,540.2 534,554 534.2,570.5 534.4,527.1 534.6,550.8 534.8,538.6 535,540.1 535.2,591.5 535.4,531.4 535.6,535.4 535.8,537.6 536.1,524.1 536.3,549.5 536.5,532.7 536.7,514.2 536.9,536.2 537.1,497.4 537.3,527.7 537.5,500.9 537.7,500.9 537.9,527.7 538.1,517.3 538.3,509.6 538.5,514.2 538.7,493.6 538.9,553.4 539.1,527.7 539.3,511.5 539.6,520.5 539.8,505.8 540,540.5 540.2,491.9 540.4,491.5 540.6,506.2 540.8,538.3 541,524.5 541.2,545.7 541.4,529.6 541.6,552.6 541.8,534.1 542,540.8 542.2,522.7 542.4,515.9 542.6,537.1 542.8,529 543.1,499.2 543.3,523.7 543.5,513.8 543.7,561 543.9,552.1 544.1,529.7 544.3,542 544.5,546.4 544.7,532.5 544.9,534 545.1,538.9 545.3,533.4 545.5,538.8 545.7,532.5 545.9,534.6 546.1,536.3 546.3,538.4 546.6,536.6 546.8,514.9 547,526.4 547.2,528.8 547.4,514.4 547.6,542.5 547.8,519.3 548,554.1 548.2,541.8 548.4,574.1 548.6,564.5 548.8,524.4 549,523.4 549.2,504.5 549.4,528.7 549.6,562.4 549.9,539 550.1,545.7 550.3,520.8 550.5,521 550.7,555.6 550.9,566.4 551.1,556.3 551.3,537 551.5,526.1 551.7,535.1 551.9,571.7 552.1,559.2 552.3,529.8 552.5,532.4 552.7,542.2 552.9,517.2 553.1,588.5 553.4,549.6 553.6,548.9 553.8,543.4 554,538.8 554.2,538 554.4,538.7 554.6,541.8 554.8,512.8 555,525.7 555.2,522.5 555.4,538.9 555.6,536 555.8,499.1 556,517.7 556.2,508.5 556.4,501.5 556.6,498.5 556.9,522 557.1,502.1 557.3,519.3 557.5,534.6 557.7,526.6 557.9,512.9 558.1,530.2 558.3,541.6 558.5,532.3 558.7,521.9 558.9,516.1 559.1,531.9 559.3,557.7 559.5,534.7 559.7,538.2 559.9,529 560.1,523.7 560.4,523.5 560.6,520.1 560.8,529.1 561,513.1 561.2,510.2 561.4,541.8 561.6,551.6 561.8,540.2 562,537.5 562.2,542.9 562.4,549 562.6,541.4 562.8,524.5 563,526.8 563.2,544.2 563.4,540.6 563.7,552.7 563.9,542.1 564.1,533.2 564.3,538.9 564.5,540.3 564.7,553 564.9,543.4 565.1,556.5 565.3,539.2 565.5,543.3"/>
<path class="r A" d="M638.1,493 638.3,512.7 638.5,541.2 638.7,530.7 638.9,529.2 639.1,532.9 639.3,504 639.5,529.1 639.7,552.8 639.9,529.9 640.1,540.2 640.3,535.6 640.5,470.6 640.7,525 640.9,541.5 641.1,541.5 641.3,536.9 641.5,558.8 641.7,578.5 641.9,553.2 642.1,530.9 642.3,529.5 642.5,522.1 642.7,529.5 642.9,522.6 643.1,540.2 643.3,499.2 643.4,512.5 643.6,511.3 643.8,532.1 644,525.7 644.2,534.3 644.4,532.5 644.6,545.3 644.8,538.2 645,565.4 645.2,517.8 645.4,543.9 645.6,511.9 645.8,509 646,527.6 646.2,549.5 646.4,524.7 646.6,551.3 646.8,523.6 647,531.4 647.2,538.8 647.4,543.6 647.6,539.4 647.8,534.1 648,536.4 648.2,538.9 648.4,534.8 648.6,530.1 648.8,533.7 649,516.2 649.1,525.5 649.3,517.5 649.5,546.6 649.7,553 649.9,546.3 650.1,540.9 650.3,536.3 650.5,531.3 650.7,611.9 650.9,542.2 651.1,564.1 651.3,476.2 651.5,537.3 651.7,528.6 651.9,517.2 652.1,533.4 652.3,512.5 652.5,524.4 652.7,534.2 652.9,521.2 653.1,539.1 653.3,522.2 653.5,509.6 653.7,531.4 653.9,542.9 654.1,549 654.3,545.7 654.5,540.1 654.7,504.4 654.8,520.8 655,528.6 655.2,520.2 655.4,503.8 655.6,536.4 655.8,530.6 656,508.4 656.2,526.3 656.4,547.3 656.6,526.4 656.8,538.1 657,541.8 657.2,544.5 657.4,546.4 657.6,530.9 657.8,528.1 658,547.2 658.2,536.4 658.4,562.2 658.6,536.8 658.8,520.4 659,537.7 659.2,532.7 659.4,511 659.6,524.2 659.8,526.3 660,526.8 660.2,550.7 660.4,527.8 660.5,502.8 660.7,515.3 660.9,512.6 661.1,546.7 661.3,538.5 661.5,520.2 661.7,527.8 661.9,558.2 662.1,525.8 662.3,545.8 662.5,534 662.7,522.7 662.9,540.3 663.1,525.5 663.3,528.2 663.5,545.7 663.7,544.3 663.9,490.3 664.1,529.4 664.3,541.7 664.5,562.9 664.7,556.9 664.9,523 665.1,497.8 665.3,530.5 665.5,546.3 665.7,542.4 665.9,563.2 666.1,546 666.2,547.4 666.4,531.7 666.6,521.7 666.8,532.6 667,502.7 667.2,533.3 667.4,526.8 667.6,538.1 667.8,548.2 668,543.9 668.2,536.1 668.4,515.2 668.6,545.8 668.8,554.1 669,529.1 669.2,532.8 669.4,546.2 669.6,523 669.8,531.4 670,543 670.2,522.3 670.4,556.5 670.6,544.1 670.8,532.5 671,569.1 671.2,578.9 671.4,547.1 671.6,532.7 671.7,536.5 671.9,547.7 672.1,549 672.3,515.1 672.5,518.2 672.7,529.2 672.9,535.6 673.1,558.4 673.3,518.5 673.5,512.8 673.7,517.4 673.9,521.6 674.1,533.9 674.3,539.5 674.5,573.7 674.7,545.3 674.9,538.3 675.1,562.4 675.3,561.5 675.5,553.8 675.7,550.2 675.9,522.5 676.1,556.2 676.3,547.8 676.5,534.3 676.7,565.3 676.9,528 677.1,517.5 677.3,552.3 677.4,545 677.6,531.1 677.8,524.9 678,560.5 678.2,553.2 678.4,555.9 678.6,552.1 678.8,526.2 679,539.7 679.2,552.5 679.4,547.2 679.6,536.5 679.8,581.9 680,542.1 680.2,518.3 680.4,593.7 680.6,547 680.8,527.3 681,524 681.2,509.5 681.4,542.3 681.6,534.3 681.8,550.7 682,517.8 682.2,520.7 682.4,514.6 682.6,459 682.8,527 683,528.4 683.1,529.7 683.3,516.4 683.5,523.5 683.7,537.6 683.9,532.6 684.1,522.1 684.3,510.4 684.5,532.9 684.7,541.5 684.9,553.5 685.1,519.7 685.3,522.5 685.5,525.7 685.7,523.2 685.9,526.9 686.1,558.3 686.3,546.3 686.5,536.2 686.7,524 686.9,529.3 687.1,524 687.3,529.2 687.5,526.9 687.7,544.5 687.9,540.5 688.1,536.4 688.3,554.8 688.5,521.2 688.7,533.5 688.8,533.8 689,526.4 689.2,509.4 689.4,530.5 689.6,520.7 689.8,534.7 690,520.6 690.2,523.9 690.4,537 690.6,505.8 690.8,534.1 691,537.1 691.2,544.1 691.4,541.2 691.6,532 691.8,505.1 692,548.6 692.2,562.8 692.4,552.3 692.6,525.7 692.8,556 693,529.2 693.2,539.8 693.4,530.1 693.6,530.8 693.8,525.9 694,545.6 694.2,542.2 694.4,556 694.5,564 694.7,523.8 694.9,554 695.1,523.5 695.3,521.3 695.5,533.2 695.7,543.1 695.9,517.4 696.1,550 696.3,515.8 696.5,522.9 696.7,546.3 696.9,524.1 697.1,542.4 697.3,530.4 697.5,558.4 697.7,505.2 697.9,523.9 698.1,535.9 698.3,538.1 698.5,511.7 698.7,523.3 698.9,525.4 699.1,534.9 699.3,534.2 699.5,536.5 699.7,543.8 699.9,524 700.1,506.1 700.2,526.2 700.4,522.6 700.6,520.4 700.8,501 701,543.6 701.2,557.9 701.4,576.1 701.6,530.7 701.8,515.4 702,513.1 702.2,546.1 702.4,529 702.6,509.6 702.8,516.6 703,536.5 703.2,527 703.4,535.7 703.6,528.3 703.8,548.6 704,532.4 704.2,525.3 704.4,502.7 704.6,512.8 704.8,515.5 705,533.2 705.2,507.5 705.4,522.2 705.6,513.1 705.7,556.7 705.9,547.9 706.1,532.9 706.3,550.7 706.5,542.3 706.7,529.8 706.9,529.3 707.1,512.2 707.3,520.5 707.5,519.9 707.7,582.5 707.9,495.2 708.1,531.6 708.3,547.2 708.5,523 708.7,536.7 708.9,540.1 709.1,511.7 709.3,543.6 709.5,529.1 709.7,523.8 709.9,510.8 710.1,529.9 710.3,551.3 710.5,514.1 710.7,531 710.9,530.7 711.1,553.6 711.3,550.2 711.4,544.2 711.6,528.6 711.8,500.9 712,532.4 712.2,529.9 712.4,509.9 712.6,594.2 712.8,519 713,542.3 713.2,565.1 713.4,565.2 713.6,540.1 713.8,537.7 714,513 714.2,506.8 714.4,540.5 714.6,536.3 714.8,541.9 715,563.6 715.2,530.5 715.4,514.2 715.6,495.5 715.8,558.6 716,517.6 716.2,528.4 716.4,567.6 716.6,556.6 716.8,529.7 717,559.7 717.1,555.1 717.3,542.6 717.5,503.2 717.7,528.8 717.9,552.3 718.1,561.8 718.3,604.7 718.5,579.9 718.7,541.9 718.9,538.8 719.1,529.1 719.3,546.2 719.5,562.6 719.7,572.6 719.9,573.8 720.1,539.2 720.3,535.5 720.5,559.8 720.7,545.9 720.9,534.6 721.1,556.2 721.3,599.3 721.5,542.7 721.7,499.7 721.9,521.6 722.1,533.7 722.3,518.5 722.5,545.7 722.7,543 722.8,530.3 723,518.8 723.2,542 723.4,522.5 723.6,516.7 723.8,511.8 724,532.3 724.2,517.5 724.4,505.2 724.6,496.3 724.8,525.5 725,521.6 725.2,540.3 725.4,582.2 725.6,529.8 725.8,539 726,551.4 726.2,542.8 726.4,531 726.6,528.8 726.8,532.1 727,538.1 727.2,527.5 727.4,523.4 727.6,533.8 727.8,508.9 728,504.1 728.2,516.1 728.4,537.8 728.5,542.1 728.7,565.7 728.9,530.9 729.1,536.2 729.3,550.3 729.5,562.9 729.7,516.7 729.9,517.7 730.1,534.2 730.3,521.7 730.5,545.8 730.7,565.7 730.9,535.6 731.1,537.8 731.3,534.8 731.5,536 731.7,555.7 731.9,553.8 732.1,514 732.3,523 732.5,525.2 732.7,553.3 732.9,572.5 733.1,543.4 733.3,505 733.5,528 733.7,565.7 733.9,548.6 734.1,554.8 734.2,525.6 734.4,459.2 734.6,541.3 734.8,527.7 735,538.8 735.2,545.3 735.4,556.4 735.6,544.3 735.8,526.6 736,529 736.2,528.7 736.4,549.1 736.6,543.1 736.8,529.7 737,537.5 737.2,548.7 737.4,534.3 737.6,508.1 737.8,533.2 738,521.6 738.2,520.3 738.4,527.3 738.6,502.5 738.8,520.9 739,517.2 739.2,533.2 739.4,518.4 739.6,528.2 739.7,525.7 739.9,546 740.1,546.3 740.3,536.9 740.5,531.5 740.7,558.9 740.9,540.5 741.1,537.2 741.3,527.7 741.5,572.1 741.7,551.5 741.9,518.7 742.1,523.2 742.3,521.2 742.5,528.1 742.7,525.7 742.9,526.6 743.1,527.7 743.3,559.8 743.5,546.4 743.7,515.2 743.9,525.4 744.1,545.6 744.3,504 744.5,528.8 744.7,525.4 744.9,548.9 745.1,552 745.3,554.7 745.4,550.7 745.6,566.2 745.8,540.4 746,557.2 746.2,567 746.4,508.9 746.6,551.2 746.8,553.6 747,524.8 747.2,536.7 747.4,558.9 747.6,541.9 747.8,541.8 748,527 748.2,569.8 748.4,577.7 748.6,532.4 748.8,526.7 749,562.1 749.2,560.9 749.4,526.2 749.6,576 749.8,579.8 750,544.2 750.2,531.6 750.4,523.3 750.6,578.1 750.8,555.2 751,551.7 751.1,523.3 751.3,540.7 751.5,518.9 751.7,520.8 751.9,539.3 752.1,531.3 752.3,526.6 752.5,519.3 752.7,537.9 752.9,530.3 753.1,533.2 753.3,551.5 753.5,542.2 753.7,540.9 753.9,536.7 754.1,551.8 754.3,535.1 754.5,526.3 754.7,514 754.9,526.4 755.1,507.3 755.3,522.1 755.5,524.9 755.7,543.6 755.9,533 756.1,516.2 756.3,526.1 756.5,482 756.7,508.3 756.8,484 757,525.6 757.2,509.9 757.4,518.7 757.6,523.3 757.8,528.7 758,560.4 758.2,523.6 758.4,473.4 758.6,536.7 758.8,549.8 759,535.8 759.2,527.5 759.4,515.5 759.6,530.1 759.8,512.3 760,533.1 760.2,512.4 760.4,514 760.6,490.1 760.8,516.7 761,518.1 761.2,544.4 761.4,560.1 761.6,529.6 761.8,531.2 762,543.5 762.2,542 762.4,561.7 762.5,541.8 762.7,540.4 762.9,514.8 763.1,537.3 763.3,537.3 763.5,543.2 763.7,567.6 763.9,544.4 764.1,514.8 764.3,532.3 764.5,552.9 764.7,530.9 764.9,537.7 765.1,528.6 765.3,536.7 765.5,545.2 765.7,559 765.9,545.3 766.1,551.9 766.3,538.4 766.5,525.3 766.7,531.8 766.9,524.8 767.1,531.6 767.3,558.7 767.5,538.3 767.7,521.3 767.9,526.5 768.1,572 768.2,551 768.4,519.1 768.6,495.3 768.8,549.5 769,539.6 769.2,536.9 769.4,535.9 769.6,569.5 769.8,558.1 770,555.3 770.2,559.1 770.4,554.3 770.6,532.7 770.8,524.3 771,532.1 771.2,539.3 771.4,547.2 771.6,558.8 771.8,565.8 772,559.1 772.2,520.8 772.4,523.1 772.6,532.1 772.8,536 773,537.1 773.2,535.6 773.4,584.6 773.6,559.1 773.7,561.8 773.9,542.4 774.1,560.1 774.3,566.6 774.5,546.6 774.7,544.6 774.9,516.5 775.1,510.7 775.3,522.1 775.5,513.9 775.7,511.1 775.9,560.5 776.1,556.6 776.3,544.2 776.5,548.2 776.7,536.4 776.9,528.6 777.1,552.9 777.3,561.2 777.5,502.2 777.7,569.2 777.9,563.6 778.1,533.2 778.3,545.2 778.5,559.6 778.7,547.7 778.9,529.1 779.1,533.5 779.3,519.1 779.4,538.9 779.6,513.5 779.8,525 780,519.2 780.2,496.4 780.4,546.9 780.6,521.8 780.8,540.2 781,538.4 781.2,573.4 781.4,559.5 781.6,564.5 781.8,564.2 782,539.1 782.2,518.5 782.4,555.4 782.6,517 782.8,540.2 783,542.6 783.2,504.1 783.4,527 783.6,516.7 783.8,544.1 784,531.8 784.2,532 784.4,542.5 784.6,544.4 784.8,515 785,526.2 785.1,543.9 785.3,520.7 785.5,550.3 785.7,541.9 785.9,569.8 786.1,567.9 786.3,537.9 786.5,510 786.7,575.2 786.9,526 787.1,510.3 787.3,533.4 787.5,547.3 787.7,536.4 787.9,581.9 788.1,527.7 788.3,537.4 788.5,507.8 788.7,515.8 788.9,528.5 789.1,527.5 789.3,524.3 789.5,531.5 789.7,523.1 789.9,521.8 790.1,544.5 790.3,541.1 790.5,546.3 790.7,565.6 790.8,516.2 791,532.4 791.2,517.2 791.4,572.5 791.6,569.6 791.8,540.8 792,529.2 792.2,520.5 792.4,531.9 792.6,542.9 792.8,534.4 793,502.8 793.2,544.3 793.4,579.8 793.6,563.3 793.8,559.1 794,553.9 794.2,564.4 794.4,536.6 794.6,536.3 794.8,573.7 795,549.6 795.2,499.4 795.4,505.9 795.6,517.3 795.8,537.9 796,515.3 796.2,538.5 796.4,569.9 796.5,548.4 796.7,532.8 796.9,545.6 797.1,562.1 797.3,553.7 797.5,530.9 797.7,535.9 797.9,541.1 798.1,515.1 798.3,546.7 798.5,542.4 798.7,535.1 798.9,536.3 799.1,544.5 799.3,555.3 799.5,494.1 799.7,521.5 799.9,526.5 800.1,545.3 800.3,537.5 800.5,534.5 800.7,549.9 800.9,528.4 801.1,530.9 801.3,552.9 801.5,508.5 801.7,529.6 801.9,509.9 802.1,545 802.2,541.4 802.4,551.5 802.6,568.4 802.8,534.6 803,543 803.2,510.9 803.4,560.6 803.6,563 803.8,533.3 804,522.7 804.2,528.7 804.4,542.5 804.6,552.3 804.8,528.5 805,549.2 805.2,509.3 805.4,550.9 805.6,541.9 805.8,536.4 806,505.1 806.2,503 806.4,589.9 806.6,531.4 806.8,548.2 807,530.6 807.2,570.4 807.4,520.9 807.6,535.1 807.7,548.4 807.9,520.7 808.1,521.8 808.3,505.1 808.5,515.8 808.7,537.5 808.9,540.3 809.1,566.9 809.3,543.2 809.5,563 809.7,558.1 809.9,572.5 810.1,551.3 810.3,546.6 810.5,565.4 810.7,555.4 810.9,563.5 811.1,542.5 811.3,523.2 811.5,546.7 811.7,541.6 811.9,550.5 812.1,520.7 812.3,513.5 812.5,538.3 812.7,541.6 812.9,550.8 813.1,560.8 813.3,609.3 813.4,567.6 813.6,520.4 813.8,516.8 814,532.9 814.2,541.5 814.4,544.9 814.6,556.6 814.8,567 815,545.1 815.2,538.4 815.4,517.8 815.6,507.2 815.8,525 816,517.1 816.2,538.9 816.4,555.2 816.6,548.7 816.8,539.2 817,541.5 817.2,543.5 817.4,543.9 817.6,548.4 817.8,527.5 818,555 818.2,560.9 818.4,541.9 818.6,566.4 818.8,521.3 819,536.5 819.1,534.6 819.3,521.4 819.5,517.9 819.7,526.8 819.9,524.1 820.1,522.6 820.3,539.9 820.5,525.3 820.7,517.7 820.9,526.1 821.1,531.5 821.3,521.2 821.5,568.1 821.7,536.2 821.9,526.9 822.1,515.2 822.3,559.2 822.5,553.9 822.7,547.4 822.9,536.3 823.1,546.5 823.3,543.3 823.5,513.3 823.7,521.3 823.9,531.2 824.1,538.9 824.3,533.3 824.5,524.1 824.7,503.6 824.8,552.8 825,543.7 825.2,545 825.4,538.6 825.6,531.7 825.8,557.7 826,543.6 826.2,510.1 826.4,521 826.6,509.7 826.8,540.8 827,550.4 827.2,539.8 827.4,537.6 827.6,525.6 827.8,541.1 828,524.1 828.2,522.4 828.4,534 828.6,540 828.8,536.2 829,527.2 829.2,525.7 829.4,553.3 829.6,488 829.8,514.3 830,553.6 830.2,537 830.4,535.4 830.5,508.4 830.7,519.2 830.9,503.1 831.1,510.9 831.3,538.1 831.5,531.3 831.7,559.1 831.9,539.3 832.1,462.5 832.3,526.6 832.5,530.2 832.7,536.5 832.9,513.1 833.1,523.1 833.3,529.2 833.5,527.7 833.7,516.5 833.9,528.1 834.1,505.1 834.3,526.3 834.5,501.5 834.7,526.1 834.9,535.7 835.1,526.9 835.3,514.9 835.5,515.3 835.7,518 835.9,524.7 836,534.5 836.2,540 836.4,542.8 836.6,539.7 836.8,556.7 837,525.6 837.2,531.9 837.4,538.6 837.6,548.4 837.8,532.4 838,530.6 838.2,553.7 838.4,553.1 838.6,540.3 838.8,534.4 839,545.6 839.2,527.3 839.4,552.8 839.6,512 839.8,552.8 840,542.4 840.2,543.4 840.4,550.7 840.6,540.3 840.8,541.9 841,517.4 841.2,537.9 841.4,527.6 841.6,532.8 841.7,520.1 841.9,537.1 842.1,558.4 842.3,535.9 842.5,476.1 842.7,538.3 842.9,571.8 843.1,555.6 843.3,566.5 843.5,593.3 843.7,536.1 843.9,545.9 844.1,575.9 844.3,552.2 844.5,516.8 844.7,514.8 844.9,525.4 845.1,552.1 845.3,528.6 845.5,522 845.7,540.9 845.9,548.5 846.1,546 846.3,531 846.5,517.1 846.7,513 846.9,538.8 847.1,541.3 847.3,556.6 847.4,530.3 847.6,544.9 847.8,524.7 848,552.5 848.2,536.7 848.4,491.4 848.6,542.6 848.8,574.9 849,542 849.2,528 849.4,498 849.6,514.8 849.8,515.5 850,490.5 850.2,516.4 850.4,540 850.6,555.9 850.8,541 851,526.9 851.2,539.7 851.4,534.2 851.6,531.3 851.8,523.3 852,578.3 852.2,555.9 852.4,538.7 852.6,536.2 852.8,530.1 853,520.1 853.1,533.7 853.3,544.4 853.5,533.2 853.7,539 853.9,556.8 854.1,544.1 854.3,527.2 854.5,531.2 854.7,529.6 854.9,513.9 855.1,554.5 855.3,539.5 855.5,518.1 855.7,519.7 855.9,541.9 856.1,529.7 856.3,542.5 856.5,546.4 856.7,546.9 856.9,541 857.1,515.6 857.3,526.7 857.5,530.4 857.7,507.3 857.9,512.8 858.1,547.6 858.3,556.1 858.5,540.7 858.7,539.5 858.8,574.5 859,557.9 859.2,512.2 859.4,528.2 859.6,522.8 859.8,534.8 860,542.5 860.2,531.4 860.4,536.8 860.6,613 860.8,539.2 861,534.7 861.2,545.2 861.4,552.5 861.6,542.5 861.8,529.4 862,547 862.2,535.6 862.4,545.6 862.6,535 862.8,510.1 863,612.5 863.2,550.6 863.4,546.4 863.6,513.4 863.8,538.7 864,561.2 864.2,556 864.4,545 864.5,544.4 864.7,543.5 864.9,523.1 865.1,554.6 865.3,532.3 865.5,539.4 865.7,545.6 865.9,570.1 866.1,546.6 866.3,516.8 866.5,535.7 866.7,557.5 866.9,541.8 867.1,561.5 867.3,533.1 867.5,543.3 867.7,510.9 867.9,516.6 868.1,532.6 868.3,556.2 868.5,543.4 868.7,554.8 868.9,550.3 869.1,550.8 869.3,538.2 869.5,527.7 869.7,535.1 869.9,573.7 870,556.4 870.2,552 870.4,528.6 870.6,553.8 870.8,528.4 871,530.7 871.2,525.1 871.4,544.9 871.6,541.6 871.8,523 872,519.7 872.2,542 872.4,544.1 872.6,546.2 872.8,538.9 873,523.1 873.2,537.5 873.4,525.6 873.6,559.4 873.8,535.9 874,547.9 874.2,526.7 874.4,503.9 874.6,547.9 874.8,523.1 875,557.3 875.2,514.9 875.4,493.1 875.6,537.6 875.7,566.9 875.9,538.2 876.1,534.3 876.3,550.3 876.5,604.9 876.7,529.1 876.9,556.2 877.1,529.1 877.3,545.1 877.5,559.6 877.7,508.6 877.9,533.2 878.1,570.5 878.3,521.1 878.5,535.3 878.7,524.6 878.9,538.7 879.1,549.3 879.3,520.9 879.5,513.7 879.7,559.5 879.9,536.6 880.1,544.1 880.3,527.2 880.5,555.3 880.7,459 880.9,533.8 881.1,522.1 881.3,539.1 881.4,552.2 881.6,534.7 881.8,528.3 882,541.5 882.2,526.4 882.4,560.8 882.6,521.3 882.8,504.2 883,518.5 883.2,561.3 883.4,535.2 883.6,563.5 883.8,563.4 884,562.5 884.2,523.9 884.4,516.7 884.6,505.9 884.8,516.1 885,556.1 885.2,545.9 885.4,555.6 885.6,539.7 885.8,526.3 886,561.3 886.2,526.7 886.4,543.9 886.6,523.1 886.8,504 887,529.8 887.1,555.4 887.3,536 887.5,521.1 887.7,558.8 887.9,549.9 888.1,539.5 888.3,556.3 888.5,551.4 888.7,530.9 888.9,517.9 889.1,529.4 889.3,518.9 889.5,576.4 889.7,530.4 889.9,526.3 890.1,543.5 890.3,534.4 890.5,533.2 890.7,565 890.9,552.1 891.1,541.6 891.3,547.1 891.5,536.2 891.7,551.1 891.9,536.9 892.1,551.4 892.3,516.5 892.5,597.1 892.7,615.3 892.8,528.9 893,564.6 893.2,524.2 893.4,525.6 893.6,531.9 893.8,567.1 894,565.2 894.2,551.3 894.4,547.9 894.6,546.4 894.8,547.6 895,525.9 895.2,520.4 895.4,533.9 895.6,523.4 895.8,546 896,536.8 896.2,529 896.4,539.3 896.6,512.7 896.8,535.1 897,527.8 897.2,526.6 897.4,548.7 897.6,524.6 897.8,539.6 898,553.1 898.2,529.1 898.4,523.7 898.5,554.5 898.7,527.8 898.9,559.2 899.1,537.8 899.3,526.5 899.5,508.4 899.7,532.8 899.9,532.1 900.1,525.6 900.3,524.8 900.5,534.1 900.7,530.7 900.9,529.9 901.1,535 901.3,514.2 901.5,520.4 901.7,514.5 901.9,520.3 902.1,544.2 902.3,532.4 902.5,526.2 902.7,538.3 902.9,536.9 903.1,536.2 903.3,535.1 903.5,531 903.7,565.9 903.9,530.2 904,544.9 904.2,508.6 904.4,527.5 904.6,518.3 904.8,525.1 905,534.3 905.2,541.5 905.4,527.8 905.6,517.2 905.8,542.3 906,538.9 906.2,539.3 906.4,530.1 906.6,533.9 906.8,520.7 907,554.5 907.2,550.2 907.4,521.5 907.6,517.7 907.8,514.1 908,509.4 908.2,525.7 908.4,568.8 908.6,624.8 908.8,546.1 909,621.2 909.2,538.5 909.4,540.3 909.6,537.6 909.7,544.9 909.9,533.3 910.1,528.7 910.3,516.5 910.5,512.2 910.7,520.8 910.9,526.1 911.1,505.3 911.3,497.5 911.5,537 911.7,547.9 911.9,549 912.1,525.6 912.3,552.6 912.5,524.4 912.7,566 912.9,559.6 913.1,542.4 913.3,515.8 913.5,523.5 913.7,529.5 913.9,554.2 914.1,532.4 914.3,552.6 914.5,540.8 914.7,528.9 914.9,517.2 915.1,520.9 915.3,514.7 915.4,547.3 915.6,517.1 915.8,538.7 916,547.6 916.2,530.5 916.4,519.1 916.6,521.3 916.8,555.9 917,511.5 917.2,543.8 917.4,528.1 917.6,533.7 917.8,543.9 918,571.4 918.2,541.8 918.4,528.2 918.6,532.6 918.8,524.2 919,526.7 919.2,517.2 919.4,507.3 919.6,485.8 919.8,511.9 920,505.7 920.2,504.3 920.4,518.1 920.6,555.1 920.8,532.4 921,529.1 921.1,551.6 921.3,546 921.5,531.6 921.7,554.3 921.9,529 922.1,580.3 922.3,571.1 922.5,588.8 922.7,536.6 922.9,560.2 923.1,557.1 923.3,640 923.5,509.4 923.7,530.6 923.9,524 924.1,561.9 924.3,533 924.5,542.5 924.7,547.8 924.9,551.6 925.1,551.9 925.3,524.4 925.5,553.7 925.7,547.9 925.9,558.9 926.1,517.5 926.3,563.4 926.5,552.6 926.7,547.4 926.8,536.2 927,553.6 927.2,532.7 927.4,516.4 927.6,491.7 927.8,508.1 928,542.2 928.2,533.9 928.4,544.8 928.6,562.3 928.8,545 929,533.2 929.2,530.5 929.4,525.3 929.6,510.4 929.8,517.5 930,528.3 930.2,541.5 930.4,532.7 930.6,516.9 930.8,529.5 931,551.5 931.2,524.2 931.4,533.6 931.6,532.1 931.8,514 932,528.6 932.2,533.9 932.4,523.3 932.5,534.9 932.7,526.7 932.9,539.5 933.1,522.8 933.3,551.1 933.5,535.5 933.7,550.3 933.9,521.2 934.1,532.3 934.3,545.7 934.5,531.3 934.7,526.3 934.9,549.7 935.1,538.7 935.3,535.6 935.5,569.7 935.7,565.7 935.9,535.7 936.1,548.7 936.3,563.5 936.5,545.1 936.7,526.6 936.9,536.6 937.1,551.1 937.3,517.5 937.5,531.5 937.7,537.1 937.9,520.1 938,521.8 938.2,544 938.4,546.8 938.6,515.8 938.8,515.9 939,537.1 939.2,558.1 939.4,540 939.6,506.2 939.8,547.3 940,534.1 940.2,531.9 940.4,537.5 940.6,517.3 940.8,520.9 941,536 941.2,522.4 941.4,486 941.6,499.5 941.8,503.8 942,550.9 942.2,540.8 942.4,527.4 942.6,566.2 942.8,554.7 943,560.6 943.2,529.1 943.4,551.8 943.6,548.5 943.7,547.9 943.9,542.8 944.1,529.9 944.3,564.8 944.5,517.9 944.7,519.2 944.9,528.7 945.1,528.8 945.3,546.1 945.5,526.3 945.7,535.6 945.9,547.8 946.1,533.7 946.3,532.2 946.5,528.9 946.7,541.7 946.9,548.6 947.1,538.9 947.3,546 947.5,522.6 947.7,522 947.9,512.5 948.1,501.7 948.3,514.2 948.5,533.2 948.7,544 948.9,510.7 949.1,543.8 949.3,531.2 949.4,539.3 949.6,534.4 949.8,518 950,524.1 950.2,518.1 950.4,532.3 950.6,528.2 950.8,497.7 951,522.5 951.2,523.5 951.4,529 951.6,542.9 951.8,542.3 952,525.3 952.2,550.4 952.4,566.6 952.6,546.7 952.8,544.6 953,571.2 953.2,532.5 953.4,534 953.6,506.4 953.8,531.6 954,550 954.2,504.5 954.4,482.3 954.6,547.9 954.8,528.4 955,546.2 955.1,523.5 955.3,566.5 955.5,555 955.7,538.9 955.9,526.6 956.1,526.7 956.3,555.8 956.5,567.3 956.7,556 956.9,538 957.1,545.2 957.3,501.7 957.5,537.5 957.7,528.7 957.9,535.5 958.1,549 958.3,522.3 958.5,523.1 958.7,544.6 958.9,497.8 959.1,516.8 959.3,496.7 959.5,517.2 959.7,524.3 959.9,553.8 960.1,539.2 960.3,526.7 960.5,532.1 960.7,546.6 960.8,570 961,539.6 961.2,515.9 961.4,489.5 961.6,527.6 961.8,526.6 962,515.6 962.2,539.3 962.4,535.7 962.6,522.5 962.8,521.1 963,524 963.2,516.6 963.4,466.1 963.6,549.2 963.8,543.5 964,537.7 964.2,567.5 964.4,575.1 964.6,540.9 964.8,510.4 965,563.4 965.2,546.5 965.4,603.4 965.6,565.9 965.8,585.7 966,576.6 966.2,562.2 966.4,640 966.5,541.1 966.7,539.3 966.9,524.9 967.1,545.9 967.3,486 967.5,525.3 967.7,534.6 967.9,561.3 968.1,543.1 968.3,543.1 968.5,542.3 968.7,526.3 968.9,498.5 969.1,515.4 969.3,516.5 969.5,538.3 969.7,549.3 969.9,540.2 970.1,543.2 970.3,579.8 970.5,521.4 970.7,499.9 970.9,553.1 971.1,516.2 971.3,586.8 971.5,536.6 971.7,539.1 971.9,499.4 972,519.6 972.2,508.8 972.4,505.2 972.6,522.1 972.8,525.9 973,527.8 973.2,551.8 973.4,560 973.6,521.9 973.8,545.6 974,556.5 974.2,533.7 974.4,564.8 974.6,569.8 974.8,539.5 975,534.5 975.2,543.2 975.4,535 975.6,515.2 975.8,516.7 976,534.5 976.2,560.6 976.4,583.8 976.6,579.2 976.8,559.4 977,536 977.2,520.3 977.4,512.7 977.6,522.3 977.7,510 977.9,514.2 978.1,549.4 978.3,539.1 978.5,535.9 978.7,551.7 978.9,536.9 979.1,547.3 979.3,551.2 979.5,531 979.7,520.3 979.9,557.4 980.1,541 980.3,531.2 980.5,519.1 980.7,532.9 980.9,543.3 981.1,511.1 981.3,514.3 981.5,512 981.7,511.3 981.9,527.6 982.1,561.5 982.3,547.2 982.5,532.1 982.7,524.6 982.9,520.3 983.1,523.3 983.3,542 983.4,529.6 983.6,531.7 983.8,518.1 984,507.8 984.2,538.5 984.4,521 984.6,535.2 984.8,530.1 985,536.5 985.2,527 985.4,531.2 985.6,554.1 985.8,502.1 986,507.4 986.2,503.5 986.4,520.2 986.6,518.2 986.8,533.6 987,523.6 987.2,533.1 987.4,508.2 987.6,532.2 987.8,519.6 988,527.6 988.2,516.5 988.4,628.7 988.6,562.7 988.8,471.6 989,537.8 989.1,541.9 989.3,548 989.5,515.4 989.7,513 989.9,515.9 990.1,520.8 990.3,532.9 990.5,544.7 990.7,528.5 990.9,565.7 991.1,526 991.3,529.2 991.5,552.7 991.7,508.7 991.9,547.5 992.1,519.6 992.3,539.6 992.5,541.3 992.7,551.7 992.9,541.3 993.1,544.5 993.3,543.1 993.5,525.6 993.7,532.1 993.9,539.3 994.1,532.5 994.3,530.2 994.5,519.5 994.7,524.6 994.8,520.6 995,528.3 995.2,533.3 995.4,547.4 995.6,523.8 995.8,540.7 996,545.4 996.2,528.6 996.4,526.9 996.6,527.3 996.8,543.2 997,524.2 997.2,511.7 997.4,524.4 997.6,527.7 997.8,531.2 998,538.5 998.2,533.6 998.4,568.3 998.6,555.5 998.8,562.8 999,563.7 999.2,525.3"/>
<path class="r A" d="M1070.7,521.8 1070.9,534.5 1071.1,546.5 1071.3,546.8 1071.5,557.8 1071.7,530.9 1071.8,541.1 1072,535 1072.2,527.2 1072.4,537.4 1072.6,521.6 1072.8,548.7 1072.9,511 1073.1,518 1073.3,537.9 1073.5,523.5 1073.7,516.8 1073.9,534 1074,518.6 1074.2,519.8 1074.4,525.5 1074.6,541.1 1074.8,552.4 1075,520.3 1075.1,519.2 1075.3,509.2 1075.5,529.4 1075.7,558.3 1075.9,533.7 1076.1,557.7 1076.2,528.9 1076.4,540.7 1076.6,534.8 1076.8,581.7 1077,556.8 1077.2,541.1 1077.3,570.2 1077.5,570.2 1077.7,550.1 1077.9,526.1 1078.1,519 1078.3,534.3 1078.4,535.9 1078.6,524.7 1078.8,521 1079,522.4 1079.2,556.6 1079.4,533.4 1079.5,501.6 1079.7,567.6 1079.9,579.7 1080.1,559.8 1080.3,552.9 1080.5,547.2 1080.7,595.1 1080.8,523.4 1081,543 1081.2,502.4 1081.4,539.9 1081.6,531.2 1081.8,543.8 1081.9,544.7 1082.1,517.2 1082.3,505.5 1082.5,517.1 1082.7,529.9 1082.9,526.3 1083,513 1083.2,547.6 1083.4,533.1 1083.6,539 1083.8,532.7 1084,570 1084.1,545.9 1084.3,547.3 1084.5,517.8 1084.7,496.7 1084.9,524.9 1085.1,532.2 1085.2,537.3 1085.4,519.3 1085.6,513 1085.8,497.7 1086,459 1086.2,504.2 1086.3,539.5 1086.5,512.3 1086.7,511.8 1086.9,540 1087.1,549.6 1087.3,535.9 1087.4,514.1 1087.6,537.2 1087.8,500.8 1088,503.2 1088.2,534.3 1088.4,500.5 1088.5,519.1 1088.7,524.7 1088.9,558.8 1089.1,522 1089.3,529.4 1089.5,631 1089.6,497.6 1089.8,558.7 1090,552.5 1090.2,535.8 1090.4,552.5 1090.6,561.6 1090.7,571.3 1090.9,536.7 1091.1,562.9 1091.3,539.2 1091.5,561.8 1091.7,557.9 1091.8,525.5 1092,528 1092.2,526.6 1092.4,533.6 1092.6,525.8 1092.8,588.2 1092.9,562.9 1093.1,541.3 1093.3,541.7 1093.5,541 1093.7,525.2 1093.9,504.5 1094,520.8 1094.2,524.8 1094.4,531.5 1094.6,544.1 1094.8,505.5 1095,523.5 1095.2,510 1095.3,511 1095.5,522.2 1095.7,502.3 1095.9,524.7 1096.1,517.7 1096.3,541.9 1096.4,545 1096.6,504.2 1096.8,536 1097,534.6 1097.2,544.7 1097.4,559.8 1097.5,553 1097.7,536.4 1097.9,534.5 1098.1,541.5 1098.3,561.1 1098.5,565.8 1098.6,535.1 1098.8,535.1 1099,533.5 1099.2,523.5 1099.4,530.8 1099.6,541.8 1099.7,545.4 1099.9,532 1100.1,536 1100.3,543.5 1100.5,553 1100.7,535.9 1100.8,521.4 1101,526 1101.2,549.6 1101.4,520.8 1101.6,539.8 1101.8,517.2 1101.9,534.2 1102.1,541 1102.3,517.4 1102.5,548 1102.7,522.7 1102.9,525.4 1103,523 1103.2,525.1 1103.4,524.7 1103.6,524.8 1103.8,557.9 1104,519.3 1104.1,522.8 1104.3,562.1 1104.5,558.4 1104.7,547.3 1104.9,546.3 1105.1,518.2 1105.2,527.4 1105.4,542.9 1105.6,533.4 1105.8,509.4 1106,544.5 1106.2,536.1 1106.3,509.3 1106.5,512.9 1106.7,534.6 1106.9,526.5 1107.1,549.2 1107.3,498.9 1107.4,482.2 1107.6,530.7 1107.8,517.6 1108,531.2 1108.2,542.8 1108.4,573.7 1108.5,541.7 1108.7,548.6 1108.9,522.4 1109.1,514.5 1109.3,513.2 1109.5,514.6 1109.6,518.1 1109.8,522.5 1110,534.1 1110.2,525.1 1110.4,526.9 1110.6,539.1 1110.8,547.4 1110.9,523.8 1111.1,511.5 1111.3,505 1111.5,534.8 1111.7,513.3 1111.9,536.1 1112,517.6 1112.2,504.3 1112.4,523.6 1112.6,533 1112.8,534.3 1113,507.8 1113.1,536.8 1113.3,522.2 1113.5,524.4 1113.7,517.2 1113.9,507.9 1114.1,516.4 1114.2,494.2 1114.4,500.9 1114.6,541 1114.8,557.5 1115,536.3 1115.2,533.5 1115.3,512.8 1115.5,529.6 1115.7,533.7 1115.9,562.2 1116.1,522.7 1116.3,514.7 1116.4,533.2 1116.6,548.1 1116.8,531.6 1117,523.5 1117.2,522.6 1117.4,523.9 1117.5,523.3 1117.7,541.1 1117.9,530.8 1118.1,535.2 1118.3,539.4 1118.5,553.5 1118.6,525.7 1118.8,529.5 1119,540.9 1119.2,506.9 1119.4,537 1119.6,531.6 1119.7,527.6 1119.9,530.3 1120.1,514.8 1120.3,527.6 1120.5,569.3 1120.7,531 1120.8,518 1121,521 1121.2,522 1121.4,533.7 1121.6,547.3 1121.8,550.3 1121.9,510.5 1122.1,532.2 1122.3,533.4 1122.5,532.1 1122.7,536.5 1122.9,527 1123,510.8 1123.2,507.9 1123.4,552.1 1123.6,535.9 1123.8,535.4 1124,532.1 1124.1,528.6 1124.3,516 1124.5,551.1 1124.7,520.6 1124.9,527.4 1125.1,553.8 1125.3,561 1125.4,544.5 1125.6,555.5 1125.8,512.8 1126,535.6 1126.2,570.5 1126.4,536.5 1126.5,547.6 1126.7,553.1 1126.9,546.8 1127.1,517 1127.3,554.3 1127.5,544.6 1127.6,517.5 1127.8,539.5 1128,545.1 1128.2,487.2 1128.4,527.3 1128.6,531.3 1128.7,487.7 1128.9,526.3 1129.1,531.3 1129.3,535.9 1129.5,522.7 1129.7,534.2 1129.8,531.3 1130,524.5 1130.2,551.4 1130.4,566 1130.6,563.5 1130.8,533.2 1130.9,541.7 1131.1,554 1131.3,530.3 1131.5,544.4 1131.7,554.5 1131.9,578.8 1132,568.1 1132.2,567.2 1132.4,552.1 1132.6,535.1 1132.8,544.5 1133,594.1 1133.1,550 1133.3,544.1 1133.5,534 1133.7,532.1 1133.9,558.1 1134.1,525.6 1134.2,519.5 1134.4,555.8 1134.6,543.9 1134.8,527.2 1135,522.6 1135.2,553.1 1135.3,552.6 1135.5,556.2 1135.7,537.6 1135.9,459 1136.1,544.7 1136.3,520.2 1136.4,552 1136.6,530.1 1136.8,516 1137,523.4 1137.2,518.4 1137.4,541.7 1137.5,530.9 1137.7,531.3 1137.9,539.3 1138.1,507.9 1138.3,518.5 1138.5,535.9 1138.6,536.8 1138.8,552.5 1139,547.9 1139.2,530.2 1139.4,530.1 1139.6,573.6 1139.7,504.6 1139.9,528.1 1140.1,562.4 1140.3,530.2 1140.5,544.4 1140.7,551.4 1140.9,555.6 1141,542.3 1141.2,542.6 1141.4,525.6 1141.6,524.1 1141.8,536.7 1142,544.7 1142.1,513.2 1142.3,518.6 1142.5,519.5 1142.7,508.1 1142.9,537 1143.1,640 1143.2,516.8 1143.4,521.5 1143.6,527.4 1143.8,530.8 1144,544.3 1144.2,527.7 1144.3,520.8 1144.5,528.7 1144.7,538.5 1144.9,532.5 1145.1,538.1 1145.3,519.8 1145.4,521.8 1145.6,525 1145.8,545.8 1146,531.9 1146.2,532 1146.4,527.2 1146.5,519.3 1146.7,544.8 1146.9,515.2 1147.1,515.2 1147.3,534.6 1147.5,546.2 1147.6,528 1147.8,533.1 1148,527 1148.2,516.1 1148.4,532.8 1148.6,551.7 1148.7,527.9 1148.9,566.9 1149.1,555.3 1149.3,563.4 1149.5,528.6 1149.7,544.1 1149.8,520.8 1150,552.9 1150.2,528.4 1150.4,516.7 1150.6,539.4 1150.8,519.5 1150.9,535.9 1151.1,541.1 1151.3,561.4 1151.5,536.2 1151.7,515.1 1151.9,541.3 1152,528.2 1152.2,521.3 1152.4,586.9 1152.6,536.5 1152.8,542.2 1153,549.7 1153.1,476.8 1153.3,523.2 1153.5,535.8 1153.7,546.3 1153.9,551.4 1154.1,570.1 1154.2,540 1154.4,557.2 1154.6,528.1 1154.8,551.3 1155,525.3 1155.2,548.7 1155.4,554.2 1155.5,563 1155.7,533.4 1155.9,530.9 1156.1,526.6 1156.3,563.1 1156.5,567.7 1156.6,540.8 1156.8,593 1157,561 1157.2,535.4 1157.4,551.5 1157.6,566.2 1157.7,541.5 1157.9,519.9 1158.1,540.5 1158.3,536.3 1158.5,520.5 1158.7,545.9 1158.8,529.9 1159,526 1159.2,571.3 1159.4,514.2 1159.6,535.2 1159.8,538.7 1159.9,516.2 1160.1,545.3 1160.3,546.2 1160.5,565.3 1160.7,552.9 1160.9,519.5 1161,533.3 1161.2,540.8 1161.4,536.5 1161.6,512.7 1161.8,563.8 1162,528.9 1162.1,542 1162.3,554.2 1162.5,538.6 1162.7,515.5 1162.9,487.9 1163.1,579.2 1163.2,528.6 1163.4,523.6 1163.6,564.9 1163.8,565.5 1164,536.5 1164.2,556.2 1164.3,517.1 1164.5,519.2 1164.7,512.5 1164.9,534.9 1165.1,549.8 1165.3,587.5 1165.4,558.2 1165.6,545.1 1165.8,549.6 1166,555.5 1166.2,548.2 1166.4,540 1166.5,543.6 1166.7,513.3 1166.9,557.3 1167.1,549.4 1167.3,603.4 1167.5,541.7 1167.6,540.2 1167.8,551 1168,573.4 1168.2,523.8 1168.4,569.1 1168.6,567.5 1168.7,541 1168.9,535.7 1169.1,558.7 1169.3,557 1169.5,550.7 1169.7,536 1169.8,531.7 1170,516 1170.2,531 1170.4,526 1170.6,545 1170.8,568.2 1171,546.1 1171.1,515.7 1171.3,534.7 1171.5,525 1171.7,540.2 1171.9,541.7 1172.1,574.2 1172.2,515.5 1172.4,516.8 1172.6,544.7 1172.8,531.8 1173,544.1 1173.2,536.6 1173.3,562.8 1173.5,522.8 1173.7,526.6 1173.9,535.1 1174.1,534 1174.3,521.1 1174.4,554.1 1174.6,542.2 1174.8,526.1 1175,545.6 1175.2,546.9 1175.4,526 1175.5,545.8 1175.7,550.6 1175.9,562.6 1176.1,568.7 1176.3,567.5 1176.5,556.8 1176.6,543.2 1176.8,538.8 1177,561.2 1177.2,583.2 1177.4,512.1 1177.6,521.7 1177.7,537.8 1177.9,499.8 1178.1,528.7 1178.3,520 1178.5,518.7 1178.7,559.3 1178.8,547.5 1179,542.1 1179.2,571.4 1179.4,552.2 1179.6,524 1179.8,543.8 1179.9,528.1 1180.1,528 1180.3,538.8 1180.5,513.8 1180.7,552.4 1180.9,562.3 1181,517.6 1181.2,542.6 1181.4,561 1181.6,538.6 1181.8,530 1182,538.3 1182.1,486.2 1182.3,549.7 1182.5,535.3 1182.7,539.7 1182.9,536.9 1183.1,526.9 1183.2,537.5 1183.4,541.2 1183.6,545.5 1183.8,529.5 1184,555.5 1184.2,582.3 1184.3,550.2 1184.5,566.6 1184.7,568.9 1184.9,561.1 1185.1,550 1185.3,508.5 1185.5,557.4 1185.6,549.9 1185.8,572.9 1186,540.3 1186.2,528.8 1186.4,545 1186.6,521.6 1186.7,530.3 1186.9,524.9 1187.1,494.9 1187.3,544.9 1187.5,530.9 1187.7,549.3 1187.8,521.8 1188,546.5 1188.2,539.4 1188.4,523.7 1188.6,543 1188.8,530.3 1188.9,561 1189.1,526.9 1189.3,557 1189.5,565.7 1189.7,516.4 1189.9,509.6 1190,523.2 1190.2,505.6 1190.4,526.1 1190.6,543.3 1190.8,512.4 1191,536.1 1191.1,520.1 1191.3,536.1 1191.5,553.1 1191.7,549.8 1191.9,551.8 1192.1,535 1192.2,549.7 1192.4,507.4 1192.6,541.8 1192.8,561.7 1193,538.2 1193.2,549.3 1193.3,513.9 1193.5,534.4 1193.7,544.2 1193.9,508.5 1194.1,512.7 1194.3,528 1194.4,554.5 1194.6,538.1 1194.8,499 1195,555.1 1195.2,525.5 1195.4,533.3 1195.5,555.1 1195.7,559 1195.9,552.4 1196.1,520 1196.3,543.8 1196.5,515.5 1196.6,523 1196.8,530.6 1197,535.5 1197.2,534.2 1197.4,528.1 1197.6,546.4 1197.7,554.1 1197.9,532.2 1198.1,502.9 1198.3,515.7 1198.5,554.2 1198.7,569 1198.8,560.5 1199,550.5 1199.2,528.9 1199.4,530.2 1199.6,556.1 1199.8,506.5 1199.9,529.8 1200.1,517.1 1200.3,532.1 1200.5,553.8 1200.7,558.9 1200.9,567.9 1201.1,573.1 1201.2,531 1201.4,528 1201.6,534.4 1201.8,556.5 1202,543.9 1202.2,531.9 1202.3,563.5 1202.5,542.2 1202.7,536.4 1202.9,558.2 1203.1,525.2 1203.3,543.6 1203.4,546.7 1203.6,481.4 1203.8,544.6 1204,555.9 1204.2,559.2 1204.4,528.8 1204.5,526 1204.7,556.1 1204.9,541.4 1205.1,506.3 1205.3,519.5 1205.5,522.5 1205.6,520.1 1205.8,502 1206,538.8 1206.2,526.4 1206.4,539.6 1206.6,550.6 1206.7,551.3 1206.9,539.4 1207.1,566 1207.3,535 1207.5,523.7 1207.7,546.4 1207.8,553.2 1208,551.4 1208.2,549.5 1208.4,537 1208.6,522.9 1208.8,545.6 1208.9,535.7 1209.1,540.3 1209.3,540.2 1209.5,524.9 1209.7,530.2 1209.9,534 1210,525 1210.2,531.5 1210.4,523.4 1210.6,542 1210.8,524 1211,529.2 1211.1,542.6 1211.3,546.5 1211.5,529.4 1211.7,554 1211.9,544.7 1212.1,542.6 1212.2,530.5 1212.4,501.5 1212.6,539.4 1212.8,541.5 1213,508.5 1213.2,520.4 1213.3,544.2 1213.5,524.8 1213.7,528.7 1213.9,526.8 1214.1,548 1214.3,536.2 1214.4,550.7 1214.6,553.5 1214.8,543.8 1215,512.9 1215.2,550.8 1215.4,560.3 1215.6,549.6 1215.7,537.6 1215.9,553.9 1216.1,570.1 1216.3,567 1216.5,544.5 1216.7,525.9 1216.8,516.2 1217,520.7 1217.2,542.8 1217.4,533.9 1217.6,529.9 1217.8,561.8 1217.9,584.9 1218.1,509.6 1218.3,521.2 1218.5,526.6 1218.7,511.8 1218.9,521.7 1219,543.5 1219.2,549.4 1219.4,538.7 1219.6,545.3 1219.8,528.9 1220,520.3 1220.1,551.5 1220.3,526.1 1220.5,501 1220.7,538.6 1220.9,557.7 1221.1,535.2 1221.2,538.9 1221.4,525.5 1221.6,537.4 1221.8,506.5 1222,516.7 1222.2,504.9 1222.3,527.1 1222.5,521 1222.7,574.8 1222.9,552.9 1223.1,529.1 1223.3,535.1 1223.4,541.4 1223.6,526.4 1223.8,526.5 1224,531.8 1224.2,558.2 1224.4,517.8 1224.5,525 1224.7,538.6 1224.9,541.1 1225.1,523.3 1225.3,535.1 1225.5,532 1225.6,511.6 1225.8,507.7 1226,541.2 1226.2,545.4 1226.4,543.8 1226.6,598.6 1226.7,570.5 1226.9,524.7 1227.1,530.4 1227.3,638.4 1227.5,542.8 1227.7,543.9 1227.8,548.3 1228,511.9 1228.2,531.2 1228.4,561.2 1228.6,553.1 1228.8,515.4 1228.9,567.3 1229.1,578 1229.3,524.8 1229.5,528.5 1229.7,552.6 1229.9,540.2 1230,533.5 1230.2,507.9 1230.4,538.2 1230.6,560.3 1230.8,526.6 1231,518.3 1231.2,577 1231.3,538.1 1231.5,537.6 1231.7,545.1 1231.9,534.6 1232.1,524.3 1232.3,533.1 1232.4,561.7 1232.6,534.1 1232.8,529.4 1233,540.6 1233.2,575.4 1233.4,534.3 1233.5,508.2 1233.7,504.7 1233.9,531.6 1234.1,533.9 1234.3,554.3 1234.5,540.1 1234.6,527.4 1234.8,511.6 1235,566.2 1235.2,508.9 1235.4,512.3 1235.6,562 1235.7,549.8 1235.9,537.7 1236.1,539.9 1236.3,537 1236.5,552.3 1236.7,554.3 1236.8,553.9 1237,553.2 1237.2,523 1237.4,557.6 1237.6,549 1237.8,527.9 1237.9,542 1238.1,541.1 1238.3,535.3 1238.5,544.3 1238.7,535.9 1238.9,546.3 1239,586.1 1239.2,562.5 1239.4,537.3 1239.6,550.7 1239.8,524.7 1240,549.1 1240.1,554.9 1240.3,557.8 1240.5,535.5 1240.7,505.8 1240.9,553.7 1241.1,567.6 1241.2,553.4 1241.4,564.6 1241.6,536.8 1241.8,537.8 1242,545.1 1242.2,551.7 1242.3,553.4 1242.5,569.1 1242.7,536.9 1242.9,536.3 1243.1,508.1 1243.3,537.2 1243.4,534.7 1243.6,546.4 1243.8,532.2 1244,521.4 1244.2,551.9 1244.4,533.9 1244.5,530.1 1244.7,522.8 1244.9,540.8 1245.1,536.3 1245.3,534.2 1245.5,502.3 1245.7,514.4 1245.8,530.6 1246,527.2 1246.2,547.7 1246.4,533.9 1246.6,534.3 1246.8,529.5 1246.9,514.4 1247.1,576.5 1247.3,540.2 1247.5,499.6 1247.7,523.5 1247.9,497 1248,477.2 1248.2,519.2 1248.4,530.4 1248.6,524.2 1248.8,511.3 1249,602.1 1249.1,537.6 1249.3,523.1 1249.5,531.6 1249.7,532.6 1249.9,498.2 1250.1,509.4 1250.2,515 1250.4,540.4 1250.6,552.5 1250.8,529.4 1251,525.5 1251.2,536.8 1251.3,534.5 1251.5,514.4 1251.7,528.6 1251.9,487.5 1252.1,560.6 1252.3,533.6 1252.4,533.3 1252.6,540.4 1252.8,530.7 1253,537.9 1253.2,551.9 1253.4,516.8 1253.5,500.1 1253.7,550.9 1253.9,541.5 1254.1,545.1 1254.3,533.7 1254.5,549.9 1254.6,529.5 1254.8,527.2 1255,519.6 1255.2,513 1255.4,546.9 1255.6,543.5 1255.7,517.3 1255.9,517.1 1256.1,541.7 1256.3,564.6 1256.5,510.2 1256.7,525.5 1256.8,573.8 1257,522.4 1257.2,550.6 1257.4,557.2 1257.6,521.6 1257.8,547 1257.9,494.2 1258.1,524.2 1258.3,537.7 1258.5,512.3 1258.7,499.8 1258.9,520.2 1259,539.1 1259.2,532.7 1259.4,536.8 1259.6,547.3 1259.8,536.8 1260,529.1 1260.1,535.7 1260.3,522.8 1260.5,539.1 1260.7,532.3 1260.9,515.8 1261.1,553.6 1261.3,516.8 1261.4,530.6 1261.6,535.1 1261.8,512.5 1262,640 1262.2,522.8 1262.4,515.6 1262.5,535.2 1262.7,528.3 1262.9,522.1 1263.1,488.7 1263.3,531.1 1263.5,549.7 1263.6,542.6 1263.8,487.6 1264,516.6 1264.2,530 1264.4,539.2 1264.6,533.2 1264.7,542 1264.9,540.5 1265.1,548.5 1265.3,532.3 1265.5,530.2 1265.7,507.4 1265.8,529 1266,558.8 1266.2,535 1266.4,515.8 1266.6,534.1 1266.8,535.8 1266.9,517.4 1267.1,528 1267.3,540.2 1267.5,517.8 1267.7,569.6 1267.9,553 1268,540.2 1268.2,534.7 1268.4,546 1268.6,487.6 1268.8,530.9 1269,544.4 1269.1,553.8 1269.3,550.8 1269.5,547.2 1269.7,549.1 1269.9,506 1270.1,535.3 1270.2,529.5 1270.4,524.3 1270.6,518.3 1270.8,557 1271,527.4 1271.2,543.4 1271.3,593.8 1271.5,510.9 1271.7,528 1271.9,529.6 1272.1,537.1 1272.3,546.1 1272.4,561.8 1272.6,540.6 1272.8,521 1273,530.3 1273.2,514.9 1273.4,527.7 1273.5,513.4 1273.7,502.2 1273.9,516.4 1274.1,555.5 1274.3,524.6 1274.5,521.5 1274.6,505.8 1274.8,529.6 1275,514.9 1275.2,540.4 1275.4,517.7 1275.6,573.1 1275.8,544.7 1275.9,527.3 1276.1,529 1276.3,534.8 1276.5,568.5 1276.7,556.8 1276.9,514.2 1277,555.8 1277.2,533.9 1277.4,520.7 1277.6,514.5 1277.8,533 1278,554.5 1278.1,528.4 1278.3,549.9 1278.5,562.5 1278.7,546 1278.9,531.7 1279.1,539.9 1279.2,536.6 1279.4,533.7 1279.6,577.8 1279.8,540.8 1280,574.3 1280.2,504.4 1280.3,536.4 1280.5,562.6 1280.7,552.7 1280.9,543.4 1281.1,551.5 1281.3,587.2 1281.4,563.1 1281.6,532.6 1281.8,538 1282,552.9 1282.2,529.6 1282.4,521.7 1282.5,562.3 1282.7,578.5 1282.9,576.3 1283.1,496.7 1283.3,540.3 1283.5,553 1283.6,546.3 1283.8,547.1 1284,567.6 1284.2,555.3 1284.4,542.3 1284.6,585.8 1284.7,543.2 1284.9,586.4 1285.1,617.1 1285.3,548.1 1285.5,569.2 1285.7,517.3 1285.8,535.4 1286,533.1 1286.2,509.1 1286.4,537.1 1286.6,523.5 1286.8,548.4 1286.9,541.6 1287.1,532.7 1287.3,558 1287.5,535 1287.7,548.9 1287.9,534.1 1288,561.2 1288.2,542.5 1288.4,519.3 1288.6,532.9 1288.8,526.6 1289,537.6 1289.1,584 1289.3,531.9 1289.5,516 1289.7,546.2 1289.9,546.5 1290.1,524.1 1290.2,545.1 1290.4,522.3 1290.6,508.8 1290.8,550.3 1291,554.8 1291.2,529.4 1291.4,557.9 1291.5,546.4 1291.7,545.2 1291.9,540.1 1292.1,561.3 1292.3,577.1 1292.5,576.3 1292.6,516.2 1292.8,576.4 1293,527.3 1293.2,534.4 1293.4,574.3 1293.6,562.7 1293.7,513.6 1293.9,564.8 1294.1,569.6 1294.3,552.2 1294.5,552.8 1294.7,541.2 1294.8,543.3 1295,561 1295.2,536.5 1295.4,640 1295.6,536.3 1295.8,546.6 1295.9,527.3 1296.1,539 1296.3,575.9 1296.5,572.2 1296.7,494.1 1296.9,582.5 1297,498 1297.2,542.8 1297.4,546.1 1297.6,581.7 1297.8,558.9 1298,556.1 1298.1,537.1 1298.3,544.2 1298.5,515 1298.7,511.4 1298.9,524.1 1299.1,604.2 1299.2,540.9 1299.4,536.8 1299.6,504.8 1299.8,496.5 1300,538.2 1300.2,548.7 1300.3,547.1 1300.5,546.4 1300.7,545.2 1300.9,505.7 1301.1,554.4 1301.3,529.7 1301.4,518.4 1301.6,532.4 1301.8,555.7 1302,528.4 1302.2,528.5 1302.4,535 1302.5,545.5 1302.7,570.1 1302.9,535.4 1303.1,544.2 1303.3,531.4 1303.5,543 1303.6,560.2 1303.8,533.7 1304,543 1304.2,560.2 1304.4,545.7 1304.6,543.6 1304.7,533.1 1304.9,540.3 1305.1,558.3 1305.3,523.7 1305.5,528.5 1305.7,572.6 1305.9,545.8 1306,537.8 1306.2,580.4 1306.4,567 1306.6,569.3 1306.8,521.4 1307,551.1 1307.1,563.7 1307.3,517.4 1307.5,522.6 1307.7,533.2 1307.9,530.3 1308.1,529.7 1308.2,538.8 1308.4,532.7 1308.6,598.2 1308.8,508 1309,552.1 1309.2,524.3 1309.3,516.7 1309.5,541.2 1309.7,539.6 1309.9,542.1 1310.1,537.8 1310.3,522.4 1310.4,518.6 1310.6,542.4 1310.8,516.3 1311,562.7 1311.2,553.6 1311.4,584 1311.5,566.4 1311.7,536.1 1311.9,561.6 1312.1,559 1312.3,567.3 1312.5,528.9 1312.6,552.3 1312.8,542.3 1313,504.1 1313.2,529.9 1313.4,537.3 1313.6,545.7 1313.7,506.7 1313.9,537.1 1314.1,521.1 1314.3,529.7 1314.5,555.1 1314.7,534.7 1314.8,524.7 1315,525.2 1315.2,536.8 1315.4,550.7 1315.6,532.9 1315.8,533.9 1315.9,563.3 1316.1,539 1316.3,534.2 1316.5,497.3 1316.7,543.5 1316.9,550.7 1317,588 1317.2,566.5 1317.4,570.7 1317.6,534.5 1317.8,520.1 1318,530.2 1318.1,542.1 1318.3,517.1 1318.5,536.8 1318.7,536.3 1318.9,543.2 1319.1,537.2 1319.2,549.3 1319.4,533.6 1319.6,535.3 1319.8,544.6 1320,516.2 1320.2,536.8 1320.3,560.8 1320.5,567 1320.7,536.8 1320.9,525.2 1321.1,542.8 1321.3,518.5 1321.5,528.6 1321.6,531.1 1321.8,523.7 1322,527.6 1322.2,537.6 1322.4,528.5 1322.6,528.3 1322.7,528.2 1322.9,496.2 1323.1,521.2 1323.3,516.6 1323.5,573.5 1323.7,521.7 1323.8,539.8 1324,553.9 1324.2,534.4 1324.4,503.9 1324.6,529.3 1324.8,554.4 1324.9,533.3 1325.1,530.5 1325.3,552 1325.5,545.9 1325.7,531.8 1325.9,509.9 1326,540.9 1326.2,543.7 1326.4,558.4 1326.6,514.8 1326.8,518.2 1327,536.2 1327.1,533.8 1327.3,525 1327.5,535.1 1327.7,506.9 1327.9,510.4 1328.1,530.5 1328.2,547 1328.4,535.3 1328.6,561.1 1328.8,550.8 1329,523.2 1329.2,541.8 1329.3,567.8 1329.5,546.8 1329.7,546.9 1329.9,540.6 1330.1,527.8 1330.3,549.8 1330.4,584.6 1330.6,557.9 1330.8,552.1 1331,583 1331.2,532 1331.4,536.9 1331.5,546.8 1331.7,552.1 1331.9,570.8 1332.1,483.3 1332.3,540.1 1332.5,558.8 1332.6,530.3 1332.8,511.2 1333,506.4 1333.2,523.4 1333.4,526.9 1333.6,529.2 1333.7,544.3 1333.9,527.6 1334.1,532.4 1334.3,607.2 1334.5,542.5 1334.7,537.1 1334.8,540.1 1335,518 1335.2,550.5 1335.4,529.7 1335.6,525.4 1335.8,524.3 1336,546.5 1336.1,546.9 1336.3,534.7 1336.5,537.1 1336.7,564.7 1336.9,521.2 1337.1,539.9 1337.2,515.3 1337.4,524.6 1337.6,511.4 1337.8,525.3 1338,523.7 1338.2,529.5 1338.3,538 1338.5,554.4 1338.7,503.3 1338.9,509.4 1339.1,534.4 1339.3,519 1339.4,534.9 1339.6,523.2 1339.8,544.2 1340,527.6 1340.2,523.9 1340.4,533.3 1340.5,521.5 1340.7,549.8 1340.9,534.7 1341.1,516.9 1341.3,547 1341.5,544.5 1341.6,559.7 1341.8,548.3 1342,533.6 1342.2,514.4 1342.4,515.7 1342.6,527.7 1342.7,539.4 1342.9,538.1 1343.1,543.6 1343.3,515.8 1343.5,548.3 1343.7,555.5 1343.8,563.4 1344,538.7 1344.2,535.4 1344.4,540.3 1344.6,565.7 1344.8,568.2 1344.9,570.1 1345.1,552.1 1345.3,553.1 1345.5,544.2 1345.7,530.1 1345.9,548.1 1346,539.2 1346.2,576.3 1346.4,526.7 1346.6,553.2 1346.8,557.3 1347,551.4 1347.1,549.8 1347.3,538.3 1347.5,538.6 1347.7,514.1 1347.9,565 1348.1,549.8 1348.2,540.9 1348.4,535.5 1348.6,565.9 1348.8,544.5 1349,514 1349.2,538 1349.3,520.3 1349.5,559.9 1349.7,539.3 1349.9,538.6 1350.1,551.5 1350.3,548.6 1350.4,547 1350.6,528.4 1350.8,518.5 1351,512.8 1351.2,528.8 1351.4,538.4 1351.6,544.5 1351.7,486.4 1351.9,514.2 1352.1,566.9 1352.3,526.9 1352.5,536.5 1352.7,544.5 1352.8,628.1 1353,550.6 1353.2,516.6 1353.4,517.3 1353.6,550.7 1353.8,539.6 1353.9,523.1 1354.1,533.3 1354.3,542.6 1354.5,540.6 1354.7,537.9 1354.9,561.1 1355,569.5 1355.2,529.8 1355.4,537 1355.6,557 1355.8,555.5 1356,532.8 1356.1,529.9 1356.3,539.3 1356.5,549.6 1356.7,559.8 1356.9,555.2 1357.1,560.9 1357.2,512.5 1357.4,514.9 1357.6,569.3 1357.8,534.7 1358,510.6 1358.2,640 1358.3,548.6 1358.5,546.3 1358.7,568 1358.9,583.5 1359.1,557.6 1359.3,547.9 1359.4,553.5 1359.6,536.8 1359.8,560.6 1360,609.1 1360.2,560.7 1360.4,549.9 1360.5,547.9 1360.7,520 1360.9,557.8 1361.1,502.6 1361.3,516.9 1361.5,510.9 1361.6,528.2 1361.8,514.9 1362,537.5 1362.2,548.9 1362.4,565.7 1362.6,536.7 1362.7,498.1 1362.9,521.9 1363.1,532 1363.3,525.6 1363.5,501.1 1363.7,513.2 1363.8,527.4 1364,535.6 1364.2,527.5 1364.4,513.6 1364.6,540.7 1364.8,523.7 1364.9,525.5 1365.1,532.5 1365.3,512 1365.5,530.4 1365.7,540.6 1365.9,542.2 1366.1,531.8 1366.2,549.5 1366.4,539.1 1366.6,533.8 1366.8,537.3 1367,528.3 1367.2,527.9 1367.3,557.4 1367.5,523.2 1367.7,536.1 1367.9,530 1368.1,520.2 1368.3,527.5 1368.4,582.7 1368.6,548.6 1368.8,544.7 1369,565.9 1369.2,530 1369.4,549.6 1369.5,533.2 1369.7,532.9 1369.9,506.4 1370.1,515 1370.3,541.3 1370.5,518.2 1370.6,541.7 1370.8,544 1371,538.9 1371.2,551.6 1371.4,543.4 1371.6,559.5 1371.7,530.8 1371.9,534.3 1372.1,545.7 1372.3,513.7 1372.5,528 1372.7,550 1372.8,533.2 1373,540 1373.2,512.4 1373.4,516 1373.6,548.6 1373.8,554.3 1373.9,512.1 1374.1,544.2 1374.3,540.3 1374.5,538.2 1374.7,553 1374.9,520.1 1375,543.1 1375.2,540.7 1375.4,488.7 1375.6,495.8 1375.8,527.9 1376,523.7 1376.1,523 1376.3,558.5 1376.5,575.8 1376.7,517.2 1376.9,537.2 1377.1,532.1 1377.2,522.5 1377.4,515.3 1377.6,509.6 1377.8,538.4 1378,548.9 1378.2,528.7 1378.3,522.7 1378.5,523.2 1378.7,512.5 1378.9,518.2 1379.1,519.3 1379.3,532 1379.4,538.6 1379.6,501.8 1379.8,558.7 1380,559.8 1380.2,530.5 1380.4,505.8 1380.5,528.1 1380.7,538.9 1380.9,591.8 1381.1,541.9 1381.3,546.7 1381.5,535 1381.7,523.7 1381.8,512.5 1382,514.7 1382.2,518.6 1382.4,512.1 1382.6,546.4 1382.8,546.8 1382.9,539.1 1383.1,542.6 1383.3,546.1 1383.5,531.1 1383.7,520 1383.9,521.2 1384,539.7 1384.2,542.7 1384.4,545 1384.6,544.4 1384.8,540.1 1385,612.4 1385.1,551.9 1385.3,537.3 1385.5,630 1385.7,549.1 1385.9,556 1386.1,539.1 1386.2,545.8 1386.4,500 1386.6,478 1386.8,532.7 1387,540.5 1387.2,517.6 1387.3,519.5 1387.5,520 1387.7,520.8 1387.9,505.1 1388.1,523.2 1388.3,529.5 1388.4,528.7 1388.6,561.3 1388.8,543 1389,516 1389.2,540.7 1389.4,537 1389.5,474.3 1389.7,498.9 1389.9,535 1390.1,567.1 1390.3,546.7 1390.5,557.5 1390.6,527.8 1390.8,563.6 1391,531.4 1391.2,525.4 1391.4,557.1 1391.6,602.1 1391.7,533.8 1391.9,495.9 1392.1,521.1 1392.3,542.1 1392.5,566 1392.7,553.4 1392.8,568.3 1393,550.1 1393.2,573.1 1393.4,539.2 1393.6,547.5 1393.8,540.9 1393.9,549.2 1394.1,540.5 1394.3,489.9 1394.5,561.1 1394.7,532.8 1394.9,533.5 1395,549.6 1395.2,524.7 1395.4,529.7 1395.6,548.7 1395.8,536.6 1396,496.9 1396.2,511.9 1396.3,540.6 1396.5,541.2 1396.7,522.7 1396.9,524.5 1397.1,549.4 1397.3,526.7 1397.4,536.5 1397.6,560.4 1397.8,514.5 1398,519.6 1398.2,525.3 1398.4,526.7 1398.5,529.8 1398.7,517.5 1398.9,524.5 1399.1,532.7 1399.3,542.2 1399.5,514.9 1399.6,526.1 1399.8,512.5 1400,527.6 1400.2,547 1400.4,513.4 1400.6,514.6 1400.7,534.6 1400.9,517.1 1401.1,555.8 1401.3,551 1401.5,546.5 1401.7,598.7 1401.8,536.4 1402,566.9 1402.2,544 1402.4,558.9 1402.6,531.8 1402.8,534 1402.9,522.7 1403.1,536.9 1403.3,531.7 1403.5,509.2 1403.7,507.2 1403.9,530.1 1404,508.9 1404.2,503.9 1404.4,530.7 1404.6,551.6 1404.8,528.4 1405,542.2 1405.1,530.6 1405.3,518.2 1405.5,532.7 1405.7,549.8 1405.9,554.8 1406.1,521.8 1406.2,535.1 1406.4,535.1 1406.6,558.2 1406.8,550 1407,528.5 1407.2,541.8 1407.3,529 1407.5,523.5 1407.7,509.3 1407.9,516.5 1408.1,560.1 1408.3,565.1 1408.4,542.3 1408.6,541.8 1408.8,551.5 1409,523.9 1409.2,539.7 1409.4,533.1 1409.5,535 1409.7,533.2"/>
<path class="r B" d="M184.9,529 185.1,547 185.3,519.2 185.5,524.1 185.7,601.1 185.9,513.9 186.1,594.8 186.3,541.5 186.5,544.7 186.7,531.4 186.9,513.5 187.2,523.8 187.4,539 187.6,537.9 187.8,531.1 188,568 188.2,557.3 188.4,528.2 188.6,538.7 188.8,555.1 189,542.8 189.2,537.1 189.4,517 189.6,541.9 189.8,540.1 190,551.3 190.2,565.9 190.5,578.8 190.7,540.9 190.9,498.7 191.1,547 191.3,525 191.5,525.9 191.7,515 191.9,555.2 192.1,569.6 192.3,570.8 192.5,512.8 192.7,596.1 192.9,585 193.1,540.2 193.3,562.7 193.5,544.6 193.7,556.5 194,601.2 194.2,512.3 194.4,544.8 194.6,537.1 194.8,545.4 195,555.8 195.2,548.1 195.4,516.9 195.6,498.5 195.8,518.4 196,527.1 196.2,519.9 196.4,527.1 196.6,539.1 196.8,546.1 197,532.6 197.2,557.5 197.5,529.1 197.7,554.9 197.9,551.2 198.1,538.9 198.3,547.8 198.5,530.5 198.7,528 198.9,533.8 199.1,522 199.3,511.7 199.5,532 199.7,537.9 199.9,523.9 200.1,587.5 200.3,563.2 200.5,551.2 200.7,559 201,603.3 201.2,580.3 201.4,574.6 201.6,555.2 201.8,596.8 202,602.4 202.2,561.4 202.4,562.5 202.6,540.8 202.8,551.7 203,537.2 203.2,560.3 203.4,520.6 203.6,532.9 203.8,548.4 204,513.1 204.3,524.3 204.5,547.5 204.7,543.6 204.9,524.6 205.1,517.9 205.3,505.3 205.5,525.1 205.7,543.7 205.9,510.6 206.1,525.8 206.3,528.1 206.5,563.5 206.7,550.4 206.9,533.7 207.1,534.7 207.3,532 207.5,533.9 207.8,545.7 208,504.8 208.2,552.7 208.4,520.4 208.6,564.4 208.8,553 209,621.9 209.2,546.2 209.4,526.5 209.6,521.7 209.8,515.7 210,541 210.2,521.1 210.4,543.5 210.6,517.2 210.8,518.9 211,505.8 211.3,539.7 211.5,521.2 211.7,525.8 211.9,608.2 212.1,564.6 212.3,552.5 212.5,518.7 212.7,514.4 212.9,519.4 213.1,510.1 213.3,513.7 213.5,517.9 213.7,508.1 213.9,565.9 214.1,557.2 214.3,507.1 214.5,532 214.8,553.2 215,486.6 215.2,493.9 215.4,509.4 215.6,531.1 215.8,474.3 216,523.1 216.2,506.9 216.4,535.3 216.6,535.1 216.8,553.8 217,498.5 217.2,497.1 217.4,543.9 217.6,589.1 217.8,552 218,560.9 218.3,537.3 218.5,556.3 218.7,531.7 218.9,509.9 219.1,514.1 219.3,528.5 219.5,544.8 219.7,516.3 219.9,558.9 220.1,557.6 220.3,522.2 220.5,519.9 220.7,498.9 220.9,516.9 221.1,584.2 221.3,626.8 221.6,586.2 221.8,559.8 222,553.7 222.2,581.9 222.4,566.4 222.6,561.8 222.8,585.4 223,560.9 223.2,514.2 223.4,505.7 223.6,526.3 223.8,528.8 224,485.9 224.2,527.5 224.4,519.3 224.6,521.9 224.8,557.9 225.1,571.5 225.3,579.5 225.5,566.1 225.7,551.6 225.9,531.2 226.1,485.9 226.3,536.1 226.5,541.3 226.7,520.1 226.9,538.7 227.1,502.2 227.3,524.8 227.5,494.1 227.7,515.7 227.9,517.3 228.1,534.8 228.3,518 228.6,518.3 228.8,526.3 229,525.5 229.2,543.4 229.4,510.5 229.6,531.9 229.8,494.3 230,550 230.2,519.2 230.4,478.3 230.6,514.9 230.8,544.2 231,512.4 231.2,542.6 231.4,611.1 231.6,505.2 231.8,523.2 232.1,492.7 232.3,540.2 232.5,528.2 232.7,509.7 232.9,541.8 233.1,535.2 233.3,563.4 233.5,504.7 233.7,494.4 233.9,502.9 234.1,534.6 234.3,510.8 234.5,499.2 234.7,540.7 234.9,516.8 235.1,526.3 235.4,505.9 235.6,583.1 235.8,481 236,583.7 236.2,512 236.4,553 236.6,530.4 236.8,526.6 237,523.2 237.2,535.3 237.4,567.7 237.6,539.8 237.8,520.3 238,549.9 238.2,492.1 238.4,500.5 238.6,566.3 238.9,549.5 239.1,483.8 239.3,510.2 239.5,547.6 239.7,547.1 239.9,537 240.1,527 240.3,543.8 240.5,501.2 240.7,550.3 240.9,568.7 241.1,476.6 241.3,514.7 241.5,534.9 241.7,524.7 241.9,533.5 242.1,537 242.4,534.7 242.6,512.9 242.8,520.6 243,535.7 243.2,537.7 243.4,508 243.6,507.9 243.8,507.4 244,589.8 244.2,560.2 244.4,470.7 244.6,559.3 244.8,535.1 245,539.1 245.2,505.9 245.4,559.9 245.6,547.4 245.9,506.5 246.1,520 246.3,557.7 246.5,589.7 246.7,588.9 246.9,506.2 247.1,544.9 247.3,545.1 247.5,549.8 247.7,582.1 247.9,554.4 248.1,524.4 248.3,524.3 248.5,522.8 248.7,529.6 248.9,560 249.1,512.3 249.4,553.1 249.6,625.3 249.8,589.2 250,533.6 250.2,554.5 250.4,568.5 250.6,576.4 250.8,545.7 251,479.2 251.2,555.8 251.4,561.4 251.6,541.4 251.8,559.7 252,609.9 252.2,535.9 252.4,534 252.7,550.4 252.9,459 253.1,640 253.3,505.1 253.5,612.5 253.7,541.5 253.9,512.5 254.1,578.9 254.3,521.7 254.5,479.6 254.7,562.8 254.9,535.6 255.1,552.5 255.3,542.2 255.5,504.8 255.7,640 255.9,518.1 256.2,557.8 256.4,515.1 256.6,509.2 256.8,529.4 257,507.8 257.2,560 257.4,545.1 257.6,640 257.8,513.6 258,555.1 258.2,551.4 258.4,510.9 258.6,517 258.8,545.4 259,488 259.2,480 259.4,534.1 259.7,493.6 259.9,497.3 260.1,540.2 260.3,517.5 260.5,541.2 260.7,519.7 260.9,527.2 261.1,541.8 261.3,562.6 261.5,561.4 261.7,576.2 261.9,559.4 262.1,543.2 262.3,506.2 262.5,521.4 262.7,526.8 262.9,560.6 263.2,554.2 263.4,535.7 263.6,528.3 263.8,588.9 264,575.3 264.2,625.9 264.4,539.2 264.6,535.5 264.8,550 265,574.4 265.2,577.3 265.4,581.9 265.6,561.8 265.8,511.2 266,538.2 266.2,628.3 266.5,512.3 266.7,517.4 266.9,488.2 267.1,549 267.3,543.7 267.5,515.9 267.7,541.6 267.9,519.3 268.1,518.4 268.3,498.4 268.5,505.8 268.7,531.7 268.9,531.6 269.1,553 269.3,640 269.5,581.2 269.7,523 270,550 270.2,572.7 270.4,559.4 270.6,517.8 270.8,558.2 271,508.9 271.2,545.9 271.4,557.5 271.6,539.8 271.8,554.6 272,575.2 272.2,481 272.4,511.9 272.6,530.6 272.8,504.6 273,494.6 273.2,531.8 273.5,619 273.7,561.9 273.9,530.6 274.1,559.4 274.3,565 274.5,459 274.7,517.8 274.9,540 275.1,557.5 275.3,480.5 275.5,507.4 275.7,518.2 275.9,484.5 276.1,610.7 276.3,539.9 276.5,520.8 276.7,568.8 277,501.9 277.2,629.6 277.4,530.6 277.6,537.3 277.8,566.6 278,566.3 278.2,559.3 278.4,514.1 278.6,553.8 278.8,574.1 279,559.5 279.2,556.3 279.4,519 279.6,565.1 279.8,533.7 280,544.8 280.2,528.2 280.5,475.6 280.7,582.1 280.9,509.4 281.1,518.4 281.3,521 281.5,517.6 281.7,522.4 281.9,570.2 282.1,550.7 282.3,540.1 282.5,566.5 282.7,531.2 282.9,562.4 283.1,526.1 283.3,517 283.5,517.8 283.8,526.9 284,539 284.2,551 284.4,538.9 284.6,570.2 284.8,532.1 285,572.9 285.2,521.8 285.4,535.6 285.6,537.5 285.8,514.8 286,490.6 286.2,547.4 286.4,554.8 286.6,583.2 286.8,537.2 287,640 287.3,536.6 287.5,543.3 287.7,525.4 287.9,561.8 288.1,560 288.3,535.6 288.5,640 288.7,559.4 288.9,540.3 289.1,571.9 289.3,565.5 289.5,481.3 289.7,589.4 289.9,557.5 290.1,545.4 290.3,584.7 290.5,537.7 290.8,540.4 291,547.9 291.2,557.1 291.4,484.6 291.6,537.1 291.8,594.6 292,561.3 292.2,535.7 292.4,633.2 292.6,586.6 292.8,640 293,576.7 293.2,576.9 293.4,603.8 293.6,555.8 293.8,612 294,590.7 294.3,559.6 294.5,549 294.7,607.5 294.9,546.6 295.1,542.9 295.3,565 295.5,599.1 295.7,546 295.9,536.7 296.1,526.4 296.3,517 296.5,479.3 296.7,511.2 296.9,525.1 297.1,522.4 297.3,504.8 297.6,640 297.8,543.3 298,513.6 298.2,459 298.4,553.8 298.6,545.2 298.8,517.9 299,516.8 299.2,640 299.4,515.8 299.6,535.9 299.8,517.8 300,573.7 300.2,514.6 300.4,516.7 300.6,564.2 300.8,558.9 301.1,497.4 301.3,557.1 301.5,491.1 301.7,564.7 301.9,533.8 302.1,564.7 302.3,576.9 302.5,525.8 302.7,603 302.9,518.9 303.1,552.3 303.3,509.6 303.5,520.2 303.7,508.6 303.9,525.3 304.1,497.5 304.3,529.9 304.6,520.2 304.8,623.9 305,468.9 305.2,524.2 305.4,520 305.6,488.1 305.8,554.9 306,483.9 306.2,459 306.4,511.4 306.6,558.4 306.8,504.7 307,558.7 307.2,547.3 307.4,594.8 307.6,507.1 307.8,502.6 308.1,582.5 308.3,536.3 308.5,534.5 308.7,503.1 308.9,523.9 309.1,535.8 309.3,546 309.5,531 309.7,543.8 309.9,499.1 310.1,599.8 310.3,542.9 310.5,539.3 310.7,540.5 310.9,488.9 311.1,610.1 311.3,516.3 311.6,539.4 311.8,465.2 312,512.6 312.2,511.1 312.4,529.4 312.6,528.1 312.8,517.3 313,537.3 313.2,529.9 313.4,553.3 313.6,555.8 313.8,494.4 314,459 314.2,522.7 314.4,504.5 314.6,517 314.9,502.5 315.1,549.5 315.3,565.7 315.5,533.6 315.7,530.3 315.9,562.8 316.1,536.5 316.3,534.2 316.5,553.2 316.7,527.2 316.9,537.9 317.1,520.9 317.3,531.2 317.5,510.8 317.7,557.7 317.9,559.2 318.1,470.6 318.4,500.1 318.6,534.3 318.8,538.9 319,540.9 319.2,495.3 319.4,554.7 319.6,508.7 319.8,522.5 320,546.8 320.2,589.2 320.4,559.4 320.6,520.9 320.8,534.1 321,539.3 321.2,584.1 321.4,534.8 321.6,640 321.9,572.4 322.1,534.7 322.3,510.7 322.5,530.5 322.7,567.2 322.9,491.6 323.1,535.5 323.3,530.2 323.5,580.1 323.7,556.7 323.9,563.9 324.1,494.2 324.3,524.9 324.5,570.1 324.7,612.2 324.9,523.9 325.1,537.3 325.4,550.1 325.6,541.4 325.8,537.8 326,564.7 326.2,587 326.4,559.1 326.6,524.4 326.8,470.5 327,507.5 327.2,517.9 327.4,540.9 327.6,536.6 327.8,514.7 328,573.3 328.2,550.1 328.4,512.9 328.7,532.3 328.9,574.2 329.1,598.1 329.3,580.8 329.5,640 329.7,555.9 329.9,543.1 330.1,585.3 330.3,534.2 330.5,560.3 330.7,529.3 330.9,502.3 331.1,534.7 331.3,531.8 331.5,575.8 331.7,573.3 331.9,499.6 332.2,525.7 332.4,531.5 332.6,523.7 332.8,514.6 333,571.3 333.2,554.5 333.4,575.8 333.6,529.4 333.8,537.9 334,515.7 334.2,521 334.4,520 334.6,572.9 334.8,549.7 335,510.2 335.2,524.1 335.4,567.2 335.7,553.3 335.9,551.6 336.1,555.4 336.3,533.5 336.5,560.8 336.7,545.8 336.9,609.7 337.1,565 337.3,486.4 337.5,548.5 337.7,558.2 337.9,566.9 338.1,529.6 338.3,613 338.5,506.7 338.7,552 338.9,577.8 339.2,563.3 339.4,546 339.6,569.5 339.8,571.6 340,488 340.2,564.1 340.4,496.1 340.6,501.7 340.8,573.5 341,521.7 341.2,519.1 341.4,534.6 341.6,546.7 341.8,545.7 342,640 342.2,553.8 342.4,505.7 342.7,592.7 342.9,590.2 343.1,521.6 343.3,551 343.5,525.5 343.7,520 343.9,526.8 344.1,525.5 344.3,547.8 344.5,511.2 344.7,511.7 344.9,517.4 345.1,510.3 345.3,537.9 345.5,503.5 345.7,501.9 346,535.6 346.2,522.7 346.4,556 346.6,528.1 346.8,486.8 347,530.3 347.2,545.5 347.4,531.8 347.6,507.7 347.8,459 348,488.6 348.2,536.8 348.4,518.6 348.6,589 348.8,524 349,473.8 349.2,520 349.5,500.6 349.7,534.7 349.9,534.4 350.1,543.4 350.3,534.4 350.5,517.6 350.7,557.9 350.9,543.8 351.1,514.9 351.3,557.5 351.5,561.1 351.7,505 351.9,530.6 352.1,515.3 352.3,553.2 352.5,559.8 352.7,558.2 353,473.8 353.2,481.8 353.4,491.6 353.6,495.2 353.8,540.7 354,563 354.2,580.8 354.4,534.1 354.6,511.3 354.8,518.4 355,482.6 355.2,555.6 355.4,533.3 355.6,553.8 355.8,551 356,559.3 356.2,555.4 356.5,546.5 356.7,519.3 356.9,546.7 357.1,566.1 357.3,564.4 357.5,512.8 357.7,539.1 357.9,526.5 358.1,531.6 358.3,498.4 358.5,506.1 358.7,540 358.9,492.9 359.1,514.4 359.3,534.7 359.5,526.2 359.8,556.4 360,526.4 360.2,526.4 360.4,507.2 360.6,547.8 360.8,551.9 361,542.9 361.2,546.1 361.4,494.8 361.6,500 361.8,583.8 362,558.8 362.2,558.7 362.4,588.6 362.6,578.5 362.8,559.2 363,561.7 363.3,504.3 363.5,538.4 363.7,533.6 363.9,528.1 364.1,514 364.3,525.7 364.5,545.2 364.7,500.3 364.9,563.6 365.1,489.6 365.3,535 365.5,466.8 365.7,480.6 365.9,572.3 366.1,555.2 366.3,547 366.5,540.5 366.8,502.2 367,506.5 367.2,569.7 367.4,459 367.6,512.3 367.8,529 368,520.8 368.2,510.7 368.4,529.7 368.6,539 368.8,549.8 369,494 369.2,540.3 369.4,525.1 369.6,534.2 369.8,557.1 370,527.8 370.3,533.4 370.5,560.8 370.7,526.1 370.9,509.7 371.1,509.8 371.3,553.7 371.5,523 371.7,587.3 371.9,555.1 372.1,554.7 372.3,561.9 372.5,532.4 372.7,542.3 372.9,547.9 373.1,531.3 373.3,494.8 373.5,538.3 373.8,493.8 374,519.9 374.2,534.3 374.4,534.1 374.6,468.6 374.8,522.5 375,547.8 375.2,640 375.4,535.1 375.6,640 375.8,557.9 376,559.5 376.2,473.3 376.4,516.9 376.6,557.8 376.8,587.8 377.1,573.3 377.3,550.4 377.5,565 377.7,459 377.9,514 378.1,522.8 378.3,548 378.5,561.2 378.7,512.2 378.9,528.6 379.1,555.9 379.3,518.7 379.5,496.2 379.7,479.1 379.9,514.5 380.1,508.4 380.3,526.5 380.6,510.7 380.8,519.1 381,514 381.2,558.3 381.4,583 381.6,580.6 381.8,557.8 382,550.6 382.2,544.3 382.4,551.7 382.6,515.5 382.8,500.9 383,603.2 383.2,520.4 383.4,516 383.6,508.5 383.8,516.4 384.1,640 384.3,501.1 384.5,593.4 384.7,581.3 384.9,540.8 385.1,534.7 385.3,523.5 385.5,596.8 385.7,500.3 385.9,568.9 386.1,535.8 386.3,515.5 386.5,517.7 386.7,556.7 386.9,617 387.1,568.3 387.3,640 387.6,532.6 387.8,522.1 388,524 388.2,528.4 388.4,534.7 388.6,499.9 388.8,553.5 389,536.7 389.2,532.4 389.4,531.4 389.6,519.7 389.8,561.2 390,541.4 390.2,601.3 390.4,524.6 390.6,514.1 390.8,521.4 391.1,640 391.3,564.1 391.5,512.2 391.7,566.3 391.9,528.3 392.1,572 392.3,545.1 392.5,547.6 392.7,524.6 392.9,536.9 393.1,566.8 393.3,549.5 393.5,550.8 393.7,534.3 393.9,558.1 394.1,563.9 394.4,534.2 394.6,616.3 394.8,574.3 395,508.6 395.2,529.6 395.4,516.5 395.6,588.5 395.8,541.7 396,515.3 396.2,546.8 396.4,548.2 396.6,525.9 396.8,502.2 397,500.9 397.2,502.4 397.4,542 397.6,560.6 397.9,500.3 398.1,620.4 398.3,559.7 398.5,545.4 398.7,546.3 398.9,595.7 399.1,523.2 399.3,520.5 399.5,459 399.7,515.7 399.9,550.4 400.1,576.8 400.3,547 400.5,523.6 400.7,539 400.9,546.1 401.1,555.2 401.4,533.3 401.6,589.9 401.8,530.3 402,511.2 402.2,490 402.4,526.1 402.6,547.3 402.8,459 403,484.2 403.2,517.9 403.4,579.9 403.6,535.7 403.8,460.5 404,559.1 404.2,485.4 404.4,560 404.6,521.2 404.9,538.6 405.1,557.8 405.3,534 405.5,551.3 405.7,525.5 405.9,557 406.1,525.2 406.3,558.4 406.5,566.2 406.7,520.7 406.9,547.1 407.1,545.2 407.3,556.5 407.5,575.4 407.7,538.9 407.9,557.2 408.2,514.6 408.4,496.5 408.6,512.8 408.8,549.6 409,553.5 409.2,501.8 409.4,539.2 409.6,536.9 409.8,613.6 410,556.7 410.2,459 410.4,560.1 410.6,532.5 410.8,551.5 411,540.2 411.2,565.8 411.4,512.8 411.7,517.5 411.9,536.6 412.1,568.7 412.3,581.7 412.5,563.8 412.7,547.3 412.9,562 413.1,535.5 413.3,506.8 413.5,569.9 413.7,571.3 413.9,507.6 414.1,511.6 414.3,495 414.5,528.5 414.7,527.7 414.9,511.8 415.2,508.1 415.4,485.8 415.6,570.5 415.8,575.9 416,556.4 416.2,548.5 416.4,473 416.6,567.7 416.8,514.2 417,509.7 417.2,526.3 417.4,508.3 417.6,545.6 417.8,531.8 418,483.2 418.2,498.7 418.4,529.2 418.7,531.1 418.9,572.7 419.1,577.7 419.3,524.2 419.5,528.6 419.7,531.6 419.9,575.9 420.1,491.6 420.3,576.4 420.5,459 420.7,521.3 420.9,555.3 421.1,500.3 421.3,466.9 421.5,494.3 421.7,586.2 421.9,537.5 422.2,532.7 422.4,527 422.6,525.7 422.8,544.8 423,542.7 423.2,526.2 423.4,584.5 423.6,534.7 423.8,613.4 424,555.1 424.2,500.7 424.4,491 424.6,478 424.8,501.7 425,498.4 425.2,528.1 425.5,558.7 425.7,542.2 425.9,518 426.1,541.7 426.3,539.8 426.5,621.5 426.7,541.9 426.9,527.3 427.1,555.4 427.3,519 427.5,540.9 427.7,546.2 427.9,462.3 428.1,531.3 428.3,525.7 428.5,506.9 428.7,602.5 429,541.6 429.2,503.9 429.4,531.2 429.6,574 429.8,534.2 430,582.9 430.2,539.3 430.4,560.8 430.6,622.8 430.8,536.6 431,547 431.2,504.6 431.4,596.6 431.6,499.5 431.8,551.9 432,527.7 432.2,475.2 432.5,548.5 432.7,513.8 432.9,501.5 433.1,640 433.3,516.2 433.5,534 433.7,493.7 433.9,483.8 434.1,546.4 434.3,545.6 434.5,529 434.7,520.6 434.9,518.7 435.1,495 435.3,520.8 435.5,547.7 435.7,640 436,504 436.2,547.8 436.4,539 436.6,527.1 436.8,526.6 437,577.6 437.2,493.3 437.4,588.7 437.6,541.4 437.8,504.7 438,515.7 438.2,547.9 438.4,569.5 438.6,511 438.8,526.3 439,558.3 439.3,565.8 439.5,538.7 439.7,486.6 439.9,612.7 440.1,474.2 440.3,567.4 440.5,561.5 440.7,495.8 440.9,518.1 441.1,533.4 441.3,510.5 441.5,546.2 441.7,494.9 441.9,499.3 442.1,551.6 442.3,535.4 442.5,495.5 442.8,508.7 443,567.8 443.2,563.1 443.4,512.6 443.6,541.7 443.8,531 444,519.7 444.2,521.8 444.4,593.9 444.6,544.9 444.8,528.5 445,541.4 445.2,569.2 445.4,556.5 445.6,495.2 445.8,613.7 446,559.6 446.3,540.6 446.5,550.9 446.7,565 446.9,526.6 447.1,528.4 447.3,557.9 447.5,547.7 447.7,558.3 447.9,553.3 448.1,630.7 448.3,523.1 448.5,545.2 448.7,558.4 448.9,515.7 449.1,554.7 449.3,491 449.5,531.5 449.8,533.2 450,459 450.2,512.4 450.4,511.7 450.6,554.8 450.8,523.5 451,530.2 451.2,533.4 451.4,545.4 451.6,548.7 451.8,553.9 452,564.3 452.2,537.1 452.4,542.6 452.6,503.2 452.8,532.8 453,518.5 453.3,640 453.5,640 453.7,577.5 453.9,553.6 454.1,640 454.3,525.7 454.5,622.4 454.7,525.6 454.9,470.4 455.1,528.6 455.3,507.8 455.5,529.7 455.7,543.8 455.9,498.9 456.1,534.4 456.3,510 456.6,507.8 456.8,535.6 457,568.7 457.2,530.8 457.4,546.2 457.6,530.7 457.8,459 458,539.2 458.2,574.9 458.4,592 458.6,524.9 458.8,512.7 459,526.6 459.2,553.6 459.4,546.9 459.6,555.9 459.8,625.3 460.1,630.4 460.3,537.6 460.5,568.3 460.7,550.1 460.9,491.8 461.1,570.5 461.3,543.2 461.5,536.3 461.7,532.3 461.9,585.9 462.1,637.7 462.3,546.6 462.5,505.1 462.7,533.8 462.9,522.3 463.1,585.2 463.3,529.8 463.6,544.1 463.8,567.3 464,597.6 464.2,614.2 464.4,586.9 464.6,483.7 464.8,609.7 465,594.5 465.2,530.9 465.4,465.6 465.6,576 465.8,560.6 466,550.1 466.2,503.5 466.4,477.9 466.6,545.2 466.8,519 467.1,598.4 467.3,552.7 467.5,523.5 467.7,459 467.9,528.6 468.1,558.9 468.3,572.4 468.5,530 468.7,592.7 468.9,579.9 469.1,528.5 469.3,553.2 469.5,512.3 469.7,549.1 469.9,518.4 470.1,640 470.4,505.9 470.6,579.9 470.8,541.4 471,526.8 471.2,546.9 471.4,524.5 471.6,481.8 471.8,543.6 472,506.2 472.2,491.8 472.4,461.9 472.6,534.9 472.8,557.7 473,518.4 473.2,471.8 473.4,583.9 473.6,518.2 473.9,558.8 474.1,538.3 474.3,609.2 474.5,523.6 474.7,524.8 474.9,509.2 475.1,543.3 475.3,544.5 475.5,481.5 475.7,562.2 475.9,491.3 476.1,494.9 476.3,512.4 476.5,461.7 476.7,562.1 476.9,640 477.1,502.5 477.4,516.1 477.6,523.1 477.8,554.3 478,542.8 478.2,553.2 478.4,517 478.6,500.7 478.8,583 479,543.8 479.2,549.4 479.4,582.5 479.6,633.1 479.8,567.3 480,554 480.2,509 480.4,565.9 480.6,518 480.9,544.6 481.1,615 481.3,577.3 481.5,542.1 481.7,551.4 481.9,541.9 482.1,537.7 482.3,580.3 482.5,566.9 482.7,528.6 482.9,551.6 483.1,594.3 483.3,551.3 483.5,520 483.7,508.8 483.9,548.7 484.1,540.2 484.4,561.1 484.6,522.1 484.8,539.2 485,538.4 485.2,566 485.4,508.6 485.6,563.8 485.8,522 486,540.2 486.2,527.2 486.4,504.5 486.6,529.9 486.8,545.9 487,517.5 487.2,514.6 487.4,543.5 487.7,523.5 487.9,508 488.1,552 488.3,472.3 488.5,526.9 488.7,537.8 488.9,576.9 489.1,500.7 489.3,485.7 489.5,494.9 489.7,503.7 489.9,549.5 490.1,546 490.3,502.2 490.5,511.1 490.7,528.9 490.9,516.9 491.2,510.2 491.4,551.6 491.6,587.3 491.8,555.7 492,525.5 492.2,533.8 492.4,518.4 492.6,551.4 492.8,514.5 493,494 493.2,542.1 493.4,546.7 493.6,571.3 493.8,526.1 494,572.7 494.2,541.3 494.4,543.3 494.7,553.6 494.9,551.7 495.1,527.7 495.3,506.4 495.5,559.1 495.7,547.1 495.9,550.4 496.1,534.4 496.3,518 496.5,528.9 496.7,544.8 496.9,537.4 497.1,521.9 497.3,554.7 497.5,554.1 497.7,522.3 497.9,548.5 498.2,532.7 498.4,517.8 498.6,556.6 498.8,516.5 499,514.5 499.2,509 499.4,583.1 499.6,518.6 499.8,513.7 500,581.9 500.2,566.8 500.4,578.1 500.6,529.9 500.8,515.9 501,529.3 501.2,564.5 501.5,548.2 501.7,544.5 501.9,532.4 502.1,518.7 502.3,487.6 502.5,489.9 502.7,528.1 502.9,478.1 503.1,482 503.3,512.4 503.5,539.1 503.7,542.6 503.9,481.7 504.1,511.9 504.3,540.2 504.5,612 504.7,528.8 505,527 505.2,562.4 505.4,539.8 505.6,536.4 505.8,552 506,531.9 506.2,532.7 506.4,533.8 506.6,526.8 506.8,556.8 507,545 507.2,540.3 507.4,489.4 507.6,535.8 507.8,557.1 508,527.7 508.2,520.3 508.5,504.4 508.7,520.7 508.9,510.7 509.1,546.2 509.3,537.7 509.5,522.9 509.7,537.6 509.9,562.3 510.1,515 510.3,520.6 510.5,545 510.7,494.8 510.9,547 511.1,506.2 511.3,536.1 511.5,506.5 511.7,510.7 512,524.7 512.2,516 512.4,524.5 512.6,640 512.8,526.1 513,529.2 513.2,527.8 513.4,516.7 513.6,524.6 513.8,544.5 514,574.4 514.2,523.4 514.4,521.6 514.6,526.4 514.8,532.2 515,546 515.2,544.3 515.5,526.3 515.7,526 515.9,547.1 516.1,534.4 516.3,518.9 516.5,544.8 516.7,516.1 516.9,535.5 517.1,526.9 517.3,525.5 517.5,539.2 517.7,531.4 517.9,509.5 518.1,520.9 518.3,509.4 518.5,528 518.8,530.2 519,530.4 519.2,516.7 519.4,540.4 519.6,540.1 519.8,522.4 520,537.8 520.2,543.8 520.4,542.7 520.6,576.2 520.8,534.6 521,488.9 521.2,535.8 521.4,482.6 521.6,543.2 521.8,580.1 522,520.6 522.3,528.9 522.5,554.6 522.7,499.5 522.9,535.4 523.1,523.7 523.3,532 523.5,562.9 523.7,555.2 523.9,539.6 524.1,556.1 524.3,539.3 524.5,539.2 524.7,543.6 524.9,547.9 525.1,539.9 525.3,537.7 525.5,567 525.8,539.1 526,543.1 526.2,510.7 526.4,537.2 526.6,537 526.8,536.4 527,539.5 527.2,526.4 527.4,554.1 527.6,508.3 527.8,522.5 528,501.4 528.2,528.9 528.4,536.6 528.6,526.9 528.8,532.5 529,495.1 529.3,522.3 529.5,525.4 529.7,524.2 529.9,531.9 530.1,531.8 530.3,555.5 530.5,559.4 530.7,515.8 530.9,521.8 531.1,530.8 531.3,516.4 531.5,519.9 531.7,537.1 531.9,563.8 532.1,545 532.3,536.7 532.6,541.2 532.8,555.1 533,566.9 533.2,544.6 533.4,531.7 533.6,522 533.8,530.7 534,501.1 534.2,537.1 534.4,530 534.6,507.3 534.8,496.2 535,497.4 535.2,513.6 535.4,523.1 535.6,498.7 535.8,574 536.1,516.8 536.3,542.5 536.5,520.2 536.7,515.3 536.9,551.2 537.1,540.8 537.3,505.1 537.5,493.2 537.7,527.8 537.9,544.6 538.1,533.4 538.3,525.1 538.5,513.9 538.7,527.3 538.9,543.3 539.1,533.2 539.3,531 539.6,523.7 539.8,503.2 540,539.2 540.2,551.8 540.4,545.3 540.6,549.9 540.8,527.4 541,545.2 541.2,538.7 541.4,534 541.6,539.5 541.8,531.2 542,534.6 542.2,502.1 542.4,576.2 542.6,539.5 542.8,526.4 543.1,528.6 543.3,535.4 543.5,512.9 543.7,526.8 543.9,523.7 544.1,507.2 544.3,553.9 544.5,532.9 544.7,542.1 544.9,543.7 545.1,516.8 545.3,489.9 545.5,506.1 545.7,523.3 545.9,526.5 546.1,490.6 546.3,526.1 546.6,535.6 546.8,522.2 547,514.5 547.2,533.5 547.4,546.3 547.6,543.2 547.8,536.6 548,523.3 548.2,535.2 548.4,558.7 548.6,521.5 548.8,514 549,545.5 549.2,549.1 549.4,526 549.6,553 549.9,537.8 550.1,549.7 550.3,540 550.5,560.6 550.7,522.7 550.9,522.6 551.1,537.8 551.3,531.9 551.5,518.4 551.7,580.9 551.9,550 552.1,537.7 552.3,538.6 552.5,543.7 552.7,542.1 552.9,546.5 553.1,559.4 553.4,557.9 553.6,534.7 553.8,540.1 554,563.2 554.2,542 554.4,549.1 554.6,542.6 554.8,536.2 555,534.2 555.2,549.8 555.4,539.4 555.6,542.5 555.8,535.4 556,534.2 556.2,533.9 556.4,517.7 556.6,509.9 556.9,521.6 557.1,538.4 557.3,555.1 557.5,528.1 557.7,585.7 557.9,536.5 558.1,538.6 558.3,543.1 558.5,528.6 558.7,542.4 558.9,551.9 559.1,518 559.3,571.6 559.5,535.5 559.7,537 559.9,535.4 560.1,548.1 560.4,571.8 560.6,542.5 560.8,557.5 561,520.7 561.2,525.1 561.4,539.8 561.6,521 561.8,544.5 562,547.7 562.2,555.8 562.4,545.7 562.6,535 562.8,516.1 563,533.9 563.2,555.1 563.4,531.8 563.7,555.7 563.9,536.2 564.1,529.9 564.3,540.1 564.5,549.7 564.7,512.8 564.9,541.4 565.1,546.5 565.3,538.4 565.5,543.9"/>
<path class="r B" d="M638.1,549.7 638.3,570.9 638.5,516.6 638.7,529.6 638.9,536.9 639.1,524.8 639.3,527.9 639.5,545.1 639.7,527.5 639.9,529.7 640.1,537.8 640.3,525.7 640.5,520.2 640.7,544.9 640.9,556.6 641.1,565.6 641.3,536.6 641.5,554.7 641.7,550.5 641.9,555.5 642.1,534.7 642.3,532.6 642.5,527.2 642.7,523.6 642.9,497.7 643.1,525.8 643.3,500.7 643.4,524.2 643.6,589.8 643.8,529.8 644,547.7 644.2,551.2 644.4,543.5 644.6,503.6 644.8,525.3 645,574.8 645.2,563.3 645.4,525.2 645.6,519.2 645.8,501.4 646,526.2 646.2,629.6 646.4,541.5 646.6,545.3 646.8,606.5 647,554.2 647.2,542 647.4,521.8 647.6,623.1 647.8,529.1 648,521.5 648.2,551 648.4,538.4 648.6,503.8 648.8,527.5 649,518.2 649.1,555.3 649.3,502.5 649.5,536.4 649.7,537.1 649.9,514.8 650.1,530.3 650.3,512.3 650.5,511.5 650.7,547.2 650.9,540.9 651.1,521.8 651.3,548.4 651.5,556.6 651.7,537.7 651.9,528.5 652.1,549.8 652.3,524.1 652.5,550.2 652.7,548.6 652.9,524.3 653.1,531.8 653.3,532.6 653.5,520.3 653.7,510.5 653.9,548.6 654.1,565.5 654.3,543.3 654.5,526.9 654.7,524.3 654.8,532.6 655,544.2 655.2,560.4 655.4,545.7 655.6,557.6 655.8,516.8 656,545.1 656.2,555.2 656.4,535.8 656.6,548.3 656.8,571.8 657,545.3 657.2,569.7 657.4,559 657.6,570.9 657.8,550.7 658,640 658.2,550.9 658.4,529.5 658.6,538 658.8,539.4 659,503.8 659.2,534.1 659.4,537.3 659.6,543 659.8,553.9 660,570.4 660.2,536.6 660.4,539 660.5,540.8 660.7,536.3 660.9,546.9 661.1,548.4 661.3,529 661.5,542.8 661.7,530.7 661.9,559.8 662.1,601.7 662.3,533.8 662.5,517.2 662.7,508.9 662.9,522.2 663.1,521.9 663.3,502.7 663.5,508.7 663.7,552 663.9,551 664.1,532.4 664.3,535.3 664.5,545.1 664.7,517.9 664.9,542.8 665.1,543.8 665.3,532.7 665.5,532.1 665.7,529.6 665.9,555 666.1,565.2 666.2,568 666.4,543.4 666.6,507 666.8,532.3 667,555.2 667.2,558.6 667.4,548.3 667.6,527.5 667.8,535.8 668,527.5 668.2,535 668.4,545.4 668.6,519.9 668.8,525.1 669,566 669.2,564.5 669.4,521.3 669.6,537.4 669.8,544.9 670,544.9 670.2,538.4 670.4,558.1 670.6,540.4 670.8,538.1 671,550.7 671.2,552.1 671.4,532.8 671.6,508.4 671.7,503.2 671.9,535.2 672.1,538.9 672.3,533.5 672.5,539.6 672.7,530.2 672.9,511.1 673.1,515.4 673.3,523.2 673.5,514.7 673.7,528.9 673.9,524.8 674.1,532.4 674.3,532 674.5,565.9 674.7,552.1 674.9,580.4 675.1,539.4 675.3,558.8 675.5,569.2 675.7,533.2 675.9,540.4 676.1,535.3 676.3,535 676.5,547.7 676.7,539.6 676.9,554 677.1,577.2 677.3,546.4 677.4,512.1 677.6,551.8 677.8,514.6 678,532.5 678.2,580.3 678.4,558.3 678.6,554.6 678.8,540.9 679,546.7 679.2,537.9 679.4,549.5 679.6,540.2 679.8,556.1 680,556.7 680.2,538.6 680.4,519.6 680.6,528.6 680.8,544.6 681,528.6 681.2,588.1 681.4,543.9 681.6,527 681.8,556 682,542.7 682.2,569.5 682.4,549.9 682.6,547.2 682.8,543.3 683,521.2 683.1,536.3 683.3,578.3 683.5,551.2 683.7,546.7 683.9,564.9 684.1,514.5 684.3,528.8 684.5,511.3 684.7,509.5 684.9,524.1 685.1,543.2 685.3,558.9 685.5,520.5 685.7,554.3 685.9,566.3 686.1,531.3 686.3,495.1 686.5,536.1 686.7,526.7 686.9,536.9 687.1,507.4 687.3,532.4 687.5,540.9 687.7,558.5 687.9,543.8 688.1,539.5 688.3,545.5 688.5,519.6 688.7,498.9 688.8,534.9 689,539 689.2,560.6 689.4,569.9 689.6,544.3 689.8,531.8 690,528.3 690.2,561.6 690.4,536.8 690.6,514.2 690.8,517.3 691,531.5 691.2,608.8 691.4,506.5 691.6,531 691.8,494.6 692,514.4 692.2,513.8 692.4,527.2 692.6,539.8 692.8,529 693,561.4 693.2,517.1 693.4,526.6 693.6,547 693.8,529.1 694,546.6 694.2,518 694.4,536.3 694.5,532.5 694.7,530.3 694.9,509.1 695.1,513.3 695.3,541.4 695.5,559.7 695.7,528.1 695.9,552.9 696.1,524.8 696.3,510.2 696.5,520.3 696.7,527.7 696.9,523.2 697.1,499.9 697.3,507.6 697.5,541 697.7,548.5 697.9,515.8 698.1,545.2 698.3,542.8 698.5,553.9 698.7,570.2 698.9,554.4 699.1,547.8 699.3,543.4 699.5,546.8 699.7,534.1 699.9,528.1 700.1,553.3 700.2,520.9 700.4,516.5 700.6,525.4 700.8,527.2 701,512.6 701.2,517.9 701.4,545.2 701.6,566.1 701.8,535 702,529.4 702.2,552.5 702.4,507.7 702.6,526.8 702.8,530.2 703,512.9 703.2,517.9 703.4,526.8 703.6,548.2 703.8,526.9 704,507.5 704.2,565.9 704.4,530.5 704.6,531.9 704.8,519.8 705,518.8 705.2,536.7 705.4,537 705.6,547.6 705.7,554.5 705.9,549.8 706.1,506.3 706.3,515.5 706.5,531.7 706.7,547.3 706.9,537.9 707.1,526.6 707.3,514.2 707.5,532.7 707.7,533.3 707.9,537.3 708.1,531.6 708.3,516.8 708.5,526.8 708.7,540.2 708.9,512.4 709.1,525.3 709.3,522.2 709.5,500.9 709.7,529.4 709.9,517.2 710.1,536.1 710.3,519.4 710.5,529.7 710.7,532.3 710.9,529.5 711.1,532.4 711.3,551.6 711.4,531 711.6,518.1 711.8,522.6 712,514.3 712.2,536.3 712.4,526 712.6,540.2 712.8,550 713,521.8 713.2,519.4 713.4,510.4 713.6,521.8 713.8,535 714,544.1 714.2,546.8 714.4,524.9 714.6,526.6 714.8,526.1 715,540.7 715.2,534.2 715.4,531.3 715.6,544.5 715.8,554.3 716,552.9 716.2,534.5 716.4,547.3 716.6,558.3 716.8,640 717,595.1 717.1,605 717.3,603.6 717.5,555.1 717.7,562.6 717.9,568 718.1,546 718.3,551.1 718.5,536.8 718.7,522.8 718.9,539 719.1,520.2 719.3,508.9 719.5,541.1 719.7,574.3 719.9,542 720.1,540 720.3,525 720.5,536.9 720.7,555.6 720.9,514.4 721.1,535.6 721.3,535.6 721.5,543 721.7,560.9 721.9,551.9 722.1,533.9 722.3,538.7 722.5,564.9 722.7,536.3 722.8,527.7 723,525.3 723.2,554.2 723.4,533.3 723.6,523.5 723.8,528.8 724,591.6 724.2,568.2 724.4,553.3 724.6,554.4 724.8,544.9 725,527.9 725.2,563.3 725.4,511 725.6,518.4 725.8,506.2 726,546.3 726.2,523.5 726.4,554.9 726.6,531.8 726.8,535.3 727,527.5 727.2,503.8 727.4,515.5 727.6,527.9 727.8,529.5 728,529 728.2,534.1 728.4,540 728.5,525.7 728.7,509.6 728.9,534.9 729.1,544.6 729.3,522.6 729.5,528.2 729.7,531.5 729.9,529 730.1,521.2 730.3,533 730.5,538.5 730.7,529.3 730.9,516.4 731.1,521.1 731.3,510.8 731.5,556.8 731.7,514.1 731.9,524.6 732.1,534 732.3,540.4 732.5,525.8 732.7,533.3 732.9,515.1 733.1,516.4 733.3,522.1 733.5,531.2 733.7,540.4 733.9,528.4 734.1,538.7 734.2,591.6 734.4,526.3 734.6,530.4 734.8,539.6 735,515.5 735.2,551.6 735.4,525.4 735.6,524.1 735.8,520.5 736,542.1 736.2,510.4 736.4,514.1 736.6,570.8 736.8,547.6 737,536.8 737.2,528.6 737.4,513 737.6,537.5 737.8,542.5 738,559.5 738.2,515.1 738.4,517.8 738.6,523.6 738.8,531.3 739,549.2 739.2,542.1 739.4,530.9 739.6,543.7 739.7,528 739.9,516.2 740.1,511.8 740.3,549.7 740.5,519.1 740.7,507.6 740.9,534.3 741.1,548.9 741.3,573.8 741.5,557.3 741.7,531.8 741.9,536 742.1,524.1 742.3,514.9 742.5,541.4 742.7,518.9 742.9,533.8 743.1,531 743.3,538.8 743.5,528.4 743.7,535.6 743.9,545.1 744.1,598.7 744.3,522.5 744.5,517.3 744.7,548.5 744.9,546.5 745.1,585.6 745.3,531.8 745.4,516.6 745.6,520.6 745.8,550.4 746,556.2 746.2,532.8 746.4,519.4 746.6,510.6 746.8,530 747,517 747.2,536.9 747.4,548 747.6,497.4 747.8,516.4 748,531 748.2,546.1 748.4,560.1 748.6,558.8 748.8,555.1 749,519.6 749.2,587.2 749.4,539.1 749.6,545.1 749.8,548.2 750,584.5 750.2,542.3 750.4,507.1 750.6,523.4 750.8,559.5 751,553.3 751.1,544.6 751.3,549 751.5,534.1 751.7,546.7 751.9,542.8 752.1,538 752.3,535.8 752.5,550.6 752.7,576.7 752.9,600.1 753.1,552.3 753.3,601.9 753.5,521.7 753.7,501.4 753.9,536.3 754.1,530.5 754.3,535.2 754.5,521.9 754.7,510.5 754.9,496.3 755.1,522.8 755.3,513.1 755.5,515.8 755.7,513.7 755.9,529 756.1,534 756.3,530.4 756.5,543.1 756.7,515.9 756.8,519.2 757,536.5 757.2,554.7 757.4,539.2 757.6,538 757.8,546.1 758,534.1 758.2,532 758.4,516.1 758.6,503.5 758.8,497.8 759,520.4 759.2,543.1 759.4,542 759.6,509.5 759.8,497.8 760,509.9 760.2,536.5 760.4,516.8 760.6,525.5 760.8,555 761,550.1 761.2,557.3 761.4,540.9 761.6,532.9 761.8,546.1 762,557.1 762.2,527.8 762.4,555.8 762.5,552.6 762.7,547.7 762.9,526 763.1,521.3 763.3,519 763.5,521 763.7,550.2 763.9,546.6 764.1,530.9 764.3,575.4 764.5,528.1 764.7,548.5 764.9,562.2 765.1,526.1 765.3,519.5 765.5,524.5 765.7,526.1 765.9,520.6 766.1,539.4 766.3,526.2 766.5,518.9 766.7,511.7 766.9,557.6 767.1,553.1 767.3,562.3 767.5,571.5 767.7,554.9 767.9,525.5 768.1,491.9 768.2,524.9 768.4,512.1 768.6,522.8 768.8,538.2 769,561.9 769.2,542.9 769.4,511.6 769.6,539.2 769.8,533.4 770,491.3 770.2,539.4 770.4,540.6 770.6,532.8 770.8,553.8 771,544.3 771.2,528 771.4,548.1 771.6,537.8 771.8,557 772,572.6 772.2,608.5 772.4,517.3 772.6,508.6 772.8,593.3 773,527.9 773.2,519.5 773.4,569.9 773.6,530.2 773.7,528 773.9,537.4 774.1,513.9 774.3,531.4 774.5,535.3 774.7,535.1 774.9,546.7 775.1,584.8 775.3,540.4 775.5,522.3 775.7,532.5 775.9,534.5 776.1,546.4 776.3,570.2 776.5,560.2 776.7,560.5 776.9,560.9 777.1,543.2 777.3,519 777.5,523.6 777.7,523.8 777.9,508.2 778.1,587.5 778.3,544.3 778.5,543.9 778.7,544.6 778.9,535.4 779.1,535.6 779.3,533.8 779.4,495.8 779.6,520.2 779.8,533.7 780,540.9 780.2,553 780.4,545.4 780.6,536.2 780.8,518.5 781,532.7 781.2,534.6 781.4,540.4 781.6,541 781.8,555.7 782,526.9 782.2,514.5 782.4,544.3 782.6,575.5 782.8,521.6 783,516.9 783.2,531.5 783.4,521.4 783.6,567.6 783.8,550 784,553.1 784.2,583.1 784.4,575.4 784.6,521.1 784.8,491.7 785,526.3 785.1,536.7 785.3,545.8 785.5,546.1 785.7,547.9 785.9,519.8 786.1,525 786.3,522.6 786.5,545.4 786.7,561.3 786.9,524.2 787.1,534.5 787.3,520.8 787.5,549.7 787.7,532.7 787.9,537.1 788.1,516 788.3,536.4 788.5,527.9 788.7,523.1 788.9,513.6 789.1,537.6 789.3,547.7 789.5,526.7 789.7,563.2 789.9,549 790.1,512.9 790.3,528.4 790.5,518.8 790.7,488 790.8,524.8 791,494.5 791.2,501.3 791.4,481.8 791.6,536.3 791.8,544.1 792,515.3 792.2,512.7 792.4,516.3 792.6,547.7 792.8,518.7 793,506.7 793.2,526.7 793.4,554.1 793.6,531.3 793.8,515.7 794,520.9 794.2,553.9 794.4,544.1 794.6,538.1 794.8,526 795,575.2 795.2,530.5 795.4,507.8 795.6,556.7 795.8,536.5 796,507.2 796.2,540.7 796.4,507.9 796.5,524.9 796.7,546.7 796.9,560.5 797.1,541.6 797.3,545.8 797.5,536.3 797.7,533.3 797.9,528.3 798.1,558 798.3,534.6 798.5,534.7 798.7,504.9 798.9,498.4 799.1,494.9 799.3,523.7 799.5,556.6 799.7,548.4 799.9,508.4 800.1,526.7 800.3,543.2 800.5,522.2 800.7,549 800.9,520.6 801.1,523.4 801.3,525.3 801.5,522 801.7,525.9 801.9,529.5 802.1,550.6 802.2,524.9 802.4,560.9 802.6,554.5 802.8,540.2 803,576.8 803.2,537.2 803.4,537.2 803.6,532 803.8,541.8 804,538.2 804.2,551.1 804.4,554.4 804.6,566.2 804.8,569.9 805,521.7 805.2,531.2 805.4,549.4 805.6,532.5 805.8,487.1 806,514.8 806.2,508.8 806.4,559.1 806.6,541 806.8,563.2 807,558 807.2,542 807.4,536.2 807.6,550.1 807.7,514.6 807.9,537.6 808.1,528.7 808.3,520.8 808.5,498.6 808.7,534.9 808.9,553.3 809.1,548.3 809.3,528.1 809.5,535.3 809.7,561.1 809.9,535.5 810.1,573.5 810.3,537.2 810.5,527.6 810.7,528.3 810.9,540.9 811.1,555.5 811.3,544.7 811.5,541 811.7,552 811.9,513 812.1,539.1 812.3,555 812.5,556.7 812.7,533.3 812.9,547.3 813.1,520.3 813.3,546.1 813.4,523.6 813.6,539.1 813.8,517.9 814,565.4 814.2,535.2 814.4,507.7 814.6,542.1 814.8,581.3 815,549.9 815.2,534 815.4,542.3 815.6,525.5 815.8,519.7 816,557.5 816.2,546.3 816.4,571.2 816.6,562.1 816.8,560 817,544.2 817.2,569.8 817.4,559.5 817.6,553.8 817.8,545 818,592.6 818.2,542.5 818.4,537.1 818.6,511.9 818.8,514 819,535.2 819.1,538 819.3,515.7 819.5,542 819.7,596.5 819.9,537.6 820.1,540.2 820.3,582.9 820.5,542.3 820.7,540.1 820.9,550.4 821.1,534.3 821.3,532.5 821.5,524.2 821.7,545.9 821.9,531.4 822.1,503.5 822.3,549.6 822.5,528.6 822.7,512.5 822.9,496.3 823.1,530.6 823.3,514.1 823.5,536.4 823.7,524.7 823.9,508.9 824.1,526.3 824.3,535.1 824.5,526.2 824.7,551.9 824.8,532.5 825,496.1 825.2,524.4 825.4,562.8 825.6,518.8 825.8,530.8 826,502.1 826.2,494.6 826.4,518.8 826.6,509 826.8,530.7 827,492.8 827.2,491.2 827.4,508.7 827.6,516.9 827.8,542.7 828,536.6 828.2,512.9 828.4,522.6 828.6,524.9 828.8,513.3 829,550.4 829.2,527 829.4,549.9 829.6,552 829.8,548.2 830,518.8 830.2,520.7 830.4,535.9 830.5,539.1 830.7,491.9 830.9,525.7 831.1,517.5 831.3,543.1 831.5,523.6 831.7,547.1 831.9,538.5 832.1,539 832.3,543.6 832.5,534.9 832.7,526 832.9,533.3 833.1,506 833.3,532.9 833.5,523.4 833.7,527.3 833.9,552.1 834.1,567.1 834.3,539.9 834.5,541.4 834.7,531.8 834.9,507.5 835.1,514.4 835.3,507 835.5,533.7 835.7,524.1 835.9,518.4 836,616.6 836.2,534.8 836.4,551.4 836.6,573.2 836.8,522.2 837,533.6 837.2,519 837.4,517.2 837.6,557.5 837.8,548.6 838,558 838.2,542.6 838.4,523.9 838.6,534.1 838.8,544.1 839,535 839.2,524.2 839.4,526.5 839.6,526.8 839.8,550.1 840,526.6 840.2,583.2 840.4,530.5 840.6,539.3 840.8,535.8 841,538.9 841.2,528.8 841.4,521.3 841.6,531 841.7,528 841.9,505.8 842.1,533.7 842.3,556.5 842.5,548.5 842.7,542.4 842.9,515.5 843.1,526.9 843.3,533 843.5,542.3 843.7,560.7 843.9,546.1 844.1,524.7 844.3,526.3 844.5,515.5 844.7,545.7 844.9,532.9 845.1,543.4 845.3,541.5 845.5,534.8 845.7,527.9 845.9,525.2 846.1,536.9 846.3,531.5 846.5,526.4 846.7,531.3 846.9,531.8 847.1,542 847.3,532.7 847.4,531.4 847.6,500.7 847.8,519.7 848,551.1 848.2,552.9 848.4,538.6 848.6,530.4 848.8,515 849,531.9 849.2,540.4 849.4,570.1 849.6,535.9 849.8,567 850,546 850.2,522.7 850.4,530.6 850.6,555.4 850.8,552.6 851,530.6 851.2,494.3 851.4,518.9 851.6,577.8 851.8,536.3 852,506.5 852.2,523.2 852.4,547.4 852.6,540.3 852.8,555.3 853,554.6 853.1,519.7 853.3,498.9 853.5,551.7 853.7,549.2 853.9,570 854.1,540 854.3,539.2 854.5,531.7 854.7,543.9 854.9,547.5 855.1,524.6 855.3,535.2 855.5,544.8 855.7,547.6 855.9,544.1 856.1,540.4 856.3,554.4 856.5,581.9 856.7,534.9 856.9,536.7 857.1,521.9 857.3,527.3 857.5,541.5 857.7,522 857.9,511.7 858.1,520.8 858.3,513.6 858.5,519.5 858.7,514.9 858.8,546 859,568.7 859.2,538.7 859.4,507.9 859.6,535.6 859.8,542.4 860,528.1 860.2,519.8 860.4,510.5 860.6,531.5 860.8,537.3 861,526.3 861.2,532.7 861.4,517.6 861.6,513.3 861.8,525.2 862,525.7 862.2,533.8 862.4,547.2 862.6,528.2 862.8,547.2 863,532.5 863.2,533.6 863.4,512.1 863.6,514.5 863.8,521.1 864,518.5 864.2,543.3 864.4,527.3 864.5,544.2 864.7,553.5 864.9,512.1 865.1,519.1 865.3,552.6 865.5,552.5 865.7,574 865.9,521.8 866.1,531.9 866.3,522.9 866.5,515.5 866.7,518.4 866.9,521.1 867.1,530.1 867.3,535.9 867.5,548.8 867.7,508.5 867.9,505.1 868.1,527.9 868.3,530.9 868.5,533.9 868.7,531.4 868.9,531.2 869.1,537.2 869.3,527.5 869.5,523.4 869.7,539.5 869.9,526.2 870,525.1 870.2,515.1 870.4,508.3 870.6,536.8 870.8,532.5 871,497.2 871.2,535.6 871.4,540.8 871.6,531.9 871.8,533.6 872,588 872.2,555.1 872.4,470.8 872.6,525.6 872.8,540.3 873,554 873.2,527.9 873.4,549.9 873.6,546.8 873.8,562.9 874,540.8 874.2,517.6 874.4,558.2 874.6,532.3 874.8,540.7 875,539.4 875.2,507.8 875.4,516.2 875.6,510.4 875.7,519.7 875.9,560.7 876.1,540.8 876.3,542.9 876.5,522.9 876.7,526.5 876.9,526.7 877.1,558.1 877.3,565.4 877.5,545.3 877.7,560.8 877.9,518.4 878.1,524 878.3,515.8 878.5,528 878.7,530.9 878.9,514.3 879.1,540 879.3,533.9 879.5,522.2 879.7,516.9 879.9,537.4 880.1,509.7 880.3,552.7 880.5,524.9 880.7,510.9 880.9,532.4 881.1,533.3 881.3,534.2 881.4,552 881.6,559.5 881.8,541.1 882,530.2 882.2,561 882.4,561.5 882.6,558.2 882.8,601.2 883,526.2 883.2,540.5 883.4,552.7 883.6,568.8 883.8,580.3 884,607.8 884.2,600.6 884.4,563 884.6,583.1 884.8,542 885,545.8 885.2,570.7 885.4,530.8 885.6,542.2 885.8,545.6 886,542.5 886.2,528.5 886.4,530.9 886.6,565.1 886.8,566.3 887,542.8 887.1,549.3 887.3,550.3 887.5,564.4 887.7,553.2 887.9,525.9 888.1,538.9 888.3,540.3 888.5,544.3 888.7,549.1 888.9,515.9 889.1,525.6 889.3,536.5 889.5,528.5 889.7,527.2 889.9,531.7 890.1,538.8 890.3,550.6 890.5,530.5 890.7,536.4 890.9,552.8 891.1,552.4 891.3,525.4 891.5,520.6 891.7,520.8 891.9,536 892.1,503.8 892.3,539.5 892.5,579.5 892.7,570.6 892.8,550.6 893,503.4 893.2,534.6 893.4,530.6 893.6,530.3 893.8,578.7 894,511.4 894.2,559.4 894.4,510.9 894.6,530.4 894.8,584.2 895,566.6 895.2,538.6 895.4,502.6 895.6,528.9 895.8,564.8 896,523.7 896.2,518.4 896.4,567.1 896.6,537.7 896.8,550.5 897,538 897.2,535 897.4,515.7 897.6,512 897.8,538 898,545.6 898.2,512.1 898.4,513.9 898.5,542.9 898.7,563.7 898.9,564.5 899.1,522.4 899.3,581.2 899.5,553.6 899.7,533.2 899.9,535.7 900.1,544.6 900.3,545.9 900.5,536.3 900.7,539.1 900.9,530 901.1,535.5 901.3,534 901.5,531.9 901.7,556.7 901.9,558.8 902.1,526 902.3,533.8 902.5,524.8 902.7,577.5 902.9,537 903.1,563.7 903.3,544.7 903.5,546.1 903.7,533.1 903.9,534.4 904,536.5 904.2,541.3 904.4,532.6 904.6,557.1 904.8,528.3 905,516.6 905.2,551.2 905.4,549.2 905.6,511.5 905.8,528.1 906,556.7 906.2,521.8 906.4,536.7 906.6,566.8 906.8,520.4 907,537.7 907.2,507.5 907.4,537.4 907.6,544.3 907.8,528.5 908,540.4 908.2,543 908.4,574.1 908.6,564.7 908.8,536.8 909,550 909.2,503.9 909.4,534 909.6,538.6 909.7,533.3 909.9,537.5 910.1,550.3 910.3,552.9 910.5,568.4 910.7,536.5 910.9,518.3 911.1,519.3 911.3,527.1 911.5,556.6 911.7,511.7 911.9,510 912.1,551.7 912.3,531.4 912.5,608.9 912.7,544.2 912.9,541.9 913.1,520.4 913.3,529.9 913.5,506.4 913.7,521.2 913.9,545.7 914.1,507.4 914.3,519.1 914.5,563.9 914.7,547.5 914.9,515 915.1,510.6 915.3,519.3 915.4,527.5 915.6,522.7 915.8,523.3 916,536.1 916.2,520.6 916.4,541.6 916.6,523 916.8,558.6 917,570 917.2,588.7 917.4,552.1 917.6,565.9 917.8,517.1 918,502.2 918.2,520 918.4,533.3 918.6,516.3 918.8,543.7 919,556.5 919.2,544.3 919.4,540.1 919.6,545.5 919.8,559.9 920,538.8 920.2,563.6 920.4,541.5 920.6,549 920.8,558.8 921,579.2 921.1,519.8 921.3,583.4 921.5,568.3 921.7,526.8 921.9,507.1 922.1,526.5 922.3,530.4 922.5,530.1 922.7,545.6 922.9,519.3 923.1,509.7 923.3,546.6 923.5,569.5 923.7,564 923.9,524.3 924.1,552.3 924.3,536.2 924.5,534.6 924.7,558.9 924.9,517 925.1,508.9 925.3,566.8 925.5,543.4 925.7,546.1 925.9,570.7 926.1,516.9 926.3,518.3 926.5,542.5 926.7,536.3 926.8,553.1 927,530.7 927.2,516.7 927.4,540.3 927.6,541.4 927.8,519.8 928,543.3 928.2,568.9 928.4,543.2 928.6,554.3 928.8,529.7 929,536.6 929.2,535.8 929.4,535.3 929.6,528.1 929.8,538.1 930,526.7 930.2,533.9 930.4,531.1 930.6,556.1 930.8,532.9 931,521.4 931.2,536.1 931.4,522.4 931.6,573.9 931.8,527.6 932,560.4 932.2,531.1 932.4,544.3 932.5,551 932.7,545.9 932.9,536.8 933.1,554 933.3,530.7 933.5,521.2 933.7,534.3 933.9,542.7 934.1,544 934.3,523 934.5,510.9 934.7,523.7 934.9,553.6 935.1,534 935.3,534.5 935.5,545.9 935.7,537.1 935.9,527.2 936.1,535.6 936.3,532.6 936.5,511.3 936.7,545.2 936.9,551.2 937.1,554.4 937.3,556.6 937.5,523.5 937.7,536.4 937.9,568.1 938,528.4 938.2,526.5 938.4,535.6 938.6,537.1 938.8,550.7 939,547.3 939.2,547.8 939.4,553.8 939.6,543 939.8,564 940,528.9 940.2,551.1 940.4,544.3 940.6,540.3 940.8,547.7 941,555.2 941.2,536.6 941.4,529.8 941.6,527.2 941.8,526 942,549.1 942.2,553.8 942.4,537.7 942.6,520.3 942.8,529.8 943,513.6 943.2,533.2 943.4,533 943.6,533.5 943.7,530.8 943.9,523.2 944.1,555.7 944.3,547.4 944.5,534.7 944.7,547.2 944.9,532.4 945.1,539.2 945.3,541.6 945.5,542.4 945.7,533.7 945.9,515.7 946.1,532.7 946.3,538.4 946.5,519.9 946.7,530.3 946.9,542.5 947.1,535.8 947.3,516.8 947.5,521 947.7,526.6 947.9,515.7 948.1,525.1 948.3,540.3 948.5,526.9 948.7,535.3 948.9,528 949.1,533.2 949.3,537.6 949.4,519.7 949.6,534.3 949.8,527.4 950,530.2 950.2,523.8 950.4,529.2 950.6,556.5 950.8,514.4 951,531.6 951.2,524.6 951.4,534.3 951.6,506.8 951.8,500.1 952,519.5 952.2,527.3 952.4,517.5 952.6,512.3 952.8,529.4 953,514.9 953.2,502.5 953.4,544.4 953.6,540.4 953.8,515.7 954,540.5 954.2,549.8 954.4,540.5 954.6,540.7 954.8,559 955,572.8 955.1,486.2 955.3,516.5 955.5,517.3 955.7,519.1 955.9,520.9 956.1,531.3 956.3,493.2 956.5,507 956.7,522.9 956.9,527.1 957.1,530.5 957.3,545.2 957.5,539 957.7,548.2 957.9,541.9 958.1,526.3 958.3,534.1 958.5,545.4 958.7,587.5 958.9,555.1 959.1,538.5 959.3,535.1 959.5,568.2 959.7,532.3 959.9,522.8 960.1,521.6 960.3,507.3 960.5,517.9 960.7,597.2 960.8,553.9 961,502.3 961.2,511.7 961.4,539.9 961.6,540.7 961.8,522.8 962,550.2 962.2,566.3 962.4,558.7 962.6,528.9 962.8,552.1 963,560.7 963.2,545.3 963.4,556.4 963.6,517.8 963.8,528.6 964,547 964.2,554.5 964.4,537.2 964.6,541.5 964.8,517.8 965,559.9 965.2,559.8 965.4,532.2 965.6,577.8 965.8,562.4 966,536.8 966.2,532 966.4,603.8 966.5,539.5 966.7,554.1 966.9,602 967.1,555.9 967.3,536.8 967.5,528.7 967.7,563.8 967.9,518.1 968.1,540.7 968.3,530.2 968.5,531.8 968.7,523.3 968.9,538.3 969.1,561.7 969.3,545.5 969.5,526.6 969.7,514.1 969.9,522.2 970.1,533.4 970.3,556.6 970.5,535 970.7,539 970.9,557.2 971.1,543 971.3,524.1 971.5,520.2 971.7,556.5 971.9,530.1 972,527.4 972.2,611.1 972.4,531.8 972.6,542.3 972.8,534.8 973,539.2 973.2,556.4 973.4,521.5 973.6,512.4 973.8,526.5 974,525.8 974.2,547 974.4,521.2 974.6,520.5 974.8,547.7 975,513.2 975.2,509.9 975.4,522.4 975.6,526.2 975.8,543.2 976,527.4 976.2,519.5 976.4,543.4 976.6,521.5 976.8,541.1 977,512 977.2,563.9 977.4,563.3 977.6,482 977.7,539.7 977.9,521.3 978.1,541.4 978.3,530.5 978.5,508.6 978.7,525.8 978.9,522.7 979.1,529.7 979.3,548.1 979.5,517.7 979.7,535.9 979.9,530 980.1,564.4 980.3,467.9 980.5,516.9 980.7,513.6 980.9,541.9 981.1,527.6 981.3,527.3 981.5,566.8 981.7,528.5 981.9,548.2 982.1,535.6 982.3,529.5 982.5,528.5 982.7,541.7 982.9,548.3 983.1,526.8 983.3,516.3 983.4,524.8 983.6,537.6 983.8,541.7 984,516.3 984.2,534.9 984.4,542.2 984.6,533.5 984.8,575.1 985,559.2 985.2,531.4 985.4,517.6 985.6,566.5 985.8,507.1 986,547.6 986.2,504.7 986.4,516.7 986.6,535 986.8,547.3 987,541.7 987.2,537.8 987.4,538.1 987.6,540.3 987.8,523.9 988,513.9 988.2,546.6 988.4,549.5 988.6,531.1 988.8,531.2 989,524.1 989.1,522.1 989.3,536.5 989.5,515.2 989.7,533.4 989.9,538.1 990.1,542.7 990.3,531.3 990.5,557.9 990.7,555.5 990.9,515.9 991.1,498.9 991.3,539.6 991.5,549.9 991.7,546.4 991.9,555.6 992.1,567.4 992.3,528.3 992.5,529.9 992.7,532.9 992.9,555.2 993.1,540.2 993.3,537.1 993.5,526.5 993.7,525.8 993.9,555.2 994.1,526.7 994.3,532.6 994.5,546.9 994.7,561.3 994.8,516.7 995,527.8 995.2,538.6 995.4,522.7 995.6,537.2 995.8,554.7 996,545.4 996.2,528.5 996.4,543.2 996.6,531.7 996.8,515.4 997,559.2 997.2,533.8 997.4,517.9 997.6,531.8 997.8,528.1 998,528.8 998.2,540.6 998.4,530.9 998.6,545 998.8,550.4 999,540.5 999.2,515.6"/>
<path class="r B" d="M1070.7,504.1 1070.9,625.3 1071.1,524 1071.3,515.8 1071.5,530 1071.7,555.5 1071.8,539.8 1072,518.2 1072.2,521.6 1072.4,565.1 1072.6,529.8 1072.8,509.4 1072.9,554.2 1073.1,583.7 1073.3,502.4 1073.5,543.4 1073.7,549.6 1073.9,544.7 1074,541.2 1074.2,557.7 1074.4,547.5 1074.6,543.7 1074.8,518 1075,535.8 1075.1,588.2 1075.3,553.4 1075.5,539.1 1075.7,547.8 1075.9,546 1076.1,541.6 1076.2,545.9 1076.4,596.7 1076.6,519.8 1076.8,540.9 1077,560.6 1077.2,516 1077.3,543.9 1077.5,525.8 1077.7,525.5 1077.9,585.2 1078.1,522 1078.3,548 1078.4,540 1078.6,555.6 1078.8,511.2 1079,616.2 1079.2,514.6 1079.4,546 1079.5,561.9 1079.7,554.1 1079.9,548.7 1080.1,563.9 1080.3,584 1080.5,540.1 1080.7,535.3 1080.8,547.3 1081,522.7 1081.2,532.7 1081.4,555.6 1081.6,571.6 1081.8,539.3 1081.9,527.1 1082.1,516.3 1082.3,548.3 1082.5,546.6 1082.7,537.7 1082.9,549.2 1083,547.6 1083.2,516.5 1083.4,512.5 1083.6,508 1083.8,535.6 1084,507.2 1084.1,518.7 1084.3,533.3 1084.5,536.5 1084.7,559 1084.9,524.2 1085.1,534.9 1085.2,530.4 1085.4,549.4 1085.6,510.8 1085.8,574.9 1086,524.6 1086.2,518.4 1086.3,541.7 1086.5,544 1086.7,547.2 1086.9,529.4 1087.1,578.4 1087.3,543.7 1087.4,531.4 1087.6,495.4 1087.8,599.2 1088,540.9 1088.2,563.8 1088.4,509.4 1088.5,566.1 1088.7,557.5 1088.9,546.7 1089.1,553.5 1089.3,553 1089.5,533 1089.6,536.2 1089.8,525.2 1090,511.2 1090.2,536.5 1090.4,557.7 1090.6,538.6 1090.7,541.9 1090.9,530.4 1091.1,547.9 1091.3,539.7 1091.5,537.2 1091.7,557.3 1091.8,533.5 1092,527.9 1092.2,518.7 1092.4,549.2 1092.6,541 1092.8,546.2 1092.9,566.3 1093.1,567.4 1093.3,569.9 1093.5,534.3 1093.7,544.7 1093.9,574.1 1094,573.4 1094.2,539.7 1094.4,529.3 1094.6,535.2 1094.8,527.1 1095,543.2 1095.2,551 1095.3,529.8 1095.5,525.3 1095.7,534.9 1095.9,539.2 1096.1,541.2 1096.3,553.6 1096.4,577.7 1096.6,587.8 1096.8,577.9 1097,532.8 1097.2,543 1097.4,542.5 1097.5,580.4 1097.7,562 1097.9,558.8 1098.1,574.1 1098.3,536.5 1098.5,552.7 1098.6,567.4 1098.8,532.5 1099,596.8 1099.2,531.7 1099.4,536.7 1099.6,548 1099.7,553.5 1099.9,541.5 1100.1,509.4 1100.3,551.7 1100.5,538.9 1100.7,536.2 1100.8,521.5 1101,561.6 1101.2,538.6 1101.4,561.1 1101.6,521.1 1101.8,541.8 1101.9,514.7 1102.1,530.8 1102.3,523.1 1102.5,533.6 1102.7,548.7 1102.9,550 1103,553.6 1103.2,540.8 1103.4,515.4 1103.6,520.8 1103.8,548.2 1104,529.4 1104.1,518.6 1104.3,525.8 1104.5,529.8 1104.7,522.3 1104.9,510.2 1105.1,522.6 1105.2,525.8 1105.4,533.2 1105.6,517.8 1105.8,513.9 1106,518.1 1106.2,528.2 1106.3,553.8 1106.5,544.5 1106.7,563 1106.9,586.4 1107.1,548.9 1107.3,523.3 1107.4,545.9 1107.6,552.3 1107.8,512.3 1108,512 1108.2,533.4 1108.4,546.5 1108.5,541.4 1108.7,565.8 1108.9,521.2 1109.1,528.2 1109.3,500.9 1109.5,550.7 1109.6,517 1109.8,532.6 1110,550.2 1110.2,559.2 1110.4,546.3 1110.6,541.4 1110.8,536.2 1110.9,519.3 1111.1,537.9 1111.3,518.5 1111.5,534 1111.7,526.6 1111.9,524.6 1112,566.4 1112.2,539.5 1112.4,558.5 1112.6,545.1 1112.8,540.2 1113,514.5 1113.1,553.2 1113.3,546.9 1113.5,514.4 1113.7,534.8 1113.9,542.5 1114.1,547.6 1114.2,521.9 1114.4,520.4 1114.6,535.5 1114.8,549.1 1115,558.4 1115.2,551.1 1115.3,572.9 1115.5,550.6 1115.7,470 1115.9,593.1 1116.1,533.3 1116.3,538.8 1116.4,559.7 1116.6,547 1116.8,512.7 1117,549.6 1117.2,508.2 1117.4,528.6 1117.5,527 1117.7,569.1 1117.9,630 1118.1,517.1 1118.3,530.3 1118.5,540 1118.6,526.6 1118.8,546.5 1119,525.8 1119.2,564.7 1119.4,536.2 1119.6,565 1119.7,539.3 1119.9,502.1 1120.1,501 1120.3,528.4 1120.5,507.4 1120.7,518.5 1120.8,533.9 1121,553.2 1121.2,535.3 1121.4,548.8 1121.6,553.4 1121.8,554.6 1121.9,534.8 1122.1,529.6 1122.3,530 1122.5,485.1 1122.7,532.7 1122.9,529.9 1123,531.7 1123.2,526.9 1123.4,526.5 1123.6,563.7 1123.8,541.7 1124,500.3 1124.1,493.7 1124.3,525.5 1124.5,553.7 1124.7,559.5 1124.9,549.9 1125.1,555.3 1125.3,541.3 1125.4,522.6 1125.6,559.9 1125.8,543.2 1126,540.3 1126.2,534.4 1126.4,532.6 1126.5,528.7 1126.7,539.2 1126.9,567.1 1127.1,540.5 1127.3,526.5 1127.5,555.8 1127.6,548.5 1127.8,544.4 1128,536.9 1128.2,556.9 1128.4,551.1 1128.6,547 1128.7,533.2 1128.9,507.6 1129.1,556.9 1129.3,534.5 1129.5,549.6 1129.7,577.2 1129.8,537.3 1130,559.2 1130.2,539.9 1130.4,553.6 1130.6,535.5 1130.8,517.9 1130.9,571.4 1131.1,558.9 1131.3,511.6 1131.5,539.6 1131.7,575.3 1131.9,544.7 1132,542 1132.2,585.8 1132.4,572.9 1132.6,567.1 1132.8,569.4 1133,583 1133.1,558.5 1133.3,571.2 1133.5,563.9 1133.7,564.2 1133.9,539.3 1134.1,567.7 1134.2,564.5 1134.4,640 1134.6,555.3 1134.8,548.3 1135,534.9 1135.2,532.8 1135.3,524.3 1135.5,544.2 1135.7,542.6 1135.9,500.8 1136.1,516.7 1136.3,518 1136.4,528.5 1136.6,527.1 1136.8,521.8 1137,534.8 1137.2,532.3 1137.4,552.1 1137.5,544.8 1137.7,570.9 1137.9,537.4 1138.1,542.2 1138.3,543.1 1138.5,548.1 1138.6,524.5 1138.8,515.6 1139,550.3 1139.2,564.8 1139.4,555.5 1139.6,544.1 1139.7,559.5 1139.9,536.7 1140.1,525.1 1140.3,547.1 1140.5,531.2 1140.7,557.6 1140.9,560 1141,542.6 1141.2,546.5 1141.4,550.5 1141.6,532.2 1141.8,512.1 1142,559.9 1142.1,564.9 1142.3,567.6 1142.5,557 1142.7,536.1 1142.9,543.8 1143.1,514.4 1143.2,506.7 1143.4,529.9 1143.6,528.9 1143.8,535.9 1144,543.1 1144.2,559.5 1144.3,538.2 1144.5,528.3 1144.7,541.8 1144.9,550.4 1145.1,548 1145.3,532.5 1145.4,535.5 1145.6,551.7 1145.8,538.6 1146,546.3 1146.2,514.1 1146.4,489.5 1146.5,498.9 1146.7,562.8 1146.9,522.7 1147.1,529 1147.3,537 1147.5,513.9 1147.6,520.6 1147.8,503.9 1148,523.8 1148.2,546.9 1148.4,534.6 1148.6,540.7 1148.7,534.2 1148.9,530.9 1149.1,542.6 1149.3,541.5 1149.5,566.1 1149.7,553.2 1149.8,506.1 1150,525.3 1150.2,529.9 1150.4,522.3 1150.6,529.5 1150.8,514.4 1150.9,562.7 1151.1,535.7 1151.3,523.8 1151.5,517.7 1151.7,523 1151.9,542.1 1152,540 1152.2,539.5 1152.4,528.5 1152.6,541.1 1152.8,564.8 1153,506.8 1153.1,501.4 1153.3,523.7 1153.5,535.2 1153.7,543.5 1153.9,503.8 1154.1,528.3 1154.2,523.6 1154.4,514.4 1154.6,571.1 1154.8,526.7 1155,559.5 1155.2,548.6 1155.4,534.2 1155.5,519.1 1155.7,461.7 1155.9,566.1 1156.1,530.2 1156.3,495.6 1156.5,537.6 1156.6,530.1 1156.8,532.1 1157,525.3 1157.2,571.4 1157.4,536.1 1157.6,534.6 1157.7,541.7 1157.9,552.8 1158.1,566.4 1158.3,556.5 1158.5,510.4 1158.7,559.5 1158.8,538.8 1159,520.5 1159.2,530.2 1159.4,536.5 1159.6,539.6 1159.8,554.1 1159.9,587.4 1160.1,523.3 1160.3,541.1 1160.5,573.5 1160.7,565.8 1160.9,556 1161,580.1 1161.2,555.9 1161.4,530.9 1161.6,536.6 1161.8,570 1162,518.7 1162.1,539.2 1162.3,560.1 1162.5,554.1 1162.7,525.7 1162.9,568.8 1163.1,557.5 1163.2,542.1 1163.4,552.1 1163.6,519.3 1163.8,498 1164,534.2 1164.2,563.6 1164.3,534.9 1164.5,542.3 1164.7,518.2 1164.9,518.9 1165.1,520.1 1165.3,540.3 1165.4,517 1165.6,547.6 1165.8,554 1166,504 1166.2,523.7 1166.4,535.7 1166.5,521.6 1166.7,536.7 1166.9,559.8 1167.1,575.4 1167.3,544.8 1167.5,541.7 1167.6,543.3 1167.8,499.3 1168,544.1 1168.2,546.7 1168.4,513.1 1168.6,521.4 1168.7,553.6 1168.9,524.4 1169.1,558.5 1169.3,532.6 1169.5,517.8 1169.7,547.8 1169.8,545.2 1170,529.6 1170.2,504.2 1170.4,519.4 1170.6,541 1170.8,533.5 1171,549.9 1171.1,538.6 1171.3,514.3 1171.5,538.1 1171.7,543.4 1171.9,518.1 1172.1,539.2 1172.2,514.4 1172.4,516.2 1172.6,525.8 1172.8,516.6 1173,539 1173.2,542.9 1173.3,497.4 1173.5,521.2 1173.7,511.9 1173.9,515.6 1174.1,543.7 1174.3,550.8 1174.4,537.3 1174.6,553.3 1174.8,556.6 1175,551.7 1175.2,532.8 1175.4,532.3 1175.5,505.6 1175.7,492.6 1175.9,558.5 1176.1,544.1 1176.3,504.6 1176.5,535.2 1176.6,538.6 1176.8,508.7 1177,517.5 1177.2,558.3 1177.4,534.2 1177.6,567.2 1177.7,537.3 1177.9,534.6 1178.1,579.5 1178.3,536.6 1178.5,500.1 1178.7,522.7 1178.8,519.7 1179,513.8 1179.2,582.7 1179.4,528.1 1179.6,539.4 1179.8,541.6 1179.9,532.1 1180.1,527.9 1180.3,540.2 1180.5,541 1180.7,547.2 1180.9,523.9 1181,556.5 1181.2,548.5 1181.4,530.1 1181.6,538.5 1181.8,517.5 1182,530.1 1182.1,552.8 1182.3,548.7 1182.5,551.6 1182.7,514.6 1182.9,560.7 1183.1,517.2 1183.2,543.3 1183.4,561.4 1183.6,559.7 1183.8,541.9 1184,540.4 1184.2,518.2 1184.3,527.1 1184.5,515.7 1184.7,513.9 1184.9,557.7 1185.1,563.8 1185.3,523.5 1185.5,546.9 1185.6,531.9 1185.8,573.5 1186,560.1 1186.2,548.1 1186.4,524.3 1186.6,544.7 1186.7,570 1186.9,542.2 1187.1,513.4 1187.3,541 1187.5,550.7 1187.7,516.4 1187.8,547.1 1188,535 1188.2,533.4 1188.4,525.6 1188.6,540.2 1188.8,487.4 1188.9,534.6 1189.1,518.5 1189.3,538 1189.5,539.2 1189.7,513.4 1189.9,516.7 1190,540.2 1190.2,541.5 1190.4,512.6 1190.6,504.8 1190.8,541.2 1191,536.6 1191.1,535.8 1191.3,544.4 1191.5,519.8 1191.7,539.2 1191.9,560.6 1192.1,564.1 1192.2,558.7 1192.4,566.9 1192.6,552 1192.8,516.5 1193,544.5 1193.2,529.7 1193.3,515.8 1193.5,535.5 1193.7,562.2 1193.9,545.2 1194.1,530.8 1194.3,565.1 1194.4,558.4 1194.6,539.7 1194.8,538.1 1195,527.1 1195.2,511.8 1195.4,521.4 1195.5,537.1 1195.7,534.5 1195.9,514.7 1196.1,528.6 1196.3,545.9 1196.5,522.1 1196.6,524.6 1196.8,502.3 1197,526.5 1197.2,522.2 1197.4,510.3 1197.6,512.5 1197.7,540.4 1197.9,526.1 1198.1,522.3 1198.3,512.6 1198.5,530.6 1198.7,524.7 1198.8,530.6 1199,540.4 1199.2,573.7 1199.4,626.2 1199.6,534.3 1199.8,526.2 1199.9,537.3 1200.1,558.6 1200.3,526.9 1200.5,524.6 1200.7,536.5 1200.9,545.4 1201.1,528.2 1201.2,537.3 1201.4,532.2 1201.6,563 1201.8,547.2 1202,565.4 1202.2,538.7 1202.3,599.9 1202.5,563.5 1202.7,577 1202.9,555.7 1203.1,541.5 1203.3,516.1 1203.4,564 1203.6,562.7 1203.8,582.9 1204,549.2 1204.2,539.4 1204.4,538.4 1204.5,546.3 1204.7,521.9 1204.9,538.4 1205.1,573.3 1205.3,556.4 1205.5,523.5 1205.6,532.3 1205.8,550 1206,543 1206.2,529.9 1206.4,526.7 1206.6,579.8 1206.7,555.5 1206.9,546 1207.1,558.5 1207.3,543.4 1207.5,512.9 1207.7,539.8 1207.8,603 1208,525.4 1208.2,557.8 1208.4,556.5 1208.6,559.8 1208.8,508.3 1208.9,517.3 1209.1,552.5 1209.3,524.7 1209.5,529.2 1209.7,548.4 1209.9,591 1210,529.1 1210.2,532.6 1210.4,551.7 1210.6,550.9 1210.8,547 1211,548.8 1211.1,583.7 1211.3,493.4 1211.5,515.5 1211.7,515 1211.9,542.3 1212.1,542.2 1212.2,533.8 1212.4,523.3 1212.6,599.8 1212.8,537.1 1213,552.4 1213.2,524.4 1213.3,545.7 1213.5,544.5 1213.7,525.1 1213.9,508.1 1214.1,517.4 1214.3,506.9 1214.4,559.4 1214.6,521.8 1214.8,544.4 1215,580.8 1215.2,547.1 1215.4,533.9 1215.6,601.1 1215.7,542.9 1215.9,547.3 1216.1,517.4 1216.3,535.2 1216.5,539.5 1216.7,534.3 1216.8,519.6 1217,554.4 1217.2,530.1 1217.4,538.1 1217.6,539.1 1217.8,539.6 1217.9,545.2 1218.1,540.5 1218.3,546.2 1218.5,531.5 1218.7,530.7 1218.9,548 1219,579.7 1219.2,513.6 1219.4,525.2 1219.6,544.2 1219.8,526.1 1220,534.9 1220.1,541.1 1220.3,530.5 1220.5,538.5 1220.7,536.7 1220.9,512 1221.1,512.2 1221.2,549.9 1221.4,530 1221.6,534.6 1221.8,532.2 1222,524.3 1222.2,536.6 1222.3,531.4 1222.5,543.6 1222.7,526.7 1222.9,518 1223.1,527.9 1223.3,533 1223.4,522 1223.6,523.1 1223.8,558.5 1224,533.3 1224.2,531.6 1224.4,536.6 1224.5,524.2 1224.7,550.4 1224.9,561.5 1225.1,567.8 1225.3,555.9 1225.5,530.2 1225.6,546.1 1225.8,529.7 1226,532.2 1226.2,547.6 1226.4,549.9 1226.6,551.4 1226.7,544.2 1226.9,562.3 1227.1,548.4 1227.3,568.6 1227.5,510.5 1227.7,542.6 1227.8,545.9 1228,552.9 1228.2,531.2 1228.4,524.7 1228.6,518 1228.8,537.8 1228.9,559.7 1229.1,548.1 1229.3,561 1229.5,538.5 1229.7,528.2 1229.9,523.6 1230,519 1230.2,514.5 1230.4,553 1230.6,530.9 1230.8,523.6 1231,543.7 1231.2,546.7 1231.3,527.4 1231.5,541.5 1231.7,534.2 1231.9,500.6 1232.1,544.6 1232.3,530.8 1232.4,519.9 1232.6,488.7 1232.8,513.1 1233,503.6 1233.2,530.1 1233.4,539.1 1233.5,515.3 1233.7,521.3 1233.9,520.7 1234.1,545.2 1234.3,531.2 1234.5,555.6 1234.6,602.6 1234.8,518.1 1235,526.4 1235.2,539.4 1235.4,536.5 1235.6,554 1235.7,554.9 1235.9,536.3 1236.1,542.3 1236.3,542.2 1236.5,513.3 1236.7,523.6 1236.8,538.1 1237,511.2 1237.2,528.6 1237.4,533.1 1237.6,528.2 1237.8,547.5 1237.9,561.4 1238.1,521.3 1238.3,532.8 1238.5,532.6 1238.7,531 1238.9,520.2 1239,541.6 1239.2,580.8 1239.4,570.4 1239.6,535.6 1239.8,531.2 1240,534.1 1240.1,517.8 1240.3,520.4 1240.5,498.4 1240.7,534.9 1240.9,554.4 1241.1,566.6 1241.2,559.4 1241.4,546.3 1241.6,543.2 1241.8,552.1 1242,525.5 1242.2,529.7 1242.3,526.1 1242.5,521 1242.7,514.6 1242.9,543 1243.1,506.8 1243.3,533.6 1243.4,569.5 1243.6,525.1 1243.8,529.6 1244,548.7 1244.2,526.8 1244.4,543 1244.5,559.4 1244.7,553.8 1244.9,571.3 1245.1,533.7 1245.3,526.1 1245.5,544.1 1245.7,513.6 1245.8,487.4 1246,501.5 1246.2,498.6 1246.4,530 1246.6,536.6 1246.8,549.8 1246.9,509.5 1247.1,520.2 1247.3,553.6 1247.5,550.7 1247.7,557.4 1247.9,515 1248,508.7 1248.2,552.8 1248.4,539.9 1248.6,559.7 1248.8,529.2 1249,559.9 1249.1,572.1 1249.3,529 1249.5,527.3 1249.7,521.2 1249.9,522.6 1250.1,558.8 1250.2,557.8 1250.4,520.6 1250.6,541.5 1250.8,522.3 1251,515.2 1251.2,521.3 1251.3,525 1251.5,543.7 1251.7,552.9 1251.9,536.5 1252.1,550.2 1252.3,549.8 1252.4,534.3 1252.6,540.6 1252.8,521.4 1253,498.4 1253.2,544.9 1253.4,539.6 1253.5,508.5 1253.7,505.5 1253.9,538.4 1254.1,550.8 1254.3,524.6 1254.5,547.5 1254.6,535.2 1254.8,531.5 1255,525.9 1255.2,558.2 1255.4,538.4 1255.6,552.6 1255.7,561.1 1255.9,526.3 1256.1,541.9 1256.3,554.1 1256.5,537.4 1256.7,587 1256.8,547.6 1257,553 1257.2,535.4 1257.4,562.1 1257.6,542.7 1257.8,562.2 1257.9,546.3 1258.1,553.4 1258.3,555.6 1258.5,549.9 1258.7,526.7 1258.9,547.5 1259,514.2 1259.2,544.1 1259.4,546.2 1259.6,545.9 1259.8,530.2 1260,575.5 1260.1,545.1 1260.3,540.8 1260.5,507.4 1260.7,523 1260.9,486 1261.1,546.2 1261.3,513.1 1261.4,546 1261.6,523.8 1261.8,511.9 1262,540.8 1262.2,551.6 1262.4,535.1 1262.5,539.1 1262.7,518.6 1262.9,542.7 1263.1,616.9 1263.3,519.2 1263.5,516.4 1263.6,533.9 1263.8,526.1 1264,555.9 1264.2,542.2 1264.4,543.7 1264.6,551.3 1264.7,526.3 1264.9,543.4 1265.1,541.1 1265.3,529.8 1265.5,533.5 1265.7,552.5 1265.8,535.6 1266,512.5 1266.2,506.3 1266.4,527.8 1266.6,510.8 1266.8,526.1 1266.9,563.4 1267.1,525.1 1267.3,519.9 1267.5,513.8 1267.7,489.3 1267.9,477.8 1268,518.9 1268.2,538 1268.4,525.6 1268.6,514.8 1268.8,537 1269,531.5 1269.1,536.8 1269.3,536.5 1269.5,559.5 1269.7,571.5 1269.9,533.6 1270.1,530.3 1270.2,536.9 1270.4,545.6 1270.6,538.8 1270.8,535.2 1271,533.6 1271.2,541.1 1271.3,537.4 1271.5,524.8 1271.7,536.1 1271.9,538.4 1272.1,546 1272.3,561.1 1272.4,547.3 1272.6,495.1 1272.8,558 1273,564.1 1273.2,548.2 1273.4,558.4 1273.5,554.8 1273.7,535.6 1273.9,506.2 1274.1,533.4 1274.3,526.8 1274.5,550.3 1274.6,525.7 1274.8,554.7 1275,534.9 1275.2,520.7 1275.4,539.9 1275.6,506.9 1275.8,520.3 1275.9,530.4 1276.1,538.7 1276.3,481.4 1276.5,515.9 1276.7,542.6 1276.9,524.4 1277,516.9 1277.2,559.9 1277.4,554.5 1277.6,549.6 1277.8,534.9 1278,545.1 1278.1,558.4 1278.3,529.2 1278.5,550 1278.7,538.9 1278.9,582.1 1279.1,553.2 1279.2,526.4 1279.4,538.9 1279.6,543.9 1279.8,520.1 1280,528.2 1280.2,547.3 1280.3,567.1 1280.5,582.8 1280.7,546 1280.9,520.6 1281.1,552.1 1281.3,591 1281.4,535.9 1281.6,518 1281.8,529.8 1282,557.7 1282.2,557.1 1282.4,551.5 1282.5,558 1282.7,543 1282.9,510.5 1283.1,563.8 1283.3,534 1283.5,525.8 1283.6,586.1 1283.8,518.7 1284,571.3 1284.2,524.2 1284.4,594.3 1284.6,557.9 1284.7,553.7 1284.9,533.4 1285.1,523.6 1285.3,528.9 1285.5,558.3 1285.7,524.8 1285.8,543 1286,547 1286.2,527.6 1286.4,534.7 1286.6,534.3 1286.8,534.6 1286.9,540.2 1287.1,544.4 1287.3,510.9 1287.5,535.9 1287.7,524.3 1287.9,523.9 1288,547.2 1288.2,538.3 1288.4,519.5 1288.6,542 1288.8,531.7 1289,557.1 1289.1,555.6 1289.3,529.9 1289.5,501.7 1289.7,521.9 1289.9,532.4 1290.1,536.6 1290.2,556.2 1290.4,557.6 1290.6,576.8 1290.8,577.3 1291,560.8 1291.2,552.4 1291.4,530.2 1291.5,553.3 1291.7,524.8 1291.9,556.8 1292.1,538.6 1292.3,540.4 1292.5,561.3 1292.6,591 1292.8,555.3 1293,515.3 1293.2,497.7 1293.4,515.2 1293.6,562.6 1293.7,544 1293.9,504.5 1294.1,532.6 1294.3,538 1294.5,518.4 1294.7,514.8 1294.8,536.8 1295,576.6 1295.2,517.7 1295.4,541.1 1295.6,553.3 1295.8,535.8 1295.9,516.9 1296.1,551.8 1296.3,551.2 1296.5,526.1 1296.7,514.1 1296.9,516.6 1297,508.6 1297.2,544.3 1297.4,537.2 1297.6,535.6 1297.8,562.3 1298,557.8 1298.1,521.5 1298.3,474.9 1298.5,552.4 1298.7,537.7 1298.9,550.5 1299.1,553.6 1299.2,554.2 1299.4,538.1 1299.6,531.1 1299.8,517.6 1300,544.7 1300.2,506.7 1300.3,597 1300.5,495.6 1300.7,506.8 1300.9,524.2 1301.1,521.6 1301.3,548.8 1301.4,556.4 1301.6,531.5 1301.8,552.9 1302,524.1 1302.2,527.1 1302.4,518.8 1302.5,532.8 1302.7,533.8 1302.9,558.2 1303.1,537.5 1303.3,550 1303.5,524 1303.6,526.8 1303.8,530 1304,531.2 1304.2,550.5 1304.4,552.7 1304.6,526 1304.7,530.4 1304.9,548.2 1305.1,541.5 1305.3,526.3 1305.5,499.1 1305.7,533.5 1305.9,543.2 1306,541.2 1306.2,548.8 1306.4,572.4 1306.6,554.8 1306.8,542 1307,524.9 1307.1,565 1307.3,555.4 1307.5,508.8 1307.7,468 1307.9,563.6 1308.1,562.8 1308.2,516.4 1308.4,527.3 1308.6,528 1308.8,519.1 1309,557.9 1309.2,549.4 1309.3,511.3 1309.5,531.8 1309.7,531.6 1309.9,525.8 1310.1,541.9 1310.3,511.8 1310.4,556.6 1310.6,538.6 1310.8,544.4 1311,519.7 1311.2,540.4 1311.4,540.5 1311.5,546.9 1311.7,547.6 1311.9,537.2 1312.1,519.8 1312.3,539 1312.5,505.4 1312.6,535.5 1312.8,504.3 1313,542 1313.2,546.7 1313.4,517.1 1313.6,522 1313.7,518 1313.9,532.7 1314.1,540.3 1314.3,516.3 1314.5,527.9 1314.7,546.2 1314.8,549.1 1315,523.7 1315.2,540.6 1315.4,530.7 1315.6,539.7 1315.8,515 1315.9,520.9 1316.1,539.9 1316.3,530 1316.5,530.7 1316.7,537.1 1316.9,542.7 1317,561.2 1317.2,546.2 1317.4,550.6 1317.6,521.6 1317.8,561.2 1318,532.2 1318.1,521.1 1318.3,536.4 1318.5,556.8 1318.7,563.6 1318.9,534 1319.1,523.8 1319.2,560.3 1319.4,567.7 1319.6,531.8 1319.8,499.1 1320,531.5 1320.2,547.1 1320.3,518.2 1320.5,539.2 1320.7,535.4 1320.9,541.2 1321.1,525.3 1321.3,506.7 1321.5,517.4 1321.6,509.4 1321.8,534.2 1322,537.4 1322.2,528.6 1322.4,520.5 1322.6,521.4 1322.7,529.6 1322.9,529.9 1323.1,532.6 1323.3,529.9 1323.5,525.3 1323.7,497.2 1323.8,543 1324,528.3 1324.2,537.5 1324.4,514.7 1324.6,508.6 1324.8,542.9 1324.9,522.7 1325.1,524.1 1325.3,526.5 1325.5,537.4 1325.7,541.6 1325.9,549.3 1326,538.3 1326.2,560.5 1326.4,547.7 1326.6,529.2 1326.8,529.7 1327,522.7 1327.1,541 1327.3,528.7 1327.5,522.7 1327.7,515 1327.9,548 1328.1,562.3 1328.2,583.8 1328.4,538.5 1328.6,535 1328.8,536.2 1329,536.9 1329.2,518.6 1329.3,573.4 1329.5,566.3 1329.7,568.8 1329.9,552.2 1330.1,540.7 1330.3,537.1 1330.4,558.4 1330.6,546.3 1330.8,549 1331,533.5 1331.2,521.7 1331.4,528.5 1331.5,516 1331.7,498.6 1331.9,521.7 1332.1,556.7 1332.3,531.2 1332.5,566.8 1332.6,560 1332.8,529.4 1333,511.6 1333.2,537 1333.4,540.2 1333.6,550.6 1333.7,554.9 1333.9,530.5 1334.1,537.3 1334.3,527.9 1334.5,572.1 1334.7,546.8 1334.8,522.4 1335,540.9 1335.2,530.5 1335.4,526.2 1335.6,554.8 1335.8,532.5 1336,549.5 1336.1,523 1336.3,542.6 1336.5,511.6 1336.7,487.7 1336.9,541 1337.1,545.1 1337.2,516.8 1337.4,500.8 1337.6,509.6 1337.8,521.7 1338,528.4 1338.2,529.6 1338.3,529.4 1338.5,527.3 1338.7,542 1338.9,522.7 1339.1,540.2 1339.3,548.8 1339.4,509.5 1339.6,509.4 1339.8,515.5 1340,521.7 1340.2,549.3 1340.4,530.8 1340.5,544.1 1340.7,547.4 1340.9,561.9 1341.1,544.8 1341.3,555.1 1341.5,604.7 1341.6,529.7 1341.8,529.1 1342,518 1342.2,543.2 1342.4,546.7 1342.6,540.2 1342.7,546.7 1342.9,546 1343.1,565 1343.3,581.3 1343.5,551 1343.7,579.5 1343.8,536.7 1344,524.8 1344.2,543.8 1344.4,530.4 1344.6,519.3 1344.8,535 1344.9,532.9 1345.1,511 1345.3,539.6 1345.5,549.2 1345.7,563.9 1345.9,578.7 1346,550 1346.2,552.9 1346.4,572.6 1346.6,543.8 1346.8,531.2 1347,534.8 1347.1,560.8 1347.3,509.2 1347.5,529 1347.7,553.1 1347.9,547.8 1348.1,541.9 1348.2,541.4 1348.4,531.7 1348.6,569.7 1348.8,537.2 1349,536.5 1349.2,559.7 1349.3,543.4 1349.5,539.6 1349.7,538.3 1349.9,517.5 1350.1,519.8 1350.3,519.3 1350.4,533.5 1350.6,534.4 1350.8,523.6 1351,549.7 1351.2,551.9 1351.4,534 1351.6,558.1 1351.7,516.4 1351.9,525.8 1352.1,550.7 1352.3,546.4 1352.5,531.7 1352.7,536.7 1352.8,530.4 1353,526.5 1353.2,539.6 1353.4,522 1353.6,530.9 1353.8,503.2 1353.9,520.3 1354.1,557 1354.3,530.1 1354.5,511.5 1354.7,516.1 1354.9,552.3 1355,577.5 1355.2,563.2 1355.4,553.6 1355.6,516.4 1355.8,520.3 1356,581.3 1356.1,536.5 1356.3,541 1356.5,584.2 1356.7,560.8 1356.9,543.5 1357.1,617.1 1357.2,542.6 1357.4,572 1357.6,640 1357.8,585 1358,546.3 1358.2,574 1358.3,579.5 1358.5,567.7 1358.7,543.5 1358.9,581.1 1359.1,522.2 1359.3,493.5 1359.4,557 1359.6,543.3 1359.8,502.4 1360,576.5 1360.2,554.2 1360.4,544.1 1360.5,554.9 1360.7,565.1 1360.9,546.5 1361.1,544.7 1361.3,501.1 1361.5,542.6 1361.6,528.9 1361.8,529.5 1362,527.2 1362.2,539.3 1362.4,546.2 1362.6,529.2 1362.7,516.8 1362.9,541.5 1363.1,540.2 1363.3,529.5 1363.5,498.9 1363.7,560 1363.8,558.9 1364,552.9 1364.2,527.2 1364.4,533.4 1364.6,557.5 1364.8,541.9 1364.9,526 1365.1,520.4 1365.3,556.6 1365.5,533.7 1365.7,532 1365.9,501.3 1366.1,505.5 1366.2,500.1 1366.4,533.8 1366.6,524.6 1366.8,543.3 1367,524.3 1367.2,535.2 1367.3,538 1367.5,550.3 1367.7,522.1 1367.9,542 1368.1,516.3 1368.3,506.3 1368.4,470.4 1368.6,516.1 1368.8,578.9 1369,543.8 1369.2,562.3 1369.4,552.5 1369.5,552.6 1369.7,530.2 1369.9,530 1370.1,539.6 1370.3,546.2 1370.5,534 1370.6,502 1370.8,525.9 1371,539.9 1371.2,523.8 1371.4,637.8 1371.6,537 1371.7,527.5 1371.9,522.9 1372.1,460 1372.3,508.2 1372.5,533.2 1372.7,510.5 1372.8,551.6 1373,518.2 1373.2,519.8 1373.4,529.3 1373.6,513.8 1373.8,558.4 1373.9,555.6 1374.1,548.7 1374.3,544.1 1374.5,539.2 1374.7,522.1 1374.9,554.7 1375,538 1375.2,536.3 1375.4,545.5 1375.6,539.3 1375.8,548.8 1376,513.6 1376.1,518.2 1376.3,531.6 1376.5,527.7 1376.7,526.4 1376.9,560.2 1377.1,522.4 1377.2,528.8 1377.4,523.2 1377.6,533 1377.8,538.1 1378,546.1 1378.2,563.4 1378.3,584.2 1378.5,557.5 1378.7,513.2 1378.9,528.4 1379.1,518.3 1379.3,547.9 1379.4,533 1379.6,533.6 1379.8,518.1 1380,531.2 1380.2,546.1 1380.4,549.9 1380.5,521 1380.7,529 1380.9,537.3 1381.1,534 1381.3,535.1 1381.5,548 1381.7,531.2 1381.8,538.7 1382,526.9 1382.2,537.2 1382.4,476.7 1382.6,563 1382.8,560.4 1382.9,583.8 1383.1,514.5 1383.3,544.6 1383.5,543.5 1383.7,544.4 1383.9,563.1 1384,549.3 1384.2,534.4 1384.4,514.1 1384.6,533.3 1384.8,545.2 1385,574.7 1385.1,537 1385.3,539.5 1385.5,550.3 1385.7,546.7 1385.9,544.9 1386.1,558.3 1386.2,527.8 1386.4,553.3 1386.6,520.4 1386.8,529.4 1387,564.4 1387.2,538.4 1387.3,560.6 1387.5,546.9 1387.7,545.8 1387.9,554.7 1388.1,559.8 1388.3,543.8 1388.4,542.8 1388.6,505.6 1388.8,525.7 1389,551.5 1389.2,544.9 1389.4,541 1389.5,521.5 1389.7,525.3 1389.9,566.6 1390.1,561.3 1390.3,519.8 1390.5,576.8 1390.6,592.5 1390.8,534.3 1391,564.9 1391.2,562.5 1391.4,535.4 1391.6,543 1391.7,562.5 1391.9,531.8 1392.1,525.6 1392.3,566.3 1392.5,580.1 1392.7,612.5 1392.8,550.6 1393,538.6 1393.2,539.1 1393.4,553.5 1393.6,577.4 1393.8,526.6 1393.9,535.6 1394.1,564.7 1394.3,606.8 1394.5,571.6 1394.7,541.7 1394.9,549.1 1395,513.8 1395.2,542.1 1395.4,523.4 1395.6,554.1 1395.8,573.7 1396,547.2 1396.2,569.2 1396.3,534.5 1396.5,520.2 1396.7,534.2 1396.9,519.9 1397.1,518.9 1397.3,530.3 1397.4,528 1397.6,538.6 1397.8,521.2 1398,534.1 1398.2,515.9 1398.4,525.7 1398.5,534.3 1398.7,557.3 1398.9,551 1399.1,560.5 1399.3,523.9 1399.5,531.3 1399.6,530.6 1399.8,530 1400,514.5 1400.2,550.5 1400.4,560.1 1400.6,544.9 1400.7,554.6 1400.9,552.4 1401.1,519.1 1401.3,520.5 1401.5,581.7 1401.7,516.2 1401.8,533.9 1402,527 1402.2,503.2 1402.4,524.1 1402.6,539.5 1402.8,529.8 1402.9,539.1 1403.1,518.9 1403.3,524 1403.5,512.4 1403.7,539.6 1403.9,522.9 1404,494.9 1404.2,531.6 1404.4,545.3 1404.6,544.2 1404.8,553.7 1405,469.1 1405.1,552 1405.3,571.5 1405.5,563.1 1405.7,552.6 1405.9,518.5 1406.1,520.4 1406.2,568.4 1406.4,552.2 1406.6,537 1406.8,516.6 1407,522.2 1407.2,509.1 1407.3,526.9 1407.5,496.5 1407.7,507.8 1407.9,521.9 1408.1,544.2 1408.3,576.4 1408.4,534.3 1408.6,549.3 1408.8,505.2 1409,515.5 1409.2,541.2 1409.4,522.4 1409.5,544.6 1409.7,529.1"/>
<path d="M100.0,537.5H1495.0" stroke="#000" stroke-opacity=".5" stroke-width="1" fill="none"/>
</g>
<rect class="s" x="100.0" y="43.0" width="1395.0" height="422.0"/>
<rect class="s" x="100.0" y="479.0" width="1395.0" height="141.0"/>
<path class="k" d="M213,465.0v7M213,620.0v7M383,465.0v7M383,620.0v7M553,465.0v7M553,620.0v7M723,465.0v7M723,620.0v7M893,465.0v7M893,620.0v7M1063,465.0v7M1063,620.0v7M1233,465.0v7M1233,620.0v7M1404,465.0v7M1404,620.0v7M100.0,43h-7M100.0,135h-7M100.0,227h-7M100.0,319h-7M100.0,411h-7M100.0,537h-7M100.0,606h-7"/>
<text class="t" transform="translate(212.7,650.1) scale(0.966,1.08)" text-anchor="middle">3750</text>
<text class="t" transform="translate(382.7,650.1) scale(0.966,1.08)" text-anchor="middle">3760</text>
<text class="t" transform="translate(552.7,650.1) scale(0.966,1.08)" text-anchor="middle">3770</text>
<text class="t" transform="translate(722.7,650.1) scale(0.966,1.08)" text-anchor="middle">3780</text>
<text class="t" transform="translate(892.7,650.1) scale(0.966,1.08)" text-anchor="middle">3790</text>
<text class="t" transform="translate(1062.7,650.1) scale(0.966,1.08)" text-anchor="middle">3800</text>
<text class="t" transform="translate(1232.7,650.1) scale(0.966,1.08)" text-anchor="middle">3810</text>
<text class="t" transform="translate(1403.7,650.1) scale(0.966,1.08)" text-anchor="middle">3820</text>
<text class="t" transform="translate(85.0,50.9) scale(0.966,1.08)" text-anchor="end">3400</text>
<text class="t" transform="translate(85.0,142.9) scale(0.966,1.08)" text-anchor="end">3200</text>
<text class="t" transform="translate(85.0,234.9) scale(0.966,1.08)" text-anchor="end">3000</text>
<text class="t" transform="translate(85.0,326.9) scale(0.966,1.08)" text-anchor="end">2800</text>
<text class="t" transform="translate(85.0,418.9) scale(0.966,1.08)" text-anchor="end">2600</text>
<text class="t" transform="translate(85.0,544.9) scale(0.966,1.08)" text-anchor="end">1.00</text>
<text class="t" transform="translate(85.0,613.9) scale(0.966,1.08)" text-anchor="end">0.95</text>
<text class="l" x="797.6" y="30.6" text-anchor="middle" xml:space="preserve" style="white-space:pre">V_V351_Ori_M4368_2021-12-31_02211  order 07</text>
<text class="l" x="797.8" y="678.0" text-anchor="middle">wavelength [nm]</text>
<text class="l" transform="translate(29.9,255.4) rotate(-90)" text-anchor="middle">flux [ADU]</text>
<text class="l" transform="translate(37.0,553.3) rotate(-90)" text-anchor="middle">residual</text>
<rect x="1312.9" y="50.9" width="174.2" height="84.1" rx="4.2" fill="#fff" fill-opacity=".8" stroke="#ccc" stroke-opacity=".8" stroke-width="2.08"/>
<path d="M1318,66H1354" stroke="#1f77b4" stroke-opacity="1" stroke-width="2" fill="none"/>
<text class="t" transform="translate(1365.8,72.0) scale(1,1.08)">A</text>
<path d="M1318,92H1354" stroke="#ff7f0e" stroke-opacity="1" stroke-width="2" fill="none"/>
<text class="t" transform="translate(1366.6,98.9) scale(1,1.08)">B</text>
<path d="M1318,118H1354" stroke="#000" stroke-opacity="0.6" stroke-width="2" fill="none"/>
<text class="t" transform="translate(1365.8,125.0) scale(1,1.08)">telluric model</text>
</svg></body></html>
